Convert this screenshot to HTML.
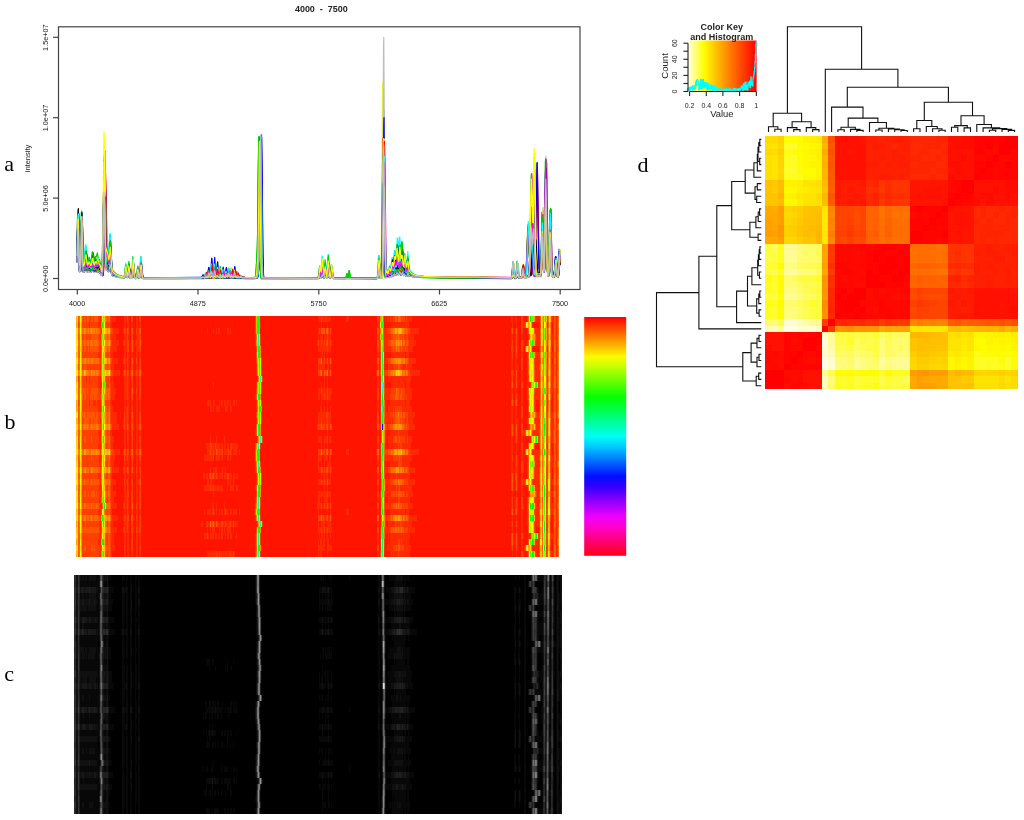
<!DOCTYPE html>
<html><head><meta charset="utf-8"><title>figure</title>
<style>
html,body{margin:0;padding:0;background:#fff;}
svg{display:block;will-change:transform;}
text{font-family:"Liberation Sans", sans-serif;fill:#222;}
.s{font-family:"Liberation Serif", serif;fill:#000;}
</style></head><body>
<svg width="1024" height="820" viewBox="0 0 1024 820">
<defs>
<linearGradient id="rb" x1="0" y1="0" x2="0" y2="1"><stop offset="0.0000" stop-color="#ff0000"/><stop offset="0.0417" stop-color="#ff3f00"/><stop offset="0.0833" stop-color="#ff7e00"/><stop offset="0.1250" stop-color="#ffbc00"/><stop offset="0.1667" stop-color="#fffb00"/><stop offset="0.2083" stop-color="#c4ff00"/><stop offset="0.2500" stop-color="#85ff00"/><stop offset="0.2917" stop-color="#46ff00"/><stop offset="0.3333" stop-color="#08ff00"/><stop offset="0.3750" stop-color="#00ff37"/><stop offset="0.4167" stop-color="#00ff76"/><stop offset="0.4583" stop-color="#00ffb5"/><stop offset="0.5000" stop-color="#00fff4"/><stop offset="0.5417" stop-color="#00ccff"/><stop offset="0.5833" stop-color="#008dff"/><stop offset="0.6250" stop-color="#004eff"/><stop offset="0.6667" stop-color="#000fff"/><stop offset="0.7083" stop-color="#2f00ff"/><stop offset="0.7500" stop-color="#6e00ff"/><stop offset="0.7917" stop-color="#ad00ff"/><stop offset="0.8333" stop-color="#ec00ff"/><stop offset="0.8750" stop-color="#ff00d3"/><stop offset="0.9167" stop-color="#ff0095"/><stop offset="0.9583" stop-color="#ff0056"/><stop offset="1.0000" stop-color="#ff0017"/></linearGradient>
<linearGradient id="key" x1="0" y1="0" x2="1" y2="0"><stop offset="0" stop-color="#ffffe8"/><stop offset="0.23" stop-color="#ffff00"/><stop offset="0.6" stop-color="#ff8000"/><stop offset="1" stop-color="#ff0000"/></linearGradient>
<clipPath id="ca"><rect x="58.5" y="26.8" width="521.5" height="262.7"/></clipPath>
</defs>
<rect width="1024" height="820" fill="#fff"/>
<g id="pa" fill="none" stroke-width="1.15" stroke-linejoin="round" clip-path="url(#ca)">
<polyline stroke="#000000" points="77.4,254.8 78.1,210 78.4,208.6 79.1,252.9 79.4,261.6 79.9,266.6 80.1,266.9 80.4,266.8 80.6,265.9 80.9,263.2 81.9,224.1 82.1,225.2 82.9,258.6 83.1,264.3 83.6,267.2 84.1,267 84.6,265.8 85.6,259.7 86.1,258.3 87.4,264.9 87.9,266 89.4,261.7 89.9,262.7 90.6,265.6 90.9,266 91.1,265.8 92.6,258.3 93.1,259.9 93.9,264.9 94.4,266.1 95.9,261 97.1,263.3 98.1,260.1 98.4,260 99.6,266 100.9,268.4 101.9,272.5 102.1,273 102.4,272.7 103.1,257.1 104.4,180.9 104.6,181.7 104.9,192.1 105.9,255.3 106.1,246.2 106.6,252.4 107.6,255.3 108.6,260.5 108.9,261.3 109.1,261.2 110.4,246.1 110.6,245.8 112.1,269.4 112.9,272 114.9,273.6 119.4,275.7 122.6,276.5 124.4,276.7 124.9,275.8 126.1,269 127.1,275.4 127.6,276.3 129.1,266.3 130.4,276.4 130.9,277.3 131.6,277.2 132.4,273.5 133.4,261.3 134.6,275.7 135.1,277.4 135.6,277.6 136.4,277.4 136.9,276.2 138.1,266.8 139.1,275.3 139.4,276.5 139.6,276.9 139.9,276.5 141.1,262.4 141.4,262.2 142.4,274.8 142.9,277.3 143.4,277.7 204.4,278.1 206.4,277.4 207.4,277.9 208.6,277.5 210.1,278.1 211.6,277.3 213.1,278.1 214.6,277.3 216.1,278 217.6,276.5 218.6,277.8 219.4,278.1 220.6,277.8 221.9,278.1 223.1,277.6 224.9,278.2 226.4,277.5 227.6,278.1 228.9,277.5 230.4,278.1 231.9,276.9 232.9,278 233.6,278.3 235.1,277.7 236.6,278.3 238.1,277.9 239.6,278.3 255.6,278.2 256.4,276.3 256.9,271.8 258.1,249.4 258.6,225.8 259.4,153.2 259.6,137.5 259.9,137.2 261.1,256.5 261.6,274.1 261.9,276.9 262.1,277.9 262.6,278.4 317.6,278.1 318.1,277.8 318.6,276.7 319.9,269.6 320.9,275.4 321.1,276.3 321.4,276.3 322.6,268.4 322.9,268.7 324.1,276.6 324.6,275.3 325.6,269.8 326.9,276.1 327.4,274.2 328.1,263.8 328.4,261.4 328.6,261.3 329.6,274 330.1,276.8 330.4,276.7 330.6,275.7 331.4,269.2 331.6,267.5 331.9,267.3 333.1,276.7 333.9,277.9 377.1,277.7 377.6,277.4 378.1,275.2 379.1,262.2 379.4,262 380.4,274.7 380.6,276.4 380.9,277.1 381.1,277.1 381.6,274.2 382.1,260.5 383.4,184.8 384.6,260.1 385.1,273.6 385.6,276.1 387.1,273.1 388.1,274.2 388.4,274 389.6,270.3 390.6,272.3 390.9,272.5 391.1,272.1 392.6,261.3 392.9,261.4 393.6,264.2 394.6,259.7 394.9,259.6 396.1,266.6 396.6,264 397.6,251.7 397.9,251.5 398.9,258.2 399.9,250.5 401.1,261.7 401.4,261.3 402.1,253 402.4,251.6 402.6,252.4 403.9,267.2 404.1,266.8 405.1,258.5 405.4,258.6 406.6,270.2 406.9,270.4 407.9,267.2 408.1,263.2 409.1,270.1 409.9,272.2 411.1,273.4 412.9,274.5 417.1,275.9 424.1,276.6 448.4,277.6 511.4,278.2 511.9,277.9 512.4,276 513.4,266.4 513.6,266.6 514.6,276.3 515.1,277.9 515.6,278.1 516.1,277.7 516.6,275.5 517.6,266.1 518.9,276.3 519.4,277.7 520.4,277.8 521.4,277.6 521.9,276.8 523.1,265 523.4,264.8 524.4,274.8 524.9,276.7 525.6,276.9 528.4,276.2 528.9,275.8 529.4,274 529.9,267 531.1,203.6 531.6,190.9 532.9,229 533.9,177.5 534.1,167.4 534.4,166.7 535.6,247.9 536.1,266.4 536.6,272.3 536.9,273.1 537.4,273.5 540.6,273 541.1,272.4 541.4,271.2 541.9,262.6 542.9,220.9 543.1,221 543.4,229 544.1,262.6 544.6,268.8 545.1,259.4 546.4,195.4 547.6,258.4 548.4,272.7 548.6,273.4 548.9,273.3 549.1,272.2 549.6,263 550.6,210.9 550.9,209.1 551.9,260.4 552.6,274.2 553.1,275.2 553.9,275.3 554.4,274.8 554.6,273.8 555.9,260.7 556.1,260.2 557.4,273.6 557.6,275 557.9,275.7 558.1,275.6 558.6,271.9 559.6,254.7 560.1,260.2"/>
<polyline stroke="#ff0000" points="77.5,255.9 78.3,212.3 78.5,211 79.3,254 79.5,262.5 80,267.4 80.3,267.6 80.5,267.5 80.8,266.6 81,263.7 82,222.2 82.3,223.4 83,258.8 83.3,264.8 83.8,267.9 84.3,267.9 84.8,267.2 86.3,261.2 86.8,262.2 88,267.5 88.5,267.4 89.8,264.8 90.8,266.5 91,266.8 91.3,266.6 92.8,259.7 93,259.9 94.3,265.7 94.5,265.7 95.5,263.4 96.8,266 97,266 98,262.5 98.3,262.1 98.5,262.4 99.5,265.7 100.3,266.1 100.8,267.2 102.3,274.2 102.8,275.3 103,275.5 103.3,275 103.8,269.8 104,262.8 105.5,171.9 106.3,195.8 107,243.6 107.5,255.2 108.5,262.1 109.3,264.1 110.5,254.6 110.8,254.5 112.3,270.8 112.8,272.4 113.8,273.4 116,274.7 118.8,275.8 122.5,276.7 124.5,276.9 125,275.9 126.3,268.1 127.3,275.3 127.8,276.5 129.3,267.5 130.5,276.7 131,277.5 131.5,277.6 132,277.1 132.3,276 133.5,263.1 134.8,276.1 135.3,277.6 135.8,277.8 136.5,277.7 137,276.6 138.3,268.7 139.3,275.9 139.5,277 139.8,277.3 140,276.9 141.3,264 141.5,263.8 142.5,275.3 143,277.6 143.5,278 191.3,278.3 201.5,278.2 203.3,277.8 204.5,278.1 205.3,277.8 206.3,276.7 207.5,277.7 208.8,275.7 210,277.7 210.5,278 211,277.8 212,276.4 213.3,277.4 213.8,276.3 214.5,273 214.8,272.9 215.8,277 216.3,277.7 216.8,277.3 217.8,275.1 218.8,277.1 219.3,277.6 220.3,277 221.5,277.8 222,277.7 223.5,275.2 224.8,277.5 225.3,276.8 226.3,273.9 227.3,277 227.8,277.7 228.3,277.4 229.3,275.2 229.5,275.2 230.5,277.4 231,277.7 232.3,275.9 232.5,275.8 233.5,277.5 234,277.7 235.3,276.1 235.5,276.1 236.5,277.1 237.5,275.6 237.8,275.6 238.8,277.5 239.3,277.8 241,276.8 242.5,277.8 254.5,277.9 255.8,277.7 256.5,275.7 257,271 258.3,248.2 258.8,225.3 259.5,154.9 259.8,139.6 260,139.4 261.3,256.3 261.8,273.6 262,276.3 262.3,277.3 262.8,277.8 317.8,277.6 318.3,277.4 318.8,276.4 320,270.6 321,275.7 321.5,276.7 322,275 323,268 323.3,268.4 324,274 324.3,275.2 324.5,275.2 325.8,266.7 327.3,276.2 327.8,274.2 328.8,264.7 329,265.1 330.3,276.2 330.5,276.3 330.8,275.6 331.5,269.8 331.8,268.4 332,268.2 333.3,276.6 334,277.7 377.3,278 377.8,277.7 378.3,275.8 379.3,264.6 379.5,264.3 380.5,275.4 381,277.6 381.3,277.9 381.8,277.8 382.3,276.2 382.8,266.9 384,175.7 384.3,171.4 385.5,260.3 386,273.8 386.5,275.8 387.5,274.4 388.5,274.9 389.8,271.1 390,271 390.3,271.4 391,273.5 391.3,273.6 391.5,273.3 392.8,268.5 393,268.5 393.8,269.9 394,269.6 395.3,263.4 396.3,267.4 396.5,267.4 397.8,260.9 398.8,265.6 399,265.7 399.8,261.7 400,260.9 400.3,261.4 401,266.7 401.5,268.3 402.5,264 402.8,263.9 404,270.7 404.3,270.8 404.5,270.1 405.3,266.5 405.5,266.3 406.8,271.8 407.8,269.1 408,269.3 408.3,266.1 409.3,271.9 410,273.4 411.8,274.7 413.8,275.6 418.8,276.6 448.5,277.6 475.8,277.4 511.5,277.6 512,277.4 512.5,276.1 513.5,269.4 513.8,269.6 514.8,276.2 515.3,277.3 515.8,277.5 516.3,277.2 516.8,275.7 517.8,269.2 519,276.2 519.5,277.1 520.8,277.2 521.5,277 522,276.2 523.3,264.8 523.5,264.5 524.5,274.3 525,276.2 525.8,276.4 528.5,275.7 529,275.3 529.5,273.2 530,264.8 531.5,176.9 531.8,173.6 532,179.4 533,222 534.3,157.5 534.5,156.7 535.8,245.3 536.3,265.4 536.8,271.8 537.3,273.1 538,273.2 540.5,272.7 541,271.2 541.5,264 542.5,233.3 542.8,234.5 543.8,265.7 544,268.7 544.3,268.5 544.8,256.3 546,188.3 547.3,258.5 548,272.5 548.3,273.1 548.5,273 548.8,272 549.3,263.6 550.3,221.5 550.5,221.4 550.8,229.2 551.5,264 551.8,269.9 552.3,274.1 552.8,274.8 553.5,275.1 554,275.1 554.5,274.7 555,272.7 556,264.1 556.3,263.7 557.5,274 558,275.6 558.3,275.3 558.8,271 559.8,251.7 560.3,257.8"/>
<polyline stroke="#00cd00" points="77.1,259.6 77.8,223.3 78.1,222.2 79.1,265.2 79.6,269.2 79.8,269.4 80.1,269.3 80.3,268.3 80.8,257.6 81.6,219.5 81.8,220.7 82.6,259.7 82.8,266.2 83.3,269.7 83.8,269.7 84.3,269.2 85.8,264.3 86.3,265.1 87.6,269.2 88.1,268.9 88.8,267.3 89.3,267.1 90.8,269.8 91.3,269.6 92.8,266.1 94.3,268.8 95.3,267.3 95.6,267.2 96.6,267.7 97.6,266.2 97.8,266.3 99.1,269.4 100.1,269.9 100.3,270.3 101.6,274.4 101.8,274.7 102.1,274.1 102.8,259.2 104.1,188.2 104.3,189.1 104.6,198.9 105.6,259.1 105.8,254.3 106.3,260.4 108.3,266.5 108.8,267.2 110.1,258.9 110.3,258.8 111.8,272.6 112.3,274 113.3,274.8 118.3,276.8 124.1,277.8 124.6,277.2 125.8,272.1 126.8,276.8 127.1,277.4 127.3,277.4 128.8,267.7 130.1,277.4 130.6,278.3 131.3,278.3 132.1,275.1 133.1,264.9 134.6,278 135.3,278.6 136.3,278.2 137.8,270.7 138.8,276.9 139.3,278.1 139.8,276.3 140.8,264.5 141.1,264.2 142.1,276 142.6,278.3 143.1,278.7 203.8,278.7 205.6,278.2 207.1,278.5 208.3,277.2 209.6,278.5 210.1,278.6 210.8,278.2 211.8,276.7 213.1,278.2 214.3,276.7 215.6,278.3 217.1,277.8 218.6,278.5 220.1,277.6 221.8,278.5 223.1,278.2 224.6,278.5 225.8,277.9 227.1,278.4 228.8,278 230.3,278.4 231.8,277.6 233.3,278.4 234.8,277.4 236.3,278.4 237.6,278 239.1,278.4 240.6,278.1 242.1,278.4 245.3,278.4 254.1,278.4 255.1,278.1 255.8,276.4 256.3,273.2 257.3,259.3 257.8,233.3 258.6,154.6 258.8,137.5 259.1,136.4 260.3,256.1 260.8,274 261.1,276.7 261.3,277.8 261.8,278.3 317.8,278.3 318.3,278.1 318.8,277.4 319.8,273.8 320.1,273.6 321.1,276.2 321.3,275.7 322.1,270.4 322.3,269.1 322.6,269.1 323.6,276.1 324.1,277.4 325.3,273 325.6,272.9 326.6,276.8 326.8,277.4 327.1,277.4 328.3,271.6 328.6,271.5 329.8,277 330.3,275.9 331.3,271.2 332.6,277.4 333.1,278.3 345.6,278.5 346.1,277.9 347.1,273.7 347.8,276.9 348.1,277.4 348.3,277 349.3,270.6 350.3,277.7 350.8,278.5 376.8,278.7 377.3,278.5 377.8,276.9 378.8,267.2 379.1,267 380.1,276.5 380.6,277.8 381.1,273.8 381.6,255.3 382.3,189.4 382.8,167.8 384.1,260.6 384.6,275 384.8,277.1 385.3,278 387.1,275.2 388.3,276.4 389.6,273.3 389.8,273.1 390.6,273.6 390.8,273.5 391.8,271.3 392.8,273.4 393.1,273.6 393.3,273.4 394.6,269.4 395.6,271.1 395.8,271.1 397.1,264.3 397.3,264.2 398.1,268.5 398.6,269.7 399.8,261.1 400.1,261.3 401.1,267.6 401.3,267.7 401.8,266.5 402.1,266.4 403.6,273.2 404.8,270 406.1,273.3 407.1,271.3 407.6,272.2 407.8,269.8 408.6,273.3 409.6,274.8 412.8,276.3 417.1,277.2 422.8,277.6 447.3,278.1 475.6,277.8 511.1,278.1 511.6,278 512.1,277.1 513.1,272.5 513.3,272.6 514.3,277.2 514.8,277.9 515.3,278 515.8,277.8 516.3,276.8 517.3,272.3 518.6,277.1 519.1,277.7 520.1,277.7 521.1,277.5 521.6,276.8 522.8,266.5 523.1,266.3 524.1,275.1 524.6,276.7 525.3,276.9 528.3,276 528.8,275.1 529.1,273.6 529.6,265.2 530.8,189.1 531.3,174 532.6,228.5 532.8,227.4 533.1,219 533.8,185.6 534.1,185.1 535.3,252.5 536.1,271 536.3,272.6 536.8,273.6 540.6,273.1 541.1,272 541.6,265.5 542.8,223.5 543.8,261.1 544.3,268.4 544.6,265.8 546.1,165.9 546.3,167.4 546.6,182.1 547.3,247.8 548.1,271.9 548.3,273.3 548.6,273.7 548.8,273 549.3,265.7 550.6,208.4 551.8,266.5 552.3,274.1 552.6,275.1 553.3,275.7 553.8,275.6 554.3,274.4 555.6,263 555.8,262.6 557.1,274.3 557.3,275.6 557.6,276.2 557.8,276.1 558.3,273.1 559.3,259.1 559.8,263.6"/>
<polyline stroke="#0000ff" points="77.3,260.3 78.1,217.4 78.3,216 79.1,258.3 79.3,266.6 79.8,271.3 80.1,271.6 80.3,271.5 80.6,270.6 80.8,268 81.8,230.1 82.1,231.1 82.8,263.5 83.1,268.9 83.6,271.8 84.1,271.9 84.8,271.7 86.3,270.3 88.1,271.7 89.6,270.6 90.8,271.7 91.3,271.7 92.8,270.2 94.3,271.6 95.6,270.8 96.8,271.3 98.1,270.6 100.3,272.6 102.1,275.7 102.3,275.9 102.6,275.7 103.1,271.7 103.6,254.9 104.6,167.1 104.8,152.7 105.1,151.1 106.3,243.9 106.8,263.1 107.3,268.6 107.8,270.1 108.8,271.5 109.3,270.4 110.1,265.3 110.6,263.8 111.8,273 112.6,275.1 114.1,275.7 117.3,276.6 124.3,277.3 124.8,276.7 126.1,272.1 127.1,276.3 127.6,276.9 129.1,268.8 130.3,276.8 130.8,277.6 131.3,277.6 131.8,277.2 132.1,276.5 133.3,267.5 134.8,277.3 135.6,277.8 136.6,277.5 138.1,272.8 139.1,276.7 139.6,277.4 140.1,276.1 141.1,267.4 141.3,267.2 142.3,275.8 142.8,277.6 143.3,277.8 199.3,278.3 203.1,278 204.3,278.3 206.1,277.2 207.3,278 208.6,276.2 209.8,278 210.3,278.2 211.8,276.7 213.1,277.9 214.6,275.1 215.6,277.7 216.3,278.2 217.8,276.6 219.1,277.8 220.3,276.4 221.3,277.9 221.8,278.2 223.1,277.9 224.8,278.2 226.3,276.9 227.3,278 228.8,277.5 230.1,278.2 231.6,277.4 233.3,278.3 234.6,277.8 236.3,278.3 237.6,277.8 239.1,278.3 240.3,277.9 242.1,278.4 256.6,278.2 257.3,276.3 257.8,271.9 259.1,249.9 259.6,226.5 260.3,154.4 260.6,138.8 260.8,138.4 262.1,256.6 262.6,274.1 262.8,276.8 263.3,278.2 317.8,277.9 318.8,277.6 319.8,276.4 321.3,277.5 322.8,274.3 324.3,277.4 324.8,277 325.8,274.8 326.8,276.8 327.3,277.2 328.6,274.6 328.8,274.6 330.1,277.3 331.6,276 332.6,277.4 333.6,277.8 377.1,277.9 377.6,277.7 378.1,276.7 379.1,270.5 379.3,270.4 380.3,276.5 380.8,277.7 381.3,277.7 381.8,275.7 382.1,271.8 382.6,247 383.8,110.6 385.1,246.9 385.6,271.6 385.8,275.4 386.3,277.1 387.3,276.8 388.3,277 389.6,276.2 391.1,276.6 392.3,275.2 393.6,275.2 394.6,273.8 395.8,275 397.3,272.1 398.6,274.5 398.8,274.5 399.8,272.2 400.1,272.2 401.3,274.9 401.8,274.3 402.8,271.9 403.8,274.1 405.1,274.4 406.3,276.4 407.3,275.8 407.8,275.9 408.1,273.8 409.1,275.2 410.8,276 414.6,276.7 419.3,277.1 450.8,277.8 511.1,278.1 511.8,277.7 512.3,275.4 513.3,264.1 513.6,264.3 514.6,275.8 515.1,277.7 515.6,277.9 516.1,277.4 516.6,274.9 517.6,263.7 518.8,275.8 519.3,277.5 521.1,277.5 521.8,276.7 523.1,266.5 523.3,266.2 524.3,274.9 524.8,276.5 525.3,276.7 526.6,276.4 531.3,274.8 531.8,273.8 532.1,272.3 532.6,264.1 534.1,188 534.3,187.1 534.6,194.1 535.3,234.8 535.6,242.4 535.8,242.6 537.3,162.7 538.8,253.7 539.3,267.8 539.8,271.8 540.1,272.3 540.6,272.4 541.1,271.5 541.6,265.4 542.8,222 543.8,259.3 544.1,265.8 544.3,268.5 544.6,267.6 545.1,254.3 546.1,201.2 546.3,201.1 546.6,210 547.6,263.6 547.8,269 548.3,272.8 548.6,273.1 548.8,272.6 549.3,267.4 550.6,221.4 551.8,266.9 552.3,273.5 552.6,274.4 553.1,274.9 553.8,275 554.3,274.4 554.8,271.4 555.8,258.7 556.1,258.1 557.3,273 557.6,274.6 557.8,275.4 558.1,275.2 558.6,271 559.6,251.5 560.1,257.7"/>
<polyline stroke="#00ffff" points="77.7,259 78.4,221.9 78.7,220.8 79.4,257.4 79.7,264.7 80.2,268.8 80.4,269 80.7,268.9 80.9,268 81.2,265 82.2,223.3 82.4,224.5 83.2,260.1 83.4,266.1 83.9,269.2 84.4,269.2 84.9,268.2 86.2,264 86.7,264.6 87.9,268.7 88.4,268.6 89.4,267.2 91.2,269.6 91.9,269.2 92.9,266.7 93.4,266.2 94.4,267.5 94.7,267.5 95.7,266.2 95.9,266.3 96.7,267.9 97.2,268.3 98.4,266.4 99.7,269.2 100.9,270.1 102.2,273.7 102.4,274 102.7,273.4 103.4,256.8 104.7,178.2 104.9,179.1 105.2,190.1 106.2,256.9 106.4,252.9 106.9,259.8 109.2,266.5 109.4,266.5 109.7,265.8 110.7,257.6 110.9,257.4 112.4,272.1 112.9,273.5 113.7,274.1 115.9,275.3 118.7,276.2 122.4,277.1 124.7,277.2 125.2,276.4 126.4,270.2 127.4,276 127.9,277 129.4,269.8 130.7,277.1 131.2,277.8 131.7,277.8 132.2,277.3 132.4,276.3 133.7,263.4 134.9,276.4 135.4,277.8 135.9,278 136.7,277.9 137.2,276.9 138.4,269.4 139.4,276.2 139.7,277.2 139.9,277.5 140.2,277.1 141.4,264.7 141.7,264.5 142.7,275.6 143.2,277.8 143.7,278.2 201.9,278.5 204.9,278.4 206.2,277.7 207.9,278.4 209.4,277.4 210.7,278.3 212.2,277.5 213.4,278.3 214.9,277.8 216.4,278.4 218.2,277.6 219.7,278.3 221.2,278.1 222.7,278.3 223.9,277.6 224.9,278.1 226.2,277.3 227.9,278.3 228.4,278.2 229.7,277.1 231.2,278.2 232.4,277.2 234.2,278.2 235.4,277.7 236.9,278.2 238.4,277.8 239.7,278.1 240.9,277.9 242.4,278.2 256.9,278 257.7,276.1 258.2,271.7 259.4,249.6 259.9,226.1 260.7,153.7 260.9,138.1 261.2,137.8 262.4,256.3 262.9,273.9 263.2,276.6 263.7,278 318.2,277.9 318.9,277.4 320.2,274 320.4,274 321.4,276.8 321.7,276.8 323.2,269.4 324.4,276.6 324.7,276.9 324.9,276.6 325.9,272.2 326.2,271.9 327.2,276.2 327.4,276.8 327.7,276.8 329.2,267.3 330.7,276.7 331.2,275.8 332.2,270.9 333.4,276.8 334.2,277.9 377.4,278.2 377.9,278 378.4,276.4 379.4,266.7 379.7,266.5 380.7,276 381.2,277.9 381.7,278 382.2,276.2 382.4,272.7 382.9,250.5 384.2,128.5 385.4,250.2 385.9,272.1 386.4,276.3 387.7,274.5 388.4,275.3 388.9,275.3 389.9,273.1 390.2,273.1 390.9,274.5 391.4,274.6 392.7,269.9 392.9,269.6 393.9,270.9 394.9,268 395.2,268 395.9,270.7 396.4,271.5 396.9,269.9 397.7,264 397.9,262.8 398.2,262.7 398.9,265.9 399.2,266.1 399.9,263.3 400.2,263.2 401.4,270.6 401.7,270.8 401.9,269.9 402.7,264.1 402.9,262.9 403.2,262.9 404.2,270.2 404.4,271 404.7,270.9 405.4,269.6 406.7,273.7 406.9,273.7 407.7,272.7 408.2,273.4 408.4,270.6 409.2,273.2 410.4,274.6 413.9,276.1 418.2,276.9 448.9,277.8 475.9,277.7 511.7,277.9 512.2,277.7 512.7,276.8 513.7,272.3 513.9,272.4 514.9,276.9 515.4,277.7 515.9,277.8 516.4,277.6 516.9,276.6 517.9,272.1 519.2,276.9 519.7,277.5 520.2,277.6 521.7,277.4 522.2,277.1 523.4,271.8 523.7,271.7 524.7,276.1 525.2,276.9 528.4,276.4 528.9,276.1 529.4,274.7 529.9,269.9 531.4,218.3 531.9,210.3 533.2,237.4 533.4,237.6 534.2,227.5 534.4,227.4 535.7,262.4 536.4,273 536.7,274 537.2,274.5 540.9,274.1 541.4,273.1 541.9,267.1 543.2,227.1 544.2,262.4 544.7,269.3 544.9,266.5 546.4,159.8 546.7,160.8 546.9,176 547.9,260.3 548.4,272.3 548.7,273.9 548.9,274.4 549.2,274.1 549.7,269.9 550.9,235.1 552.2,270.1 552.7,274.9 552.9,275.5 553.4,275.8 554.2,275.9 554.7,275.5 555.2,273.2 556.2,263.9 556.4,263.4 557.7,274.4 558.2,276.1 558.4,275.8 558.9,271.8 559.9,253.2 560.4,259.1"/>
<polyline stroke="#ff00ff" points="77.7,261.4 78.4,223.9 78.7,222.8 79.7,267 80.2,271.1 80.4,271.4 80.7,271.2 80.9,270.1 81.4,258.8 82.2,218.8 82.4,220.1 83.2,261 83.4,267.9 83.9,271.5 84.4,271.6 84.9,271.4 86.4,269.6 87.7,271.2 88.2,271.5 89.7,270.3 91.4,271.7 92.9,270.7 94.7,271.7 95.9,271 97.2,271.1 98.2,270.5 99.7,272.2 100.9,273.1 101.9,274.8 102.4,275 102.9,271.9 103.4,258.4 104.7,184.9 104.9,185.9 105.2,196.3 106.2,260 107.2,268.6 108.9,271.4 109.4,271.3 110.7,264.3 110.9,264.1 112.2,273.2 112.7,274.8 113.2,275.3 118.4,276.8 124.7,277.4 125.2,276.7 126.4,271.5 127.4,276.3 127.9,277.1 129.4,269.2 130.4,276 130.9,277.6 131.4,277.9 131.9,277.8 132.4,277 133.7,270.1 134.9,277.1 135.4,277.9 135.9,278 136.7,277.9 137.2,277.2 138.4,271.8 139.4,276.7 139.7,277.4 139.9,277.7 140.2,277.5 141.4,271 141.7,270.9 142.7,276.7 143.2,277.9 143.9,278.1 204.9,278.2 206.7,277.7 207.7,277.9 208.9,277.1 209.9,278 210.4,278.1 211.9,276.3 213.2,277.9 214.7,277.1 215.7,277.9 216.4,278.1 217.9,277.6 219.7,278 220.9,277.1 222.4,278 223.9,277 225.2,277.9 226.4,277.6 227.9,278 229.2,277.2 230.7,277.9 231.9,276.8 233.7,278 234.9,277.7 236.9,278 238.4,277.3 239.7,277.9 242.4,278 256.4,277.7 257.2,276.3 257.7,272.8 258.9,254 259.4,230.4 260.2,158.2 260.4,142.6 260.7,142 261.9,256.7 262.4,273.7 262.7,276.3 262.9,277.4 263.4,277.8 318.7,277.7 319.4,277.4 320.7,276.2 321.9,277.3 323.4,274.5 324.4,276.5 324.7,276.6 325.7,274.6 325.9,274.6 326.9,277 327.4,277.2 328.7,274.3 329.9,277.1 330.4,277.6 330.9,277.3 331.9,275.7 332.4,276.1 333.2,277.4 334.2,277.8 377.4,278.1 377.9,278 378.4,276.9 379.4,270.8 379.7,270.7 380.7,276.7 380.9,277.5 381.4,277.9 381.9,275.9 382.4,264.2 383.7,148.4 383.9,143 385.2,256.3 385.7,273.9 385.9,276.5 386.4,277.7 387.7,277.1 388.9,277.2 389.9,276.6 391.2,276.9 392.7,275.5 393.9,275.8 395.2,273.4 395.4,273.4 396.7,275.3 397.9,273.5 398.9,274.3 399.2,274.2 400.2,272.5 401.4,274.8 401.9,274.5 402.7,273 402.9,273.1 404.2,275.4 405.4,273.6 406.4,275.8 406.9,276.2 407.7,275.6 408.2,275.8 408.4,273.8 409.2,275.1 410.4,275.9 413.9,276.7 418.4,277.1 449.7,277.6 475.9,277.4 511.7,277.6 512.2,277.4 512.7,276 513.7,268.9 513.9,269 514.9,276.2 515.4,277.4 515.9,277.5 516.4,277.2 516.9,275.6 517.9,268.6 519.2,276.2 519.7,277.2 521.4,277.2 522.2,276.8 523.4,270.9 523.7,270.8 524.7,275.7 525.2,276.6 526.2,276.6 528.9,276 529.4,275.1 529.7,273.8 530.2,265.8 531.7,182.7 531.9,179.6 532.2,185.1 533.2,227 534.4,171.6 534.7,170.9 536.4,267.2 536.7,271.1 537.2,273.8 537.7,274.2 540.9,273.8 541.4,273 541.9,267.4 543.2,210.4 543.4,212.2 544.4,262.6 544.7,267.7 544.9,267.9 545.4,252.3 546.7,163.3 547.9,255 548.7,273.2 548.9,274.1 549.2,274.1 549.7,271.2 550.9,234.2 551.2,234.1 551.4,240.2 552.2,267.2 552.4,271.8 552.9,275.1 553.4,275.6 554.2,275.7 554.7,275.2 554.9,274.4 556.2,263.2 556.4,262.7 557.7,274.1 558.2,275.9 558.4,275.6 558.9,271.1 559.9,250.9 560.4,257.3"/>
<polyline stroke="#ffff00" points="76.9,262.5 77.7,228.2 77.9,227.2 78.9,267.6 79.4,271.4 79.7,271.6 79.9,271.5 80.2,270.5 80.7,260.7 81.4,225.7 81.7,226.9 82.4,262.6 82.7,268.6 83.2,271.8 83.7,272 84.4,271.6 85.9,269.3 87.4,271.3 88.9,270.9 90.4,272.2 91.2,272 92.4,270.3 92.9,270.4 94.2,271.7 96.2,271.8 97.4,270.8 99.9,273.2 101.2,275.3 101.4,275.4 101.7,275 102.2,269.7 102.7,248.1 103.9,131.8 104.2,133.4 104.4,149.9 105.4,250.9 105.9,263.4 106.4,268.6 106.9,269.8 108.4,271.9 108.9,271 109.7,266.2 110.2,264.8 111.4,273.5 111.9,275.1 112.4,275.7 117.4,277.1 123.9,277.8 124.4,277.3 125.7,273.5 126.7,277 127.2,277.5 128.7,271.9 129.9,277.5 130.4,278 130.9,278.1 131.7,277.2 132.9,270.2 134.4,277.8 135.2,278.2 136.2,277.9 137.7,272.7 138.7,277 139.2,277.8 139.7,276.6 140.7,268.6 140.9,268.4 141.9,276.4 142.4,278 142.9,278.2 200.7,277.9 203.9,277.8 205.4,277.3 206.9,277.8 207.7,277.5 208.7,276.3 209.9,277.5 211.2,277.3 212.7,277.7 213.4,277.3 214.4,275.7 215.7,277.3 216.2,277.2 217.2,276.3 218.7,277.6 220.4,276.8 221.7,277.6 224.4,277.5 225.7,277 226.9,277.5 228.4,276.1 229.9,277.5 231.2,276.5 232.7,277.5 234.2,277 235.9,277.6 237.4,277.3 238.9,277.6 240.4,277.4 241.7,277.6 253.9,277.6 254.9,277.4 255.7,275.3 256.2,271.5 257.2,257.1 257.7,233 258.4,159.7 258.7,143.8 258.9,143 260.2,256.6 260.7,273.5 260.9,276.1 261.4,277.5 317.4,278 318.4,277.6 319.4,276.1 320.4,277.1 320.9,277.2 322.2,274.1 323.4,277.5 323.9,277.8 325.4,276 326.4,277.4 326.9,277.4 328.2,275 329.7,277.8 330.2,277.5 331.2,276 332.4,277.8 333.2,278.1 376.7,278.3 377.2,278.1 377.7,277.1 378.7,270.9 378.9,270.8 380.2,277.3 380.7,275 381.2,258 382.4,90.3 382.7,82.5 383.9,246.6 384.4,272.2 384.7,276 385.2,277.8 385.7,277.9 386.9,277 388.2,277.2 389.4,276.2 390.7,276.7 391.9,275.6 393.2,275.8 394.7,273 395.7,274.7 396.2,274.5 397.2,273.1 398.2,274.6 398.4,274.5 399.7,271.7 400.9,274.7 401.2,274.8 402.2,273.5 403.4,275.6 403.9,275.2 404.9,273.2 406.2,275.5 407.2,275.1 407.4,275.2 407.7,273.3 408.4,274.8 409.4,275.6 412.9,276.4 417.2,276.8 449.2,277.2 476.4,277 510.9,277.6 511.4,277.5 511.9,276.9 512.9,273.9 513.2,274 514.2,277 514.7,277.5 515.2,277.6 515.7,277.5 516.2,276.8 517.2,273.8 518.7,277.4 520.4,277.5 521.2,277.2 521.7,275.5 522.7,265.1 522.9,264.8 523.9,275 524.4,276.9 524.9,277.1 525.7,275.4 526.2,270.4 527.9,221.2 528.2,221.6 528.4,226 529.7,258.7 530.2,252.3 530.9,229.4 531.2,226.2 531.4,227.7 532.7,266.8 533.4,275.3 533.7,276 534.2,276.3 540.4,275.8 540.9,274.5 541.4,266.5 542.4,220.6 542.7,218.5 543.7,262.8 543.9,269.4 544.2,271.8 544.4,270.5 545.9,205 546.4,217 547.2,260 547.9,275 548.2,275.9 548.4,276 548.7,275.5 549.2,270.4 550.4,233.2 551.4,265.6 552.2,276.2 552.7,276.9 553.4,277 554.2,275.6 555.2,266.2 555.7,263.7 556.9,275 557.4,276.7 557.7,276.5 558.2,272.4 559.2,254 559.7,259.8"/>
<polyline stroke="#bebebe" points="77,255.8 77.8,220.1 78,219.1 78.8,254.3 79,261.3 79.5,265.3 80,265.4 80.3,264.5 80.5,261.9 81.5,223.4 81.8,224.5 82.5,257.4 82.8,263 83.3,265.9 83.8,265.8 84.3,264.6 85.8,254.7 86,254.9 86.3,256 87.3,262.5 87.5,262.7 87.8,262.1 88.5,259 88.8,258.8 90,264.6 90.5,265.9 90.8,265.9 91.3,264.8 92.5,258.3 92.8,258.2 93,259 94,263.1 95.3,261.7 96,262.9 96.3,262.9 97.3,257.9 97.5,257 97.8,256.9 99,262.8 99.3,262.9 99.8,262.5 100.3,263.6 101.5,271.9 101.8,272.6 102,272.3 102.8,255.1 104,171.2 104.3,172 104.5,183.4 105.5,252.6 105.8,241.7 106.3,248.4 107.3,251.6 108.3,257.9 108.8,259.4 109.3,256.3 110,247.1 110.3,246.9 111.8,268.8 112.5,271.3 115,273.6 119.3,275.8 122.5,276.7 124,276.8 124.5,275.9 125.8,268.5 126.8,275.4 127,276.4 127.3,276.4 128.8,264.4 130,276.5 130.5,277.6 131.3,277.6 132,274 133,262.5 134.5,277.3 135.3,278 136.3,277.6 137.8,269.9 138.8,276.3 139.3,277.5 139.8,275.3 140.8,260.9 141,260.6 142,274.9 142.5,277.7 143,278.2 194,278.6 201,278.6 202.5,278.4 204,278.6 205.5,278.3 207,278.6 207.8,278.4 208.8,277.6 210,278.2 211,277.4 212.5,278.5 214,278 215.5,278.5 217.3,278 218.5,278.5 220,278.2 221.3,278.5 222.8,277.8 224.3,278.5 225.8,277.9 227.3,278.5 228.8,277.9 230,278.4 231.5,278 233,278.5 235,277.9 236.3,278.4 237.5,277.9 239,278.5 240.5,278.2 242.3,278.5 255.8,278.2 256.5,276.6 257,272.7 258.3,252.5 258.8,229.5 259.5,159 259.8,143.7 260,143.3 261.3,257.3 261.8,274.2 262,276.8 262.5,278.2 317.5,278 318,277.6 318.5,275.6 319.3,268.3 319.8,266 320.8,273.8 321,273.8 322.3,261.3 323.5,274.6 323.8,275 324,273.9 325,265.8 326.5,276.7 326.8,276.6 327,275.5 328.3,264.6 329.5,276 329.8,276.8 330,276.7 331.5,264.3 332.8,275.9 333.3,277.7 333.8,278 376.8,278.3 377.3,277.9 377.8,275.4 378.8,260.6 379,260.3 380,274.8 380.5,277.7 381,278 381.5,276.8 381.8,274.1 382.3,253.2 383.5,46.8 383.8,37.2 385,238.5 385.5,269.4 386,274.3 387,271 388.3,273.3 389.5,269.3 389.8,269.4 390.5,271.1 390.8,271 392,264.2 392.3,264 393,266.3 393.3,266.4 394.5,256.1 394.8,256 395.5,260.8 395.8,261.1 397,250.1 398.3,261.5 398.8,258.5 399.5,249.2 399.8,248.9 400.8,259.5 401,259.5 402,249.8 403.3,263.4 403.5,263.9 404.5,258.4 406,270.9 406.3,271.1 407,268.5 407.3,268.1 407.5,268.5 407.8,264.4 408.8,270.5 409.5,272.2 411,273.6 412.8,274.8 417,276.4 424.5,277.2 447,278 511,278.1 511.5,277.7 512,275.3 513,263.5 513.3,263.8 514.3,275.7 514.8,277.7 515.3,278 515.8,277.5 516.3,274.8 517.3,263.3 518.5,275.9 519,277.6 520.8,277.8 521.5,277.1 522.8,268.5 523,268.3 524,275.7 524.5,277.1 525.3,277.3 528.3,276.8 529,276.5 529.5,275.8 530.3,272 532,246.8 532.3,246.1 532.5,247.3 533.8,260.3 535,242.4 535.3,241.7 537,272.6 537.8,275 540.3,274.8 540.8,272.9 541.3,263.1 542.3,219.6 542.5,220.9 543.5,264.8 543.8,269.2 544,269 544.3,263.8 545.8,156.1 547,254 547.8,273.9 548,274.9 548.3,274.9 548.8,271.2 550,222.3 550.3,221.9 551.3,265 551.5,271.2 552,275.6 552.5,276.3 553.3,276.4 553.8,276.2 554,275.7 554.5,273 555.5,261.4 555.8,260.8 557,274.2 557.5,276.3 557.8,276 558.3,271.5 559.3,251.2 559.8,257.6"/>
<polyline stroke="#000000" points="76.9,262 77.6,225.6 77.9,224.4 78.6,260.3 78.9,267.4 79.4,271.4 79.6,271.7 79.9,271.5 80.1,270.6 80.4,267.8 81.4,227.9 81.6,229 82.4,263.1 82.6,268.8 83.1,271.8 83.6,272 84.4,271.9 85.6,270.1 86.1,269.9 87.4,271.5 87.9,271.6 88.9,271.1 90.4,272.1 90.9,272 92.1,270.7 92.6,270.9 93.9,272.1 95.4,271 96.4,271.3 97.6,271 98.9,272.5 100.1,273.2 101.6,275.4 102.1,272.9 102.6,261.6 103.9,201.9 104.1,203.2 104.4,212 105.4,263.8 105.6,262.9 105.9,266.5 106.4,269.1 108.4,271.9 108.9,271 109.6,266.1 110.1,264.6 111.4,273.5 111.9,275.2 112.6,275.8 117.9,277.2 123.9,277.8 124.4,277.1 125.6,271.7 126.6,276.7 127.1,277.4 128.6,269.6 129.9,277.4 130.4,278.1 131.1,278.1 131.9,275.4 132.9,266.6 134.1,277 134.6,278.2 135.1,278.3 135.9,278.3 136.4,277.6 137.6,272.4 138.6,277.1 138.9,277.8 139.1,278 139.4,277.7 140.6,269.4 140.9,269.3 141.9,276.7 142.4,278.2 142.9,278.4 197.6,278.4 200.9,278.4 202.4,277.8 204.1,278.3 205.6,277.3 207.1,278.1 208.6,275.4 209.9,277.6 211.1,275.4 212.1,277.5 212.9,278.1 213.4,278 214.4,276.6 214.6,276.5 215.6,277.3 216.9,274.9 217.9,277.5 218.6,278.1 220.1,277.5 221.6,277.9 222.9,276.3 224.1,277.8 224.6,277.9 225.9,276.1 227.4,277.8 228.6,275.8 228.9,275.9 229.9,277.7 230.4,277.9 231.6,277.2 233.1,277.8 234.1,277 235.9,278 236.6,277.9 237.6,277.1 239.1,277.9 240.4,277.2 241.9,278 254.6,278 255.6,277.8 256.4,275.7 256.9,271 258.1,248.1 258.6,225.7 259.4,156.6 259.6,141.6 259.9,141.5 261.1,256.8 261.6,273.8 261.9,276.5 262.1,277.5 262.6,277.9 317.6,278 318.4,277.8 319.6,276.4 320.9,277.2 321.9,275.5 322.1,275.5 323.1,277.5 323.9,277.9 325.4,275.5 326.6,277.5 327.1,277.4 328.4,273.8 329.9,277.7 330.4,277.5 331.4,275.7 331.9,276.1 332.6,277.7 333.4,278.1 376.6,278.5 377.1,278.3 377.6,277.3 378.6,271.1 378.9,271 380.1,277.9 380.6,278.4 381.4,278.3 381.9,277.1 382.1,274.7 382.6,259.4 383.9,175.4 385.1,259.2 385.6,274.1 386.1,276.9 386.9,276.7 387.9,277.5 388.4,277.5 389.6,276.3 390.6,276.5 391.9,274.6 393.1,275.8 394.4,274 395.4,275.1 395.6,275 396.9,272.2 397.9,274.3 398.1,274.3 399.4,270.9 400.6,274.8 400.9,274.9 401.1,274.4 402.1,271.1 403.6,275.4 404.6,273.8 404.9,273.8 405.9,275.8 406.1,276 406.9,275.5 407.4,275.9 407.6,274 408.4,275.4 409.4,276 412.6,276.8 416.4,277.3 448.1,277.7 475.1,277.5 510.9,277.8 511.4,277.3 511.9,274.8 512.9,262 513.1,262.2 514.1,275.2 514.6,277.4 515.1,277.7 515.6,277.1 516.1,274.2 517.1,261.7 518.4,275.4 518.9,277.3 519.4,277.5 520.6,277.4 521.4,276.7 522.6,267.4 522.9,267.2 523.9,275.1 524.4,276.6 524.9,276.7 525.6,275.1 526.1,270.7 527.9,227.3 528.1,227.6 528.4,231.4 529.1,252.4 529.6,259.3 530.1,252.5 530.9,230.3 531.1,227.2 531.4,228.6 532.6,265.7 533.4,273.8 533.6,274.4 534.1,274.6 539.9,273.7 540.4,272.9 540.9,267.7 542.1,216.1 542.4,218.1 543.4,263.8 543.6,268.1 543.9,267.9 544.4,251.8 545.6,164.6 546.9,255.6 547.6,273.1 547.9,273.9 548.1,273.8 548.6,269.4 549.9,215.3 550.1,215.5 550.4,224.7 551.1,263.8 551.4,270.3 551.9,274.9 552.4,275.6 553.1,275.8 553.6,275.6 553.9,275 554.4,271.6 555.4,257.2 555.6,256.5 556.9,273.2 557.1,275 557.4,275.9 557.6,275.8 558.1,272.2 559.1,255 559.6,260.4"/>
<polyline stroke="#ff0000" points="77.2,258 78,215.2 78.2,213.9 79,256.1 79.2,264.4 79.7,269.1 80,269.4 80.2,269.3 80.5,268.4 80.7,265.8 81.7,227.4 82,228.4 82.7,261.2 83,266.8 83.5,269.7 84.2,269.7 84.7,269 86.2,264.5 87.7,268.9 88.2,269 89,267.7 89.5,267.4 91,269.5 91.5,269 92.7,266.2 94,268.2 95.2,265.9 95.5,265.9 96.5,267.5 97.7,265.3 98.2,266 99.2,269.4 100.5,270.7 101.5,273.5 101.7,273.7 102,273.1 102.7,256.9 104,183.3 104.2,185 104.5,196.1 105.7,266.5 106,258.4 106.5,261 107.5,262.6 108.5,266 108.7,266.5 109,266.4 110.2,255.2 110.5,255 112,271.9 112.5,273.5 113.2,274.2 115.5,275.3 118.2,276.2 124.2,277.1 124.7,276.5 126,271.7 127,276.2 127.2,276.7 127.5,276.7 129,267.1 130.2,276.6 130.7,277.5 131.2,277.6 131.7,277.2 132,276.4 133.2,266.3 134.7,277.2 135.5,277.7 136.5,277.4 138,271 139,276.3 139.5,277.2 140,275.4 141,263.6 141.2,263.3 142.2,275 142.7,277.3 143.2,277.7 201,277.7 203,277.5 204.5,277.7 206,277.5 207.2,277.6 208,277.4 209,276.2 210.2,277.3 211.5,276.3 212.7,277.6 213.2,277.4 214,276.3 214.5,276 215.7,277.5 217,276.7 218.7,277.7 219.5,277.5 220.5,276.7 221.7,277.5 223,276.7 224.5,277.7 226,276.6 227.2,277.7 229,277.3 230.5,277.8 232.2,276.6 233.5,277.7 235,276.7 236.5,277.8 237.5,277.6 239,277.9 240.2,277.7 242,278 255.5,278 256.2,276.7 256.7,273.8 258,256.4 258.5,232 259.2,157.5 259.5,141.4 259.7,140.6 261,256.7 261.5,274 261.7,276.6 262.2,278 317.5,278.2 318,278 318.5,277.1 319.5,273.1 319.7,273 320,273.6 320.7,276.8 321,277.1 321.2,276.8 322.5,270.4 323.7,276.9 324.2,277.7 324.7,276.7 325.7,272.6 326,272.8 326.7,276.1 327,276.7 327.2,276.7 328.2,269.8 328.5,268.4 328.7,268.4 330,276.5 330.2,276.5 331.2,272.3 331.5,272.2 332.7,277.4 333.5,278.1 377,277.8 377.5,277.5 378,275.9 379,266.2 379.2,266 380.2,275.4 380.5,276.5 380.7,276.6 381.2,271.5 381.7,248.2 382.5,165.2 383,138 384.2,254.9 384.7,273.1 385.2,276.7 385.7,276.6 387,274.2 388.5,275.5 389.7,273 390.2,272.9 391,273.7 391.2,273.5 392.5,269.3 392.7,269.3 393.5,270.3 393.7,269.9 394.7,265.5 395,265.7 396,268.9 397.2,262.4 398.5,267.2 399.7,259.9 401.2,269.4 402.5,265.3 403.7,270.1 404.7,265.5 405,265.2 406,271.6 406.5,273.2 407.7,270.6 408,267.5 409,272.1 409.7,273.5 412.7,275 417,276 422.5,276.4 448.2,277.2 474,277.4 511.2,278.1 511.7,277.9 512.2,276.6 513.2,269.9 513.5,270.1 514.5,276.8 515,277.9 515.5,278 516,277.8 516.5,276.3 517.5,269.7 518.7,276.8 519.2,277.7 520,277.8 521.2,277.6 521.7,277.1 523,269.7 523.2,269.5 524.2,275.8 524.7,277 525.5,277 528.2,276.4 529.5,275.5 530.2,272.2 531,261.1 532,237.8 532.5,233.7 534,257.4 534.2,258.2 534.5,257 535.2,249 535.5,248.6 537.2,271.9 538,273.7 540.7,273.3 541.2,271.6 541.7,261.9 542.5,221.9 542.7,212.2 543,211.6 544,260.5 544.5,267.9 544.7,264.1 546.2,160 547.5,250.7 548.2,272.5 548.5,273.7 548.7,273.9 549,273.4 549.5,268 550.5,235.1 550.7,233.5 551.7,265.6 552.5,274.9 553,275.6 553.7,275.7 554.2,275.2 554.5,274.3 555.7,262.3 556,261.8 557.2,274.1 557.7,276 558,275.8 558.5,271.9 559.5,253.8 560,259.6"/>
<polyline stroke="#00cd00" points="76.8,253.9 77.6,219.1 77.8,218 78.8,259.4 79.3,263.4 79.6,263.6 79.8,263.4 80.1,262.4 80.6,251.4 81.3,212.1 81.6,213.4 82.3,253.7 82.6,260.5 83.1,264 83.6,263.9 84.1,262.3 85.3,248.7 85.6,246.8 85.8,246.6 87.3,260.6 87.6,260.8 88.3,258.3 88.6,257.7 88.8,257.7 90.3,263.7 90.8,263 91.1,261.8 92.3,253 92.8,254.8 93.6,260.5 93.8,261.4 94.1,261.4 95.1,257.1 95.3,256.7 96.1,257.2 96.3,256.8 97.3,252.8 98.6,259.4 98.8,260 99.6,259.6 99.8,260.2 101.1,270.1 101.6,271.9 102.1,267.6 102.3,261.3 103.6,204 103.8,204.4 104.1,212.2 104.8,250.1 105.3,262.9 105.6,240.8 105.8,241.7 106.6,242.1 106.8,242.8 108.1,252.3 108.6,254.1 109.8,235.2 110.1,234.9 111.3,263.1 111.8,268.3 112.3,270 113.8,271.9 116.1,273.8 118.6,275.3 121.8,276.6 123.8,276.9 124.3,275.5 125.6,264.9 126.6,274.8 127.1,276.5 128.6,264.8 129.8,276.7 130.3,277.8 131.1,277.7 131.6,275.6 131.8,272.7 132.8,256.6 134.3,277.2 134.6,277.9 135.1,278.2 135.8,278 136.1,277.6 137.6,266.5 138.6,275.7 139.1,277.4 139.6,274.8 140.6,257.2 140.8,256.8 141.8,274.2 142.3,277.7 142.8,278.3 200.1,278.1 201.1,277.9 202.3,276.3 203.3,277.7 204.1,278 204.8,277.6 205.8,276.4 206.8,277.5 207.1,277.4 208.3,271.4 208.6,271.2 209.8,276.7 210.3,275 211.1,269.7 211.3,269.6 212.6,276.7 213.1,274.9 214.1,265.9 215.3,276.3 215.6,277.1 215.8,277.1 216.3,274.6 217.3,263.7 218.3,273.9 218.8,276.4 219.3,274.4 220.1,267 220.3,266.5 221.3,274.8 221.6,275.3 221.8,274.5 222.6,269 222.8,268.7 223.8,276 224.3,277.5 224.8,277.3 226.1,273.9 227.1,276.9 227.3,277 227.6,276.6 228.8,268.2 230.1,275.6 231.3,268.1 232.3,275.8 232.8,277.6 233.1,277.6 233.3,277.2 233.6,276.1 234.6,270.1 235.6,275.7 235.8,276 236.1,275.4 236.8,271.6 237.1,271.7 238.1,277.2 238.6,278 239.1,277.6 240.1,275.2 241.6,278.1 242.8,277.3 244.6,278.5 254.6,278.6 255.3,277 255.8,273.3 257.1,253.7 257.6,230.7 258.3,160.5 258.6,145.2 258.8,144.8 260.1,257.9 260.6,274.7 260.8,277.3 261.3,278.7 285.3,278.9 317.6,278.7 318.1,278.1 318.3,277 319.6,266 320.6,274 320.8,275.3 321.1,274.9 322.3,258.5 323.6,273.5 323.8,273.5 324.8,265.7 325.8,274.3 326.3,276.4 326.8,272.6 327.8,257.4 329.1,275.1 329.6,277.8 329.8,277.7 330.1,276.8 330.3,275 331.3,264.6 331.6,265.2 332.6,276.1 333.1,278.3 333.6,278.7 345.3,278.6 345.8,278 346.8,273.8 347.8,277.5 349.1,270.6 350.1,277.7 350.6,278.5 376.6,278.3 377.1,277.8 377.6,274.7 378.6,256.1 378.8,255.7 379.8,273.9 380.3,277.5 380.8,278 381.3,277.3 381.6,275.8 382.1,264.3 383.3,151.5 383.6,146.2 384.8,255.7 385.1,266.8 385.6,273.8 386.8,269.1 388.1,272.1 389.3,266.8 389.6,266.7 390.3,268.7 390.6,268.8 392.1,258.5 393.1,263 393.3,263.2 394.6,254.1 394.8,253.8 395.3,255.3 395.6,255.2 396.6,247.2 396.8,247.3 397.1,249.2 398.1,259.2 398.6,256.7 399.6,245.5 400.6,254.4 400.8,254.8 401.8,243.3 402.1,243.3 403.3,261.1 403.6,260.9 404.6,253.7 406.1,267.9 407.3,260.8 407.6,255.1 408.6,266.3 409.3,270 410.3,271.5 412.3,273.5 414.3,274.7 416.8,275.6 424.3,276.7 445.1,277.7 510.6,278.8 511.3,278.6 511.8,277.7 512.8,273.1 513.1,273.2 514.1,277.9 514.6,278.6 515.1,278.7 515.6,278.5 516.1,277.5 517.1,273 518.3,277.8 518.8,278.5 519.6,278.5 520.8,278.4 521.3,277.8 522.6,269.1 522.8,268.9 523.8,276.3 524.3,277.7 524.8,277.8 525.6,276.2 526.1,271.8 527.8,228.4 528.1,228.7 528.3,232.5 529.1,253.4 529.6,260 531.1,225.7 531.6,233 532.6,266.4 533.3,275 533.6,275.6 534.1,275.9 540.1,274.8 540.6,272.9 540.8,269.8 542.1,234.3 543.3,268.8 543.6,270.5 543.8,268.3 544.3,247.8 545.3,161.5 545.6,159.3 546.8,258.7 547.1,267.9 547.6,274.5 547.8,275.2 548.1,275.1 548.6,271.6 549.8,237 550.1,238.7 551.1,270.1 551.3,273.8 551.8,276.2 552.3,276.6 553.3,276.8 553.8,276.2 554.1,275.4 555.3,263.6 555.6,263.1 556.8,275 557.1,276.3 557.3,276.9 557.6,276.8 558.1,273.7 559.1,259.2 559.6,263.8"/>
<polyline stroke="#0000ff" points="77.3,262.2 78,228.6 78.3,227.6 79.3,267.2 79.8,271 80,271.1 80.3,270.9 80.5,269.8 81,258.2 81.8,216.7 82,218.1 82.8,260.5 83,267.6 83.5,271.3 84,271.5 84.8,271 86.3,267.7 86.8,268.2 87.8,270.5 88.3,270.3 89.3,269 90.8,271.2 91.3,270.9 92.3,268.4 92.8,268.1 94,270.5 95.3,269.7 96.5,270.9 97.8,270.5 99.3,272.1 100.5,272.4 101.8,275 102,275.2 102.3,274.7 103,258.7 104,175.7 104.5,154.9 105.8,248.2 106.5,263.7 107,266.5 108.8,270.1 109.3,269.1 110,263 110.3,261.5 110.5,261.3 111.8,272.4 112.3,274.5 112.8,275.2 114.8,276 117.8,276.9 124.3,277.6 124.8,276.9 126,271.2 127,276.4 127.5,277.1 129,267.9 130,275.8 130.5,277.6 131,278 131.5,277.9 132,276.9 133.3,268.1 134.5,276.9 135,277.9 135.5,278.1 136.3,277.9 136.8,277.1 138,270.6 139,276.4 139.3,277.3 139.5,277.6 139.8,277.4 141,268.9 141.3,268.7 142.3,276.3 142.8,277.8 143.3,278 200.8,277.7 201.5,277.6 202.5,276.9 203.8,277.5 204.3,277.5 205.5,276.2 206.8,277.5 207.3,277.6 208,277.2 209,275.6 210,277.1 210.5,277.1 211.8,273 212,273.1 213.3,277.2 213.8,277 214.8,275.4 215.8,277.1 216.3,277.2 217.5,273.1 217.8,273.1 218.8,276.5 219.3,276 220,273.8 221.3,277.1 221.8,277.5 222.5,277.3 223.5,275.9 224.8,277.3 225.3,277.1 226.5,273.5 227.5,276.1 227.8,276.2 228.8,273.7 229.8,276.7 230.5,277.6 231.3,276.9 232.3,273.7 233.5,276.7 234.5,275.8 235.8,277.5 236.3,277.7 237.8,276.6 239.3,277.7 240.5,277.5 241.8,277.8 243.3,277.7 245,277.9 257,277.9 257.8,276.3 258.3,272.5 259.5,252.5 260,228.9 260.8,156.7 261,141.1 261.3,140.6 262.5,256.7 263,274 263.3,276.6 263.8,278 318.3,278.4 319,278 320.3,275.9 321.3,276.9 322.5,272.4 322.8,272.6 323.8,277.3 324.3,278 325.8,275.1 326.8,277.3 327.3,277.8 328.5,274.2 328.8,274.1 330,277.8 330.3,278 330.8,277.5 331.8,275.1 332.3,275.8 333,277.8 334,278.4 377,278.1 377.5,277.9 378,276.6 379,269.1 379.3,269 380.3,276.3 380.8,277.7 381.3,277.9 381.8,277.1 382,275.3 382.5,261.4 383.8,123.8 384,117.5 385.3,251.8 385.8,272.6 386.3,276.4 387.3,275.9 388.3,276.4 389.5,275.1 390.8,275.6 392.3,272.9 393,274 393.5,274.1 394.8,270.7 396,272.9 397.3,268.7 397.5,268.7 397.8,269.3 398.8,272.7 399.3,271.7 400,268.6 400.3,268.4 401.3,271.4 401.5,271.4 402.5,268.9 403.8,273.4 404,273.4 405,271.5 406,274 406.5,274.3 407.3,273.2 407.8,273.7 408,271.6 408.8,273.8 409.8,274.8 413,275.8 417.3,276.4 448.3,277.2 474.8,277.3 511.3,278.2 511.8,278 512.3,276.9 513.3,271.5 513.5,271.6 514.5,277.1 515,278 515.5,278.2 516,277.9 516.5,276.7 517.5,271.4 519,277.8 519.5,278.1 520.8,278.1 521.5,277.8 522,276.4 523,268.1 523.3,267.9 524.3,276 524.8,277.6 525.5,277.8 528.3,277.4 528.8,276.7 529.3,273.9 529.8,265.7 531,215.7 531.5,207.2 532.8,236.8 533,237.3 533.8,227.5 534,227.4 535.3,263.8 536,274.8 536.3,275.8 536.8,276.5 540.3,276.3 540.8,275.8 541.3,271.7 542.5,219.2 542.8,218.3 543.8,263.9 544,270.1 544.3,272.1 544.5,270.3 546,204.1 546.5,218.2 547.3,261.3 548,275.5 548.3,276.2 548.5,276.3 548.8,275.8 549.3,270.8 550.3,240.1 550.5,238.3 551.5,267.8 552.3,276.6 552.5,277 553.3,277.3 553.8,277.3 554.3,276.7 554.8,274.4 555.8,264.9 556,264.4 557.3,275.4 557.8,277.1 558,276.8 558.5,272.8 559.5,254.6 560,260.3"/>
<polyline stroke="#00ffff" points="77.4,260.7 78.2,228.8 78.4,227.8 79.4,265.6 79.9,269.1 80.4,269.2 80.7,268.3 81.2,259.2 81.9,226.6 82.2,227.6 82.9,261 83.2,266.6 83.7,269.6 84.4,269.5 84.9,268.5 85.9,263.5 86.4,262.2 87.9,267.6 88.2,267.5 88.9,266 89.2,265.8 89.4,265.9 90.4,268.8 91.2,269.8 91.7,269.4 92.7,266.8 93.2,266.1 94.2,268.2 94.7,268.6 95.9,266.6 97.2,267.6 98.2,265.9 98.4,265.9 99.4,268.2 100.7,269 101.9,273.6 102.2,273.9 102.4,273.2 103.2,256.2 104.4,186.4 104.9,201 105.9,260.5 106.2,255 106.7,260.2 107.7,262.5 108.7,266 108.9,266.5 109.2,266.5 110.4,256.9 110.7,256.7 112.2,272 112.7,273.4 113.4,274.1 115.7,275.2 118.4,276.2 122.2,277 124.4,277.1 124.9,276.1 126.2,268.6 127.2,275.5 127.7,276.7 129.2,268.9 130.4,276.8 130.9,277.6 131.4,277.7 131.9,277.2 132.2,276.3 133.4,265.1 134.7,276.4 135.2,277.7 135.7,277.8 136.4,277.7 136.9,277 138.2,271.7 139.2,276.6 139.7,277.4 139.9,277.1 141.2,266.9 141.4,266.8 142.4,275.8 142.9,277.6 143.4,277.9 204.4,278.4 205.9,277.9 207.4,278.3 208.9,277.2 210.2,278.3 210.7,278.3 211.9,277.4 213.4,278.3 214.9,277 216.2,278.3 217.7,277.9 219.2,278.4 220.9,278 222.2,278.3 223.4,277.7 224.9,278.5 226.7,277.8 227.7,278.2 228.9,277.3 229.9,278.2 230.7,278.5 231.4,278.3 232.4,277.6 233.9,278.5 235.4,278 236.9,278.5 239.7,278.5 240.9,278.2 242.2,278.5 245.2,278.6 256.7,278.5 257.4,277.1 257.9,274.1 259.2,256.2 259.7,231.6 260.4,156.6 260.7,140.4 260.9,139.6 262.2,256.9 262.7,274.3 262.9,277 263.4,278.4 317.7,278.1 318.2,277.9 318.7,277 319.4,273.4 319.9,272.3 320.9,276.5 321.2,276.9 321.4,276.8 322.7,269.9 322.9,270.1 324.2,276.8 324.7,275.9 325.4,273.1 325.7,273.1 326.9,277 327.4,275.3 328.4,268.1 328.7,268.5 329.9,276.9 330.2,277 330.4,276.6 331.4,272.6 331.9,273.6 332.7,277 333.4,278 377.2,278 377.7,277.7 378.2,276.1 379.2,266.4 379.4,266.2 380.4,275.7 380.9,277.6 381.7,277.7 382.2,275.9 382.7,265.5 383.9,163 384.2,158.2 385.4,258.1 385.9,273.4 386.4,275.7 387.2,274.8 388.4,275.7 389.9,272.5 390.7,273.7 391.2,273.9 392.4,270.8 393.4,272.7 393.7,272.8 393.9,272.6 395.2,268 395.4,268 396.2,269.4 396.4,269.1 397.7,263.2 398.4,266.7 398.7,267.5 398.9,267.2 399.9,261.5 401.4,270.1 402.7,264.6 402.9,264.8 403.9,270.3 404.2,270.6 404.9,269.2 405.2,269.3 406.2,273.5 406.4,274.1 406.7,274 407.9,269.5 408.2,266.4 409.2,272.2 409.9,274 413.2,275.7 417.7,276.7 449.4,277.9 511.2,278.4 511.9,278.1 512.4,277 513.4,271.2 513.7,271.3 514.7,277.1 515.2,278.1 515.7,278.2 516.2,278 516.7,276.7 517.7,270.9 518.9,277.1 519.4,278 520.2,278 521.4,277.9 521.9,277.4 523.2,270.4 523.4,270.2 524.7,277 525.4,277.4 528.2,276.9 528.7,276.6 529.2,275.2 529.7,270.6 531.2,220 531.7,212.1 532.9,237.9 533.2,237.7 533.9,226.9 534.2,226.7 535.4,262.6 536.2,273.5 536.4,274.4 536.9,275 540.7,274.5 541.2,272.6 541.7,262.3 542.7,214.5 542.9,215.1 543.2,224.5 543.9,263 544.2,268.4 544.4,269.1 544.7,265.1 546.2,168.4 547.4,254.9 548.2,273.7 548.4,274.6 548.7,274.7 549.2,271.2 550.4,222.6 550.7,221.4 551.7,264.2 551.9,270.6 552.4,275.4 552.9,276.1 553.7,276.2 554.2,276 554.4,275.5 554.9,272.6 555.9,260.2 556.2,259.6 557.4,273.9 557.9,276.2 558.2,276.3 558.4,275.5 558.7,273.6 559.7,261.1 560.2,265.1"/>
<polyline stroke="#ff00ff" points="77.1,257.4 77.8,214.1 78.1,212.8 78.8,255.4 79.1,263.8 79.6,268.6 79.8,268.9 80.1,268.8 80.3,268 80.6,265.4 81.6,228.9 81.8,229.9 82.6,261.2 82.8,266.4 83.3,269.1 83.8,269.2 84.3,268.6 85.8,263.6 86.3,264.4 87.6,268.5 88.1,268.4 89.1,267.3 90.6,269.1 91.1,268.6 92.3,264.8 92.8,265.3 93.6,267.8 94.1,268.6 95.6,265.4 96.6,266.2 97.8,264.7 99.1,268.6 99.3,269 100.3,269.6 101.6,273.5 101.8,274 102.1,274 102.6,270 102.8,264.5 103.8,216.8 104.3,207.1 105.6,259.8 105.8,254.1 106.3,259.7 108.3,265.7 108.6,266.2 108.8,266.2 110.1,256.8 110.3,256.7 111.8,271.7 112.6,273.4 114.6,274.6 119.1,276.2 124.1,276.9 124.6,276.3 125.8,271.5 126.8,276 127.1,276.5 127.3,276.5 128.8,265.6 130.1,276.3 130.6,277.4 131.3,277.3 132.1,273.5 133.1,261.4 134.3,275.8 134.8,277.4 135.3,277.6 136.1,277.5 136.6,276.7 137.8,270.3 138.8,276.1 139.3,277.2 139.6,276.8 140.8,265.3 141.1,265.1 142.1,275.4 142.6,277.4 143.1,277.8 200.8,278.3 205.6,278 207.1,278.2 208.3,278 210.1,278.3 211.6,277.9 212.8,278.2 214.1,277.7 215.6,278.3 217.6,277.9 219.1,278.3 220.6,277.8 221.8,278.2 223.1,277.7 224.3,278.2 227.3,278.3 229.3,277.5 230.3,278 231.6,277.7 233.1,278.3 254.8,278.2 256.1,278 256.8,276.3 257.3,273.3 258.3,260 258.8,235.2 259.6,160 259.8,143.7 260.1,142.7 261.3,257 261.8,274 262.1,276.6 262.3,277.7 262.8,278.1 317.3,277.7 317.8,277.5 318.3,276.7 319.1,273.5 319.6,272.6 320.6,276.3 320.8,276.8 321.1,276.8 322.3,271 322.6,270.9 323.8,276.5 324.1,276.5 324.3,275.9 325.3,272.3 326.3,276.1 326.8,277 327.3,275.8 328.1,270.5 328.3,269.2 328.6,269.1 329.8,276 330.1,275.8 331.1,271.6 331.3,271.7 332.3,276.4 332.8,277.5 333.3,277.7 376.8,277.8 377.3,277.6 377.8,275.9 378.8,266.3 379.1,266.1 380.1,275.6 380.3,276.8 380.6,277.4 380.8,277.3 381.3,274.1 381.8,259.4 383.1,178.2 384.3,259.1 384.8,273.8 385.3,276.8 385.8,276.6 386.8,275.2 387.8,275.9 388.3,275.9 389.6,273.3 389.8,273.2 390.8,274.1 391.1,273.9 392.3,270.2 393.1,270.4 393.3,270.1 394.3,266 394.6,266.1 395.3,269.5 395.8,270.5 397.3,261.7 398.3,265.7 399.3,261.2 399.6,261.1 400.6,268.9 401.1,270.8 402.3,265.6 402.6,265.6 403.6,269.9 403.8,269.9 404.8,266.9 406.1,272.3 407.1,269.7 407.3,269.7 407.6,270.6 407.8,268.3 408.6,272.4 409.3,273.8 412.6,275.5 417.1,276.5 423.1,277 448.8,277.7 511.1,277.9 511.6,277.5 512.1,275.4 513.1,264.8 513.3,265 514.3,275.8 514.8,277.6 515.3,277.8 515.8,277.4 516.3,275 517.3,264.6 518.6,276 519.1,277.5 520.8,277.7 521.6,276.9 522.8,266.2 523.1,266 524.1,275.3 524.6,277.1 525.1,277.3 525.8,275.6 526.3,271 528.1,224.9 528.3,225.2 528.6,229.4 529.8,259.7 530.3,253.4 531.1,231.3 531.3,228.2 531.6,229.7 532.8,267.2 533.6,275.4 533.8,276.1 534.3,276.4 540.6,275.9 541.1,274.5 541.6,267.5 542.6,235.4 542.8,236.1 543.1,242.6 543.8,268.3 544.1,271.8 544.3,272 544.6,268.9 546.1,199.2 547.3,262 548.1,275.2 548.3,275.8 548.6,275.7 549.1,271.9 550.3,221.5 550.6,220.6 551.6,264.9 551.8,271.3 552.3,276 552.8,276.7 553.6,276.7 554.1,275.8 554.3,274.5 555.3,260.3 555.8,256.6 557.1,273.5 557.6,276.2 557.8,276.3 558.1,275.4 558.3,273.3 559.3,259.3 559.8,263.7"/>
<polyline stroke="#ffff00" points="77.5,259.3 78.2,214.8 78.5,213.4 79.2,257.2 79.5,265.9 80,270.8 80.2,271 80.5,270.9 80.7,269.9 81,266.7 82,221.4 82.2,222.7 83,261.3 83.2,267.8 83.7,271.2 84.7,271.2 86.5,269.2 88,271 89.5,269.6 91.2,271.3 91.7,270.9 93,268.6 93.5,269 94.2,270.6 94.7,270.9 96,269.8 97,270.4 98,269.9 98.5,270 99.5,271.2 100.7,272 102,274.8 102.2,274.9 102.5,274.3 103.2,257.6 104.7,140.7 106,242.8 106.7,263.9 107.2,267.3 109,270.5 109.5,269.7 110.2,264.8 110.5,263.6 110.7,263.4 112,272.6 112.7,274.7 114.2,275.4 117.2,276.3 124.2,277.2 125,276.6 126.2,272.2 127.2,276.3 127.7,276.9 129.2,269.4 130.5,276.8 131,277.5 131.5,277.6 132,277.1 132.2,276.4 133.5,266.7 135,277.2 135.7,277.7 136.7,277.4 138.2,270.9 139.2,276.3 139.7,277.3 140.2,275.9 141.2,266.3 141.5,266.1 142.5,275.6 143,277.5 143.5,277.8 201.5,278.3 205,278.2 206.2,277.6 207.5,278.1 208.7,277.6 210,278.2 211.5,276.8 212.7,278.1 213.5,278.3 215,277.8 216.2,278.1 217.5,277.7 219.2,278.3 220.7,277.6 222,278.1 223.2,277.7 224.7,278.2 226.2,277.7 227.7,278.2 229.2,277.1 230.7,278.1 232,277.3 233.5,278.1 234.7,277.1 236.2,278.2 237.7,277.8 239.5,278.3 255.7,278.2 256.5,276.9 257,274 258.2,256.6 258.7,232.2 259.5,157.6 259.7,141.4 260,140.7 261.2,256.8 261.7,274 262,276.7 262.2,277.7 262.7,278.2 318,277.8 319,277.3 320.2,274.6 321.5,277.1 322,276.6 323,274.3 324,276.7 324.5,277.1 325.7,273.6 326,273.5 327.2,276.7 328.5,272.8 328.7,272.8 329,273.5 330,277.2 330.5,277.2 331.7,274.4 333,277.1 334,277.7 377.2,277.8 377.7,277.7 378.2,276.5 379.2,269.7 379.5,269.6 380.5,276.3 381,277.6 381.7,277.7 382.2,276.3 382.7,268 384,186.1 384.2,182.3 385.5,262.2 386,274.5 386.5,276.6 387.2,276.4 388.7,276.9 390,275.5 391.2,275.5 392.5,273.7 393.5,274.7 394.7,272.8 395,272.8 395.7,274.1 396.2,274.4 397.5,271.4 398,271.7 398.7,273.4 399,273.4 400.2,270.1 401.2,272.9 401.5,273.1 402.5,272.1 404,275.2 405.2,273 405.5,273 406.7,275.3 407.5,275 408,275.5 408.2,273.3 409,274.7 410.2,275.4 413.5,276.4 417.7,276.9 450.2,277.8 511.2,278 512,277.7 512.5,276.3 513.5,268.8 513.7,269 514.7,276.5 515.2,277.7 515.7,277.9 516.2,277.6 516.7,275.9 517.7,268.6 519,276.6 519.5,277.6 520.7,277.7 521.5,277.6 522,276.9 523.2,266.2 523.5,266 524.7,276.4 525,277 525.5,277.2 528.2,276.8 528.7,276.5 529.2,275.4 529.7,271.5 531.2,229.4 531.7,222.7 533,240.6 534,224 534.2,223.6 535.5,261.9 536.2,273.6 536.5,274.6 537,275.3 540.5,274.9 541,273.6 541.5,267 542.5,236.8 542.7,237.4 543,243.6 543.7,267.7 544,270.8 544.2,270.5 544.5,266.5 546,181.8 547.2,258.1 548,274.1 548.2,274.9 548.5,274.8 549,271.2 550.2,221.8 550.5,221 551.5,264.4 551.7,270.8 552.2,275.4 552.7,276.1 553.5,276.3 554,276.2 554.5,275.6 555,272.7 556,260.9 556.2,260.4 557.5,273.9 557.7,275.4 558,276.1 558.2,276.1 558.7,272.8 559.7,257.8 560.2,262.5"/>
<polyline stroke="#bebebe" points="77.4,254.3 78.1,214.3 78.4,213.1 79.1,252.7 79.4,260.5 79.9,265 80.1,265.2 80.4,265.1 80.6,264.2 80.9,261.4 81.9,220.3 82.1,221.5 82.9,256.6 83.1,262.5 83.6,265.7 83.9,265.8 84.4,265.5 84.9,264 86.4,251.9 86.9,253.8 87.6,261.2 88.1,263.4 88.4,263.3 89.6,258.3 90.9,264 91.4,265 91.9,263.6 93.1,256.8 94.6,262.7 95.6,261.8 96.9,264.4 98.1,260.8 98.4,260.7 99.4,263.5 100.4,263.9 101.9,272.1 102.1,272.8 102.4,272.2 103.1,253.8 104.4,179 104.9,195.2 105.9,256.8 106.1,242.7 106.6,247.4 107.6,250.3 108.6,257 109.1,258.7 109.6,255.6 110.4,246.1 110.6,245.9 111.9,266.4 112.4,270.2 113.4,272.1 116.4,274.6 120.4,276.5 123.4,277.3 124.4,277.4 124.9,276.3 126.1,268 127.1,275.8 127.6,277.1 129.1,267.1 130.4,277.2 130.9,278.2 131.6,278.1 132.1,276.4 132.4,274.1 133.4,261 134.6,276.6 135.1,278.3 135.6,278.6 136.4,278.4 136.9,277.1 138.1,267.7 139.1,276.3 139.4,277.5 139.6,278 139.9,277.7 141.1,265.2 141.4,264.9 142.4,276.1 142.9,278.3 143.4,278.7 201.4,278.5 204.6,278.3 205.9,277.8 207.4,278.3 208.6,277.7 210.4,278.4 212.1,277.5 213.4,278.2 214.9,277.7 216.1,278.2 217.6,277.1 218.9,278.1 220.4,277.7 221.6,278.2 222.4,278.1 223.4,277.4 224.6,278.1 226.1,277.5 227.6,278.2 228.4,278.1 229.6,277.5 230.9,278.1 232.4,277.7 233.6,278.1 234.9,277.5 236.4,278.2 237.9,277.6 239.6,278.2 241.1,277.9 242.6,278.2 256.6,278 257.4,276.1 257.9,271.6 259.1,249.4 259.6,226.7 260.4,156.7 260.6,141.6 260.9,141.3 262.1,256.9 262.6,274 262.9,276.7 263.1,277.7 263.6,278.1 318.1,278.4 318.9,276.8 320.1,269 321.1,274.3 321.4,273.7 322.6,259.6 323.6,273.3 324.1,276.9 324.4,277 324.6,276 325.4,269.5 325.6,268 325.9,268 326.9,275.9 327.1,276.7 327.4,276.4 328.6,264.7 328.9,264.9 330.1,276.2 330.6,274.2 331.6,265.5 332.9,276.6 333.1,277.7 333.6,278.5 371.1,278.8 376.9,278.8 377.6,278.3 378.1,275.7 379.1,260 379.4,259.7 380.4,275.1 380.6,277.1 381.1,278.3 381.6,276.6 382.1,265.9 383.4,160.6 383.6,155.7 384.9,258.1 385.4,273.9 385.9,276.3 387.1,273.5 388.1,274.7 388.4,274.6 389.9,267.2 391.1,270.7 392.6,263.2 393.4,265.3 393.6,265.3 394.9,254.1 395.1,254.1 395.9,260.8 396.1,262.5 396.4,262.6 397.6,249.9 397.9,250.2 398.9,260 399.1,259.9 399.4,258 400.1,250.1 400.4,250.1 401.4,257.8 402.1,253.3 402.4,252.6 402.6,253.7 403.4,263.3 403.9,266.1 404.9,255.8 405.1,253.9 405.4,254 406.6,266.9 407.4,263.3 407.6,262.8 407.9,263.6 408.1,260 408.9,268 409.4,270.8 409.9,271.9 411.4,273.5 413.1,274.8 415.1,275.7 417.6,276.4 424.6,277.1 445.1,277.7 476.4,277.6 511.4,278.1 511.9,277.9 512.4,277.1 513.4,272.9 513.6,273 514.6,277.2 515.1,278 515.6,278 516.1,277.9 516.6,276.9 517.6,272.8 518.9,277.3 519.4,277.8 520.6,277.9 521.4,277.8 521.9,277.2 523.1,268.9 523.4,268.7 524.6,276.8 525.4,277.4 528.1,276.9 528.6,276.6 529.1,275.3 529.6,271.1 531.1,224.5 531.6,217.3 532.9,241.6 533.1,241.8 533.9,232.6 534.1,232.5 535.4,264.3 536.1,273.9 536.4,274.7 536.9,275.2 540.9,274.8 541.4,273.2 541.6,270.5 542.9,234.2 543.1,235.9 544.1,268.1 544.4,270.8 544.6,270 545.1,255.4 545.9,199.3 546.4,180 547.6,259.7 548.4,274.5 548.6,275.2 548.9,275 549.4,270.9 550.6,222.4 550.9,223 551.1,231.4 551.9,266.3 552.1,272 552.6,276 553.1,276.6 553.9,276.6 554.4,276 554.6,274.9 555.9,260.5 556.1,259.9 557.4,274.3 557.6,275.9 557.9,276.6 558.1,276.4 558.6,272.1 559.6,252.3 560.1,258.5"/>
<polyline stroke="#000000" points="76.8,257.6 77.6,213.8 77.8,212.5 78.6,255.6 78.8,264.2 79.3,269 79.6,269.3 79.8,269.1 80.1,268.1 80.3,265 81.3,220 81.6,221.3 82.3,259.7 82.6,266.1 83.1,269.5 83.8,269.6 84.3,268.9 85.3,265.3 85.8,264.5 87.3,268.9 87.8,268.9 88.8,267.7 90.1,269.3 90.6,269.3 91.8,264.9 92.1,264.3 92.3,264.3 93.8,268.9 95.1,266.9 96.3,267.5 97.1,266.9 97.3,267 98.8,270.1 100.1,269.2 101.3,273 101.6,272.8 102.3,258.4 103.6,188.8 103.8,190.2 104.1,200.5 105.3,267.1 105.6,258.7 106.1,261.3 106.8,262.3 108.1,266.4 108.6,267 109.8,258.5 110.1,258.4 111.6,272.5 112.1,273.9 113.1,274.7 118.1,276.7 123.8,277.7 124.3,277 125.6,271.6 126.6,276.6 126.8,277.3 127.1,277.3 128.6,267 129.8,277.2 130.3,278.2 130.8,278.3 131.3,277.8 131.6,277 132.8,266.7 134.1,277.1 134.6,278.3 135.1,278.4 135.8,278.3 136.3,277.6 137.6,272.1 138.6,277.1 139.1,278 139.3,277.7 140.6,268 140.8,267.8 141.8,276.5 142.3,278.3 142.8,278.5 204.3,278.4 206.6,278.2 208.1,277 209.1,278 209.6,278.1 210.8,276.6 212.1,278 212.6,278.2 214.1,277.5 215.6,278 216.8,276.8 218.1,278 219.6,277 221.1,278.1 222.6,277.8 224.3,278.1 225.8,277.7 227.6,278.1 229.1,277.2 230.1,277.8 231.3,277.6 232.8,278.1 234.6,277 235.8,278 237.1,277.7 238.8,278.1 240.3,277.8 241.8,278.1 255.6,277.8 256.3,275.8 256.8,271.2 258.1,248.7 258.6,226 259.3,156 259.6,140.9 259.8,140.7 261.1,256.7 261.6,273.8 261.8,276.5 262.1,277.5 262.6,278 317.6,278.2 318.1,278 318.6,277.2 319.6,273.3 319.8,273.1 320.8,276.6 321.1,277 321.3,276.7 322.6,271.7 323.6,276.2 323.8,276.7 324.1,276.5 325.3,269.7 326.3,275.5 326.6,276.4 326.8,276.5 328.1,268.1 328.3,268.4 329.1,274.3 329.6,276.3 330.8,271 332.1,277 332.6,278.1 333.1,278.3 376.6,278.6 377.1,278.3 377.6,276.7 378.6,267 378.8,266.8 379.8,276.3 380.3,278.2 380.8,278.4 381.3,276.8 381.6,273.9 382.1,255.4 383.3,153.6 384.6,255.1 385.1,273.3 385.6,276.7 386.8,274.6 387.8,275.3 389.1,272.1 390.1,274.3 390.3,274.6 390.6,274.3 391.8,269.3 392.8,271 393.1,270.7 394.1,265.3 394.3,265.3 395.3,269.6 396.8,260.7 397.8,267.5 398.1,268 398.3,267.5 399.1,263.8 399.3,263.9 400.1,268.5 400.6,269.9 401.8,263.2 403.3,272.7 403.6,272.8 403.8,272.2 404.6,269.3 404.8,269.1 405.8,273.1 406.1,273.5 406.3,273.4 406.8,272.2 407.1,272 407.3,272.2 407.6,269.4 408.6,273.4 409.3,274.5 412.6,276.1 416.6,276.9 422.3,277.2 446.6,277.7 475.6,277.5 510.8,277.9 511.3,277.6 511.8,276.3 512.8,269.3 513.1,269.4 514.1,276.5 514.6,277.7 515.1,277.8 515.6,277.6 516.1,276 517.1,269.2 518.3,276.6 518.8,277.6 520.6,277.7 521.3,277.2 522.6,270.3 522.8,270.2 524.1,276.8 524.8,277.3 527.6,277 528.1,276.7 528.6,275.6 529.1,271.8 530.6,230.5 531.1,224 532.3,244 532.6,243.2 533.3,232.4 533.6,232.2 534.8,264.5 535.6,274.3 535.8,275.2 536.3,275.7 540.1,275.4 540.6,274.4 541.1,268.5 542.1,233.2 542.3,231.4 543.3,265.1 543.6,270.2 543.8,271.8 544.1,270.1 545.6,201.9 545.8,203.3 546.1,213.7 546.8,258.5 547.6,274.5 547.8,275.5 548.1,275.6 548.3,275 548.8,269.1 550.1,223.9 551.1,262.6 551.8,275.7 552.1,276.4 552.6,276.8 553.3,276.8 553.8,276.3 554.3,273.9 555.3,264.2 555.6,263.7 556.8,275 557.3,276.7 557.6,276.3 558.1,271.4 559.1,249.2 559.6,256.2"/>
<polyline stroke="#ff0000" points="77.4,260.2 78.1,219.5 78.4,218.2 79.1,258.4 79.4,266.3 79.9,270.8 80.1,271 80.4,270.9 80.6,270.1 80.9,267.4 81.9,229.8 82.1,230.8 82.9,262.9 83.1,268.3 83.6,271.2 84.1,271.3 84.6,270.9 86.1,268.3 87.6,270.7 88.1,270.6 88.9,269.6 89.4,269.5 90.6,271.2 91.1,271.4 91.6,271.2 92.9,269.5 93.4,269.7 94.4,270.8 95.6,269.9 96.9,270.3 97.9,269.6 99.4,271.3 100.4,271.8 101.9,274.8 102.1,274.9 102.4,274.4 103.1,261.7 104.1,203.7 104.4,194.4 104.6,193.6 105.9,259.4 106.1,259 106.9,266.9 108.9,270.4 109.4,269.7 110.1,264.9 110.4,263.7 110.6,263.6 111.9,272.6 112.4,274.2 112.9,274.8 117.9,276.3 124.4,277 124.9,276.4 126.1,271.2 127.1,276 127.6,276.8 129.1,271 130.4,276.8 130.9,277.4 131.4,277.4 131.9,277.1 132.1,276.4 133.4,268.1 134.6,276.5 134.9,277.1 135.4,277.5 136.4,277.5 136.9,276.7 138.1,271 139.1,276.2 139.4,276.9 139.6,277.2 139.9,277 141.1,269.4 141.4,269.2 142.4,276.1 142.9,277.4 143.4,277.6 199.1,278 201.9,277.9 203.1,277.1 204.6,277.8 205.4,276.5 206.4,272.3 207.4,275.7 207.6,275.4 208.6,267.8 208.9,267.9 209.1,269.5 209.9,276.1 210.4,277.5 210.9,277.1 212.1,272.1 213.1,276.1 213.4,276.4 213.6,275.9 214.6,272.2 215.6,276.4 215.9,276.8 216.1,276.6 217.4,270.1 218.4,275.9 218.9,277.2 219.4,276.7 220.4,272.6 220.6,272.7 221.4,275.9 221.9,276.7 223.1,272.3 224.6,277.4 225.1,277.5 225.4,277.1 226.6,272.7 227.9,276.9 228.4,276.4 229.4,273.3 230.4,276.8 230.6,277.2 230.9,277.2 232.1,270.8 232.4,270.7 233.4,276.5 233.9,277.5 235.4,275.6 236.6,277.5 237.9,275 238.1,275 239.4,277.7 240.6,276.6 241.9,277.9 242.4,278 243.9,277.6 245.9,278.1 254.9,278.2 255.9,278 256.6,276.3 257.1,273.2 258.1,259.6 258.6,234.1 259.4,157 259.6,140.3 259.9,139.3 261.1,256.5 261.6,273.9 261.9,276.6 262.1,277.7 262.6,278.2 318.1,277.8 319.1,277.2 320.4,274.6 321.6,276.7 322.9,273.6 324.1,276.8 324.6,276.5 325.6,274.4 326.6,276.7 327.1,277.3 327.6,276.7 328.4,273.8 328.9,273.1 330.1,277.1 330.6,277.2 331.9,274.9 333.1,277.2 333.9,277.6 377.1,277.7 377.6,277.5 378.1,276.3 379.1,269.6 379.4,269.4 380.4,276.1 380.9,277.4 381.6,277.5 382.1,275.4 382.6,263.8 383.9,149 384.1,143.7 385.4,255.8 385.9,273.2 386.4,276.4 388.4,276.6 389.6,275.5 390.6,276 391.1,276 392.6,273.3 393.9,274.4 395.1,272.5 396.1,273.3 397.4,271.1 398.6,273.8 399.1,273.4 400.1,271.2 401.4,273.5 402.6,271.3 403.9,274.5 404.4,274.1 405.1,272.3 405.4,272.3 406.6,274.8 407.4,274.4 407.9,274.9 408.1,272.9 408.9,274.4 410.1,275.2 413.6,276.2 418.4,276.8 450.6,277.6 511.1,278 511.9,277.5 512.4,275.2 513.4,263.2 513.6,263.5 514.6,275.5 515.1,277.5 515.6,277.8 516.1,277.3 516.6,274.6 517.6,262.9 518.9,275.6 519.4,277.3 519.9,277.5 521.1,277.4 521.9,276.5 523.1,265.5 523.4,265.3 524.4,274.7 524.9,276.5 525.4,276.7 526.4,276.5 531.4,274.9 531.9,273.9 532.1,272.3 532.6,263.6 534.1,183.1 534.4,182 534.6,189.5 535.4,233.1 535.6,241.6 535.9,242.5 537.4,164.9 538.9,254.4 539.4,268.2 539.9,272.1 540.4,272.5 540.6,272 541.1,267 542.4,231.4 543.6,267.2 543.9,269 544.1,267.6 544.6,252.4 545.4,203.2 545.6,192.9 545.9,192.8 547.1,262.6 547.4,268.6 547.9,272.8 548.1,273.1 548.4,272.7 548.9,267.4 550.1,220.7 551.4,266.8 551.9,273.5 552.1,274.4 552.6,274.8 553.9,275.1 554.4,274.8 554.9,272.9 555.9,264.7 556.1,264.4 557.4,274.1 557.9,275.6 558.1,275.4 558.6,271.5 559.6,253.8 560.1,259.4"/>
<polyline stroke="#00cd00" points="77.1,261.3 77.8,223 78.1,221.8 78.8,259.6 79.1,267 79.6,271.3 80.1,271.4 80.3,270.6 80.6,268.2 81.6,233.4 81.8,234.4 82.6,264.1 82.8,269.1 83.3,271.7 83.8,271.8 84.3,271.3 85.3,269 85.8,268.5 87.3,271.3 87.8,271.2 88.8,270.3 90.6,272.1 91.3,271.7 92.3,269.9 92.8,269.8 94.3,271.8 95.3,271.2 96.6,271.5 97.6,270.8 98.1,270.9 99.1,272.3 100.3,273 101.6,275.3 101.8,275.4 102.3,272.5 102.6,268 104.1,208.8 105.6,267.2 105.8,263.8 106.3,267.6 108.3,271.1 108.6,271.3 108.8,271.1 110.1,263.6 110.3,263.4 111.8,274.5 112.3,275.5 113.1,276 118.1,277.4 124.1,278.1 124.6,277.6 125.8,273.6 126.8,277.3 127.1,277.8 127.3,277.7 128.8,269.4 130.1,277.6 130.6,278.4 131.3,278.4 132.1,275.7 133.1,267.2 134.3,277.3 134.8,278.5 135.3,278.6 136.1,278.6 136.6,277.9 137.8,273.3 138.8,277.5 139.3,278.3 139.6,278 140.8,268.8 141.1,268.6 142.1,276.8 142.6,278.4 143.1,278.7 178.6,278.7 201.3,278.3 202.1,278 203.1,276.8 204.3,277.6 205.6,273.9 206.6,277 207.1,277.8 207.6,277 208.8,269.9 210.1,276.7 210.3,276.7 211.3,274.6 212.6,277.5 213.1,276.6 214.1,269.7 214.3,269.5 215.3,276.3 215.8,277.6 216.3,277.4 217.6,274.5 218.8,277.4 219.3,277.4 220.3,275.5 220.6,275.5 221.6,277 222.8,273.3 223.1,273.4 224.1,277 224.6,277.5 225.1,276.6 225.3,275.3 226.3,268 227.6,275.4 228.6,273.6 229.6,276.9 230.1,277.6 230.6,277.1 231.6,273.3 231.8,273.2 232.8,276.9 233.1,277.4 233.6,277.5 235.1,271.9 236.1,276.3 236.3,276.6 236.6,276.3 237.3,274.2 237.6,274.2 238.6,277.3 239.1,277.8 239.6,277.4 240.6,275.4 241.8,277.6 242.3,277.9 243.6,277.3 245.6,278 253.8,278.1 254.8,277.9 255.6,275.8 256.1,270.9 257.3,247.2 257.8,224.1 258.6,152.6 258.8,137.1 259.1,137 260.3,256.2 260.8,273.8 261.1,276.5 261.3,277.6 261.8,278.1 317.6,278.3 318.6,277.8 319.8,275.3 320.8,277.4 321.1,277.6 321.3,277.4 322.1,275.2 322.6,274.7 323.8,277.7 324.3,277.3 325.1,275.8 325.3,275.8 326.6,278 327.1,277.6 328.3,274.2 329.3,277.3 329.8,278 330.3,277.6 331.3,275.1 331.8,275.7 332.6,277.8 333.3,278.4 345.3,278.6 346.1,277.9 347.1,273.8 347.8,276.9 348.1,277.5 348.3,277.1 349.3,270.6 350.3,277.7 350.8,278.6 376.8,278.7 377.3,278.5 377.8,277.4 378.8,270.6 379.1,270.5 380.1,277.2 380.6,278.5 381.3,278.5 381.8,276.6 382.3,265.7 383.6,157.8 383.8,152.8 385.1,258.2 385.6,274.5 386.1,277.6 387.1,277 388.3,277.3 389.6,276.1 390.8,276.7 392.1,274.4 392.3,274.3 393.1,275 393.3,274.9 394.6,272.4 395.6,274.5 396.1,274.4 397.1,272.9 398.1,274.7 398.6,274.9 399.8,271.9 401.1,274.5 401.6,274.1 402.3,272.3 402.6,272.3 403.6,274.3 404.6,272.5 404.8,272.5 405.8,275.8 406.3,276.6 407.6,275.8 407.8,273.4 408.8,275.3 409.8,276 413.3,276.9 417.6,277.4 447.8,277.8 475.3,277.6 511.1,278 511.6,277.5 512.1,274.8 513.1,261.3 513.3,261.6 514.3,275.3 514.8,277.5 515.3,277.8 515.8,277.3 516.3,274.2 517.3,261 518.6,275.5 519.1,277.4 519.6,277.6 520.8,277.5 521.6,277 522.8,270.7 523.1,270.5 524.1,275.8 524.6,276.7 527.8,276.1 528.3,275.7 528.8,274.2 529.3,269.5 530.8,218.4 531.3,210.3 532.6,235.6 532.8,235 533.6,222.9 533.8,222.7 535.1,260.4 535.8,271.7 536.1,272.8 536.6,273.3 539.8,272.8 540.3,272 540.8,266.3 542.1,212.1 542.3,214.6 543.3,262.8 543.6,267.4 543.8,267.8 544.3,255.1 545.1,204.4 545.6,186.9 546.8,259.2 547.6,272.7 547.8,273.3 548.1,273 548.6,268.1 549.8,210.1 550.1,210.8 550.3,221 551.1,262.8 551.3,269.6 551.8,274.4 552.3,275.2 553.3,275.5 553.8,275.4 554.1,274.9 554.6,271.9 555.6,259.1 555.8,258.5 557.1,273.5 557.3,275.2 557.6,276 557.8,276 558.3,272.8 559.3,258 559.8,262.8"/>
<polyline stroke="#0000ff" points="77.2,262.6 78,230.9 78.2,230 79.2,267.4 79.7,270.9 80,271 80.2,270.8 80.5,269.7 81,258.2 81.7,217 82,218.4 82.7,260.4 83,267.5 83.5,271.2 84,271.4 84.7,270.8 86.2,266.8 88,270.7 89.5,269.2 91,270.9 92.2,268.1 92.7,267.8 94.2,270.9 95.5,270 97,270.7 97.7,269.8 98.2,269.6 99.5,271.5 100.2,271.6 100.7,272.1 101.7,274.8 102,275.2 102.2,275.1 102.7,271 103.2,253.2 104.5,158.9 104.7,160.6 105,174.2 105.7,239.8 106.5,261.9 107,266.1 108.7,270 109.2,269 110,263 110.2,261.5 110.5,261.3 111.7,272.3 112.2,274.4 112.7,275 115,276 117.7,276.7 121.7,277.3 124.2,277.4 124.7,276.6 126,270.4 127,276.1 127.5,277 129,269.2 130.2,277 130.7,277.8 131.2,277.8 131.7,277.4 132,276.6 133.2,266.5 134.5,276.6 134.7,277.4 135.2,277.9 136.2,277.8 136.7,276.9 138,270.4 139,276.3 139.2,277.1 139.5,277.4 139.7,277.1 141,267.1 141.2,266.9 142.2,275.8 142.7,277.6 143.2,277.9 201,277.4 202,276.9 203,274.7 203.2,274.8 204.5,277.1 206,275.8 207.2,276.9 207.7,275.6 208.7,267.5 209,267.4 209.2,268.9 210,275.2 210.2,275.8 210.5,275.3 211.7,258.1 212,258.7 212.7,271.1 213.2,275 213.7,271.9 214.7,257.3 215.7,272.2 216.2,275.3 216.7,272.4 217.5,262.3 217.7,261.7 218.7,273.7 219.2,275.5 220.2,272.3 221.5,276.3 221.7,276.4 222,275.9 223.2,267 224.7,276.4 225,276.3 225.2,275.7 226.2,267.9 226.5,267.5 227.7,275.5 229,270.9 230.2,275.9 231.5,269.7 231.7,270 232.7,276.2 233.2,276.8 233.7,275.3 234.7,266.6 235,266.7 236,275.6 236.5,276.7 237.7,272.7 239,276.9 239.5,277.3 240.7,276.8 242,277.5 243.5,276.5 244.5,277.5 245.2,277.7 256.5,278 257.5,277.8 258.2,275.7 258.7,270.9 260,247.5 260.5,224.4 261.2,153 261.5,137.6 261.7,137.4 263,256.2 263.5,273.8 263.7,276.5 264,277.6 264.5,278 317.7,278.3 318.2,278.2 318.7,277.6 320,274.6 321,277.2 321.2,277.5 321.5,277.4 322.7,272.6 323,272.8 324,276.5 324.2,276.4 325.2,273.1 325.5,273.3 326.5,277.2 327,277.9 327.5,277.1 328.7,272 330,276.9 330.2,276.7 331.2,273.6 331.7,274.4 332.5,277.3 333,278.1 333.5,278.2 377,277.9 377.5,277.7 378,276.4 379,269 379.2,268.8 380.5,277.1 381,277.8 381.7,277.7 382.2,276.1 382.5,273.2 383,254.8 384.2,153.1 385.5,254.3 386,272.3 386.5,275.6 388.2,276.4 389.5,275.3 390.7,275.7 391.2,275.1 392.2,272.6 392.5,272.5 393.5,273.8 394.5,272 395,271.7 396,272.9 397.2,270.3 398.5,272.4 399.7,269.9 401,273 401.5,272.2 402.5,268.3 403.7,272.7 404,272.8 405,270.6 406.2,273.8 407.2,272.3 407.7,273.1 408,271.1 408.7,273.6 409.5,274.5 412.7,275.6 416.7,276.3 448.2,277.1 474.5,277.3 511,278.1 511.7,277.8 512.2,275.9 513.2,266.4 513.5,266.6 514.5,276.2 515,277.8 515.5,278 516,277.6 516.5,275.5 517.5,266.2 518.7,276.4 519.2,277.7 521,277.8 521.7,277.4 523,271.7 523.2,271.6 524.2,276.4 524.7,277.3 528,276.9 528.5,276.5 529,275.2 529.5,270.8 531,222.3 531.5,214.8 532.7,240.5 533,240.9 533.7,232 534,231.9 535.7,271.9 536,273.7 536.5,274.9 537,275.1 540,274.7 540.5,273.7 541,267.1 542.2,212.7 543.5,265.4 543.7,269.2 544,268.4 544.5,250.8 545.5,173.1 545.7,170.6 547,259.6 547.2,268.1 547.7,274.3 548,274.9 548.2,274.7 548.7,271.4 550,236.5 550.2,237.9 551.2,269.5 551.5,273.3 552,275.8 552.5,276.2 553.5,276.4 554,276.2 554.2,275.7 554.7,272.7 555.7,260.1 556,259.5 557.2,274 557.7,276.4 558,276.5 558.2,275.7 558.5,273.7 559.5,260.8 560,264.9"/>
<polyline stroke="#00ffff" points="77.1,252.8 77.8,214.8 78.1,213.6 79.1,258.8 79.6,263.1 79.8,263.3 80.1,263.2 80.3,262.1 80.8,250.9 81.6,210.7 81.8,212 82.6,253.2 83.1,262.9 83.3,263.6 83.6,263.6 84.1,261.9 85.3,246.9 85.6,244.8 85.8,244.5 87.1,259.2 87.6,261.7 89.1,256.7 90.3,262.5 90.8,263.5 91.1,263.2 92.3,254.4 92.8,252.9 94.1,259.1 94.3,259.1 95.1,257.5 95.3,257.7 96.3,261.5 96.6,261.7 96.8,261.2 97.6,258.1 97.8,257.7 98.1,257.9 99.1,261.6 99.8,262 100.3,263.2 101.3,270 101.8,271.6 102.3,267 102.6,260 103.6,201.9 103.8,192.7 104.1,192.1 105.6,261 105.8,239.7 106.1,241.1 106.8,241.9 107.1,242.7 108.3,252.1 108.6,253.6 108.8,253.7 110.1,233.6 110.3,233.2 111.6,262.7 112.1,268.1 112.6,269.8 113.6,271.2 115.6,273.1 117.8,274.7 121.6,276.3 123.6,276.8 124.1,276.7 124.6,275.1 125.8,263.1 126.8,274.3 127.3,276.2 128.8,263 130.1,276.4 130.6,277.6 131.3,277.5 131.8,275.5 132.1,272.8 133.1,257.5 134.6,277.1 134.8,277.7 135.3,278 136.1,277.8 136.3,277.4 137.8,265.7 138.8,275.4 139.3,277.2 139.8,274.6 140.8,256.8 141.1,256.4 142.1,274 142.6,277.5 143.1,278.1 200.3,278 202.3,277.8 204.1,278 205.8,277.3 207.3,277.7 208.6,276.6 210.1,277.9 211.6,277.2 212.8,277.8 214.3,276.5 215.3,277.7 215.8,277.9 217.3,276.5 218.3,277.6 219.1,277.9 220.3,277.5 221.8,277.8 223.1,277 224.6,278 225.8,277.5 227.8,278 229.3,277.2 230.6,277.8 231.6,277.2 233.1,278 234.6,277.6 236.3,278.1 237.8,277.5 239.3,278.2 256.3,278.3 257.1,277.1 257.6,274.2 258.8,257.1 259.3,232.6 260.1,158.1 260.3,141.9 260.6,141.1 261.8,257 262.3,274.2 262.6,276.9 262.8,277.9 263.3,278.4 317.8,278.6 318.3,278.1 318.8,276 319.8,267.3 320.1,267.3 320.8,271.7 321.1,271 322.1,256.1 322.3,256.1 323.3,273.5 323.8,277.1 324.1,277 324.3,275.7 325.3,264.2 325.6,263.6 326.6,273.4 326.8,273.8 328.1,254.3 328.3,254.6 328.6,258.2 329.3,273.3 329.6,276 329.8,277.3 330.1,277.4 330.6,274.9 331.6,265.1 331.8,265.7 332.8,276.1 333.3,278.1 333.8,278.5 376.8,278.1 377.3,277.6 377.8,274.5 378.8,255.9 379.1,255.5 380.1,273.8 380.3,276.2 380.8,277.6 381.3,276 381.8,265.8 383.1,165.4 383.3,160.7 384.6,258.2 384.8,268.1 385.3,274.8 385.6,274.8 385.8,273.9 386.8,268.9 388.1,272.3 389.6,265.8 390.6,268.4 390.8,268.1 392.1,257.9 392.3,257.6 393.1,260.5 393.3,260.2 394.3,250.7 394.6,250.5 394.8,252 395.8,260.3 396.3,256.4 397.3,238.2 397.6,237.9 398.6,249.3 399.6,237.2 399.8,237 400.8,251.8 401.1,252.2 402.1,243.9 403.6,264.1 403.8,264.1 404.1,262.6 404.8,255.5 405.1,255.1 406.1,265 406.3,266.3 406.6,265.9 407.6,257.3 407.8,251.3 408.8,264.7 409.6,269.6 410.6,271.3 412.3,273 414.3,274.3 416.6,275.2 419.8,275.9 424.1,276.4 444.3,277.3 511.1,278.4 511.6,278 512.1,276 513.1,265.4 513.3,265.7 514.3,276.3 514.8,278.1 515.3,278.3 515.8,277.9 516.3,275.5 517.3,265.2 518.6,276.4 519.1,277.9 520.8,278 521.6,277.4 522.8,270 523.1,269.8 524.3,276.8 525.1,277.3 527.6,276.7 528.3,276.3 528.8,275.2 529.3,271.5 530.8,231.3 531.3,224.9 532.6,244.5 532.8,244 533.6,234.2 533.8,234 535.1,263.9 535.8,272.9 536.1,273.7 536.6,274.1 540.3,273.5 540.8,272.6 541.3,266.6 542.6,216.6 543.8,265.2 544.1,268.9 544.3,268.5 544.8,254.9 545.8,194 546.1,192.1 547.3,262.1 547.6,268.8 548.1,273.6 548.3,274.1 548.6,273.7 549.1,268.6 550.3,216.1 550.6,218.2 551.6,265.8 551.8,271.4 552.3,275.2 552.8,275.8 553.6,276 554.1,275.5 554.3,274.7 555.6,263.8 555.8,263.4 557.1,274.6 557.6,276.4 557.8,276.1 558.3,271.5 559.3,250.9 559.8,257.5"/>
<polyline stroke="#ff00ff" points="77.5,258 78.2,215.4 78.5,214.1 79.2,256.1 79.5,264.4 80,269.1 80.2,269.3 80.5,269.2 80.7,268.3 81,265.3 82,223.3 82.2,224.4 83,260.4 83.2,266.4 83.7,269.6 84.2,269.8 85,269.4 86.2,265.9 86.7,265.3 88.2,269 89.7,267.8 90.7,269.2 91.2,269.5 93,264.8 94.5,268.2 95.5,266.8 96,267.1 97,269.2 97.5,268.9 98.2,267.8 98.7,267.9 100.7,271 102,274.3 102.2,274.6 102.5,274.3 103.2,263.4 104.2,211 104.5,202.1 104.7,200.8 106,259.2 106.2,255.3 106.7,261.5 109,267.6 109.2,267.6 109.5,266.8 110.5,259.3 110.7,259.1 112.2,272.5 112.7,273.8 114,274.7 119,276.5 124.5,277.2 125,276.3 126.2,269.2 127.5,276.7 127.7,276.9 128,276.5 129.2,269.9 130.5,277 131,277.7 131.7,277.7 132.5,274.7 133.5,265.2 134.7,276.5 135.2,277.8 135.7,278 136.5,277.9 137,277.3 138.2,272.6 139.2,276.9 139.7,277.6 140,277.3 141.2,267.9 141.5,267.7 142.5,276.1 143,277.8 143.5,278.1 201.5,278 205,277.9 206.5,277.3 207.5,277.8 209,277.4 210.5,277.8 211,277.6 212,275.9 212.2,275.9 213.5,277.6 214.7,277.3 216,277.8 216.7,277.7 218,276.6 219.2,277.6 220.5,277.4 221.7,277.7 222.5,277.5 223.5,276.6 224.7,277.5 226.2,276.6 227.5,277.6 228,277.5 229,276.6 230.5,277.6 232.2,276.7 233.5,277.5 234.7,276.6 236.5,277.7 238.5,277.2 239.5,277.6 240.7,277.3 242.5,277.6 256.2,277.4 257,275.8 257.5,272.2 258.7,252.2 259.2,228 260,153.9 260.2,137.8 260.5,137.3 261.7,255.7 262.2,273.3 262.5,276 262.7,277.1 263.2,277.5 318.2,277.7 319,277.2 320.2,274.3 321.2,276.5 321.5,276.8 321.7,276.6 323,270.2 323.2,270.2 324.2,275.2 324.5,275.2 324.7,274.5 325.5,271.2 325.7,271.5 326.7,276.5 327.2,277.4 327.7,276.9 328,276.1 329,270.9 329.2,271.1 330.5,276.8 331,276 332,271.1 332.5,272.4 333.2,276.5 333.7,277.6 334.2,277.8 377.2,278.1 377.7,277.9 378.2,276.4 379.2,267.5 379.5,267.3 380.5,276.1 381,277.8 381.5,277.9 382,276.3 382.2,273.2 382.7,253.4 384,144.8 385.2,253.2 385.7,272.7 386.2,276.5 387.5,275.4 388.5,276 389.7,273.4 390,273.3 391,274.4 392.2,271.4 392.5,271.4 393.5,273.2 394,272.1 395,267 395.2,267 396,270.4 396.5,271.4 397.7,266 398,266 399,269.1 400.2,263.9 401.5,270.4 401.7,270.3 402.7,267.3 403.7,271 404,271.2 405,268.6 406.5,274.3 406.7,274.3 407.5,272.7 407.7,272.5 408,272.8 408.2,270.2 409,273 410,274.4 413.2,275.8 417.5,276.6 447.7,277.3 476.2,277.1 511.5,277.4 512,277.2 512.5,275.9 513.5,269.3 513.7,269.5 514.7,276.1 515.2,277.2 515.7,277.4 516.2,277.1 516.7,275.6 517.7,269.2 519,276.2 519.5,277.2 521.2,277.2 522,276.8 523.2,271.8 523.5,271.7 524.5,276 525,276.8 525.5,276.8 526.2,275.1 526.7,270.3 528.5,223.3 528.7,223.6 529,227.8 530.2,260 530.5,259.4 530.7,255.6 531.7,234.6 532.2,240.6 533.2,267.8 533.7,273.7 534.2,275.3 534.7,275.6 540.2,275 540.7,274.1 541.2,268.8 542.2,237.3 542.5,235.6 543.5,265.6 544,270.7 544.2,267.6 545.7,169.3 546,171.3 546.2,186.2 547,250.4 547.7,273.4 548,274.7 548.2,275.1 548.5,274.7 549,270.3 550.2,236.2 551.2,265.5 552,275.4 552.5,276.1 553.5,276.3 554,276.3 554.5,275.6 555,272.5 556,259.5 556.2,258.8 557.5,273.7 557.7,275.4 558,276.1 558.2,276 558.7,272.2 559.7,254.9 560.2,260.4"/>
<polyline stroke="#ffff00" points="77.2,261.1 78,222.4 78.2,221.2 79.2,266.8 79.7,271.1 80,271.3 80.2,271.1 80.5,270 81,258.3 81.7,216.6 82,218 82.7,260.6 83,267.7 83.5,271.5 84,271.8 84.7,271.5 86,269.4 86.5,269 87.7,270.9 88.2,270.9 89.2,270.2 90.7,271.7 91.2,271.3 92.5,269.4 94,271.4 95.2,270.8 96.7,271.5 97.7,270.3 98.2,270.1 99.2,271.4 100.2,271.9 101.5,274.7 101.7,275 102,274.7 102.5,269.1 102.7,261.4 104.2,166.2 105.7,261.9 106,261.1 106.2,265.1 106.7,267.8 108.7,271.1 109.2,270.1 110,264.6 110.5,263 111.7,273.1 112.2,274.9 112.7,275.5 117.7,277.1 124.2,277.8 124.7,277.1 126,272.3 127,276.8 127.5,277.4 129,269.9 130.2,277.4 130.7,278.1 131.2,278.2 131.7,277.8 132,277.2 133.2,269.5 134.5,277.3 135.2,278.2 136.2,278.2 136.7,277.4 138,271.9 139,276.9 139.2,277.6 139.5,277.9 139.7,277.7 141,270.3 141.2,270.1 142.2,276.8 142.7,278.1 143.2,278.3 197,277.8 201.2,277.7 202.7,276.9 204.2,277.6 205,277.3 206,276.2 207.2,277.3 207.7,277.1 209,272.1 209.2,272 210.2,275.5 211.5,270.3 212.7,276.6 213,276.9 213.2,276.7 213.5,276 214.5,271.3 216,276.7 216.5,275.7 217.5,267.8 217.7,267.6 219,276 219.5,274.8 220.5,268.9 221.5,275.4 222,276.7 222.5,276.3 223.5,274.3 224.2,276 224.5,276.3 224.7,276.2 226,271.3 227.2,276.5 227.5,276.6 227.7,276.2 228.7,271.4 229,271.3 230,276.1 230.2,276.6 230.5,276.6 231.7,268.6 232,268.3 233,275.4 233.5,276.5 234.7,270 235,270 236,276 236.5,277.1 237.7,276.2 239.5,277.4 241,276.5 242.5,277.4 255.5,277.5 256.2,275.8 256.7,271.7 258,250.8 258.5,227.3 259.2,155.2 259.5,139.5 259.7,139.2 261,256.2 261.5,273.5 261.7,276.2 262.2,277.6 317.7,278.2 318.5,277.8 319.7,274.9 320.7,276.8 321,277.1 321.2,277 322.5,273.2 323.5,276.9 323.7,277.5 324.2,277.9 325.7,275.5 327,277.4 328.2,274.8 329.5,277.6 330,278 330.5,277.6 331.5,275.7 332,276.1 333,278 333.7,278.3 377,278.3 377.5,278.1 378,277 379,270.2 379.2,270 380.2,276.7 380.5,277.6 381,278 381.5,276 382,263.8 383.2,144.1 383.5,138.6 384.7,255.5 385.2,273.7 385.7,277.2 386,277.2 387,276.4 388.2,277.2 389.5,276.2 391,276.4 392.2,274.2 392.5,274.1 393.5,274.7 394.7,272.9 395.5,274 396,274.2 397,272.1 397.5,272.4 398.5,274.1 400,270.4 401,273.1 401.2,273.3 401.5,273 402,271.9 402.2,271.7 402.5,272 403.7,275.4 404.2,275 405.2,273.2 406.5,275.4 407.5,275 407.7,275.1 408,272.9 408.7,274.4 409.7,275.3 413,276.2 417.2,276.7 449.2,277.2 476.7,277.1 511.2,277.7 511.7,277.6 512.2,277.1 513.2,274.2 513.5,274.3 514.5,277.2 515,277.6 515.5,277.7 516,277.6 516.5,276.9 517.5,274.1 518.7,277.1 519.2,277.5 520,277.5 521.2,277.3 521.7,276.7 523,267.6 523.2,267.4 524.2,275.2 524.7,276.6 525.5,276.8 528.5,276.1 529,275.2 529.2,274 529.7,266.8 531.2,191.7 531.5,188.9 531.7,193.7 532.5,224.6 532.7,226.5 533.7,169 534,158 534.2,157.1 535.5,245.9 536,266.1 536.5,272.6 537,273.9 537.5,274 540,273.6 540.5,272.5 541,266.6 542,233.3 542.2,232.1 543.2,264.2 543.7,269.8 544.2,261.5 545.5,194.7 546,208.8 546.7,256.5 547.5,272.8 547.7,273.8 548,273.9 548.2,273.3 548.7,266.8 550,221.3 551,261.7 551.7,274.5 552.2,275.5 553,275.7 553.7,275.8 554.2,275.1 554.7,272.1 555.7,259.3 556,258.7 557.2,273.6 557.5,275.3 557.7,276.1 558,276 558.5,272.6 559.5,256.8 560,261.9"/>
<polyline stroke="#bebebe" points="77,257.2 77.7,212.3 78,210.9 78.7,255.2 79,264 79.5,269 79.7,269.2 80,269.1 80.2,268.2 80.5,265.4 81.5,225 81.7,226.1 82.5,260.7 82.7,266.4 83.2,269.4 83.7,269.3 84.2,268.3 85.5,263.1 85.7,263.1 86,263.7 87,268.3 87.5,269.1 89,266.2 89.5,266.6 90.2,268.5 90.7,268.6 92.2,263.7 93.7,267.8 95,265.7 96.5,268.9 96.7,268.9 98,267.2 99,268.4 100,268.3 101.2,272.9 101.5,273.6 101.7,273.4 102.2,267.7 102.5,259.9 103.5,195.9 103.7,185.7 104,185 105.5,265 105.7,256.3 106.2,259.5 107,260.6 108.2,265.2 108.7,266 110,257 110.2,256.8 111.7,272 112.2,273.5 113.2,274.3 115.5,275.5 118.2,276.5 121.7,277.2 124,277.4 124.5,276.6 125.7,270.2 126.7,276.1 127.2,277.1 128.7,269.7 130,277.2 130.5,277.9 131.2,277.8 132,274 133,261.8 134.2,276.2 134.7,277.9 135.2,278.1 136,278 136.5,277.1 137.7,270.4 138.7,276.4 139,277.3 139.2,277.6 139.5,277.3 140.7,266.7 141,266.5 142,276 142.5,277.8 143,278.1 204,278.2 205.5,277.6 207,278 208.2,276.3 209.2,277.9 210,278.2 211.5,277.1 213,278.1 214.2,276.8 215.2,277.9 216,278.2 217.5,276.4 219,278.1 220.5,276.8 221.7,278.2 223.2,277.5 224.7,278.3 226.2,277.4 227.5,278.3 228,278 229,276.6 230.5,278.2 231.7,277.7 233.2,278.4 234.7,277.2 236.2,278.5 237.7,278.2 239,278.5 240.2,278.2 242,278.6 255.2,278.7 256.2,278.5 257,276.4 257.5,271.5 258.7,247.8 259.2,224.4 260,152.1 260.2,136.5 260.5,136.3 261.7,256.6 262.2,274.4 262.5,277.2 262.7,278.3 263.2,278.7 317.2,278.6 317.7,278.4 318.2,277.4 319.5,271.8 320.5,276.6 320.7,277.3 321,277.3 322.2,271.4 322.5,271.5 323.2,275.8 323.7,277.1 325,271.5 325.2,271.4 326.5,277 327,275 328,266.9 329.2,276.6 329.7,277.8 330.2,276.7 331.2,272.1 332.5,277.4 333,278.3 333.5,278.5 376.7,278.2 377.2,277.9 377.7,276.1 378.7,265.7 379,265.4 380,275.7 380.5,277.7 380.7,278 381.2,277.8 381.7,275.8 382.2,264.1 383.5,149 383.7,143.7 385,255.9 385.5,273.3 386,276.3 387.2,274.3 388,274.7 388.2,274.6 389.2,272.3 389.5,272.2 390.5,273.5 392,268 393,270.8 393.2,270.9 393.5,270.3 394.5,267 395.5,269 396.7,264.1 397,264.2 398,267.8 399.2,258.3 399.5,258.2 400.5,267.5 401,269.2 402.2,262 403.7,270.7 405,265.6 406,271.3 406.5,272.6 407.2,271.3 407.5,271.4 407.7,268.1 408.7,272.4 409.5,273.7 412.7,275.5 416.7,276.4 422.7,276.9 448.2,277.8 510.7,278.7 511.5,278.5 512,277.3 513,271.4 513.2,271.5 514.2,277.4 514.7,278.4 515.2,278.5 515.7,278.3 516.2,276.9 517.2,271.1 518.5,277.4 519,278.2 519.7,278.3 521,278 521.5,277.4 522.7,268.2 523,268 524.2,276.8 524.7,277.4 527,276.9 528.5,276.4 529.2,275.7 530,272.4 530.7,261.8 531.7,239.5 532.2,235.5 533.7,257.5 534,257.9 534.2,256.2 535,247.1 535.2,246.6 537,271.6 537.2,272.7 537.7,273.4 540,273.2 540.5,272.7 540.7,271.7 541.2,264.2 542.2,226.8 542.5,226.6 542.7,233.5 543.5,263.7 543.7,268.3 544,269.3 544.2,266.8 545.7,198.3 547,258.8 547.7,272.9 548.2,273.7 548.5,273.1 549,267.4 550,233.4 550.2,232 551.2,265.4 552,274.8 552.5,275.5 553.2,275.7 553.7,275.6 554,275.1 554.5,272.3 555.5,260.3 555.7,259.8 557,273.9 557.5,276.1 557.7,275.8 558.2,271.1 559.2,249.6 559.7,256.4"/>
<polyline stroke="#000000" points="77.3,254 78.1,211.9 78.3,210.6 79.3,260.5 79.8,265.2 80.1,265.4 80.3,265.3 80.6,264.2 81.1,252.8 81.8,212 82.1,213.4 82.8,255.1 83.1,262.1 83.6,265.8 83.8,266 84.3,265.6 84.8,263.8 86.3,251.5 87.8,262 88.1,262.3 89.1,260.2 89.3,260.5 90.3,264.7 90.8,265.8 91.3,265.2 91.6,264 92.6,254.8 93.1,252.8 94.3,260.5 94.6,260.7 95.3,259.2 95.6,259.2 96.6,262.3 96.8,262.2 97.8,259.9 99.3,265.1 100.3,263.7 100.6,264 101.8,271.3 102.1,272.1 102.3,271.8 102.8,264.8 103.8,217.7 104.3,205.8 105.8,262.9 106.1,247.2 106.3,248.9 107.3,250.8 108.6,257.9 108.8,258.9 109.1,258.8 110.3,241.4 110.6,241 111.8,265.5 112.3,270 112.8,271.4 113.6,272.3 115.6,273.9 117.8,275.2 121.6,276.5 124.3,277 124.8,275.9 126.1,267.2 127.1,275.3 127.6,276.5 129.1,264.1 130.3,276.6 130.8,277.8 131.6,277.7 132.1,276.2 132.3,274 133.3,261.8 134.6,276.3 135.1,277.9 135.6,278.2 136.3,278 136.8,276.9 138.1,268.6 139.1,276.2 139.3,277.3 139.6,277.6 139.8,277.2 141.1,263.9 141.3,263.6 142.3,275.6 142.8,278 143.3,278.4 200.8,278.5 202.8,278 204.6,278.3 206.1,276.9 207.3,278.1 207.8,277.8 208.8,276.1 209.8,277.7 210.3,277.7 211.6,272.5 211.8,272.6 212.8,277.3 213.3,278 213.8,277.2 214.6,273.3 214.8,272.3 215.1,272.3 216.1,276.7 216.3,276.8 217.3,274.5 218.3,277.3 219.1,278.1 219.6,277.8 220.6,276.4 221.6,277.6 222.1,277.7 223.3,274.9 224.3,277.4 224.6,277.8 225.1,277.8 226.3,274.7 227.6,277.5 227.8,277.6 228.8,276.9 230.3,278.1 231.1,277.5 232.1,275.1 232.3,275.1 233.6,277.8 234.6,277.4 235.8,278 236.3,277.9 237.6,276.5 239.1,278 240.6,277.2 242.1,278 243.3,277.7 245.3,278.1 256.1,277.9 256.8,275.9 257.3,271.2 258.6,248.6 259.1,226.5 259.8,158.1 260.1,143.3 260.3,143.2 261.6,257.1 262.1,274 262.3,276.6 262.6,277.6 263.1,278 317.8,278 318.6,277 319.8,270.7 321.1,276.4 321.3,276.7 321.6,276.1 322.8,264.4 323.1,264.8 324.1,274.6 324.3,275.1 324.6,274.3 325.6,267.6 326.6,274.6 326.8,275.7 327.1,275.6 328.3,261.9 328.6,262 328.8,264.2 329.8,275.9 330.1,276.3 330.3,275.6 331.3,266.9 331.6,266.5 332.8,276.6 333.6,278 377.1,278.4 377.6,278 378.1,275.5 379.1,260.8 379.3,260.4 380.3,275 380.8,277.8 381.3,278.1 381.8,276.9 382.1,274.5 382.6,259.2 383.8,175.3 385.1,258.6 385.6,273.4 386.1,275.7 387.1,272.9 387.3,272.8 388.1,274 388.3,274 388.6,273.4 389.8,267.1 390.8,270.6 391.1,270.8 392.3,260.9 392.6,259.8 392.8,260 393.3,261.9 393.6,262 394.6,255.7 394.8,256.1 395.8,264.4 396.1,264.5 397.6,245 398.6,255 398.8,255.7 399.6,251.8 399.8,252 401.1,263.6 401.6,260.1 402.3,249.7 402.6,249.1 403.6,261.3 403.8,262.4 404.1,261.6 404.8,257.4 406.1,268.6 406.3,268.8 406.6,267.6 407.3,260.8 407.6,260.5 407.8,261.9 408.1,259.3 408.8,268.4 409.6,271.8 410.6,273 412.6,274.6 416.6,276.2 424.1,277.1 445.8,277.8 476.3,277.6 511.3,277.9 511.8,277.7 512.3,276.6 513.3,271 513.6,271.1 514.6,276.7 515.1,277.7 515.6,277.8 516.1,277.6 516.6,276.3 517.6,270.8 519.1,277.3 519.6,277.7 520.8,277.6 521.6,277.3 522.1,275.7 523.1,266.5 523.3,266.2 524.3,275.2 524.8,277 525.6,277.2 528.3,276.7 528.8,276 529.3,273.3 529.8,265.1 531.1,215.9 531.6,207.6 532.8,239.2 533.1,241.1 533.8,235.2 534.1,235.4 535.6,269.7 536.3,275 537.1,275.5 540.1,275.2 540.6,274.8 540.8,273.8 541.3,265.8 542.6,214 543.6,260.5 543.8,267.9 544.1,270.9 544.3,270.1 545.8,207.6 546.1,208.5 546.3,217.8 547.1,259.2 547.8,274.3 548.1,275.2 548.3,275.4 548.6,274.9 549.1,269.9 550.3,230.6 551.6,270.3 552.1,275.5 552.3,276.1 552.8,276.5 553.8,276.6 554.3,276.1 554.8,274 555.8,265.2 556.1,264.8 557.3,275 557.8,276.6 558.1,276.4 558.6,273 559.6,257.3 560.1,262.2"/>
<polyline stroke="#ff0000" points="77.6,259.7 78.3,217.2 78.6,215.9 79.3,257.7 79.6,266 80.1,270.7 80.3,271 80.6,270.8 80.8,270 81.1,267.2 82.1,227.8 82.3,228.9 83.1,262.5 83.3,268.2 83.8,271.1 84.3,271.1 84.8,270.6 86.1,267.8 86.6,268.1 87.8,270.7 88.3,270.6 89.3,269.6 90.8,271.3 91.3,271.4 91.8,271.1 92.8,269 93.3,268.5 94.8,270.9 98.3,269.7 99.3,270.8 100.6,271.4 102.1,274.9 102.3,275.1 102.6,274.7 103.3,262.9 104.3,201.5 104.8,186.1 106.1,255.2 106.8,265.3 107.3,267.5 109.1,270.5 109.6,269.5 110.3,264 110.8,262.5 112.1,272.5 112.6,274.3 113.1,274.9 118.1,276.5 124.6,277.2 125.1,276.6 126.3,271.6 127.3,276.2 127.8,276.9 129.3,270.9 130.6,277 131.1,277.6 131.6,277.6 132.1,277.3 132.3,276.7 133.6,268.9 134.8,276.7 135.3,277.6 135.8,277.8 136.6,277.7 137.1,277.1 138.3,272.6 139.3,276.7 139.6,277.3 139.8,277.5 140.1,277.3 141.3,270.4 141.6,270.3 142.6,276.4 143.1,277.7 143.6,277.9 204.8,278.3 206.3,277.9 207.6,278 208.8,276.2 210.3,278.1 210.8,278.1 212.1,276.5 213.6,278.1 215.1,276.5 216.3,277.7 217.6,275.7 218.6,277.7 219.3,278.2 221.1,276.7 222.1,277.9 223.3,277.1 224.8,278.1 226.1,277.7 228.1,278.2 228.6,278 229.6,277 230.8,277.7 232.1,276.3 233.6,278.1 234.1,278 235.1,276.9 236.6,278.1 237.8,277.6 239.3,278.2 240.8,278 245.6,278.2 255.8,278 256.6,276.4 257.1,272.7 258.3,252.6 258.8,228.4 259.6,154.2 259.8,138.1 260.1,137.6 261.3,256.2 261.8,273.9 262.1,276.6 262.3,277.6 262.8,278.1 318.1,277.7 318.8,277.4 320.1,274.8 321.3,277 321.8,276.9 322.8,274.9 323.3,275.3 324.1,277.1 324.6,277.2 325.8,274 326.3,274.5 327.1,276.8 327.6,277.3 328.1,276.3 329.1,272.3 329.3,272.4 330.3,276.3 330.6,276.5 330.8,276.2 331.6,275 332.8,277.2 333.6,277.7 377.3,277.9 377.8,277.7 378.3,276.6 379.3,269.8 379.6,269.7 380.6,276.4 381.1,277.7 381.6,277.8 382.1,276.7 382.3,274.6 382.8,261.1 384.1,187.1 385.3,261 385.8,274.2 386.3,276.8 387.3,276.4 388.6,276.9 389.8,276 391.1,276.3 392.6,273.5 392.8,273.5 393.6,274.8 394.1,275.1 395.1,273.4 395.6,273.3 396.3,273.9 397.6,272.2 398.6,273.7 398.8,273.6 400.1,269.2 400.3,269.3 401.3,272.8 401.6,272.8 402.6,270.5 403.8,274.5 404.1,274.8 404.3,274.6 405.3,272.7 406.8,276 408.1,274.8 408.3,272.5 409.3,274.6 410.3,275.5 413.6,276.4 417.6,276.9 450.1,277.8 511.3,277.9 512.1,277.7 512.6,276.4 513.6,270.1 513.8,270.2 514.8,276.6 515.3,277.7 515.8,277.8 516.3,277.5 516.8,276.1 517.8,269.9 519.1,276.6 519.6,277.5 520.6,277.6 521.6,277.4 522.1,276.8 523.3,266.8 523.6,266.6 524.6,275.2 525.1,276.8 525.8,277 528.8,276.4 529.3,275.7 529.6,274.5 530.1,267.5 531.6,194.7 531.8,191.9 532.1,196.8 533.1,233.3 534.3,183.8 534.6,183.2 536.1,262.6 536.6,272.1 537.1,274.5 537.8,274.8 540.6,274.5 541.1,273.6 541.3,271.8 542.8,228.4 543.8,262.7 544.1,268.5 544.3,270.5 544.6,269.1 545.1,253.7 546.1,195 546.3,195.3 546.6,205.6 547.6,264.6 547.8,270.4 548.3,274.4 548.6,274.7 548.8,274.3 549.3,269.9 550.6,232.1 551.8,269.6 552.1,273.2 552.6,275.6 553.1,275.9 554.1,276 554.6,275.5 554.8,274.6 556.1,263.3 556.3,262.8 557.6,274.3 558.1,276 558.3,275.7 558.8,271 559.8,249.7 560.3,256.4"/>
<polyline stroke="#00cd00" points="77.1,254.5 77.9,216.8 78.1,215.6 78.9,253 79.1,260.4 79.6,264.6 79.9,264.8 80.1,264.7 80.4,263.8 80.6,260.9 81.6,219 81.9,220.2 82.6,256.1 82.9,262.1 83.4,265.2 83.9,264.7 84.4,262.5 85.6,251.2 85.9,251 86.1,252.2 87.1,262.1 87.6,264.1 88.1,263.1 88.9,258.8 89.4,257.7 90.4,262.3 90.6,263 90.9,263 92.4,251.6 92.6,251.7 92.9,253.2 93.9,261 94.1,261 95.1,257 95.4,257.2 96.6,262.4 97.9,258.9 99.1,263 99.4,263.1 99.9,262.6 100.1,262.7 101.6,272.1 102.1,274 102.4,273.8 103.1,261.5 104.4,206 104.9,215.5 105.6,250.8 105.9,236.8 106.4,244.2 107.4,248.3 108.4,255.6 108.9,257.2 110.1,241.8 110.4,241.5 111.6,265.3 112.1,269.6 112.6,271.1 113.9,272.5 115.9,274.2 118.4,275.6 121.9,276.9 124.1,277.2 124.6,275.8 125.9,264.9 126.9,275 127.4,276.5 128.9,261.4 129.9,274.5 130.4,277.6 130.9,278.1 131.4,278 131.9,276.4 133.1,261.9 134.4,276.5 134.9,278.2 135.4,278.4 136.1,278.2 136.6,276.9 137.9,266.9 138.9,275.9 139.1,277.3 139.4,277.7 139.6,277.3 140.9,262.3 141.1,262 142.1,275.4 142.6,278 143.1,278.5 201.4,278.1 202.9,277.6 204.4,277.8 205.6,276.2 206.6,277.4 207.1,277.5 208.1,275.5 208.4,275.5 209.6,277.8 210.1,277.8 211.4,276.7 212.9,277.9 213.6,277.1 214.6,274.3 215.6,277 216.1,277.7 216.6,277.2 217.6,275 218.9,277.2 220.1,274.7 221.1,277.2 221.6,277.7 222.9,277.2 223.9,277.8 224.6,277.9 225.1,277.6 226.1,276.1 227.4,277.5 227.9,276.8 228.9,274.3 230.1,277.5 230.6,277.2 231.6,274.4 232.9,277.5 233.4,277.9 234.9,276.6 236.1,277.8 237.4,277.3 238.9,278.1 240.9,277.6 242.1,278 244.9,278.2 254.1,278.3 255.1,278 255.9,276 256.4,272.4 257.4,257.7 257.9,232.1 258.6,154.4 258.9,137.6 259.1,136.7 260.4,256.2 260.9,274 261.1,276.7 261.4,277.8 261.9,278.3 317.9,278.7 318.4,278.3 318.9,276.6 319.9,269.4 320.1,269.5 320.9,274.8 321.1,276 321.4,276.1 322.6,261.2 322.9,260.7 323.6,269.4 323.9,271.3 324.1,271 325.1,259.7 326.6,276.6 326.9,276.4 327.1,274.6 328.4,255.7 329.9,276.8 330.1,276.9 330.4,275.9 331.4,268.3 331.6,268.7 332.6,276.8 333.4,278.6 358.4,278.7 377.1,278.4 377.6,277.2 377.9,275.2 378.9,258.6 379.1,258.2 380.1,274.5 380.6,277.3 381.1,274.1 381.6,258.4 382.4,202.6 382.9,184.2 384.1,262.6 384.6,274.7 385.1,276.8 385.6,276.1 386.9,272.4 387.9,273.7 388.1,273.5 389.4,269.4 390.4,271.4 390.6,271.6 390.9,271.3 392.4,263.2 392.6,263.1 393.4,264.5 393.6,263.8 394.6,256.8 394.9,256.8 395.6,259.6 396.1,256 396.9,244.8 397.1,244.1 398.1,258.1 398.6,260.9 399.9,245.5 400.1,244.9 400.9,249.7 401.1,249.1 401.9,241.2 402.1,241.5 402.4,244.7 403.4,261.8 403.6,261.8 404.4,256.1 404.6,255.7 405.9,268.3 406.1,268.8 406.4,267.9 407.1,260.9 407.4,259.8 407.6,260.4 407.9,256.7 408.6,266.3 409.4,270.5 410.4,272 412.1,273.6 414.1,274.8 416.4,275.6 419.4,276.2 423.6,276.6 443.6,277.4 475.1,277.6 511.1,278.3 511.6,277.9 512.1,275.6 513.1,263.5 513.4,263.7 514.4,276 514.9,278 515.4,278.3 515.9,277.8 516.4,275.1 517.4,263.2 518.6,276.2 519.1,278 519.6,278.2 520.9,278.1 521.6,277.4 522.9,268.4 523.1,268.2 524.4,277 524.6,277.5 525.1,277.7 527.9,277.2 528.4,276.9 528.9,275.7 529.4,271.4 530.9,225.6 531.4,218.4 532.6,240.1 533.6,226.6 533.9,226.3 535.1,262.8 535.9,273.9 536.1,274.9 536.6,275.5 540.4,275.1 540.9,274.6 541.1,273.4 541.6,264.4 542.6,215.1 542.9,213.8 543.9,261.6 544.4,269.6 544.6,266.2 546.1,160.6 546.6,182 547.4,250.7 548.1,273.8 548.4,275.1 548.6,275.3 548.9,274.7 549.4,267.7 550.6,220.3 551.6,262.8 552.4,275.8 552.9,276.8 553.6,276.9 554.1,276.4 554.4,275.7 555.6,265.7 555.9,265.3 557.1,275.5 557.6,277.1 557.9,276.9 558.4,273.5 559.4,258.1 559.9,263"/>
<polyline stroke="#0000ff" points="77,259.1 77.8,218.6 78,217.3 78.8,257.3 79,265.2 79.5,269.7 79.8,269.9 80,269.7 80.3,268.8 80.5,265.8 81.5,222.6 81.8,223.8 82.5,260.7 82.8,266.9 83.3,270.1 83.8,270.2 84.3,269.7 85.3,266.9 85.8,266.2 87,269.4 87.5,270 88,269.7 89,268.3 89.5,268.6 90.3,269.8 90.8,270.1 92,267 92.5,266.5 94,270 95.5,268.5 96.5,268.7 97.5,268.4 98.8,270.7 100.3,271.5 101.5,274.6 101.8,274.7 102,273.9 102.8,255.7 104,169.5 104.3,170.4 104.5,182.4 105.5,256 105.8,254.1 106.3,261.7 108.5,268.1 108.8,268 109,267.2 109.8,260.7 110,259.1 110.3,258.9 111.5,271.5 112,273.8 112.8,274.8 115,275.9 117.8,276.8 121.5,277.5 124,277.7 124.5,277 125.8,271.5 126.8,276.6 127.3,277.3 128.8,268.8 130,277.3 130.5,278.1 131,278.2 131.5,277.8 131.8,277.1 133,268.1 134.5,277.9 135.3,278.4 136.3,278 137.8,272 138.8,277 139.3,277.9 139.8,276.6 140.8,267.6 141,267.5 142,276.4 142.5,278.1 143,278.4 198.5,278 201,278 202.5,277.6 204,277.9 205.5,277.5 206.8,277.8 208.3,276.4 209.8,277.8 210.5,277 211.5,274.2 213,277.5 214.3,276.7 215.5,277.6 216,277.5 217.3,274.6 218.5,277.2 218.8,277.3 219.8,276.5 221,277.6 221.5,277.4 222.5,276.1 223.8,277.4 224.3,277.5 225.5,275 225.8,275.1 226.8,277.3 227.3,277.6 228.8,275.4 229.8,277.2 230.3,277.5 231.5,276.3 232.5,277.3 233,277.4 234.3,275.5 235.3,277.3 235.8,277.7 237.3,277.1 239,277.7 240.3,277.5 245,277.8 257.3,277.7 258,275.7 258.5,271 259.8,248.1 260.3,224.3 261,150.9 261.3,135 261.5,134.8 262.8,255.6 263.3,273.5 263.5,276.3 263.8,277.4 264.3,277.8 317.5,278.2 318.3,277.6 319.5,272.7 319.8,272.9 320.5,276 320.8,276.4 321,276.2 322,271.1 322.3,271.2 322.5,272.2 323.3,276.7 323.5,277.5 324,277.9 325.5,273.3 326.8,276.4 328,269.1 328.3,269.3 328.5,270.6 329.3,276.4 329.8,277.7 330.3,276.9 331,272.7 331.3,271.8 331.5,271.7 332.5,276.8 333,278.1 333.5,278.3 376.8,278.4 377.3,278.2 377.8,276.7 378.8,267.8 379,267.6 380.3,277.5 380.8,278.3 381.5,278.2 382,277 382.3,274.8 382.8,260.4 384,181.3 385.3,259.9 385.8,273.7 386.3,276.1 388,276.7 389.3,274.9 390.5,275.4 390.8,275.3 392,272.6 392.3,272.5 393,273.2 393.3,273 394.5,268.5 395.5,270.4 395.8,270.1 396.8,265.3 397,265.4 397.3,266.4 398.3,271.7 398.5,271.8 398.8,271.2 399.5,267.1 400,265.8 401,269.6 401.3,269.6 402,267.1 402.3,267 403.5,272.8 403.8,272.8 404,272.2 405,267.8 406.5,274.1 407.5,272.4 407.8,269.3 408.8,273.1 409.8,274.7 413.3,276 417.8,276.7 446.8,277.3 475.3,277.2 511,277.8 511.5,277.6 512,276.4 513,270.1 513.3,270.3 514.3,276.6 514.8,277.6 515.3,277.8 515.8,277.5 516.3,276.1 517.3,270 518.5,276.6 519,277.5 520.8,277.5 521.5,277.1 522.8,272.2 523,272.1 524,276.2 524.5,276.9 530.8,275.7 531.3,275.3 531.8,273.3 532.3,265.6 533.8,194.2 534,193.3 534.3,199.9 535,237.9 535.3,244.7 535.5,244.3 537,162.8 538.5,254.9 539,269.2 539.5,273.2 540,273.9 540.5,273.2 541,268.3 542.3,222.6 543.5,265.7 543.8,269.4 544,269.2 544.5,256.4 545.3,206.9 545.8,190.7 547,261.1 547.8,273.8 548,274.4 548.3,274.3 548.8,271.2 550,235.4 550.3,236.1 550.5,242.6 551.3,268.4 551.5,272.5 552,275.4 552.5,275.9 553.5,276 554,275.3 554.3,274 555.5,257.2 555.8,256.5 557,273.4 557.5,276.2 557.8,276.3 558,275.5 558.3,273.6 559.3,260.9 559.8,265"/>
<polyline stroke="#00ffff" points="77.2,260 77.9,217.3 78.2,215.9 78.9,258.1 79.2,266.4 79.7,271.1 79.9,271.4 80.2,271.3 80.4,270.4 80.7,267.6 81.7,227.5 81.9,228.6 82.7,262.8 82.9,268.6 83.4,271.6 83.9,271.7 84.4,271.3 85.9,268 86.4,268.6 87.4,271 87.9,271.2 88.7,270.5 89.2,270.5 90.7,272 91.4,271.4 92.7,269.2 94.2,271.2 95.2,270.8 96.4,271.2 97.7,270.1 98.9,272 100.4,272.5 101.7,274.7 102.2,272 102.7,259.2 103.9,195.6 104.4,208.2 105.7,270 105.9,265.4 106.4,267.8 108.4,270.9 108.7,271.1 108.9,270.9 110.2,262.7 110.4,262.5 111.7,273.1 112.2,275 112.9,275.8 117.9,277.2 124.2,278 124.7,277.4 125.9,273.4 126.9,277.1 127.4,277.7 128.9,271.5 130.2,277.7 130.7,278.3 131.2,278.3 131.7,278 131.9,277.4 133.2,270 134.7,278.1 135.4,278.5 136.4,278.2 137.9,273 138.9,277.3 139.4,278.1 139.9,276.8 140.9,268.3 141.2,268.1 142.2,276.6 142.7,278.2 143.2,278.5 179.2,278.4 201.4,278 202.2,277.7 203.2,276.6 204.2,277 205.4,272.8 206.7,277.2 206.9,277.4 207.2,277.2 208.2,273.9 208.4,273.8 209.7,277.1 210.2,275.7 211.2,264.4 211.4,264 212.4,274.8 212.9,276.6 213.4,274 214.4,264.1 215.4,274.4 215.9,276.7 216.4,275.7 217.4,270.4 218.4,275.8 218.9,277.1 219.4,276.8 220.4,274.1 221.7,276.3 222.9,269.5 223.2,269.8 224.4,276.9 224.7,277.1 224.9,276.8 226.2,272.3 227.2,276.2 227.4,276.7 227.7,276.7 228.9,268.6 229.2,268.5 230.2,275.8 230.7,276.8 231.9,271 232.2,271 233.4,276.9 233.9,276.6 234.9,274.2 235.9,276.8 236.2,277.1 236.4,276.9 237.7,272.6 238.7,276.5 239.4,277.6 240.9,277.1 241.9,277.5 243.4,277.2 245.2,277.8 256.4,277.8 257.2,276.5 257.7,273.5 258.9,255.9 259.4,231.8 260.2,158.2 260.4,142.3 260.7,141.6 261.9,256.6 262.4,273.7 262.7,276.4 262.9,277.4 263.4,277.9 317.7,278.2 318.4,277.9 319.7,275.6 320.7,277.2 320.9,277.4 321.2,277.3 322.4,273.7 323.7,277.3 323.9,277.3 324.2,276.9 325.2,273.9 326.7,277.7 327.2,277 328.2,272.8 328.4,272.8 329.4,277.1 329.9,278 330.4,277.6 331.2,275.3 331.7,274.6 332.9,277.9 333.7,278.4 376.9,278.5 377.4,278.4 377.9,277.2 378.9,270.4 379.2,270.3 380.2,277 380.7,278.3 381.4,278.3 381.9,276.7 382.4,267 383.7,171.6 383.9,167.2 385.2,260.3 385.7,274.6 386.2,277.2 387.2,276.8 388.2,277.3 389.4,276.1 390.4,276.7 390.9,276.7 392.2,275.1 393.4,275.7 394.9,272.9 395.9,274 396.2,273.8 396.9,271.5 397.2,271 397.4,271 398.7,274.3 399.9,272 400.2,271.9 401.2,273.5 402.2,272.5 403.7,275.7 404.2,275.3 405.2,273.3 406.2,275.5 406.7,275.9 407.7,275.3 407.9,273 408.9,275 409.9,275.7 413.2,276.6 417.2,277.1 448.9,277.5 477.2,277.3 511.2,277.8 511.7,277.4 512.2,274.8 513.2,261.4 513.4,261.7 514.4,275.2 514.9,277.5 515.4,277.8 515.9,277.2 516.4,274.2 517.4,261.2 518.7,275.5 519.2,277.4 519.7,277.7 520.9,277.6 521.7,277.1 522.9,271.5 523.2,271.4 524.2,276.2 524.7,277.1 527.9,276.7 528.4,276.4 528.9,275 529.4,270.3 530.9,219.2 531.4,211.3 532.7,241.5 532.9,243.5 533.7,238.5 533.9,238.7 535.7,272.4 535.9,273.9 536.4,274.9 540.2,274.6 540.7,273.2 541.2,264.6 542.2,215.4 542.4,213.3 543.4,260.6 543.7,267.6 543.9,270.2 544.2,268.6 545.7,194.9 546.2,208.5 546.9,256.8 547.7,273.8 547.9,274.8 548.2,274.9 548.4,274.3 548.9,268.1 550.2,222.8 551.2,262.3 551.9,275.3 552.2,276 552.9,276.4 553.7,276.4 554.2,275.8 554.7,272.9 555.7,260.6 555.9,260 557.2,274.2 557.4,275.8 557.7,276.5 557.9,276.5 558.4,273.4 559.4,259 559.9,263.6"/>
<polyline stroke="#ff00ff" points="77.7,261.5 78.5,224.2 78.7,223.1 79.7,267.1 80.2,271.2 80.5,271.4 80.7,271.3 81,270.3 81.5,260.4 82.2,224.9 82.5,226.1 83.2,262.3 83.5,268.4 84,271.6 84.5,271.7 85,271.4 86.5,268.9 88.2,271.4 89.7,270.2 91,271.4 91.5,271.4 93,268.9 93.5,269.4 94.2,270.9 94.7,271.3 95.7,270.8 97,271.3 98,270.1 98.5,269.9 99.5,271.2 100.7,271.9 102.2,275.3 102.5,275.5 102.7,275.2 103.2,271 103.5,265.2 104.5,211.2 105,196.8 106.2,257.5 106.5,257.9 107,265.9 107.5,267.9 109.2,270.8 109.7,270 110.5,264.8 110.7,263.5 111,263.4 112.2,272.9 112.7,274.6 113.5,275.3 118.7,276.8 124.7,277.3 125.2,276.5 126.5,270.5 127.5,276 128,276.9 129.5,269.4 130.7,276.9 131.2,277.6 131.7,277.7 132.2,277.3 132.5,276.7 133.7,269 135.2,277.4 136,277.7 137,277.4 138.5,271.2 139.5,276.3 140,277.3 140.5,276.2 141.5,268.5 141.7,268.3 142.7,276 143.2,277.5 143.7,277.7 201.5,277.5 202.5,277.3 203.7,276.3 205,277.3 205.5,277 206.7,273.7 208,276.6 209.2,271.2 209.5,271.1 210.5,275.4 211.7,268.3 213,276.1 213.5,277 214,276.1 214.2,274.6 215.2,266.8 216.2,274.8 216.7,276.5 217.2,275.4 218,271.5 218.2,271.4 219.5,276.7 219.7,276.8 220,276.4 221,272.9 221.2,273.1 222,275.9 222.2,276.4 222.5,276.4 223.7,271.3 224.7,275.9 225.2,277 225.7,276.7 226.5,275.4 226.7,275.3 227.7,276.8 228,276.7 229.2,273.4 230.2,276.6 230.5,277.1 231,277.1 232.2,272.6 232.5,272.5 233.5,276.4 233.7,276.7 234,276.4 235,273.6 236,276.6 236.7,277.5 237.5,277.1 238.5,274.5 238.7,274.6 240,277.4 241.2,276.4 243,277.7 244.2,277.6 246.5,277.9 256.5,277.8 257.2,276.1 257.7,271.9 259,250.5 259.5,226.6 260.2,153.3 260.5,137.4 260.7,137 262,256.1 262.5,273.8 262.7,276.5 263,277.6 263.5,278 318.2,278.2 319.2,277.6 320.2,275.6 320.5,275.6 321.2,277 321.7,277.4 323,275.3 324,277.4 324.5,277.8 326,275 327,277.3 327.5,277.7 328,277 329,273.9 329.2,274.1 330.2,277.3 330.7,277.8 332.2,275.7 333.5,277.7 334.5,278.1 377.5,277.8 378,277.6 378.5,276.4 379.5,269.6 379.7,269.5 381,277 381.5,277.6 382.2,277.5 382.7,275.9 383,272.8 383.5,253.2 384.7,145.4 386,253 386.5,272.3 386.7,275.2 387.2,276.3 389,276.6 390.2,275.1 391.5,274.9 392.5,273.3 393.7,274.6 395.2,271.9 396.5,273.8 398,269.9 399.2,272.7 400.5,269 401.5,272.4 402,273.3 403,271.6 404.2,273.9 404.5,273.9 405.5,272.2 406.7,274.7 407.7,274 408.2,274.5 408.5,272.5 409.2,274.1 410.2,274.8 413.5,275.8 417.2,276.3 449.5,277.1 474.5,277.3 511.7,278.1 512.2,277.7 512.7,275.4 513.7,263.8 514,264.1 515,275.8 515.5,277.7 516,278 516.5,277.6 517,274.9 518,263.6 519.2,276 519.7,277.7 521.5,277.9 522.2,277.3 523.5,269.4 523.7,269.3 524.7,276 525.2,277.3 526,277.5 529,277 529.5,276.2 529.7,274.9 530.2,267.5 531.7,189.4 532,186.4 532.2,191.6 533.2,229.1 534.2,179.8 534.5,169.9 534.7,169.2 536,250 536.5,268.4 537,274.3 537.2,275.2 537.7,275.6 540.2,275.4 541,274.9 541.2,273.8 541.7,266 542.7,225.8 543,225.3 544,264.8 544.2,269.6 544.5,270.3 545,257.7 546.2,169.4 546.7,191.1 547.5,253.9 548.2,274.1 548.5,275.2 548.7,275.2 549,274.4 549.5,266.2 550.5,217.5 550.7,215.1 551.7,262.1 552.5,275.6 552.7,276.3 553.2,276.6 554.2,276.7 554.7,276.1 555.2,273.7 556.2,263.6 556.5,263.1 557.7,274.8 558,276.1 558.2,276.6 558.5,276.5 559,273.2 560,258.1 560.5,262.9"/>
<polyline stroke="#ffff00" points="77.8,262.5 78.5,230.8 78.8,229.8 79.8,267.3 80.3,270.8 80.5,271 80.8,270.8 81,269.8 81.5,259.2 82.3,221.2 82.5,222.4 83.3,261.2 83.5,267.7 84,271.2 84.5,271.4 85.3,271 86.8,269.1 88.3,270.9 89.8,270.1 91.3,271.3 93,268.5 94.5,270.8 95.8,269.8 97.3,271.1 98.3,270.6 98.8,270.7 99.8,271.8 101,272.6 102,274.2 102.3,274.1 102.8,269.7 103.3,250.6 104.5,148.2 104.8,149.8 105,164.6 106.3,264.6 106.5,262.5 107,266.9 109.3,270.6 109.8,269.6 110.5,264.2 111,262.6 112.3,272.6 112.8,274.5 113.3,275 118.3,276.6 124.8,277.4 125.3,276.8 126.5,272 127.5,276.4 128,277.1 129.5,269.9 130.8,277.1 131.3,277.8 131.8,277.8 132.3,277.4 132.5,276.5 133.8,266 135,276.6 135.5,277.8 136,278 136.8,277.9 137.3,277.1 138.5,271.6 139.5,276.6 139.8,277.4 140,277.7 140.3,277.5 141.5,270.6 141.8,270.4 142.8,276.7 143.3,277.9 143.8,278.1 197.3,278.4 201.8,278.4 203.3,278 204.8,278.3 206.3,277.3 207.5,278.2 208,278.2 209.3,276.4 210.5,277.9 211.8,276.4 213,278.1 213.5,278.3 214.3,277.9 215.3,276.5 216.3,277.8 216.8,278.1 218,276.1 218.5,276.4 219.3,277.9 219.8,278.2 221,277.6 222.8,278.1 224,277 225.3,277.8 226.5,276.5 227.5,277.9 228,278.1 229.3,277.1 230.5,278.1 231,278.1 232.5,276.8 233.8,278 235,276.6 236.8,278.2 238.5,277.7 240.3,278.2 256,278 256.8,276.8 257.3,274.1 258.5,257.4 259,233.2 259.8,159.5 260,143.5 260.3,142.7 261.5,256.9 262,274 262.3,276.6 262.8,278 318,277.8 319,277.3 319.8,275.8 320.3,275.4 321.5,277.1 322.8,273.6 323,273.5 324.3,277.1 324.8,276.7 325.8,274.5 327,277.3 327.5,277.6 328,277.1 329.3,273 330.5,276.8 330.8,277 331,276.9 332,275.4 333.3,277.5 334,277.8 377.5,278.1 378,278 378.5,276.8 379.5,270 379.8,269.9 380.8,276.6 381.3,277.9 381.8,278 382.3,276.3 382.5,273.1 383,252.4 384.3,139 385.5,252.3 386,272.7 386.5,276.8 387.5,276.6 388.8,277.1 390.3,275.5 391,276.1 391.5,276.1 392.8,273.7 393,273.8 393.8,275 394.3,275.1 395.5,272.1 396.8,273.3 397.8,271.1 398,271.2 398.8,273.4 399.3,274 400.5,270.1 400.8,270.1 401.8,273.2 402,273.2 402.3,272.6 403,270.2 403.3,270.3 404.3,273.7 404.5,273.7 405.3,272.2 405.5,272.2 406.5,275.4 407,276.1 408.3,274.9 408.5,272.6 409.5,274.9 410.3,275.6 413.5,276.6 418,277.1 450,277.8 476,277.6 511.5,277.9 512.3,277.5 512.8,275.2 513.8,263.9 514,264.1 515,275.6 515.5,277.5 516,277.7 516.5,277.3 517,274.7 518,263.6 519.3,275.8 519.8,277.4 521.5,277.6 522.3,277.1 523.5,271.6 523.8,271.5 524.8,276.2 525.3,277.1 529,276.7 529.5,276 529.8,274.8 530.3,268.1 531.8,197.8 532,195.1 532.3,199.5 533,227.2 533.3,227.8 534.3,165.6 534.5,154 534.8,153.1 536,245.9 536.5,267.1 537,273.9 537.3,274.9 537.8,275.4 540.5,275.1 541,273.7 541.3,271 542.8,208.7 543.8,258.7 544,266.9 544.3,270.2 544.5,269.1 545,253.2 546,193.3 546.3,194 546.5,204.9 547.5,265.2 547.8,271 548.3,274.9 548.5,275.2 548.8,274.8 549.3,269.9 550.5,230.3 551.8,269.9 552,273.6 552.5,275.9 554,276.4 554.8,275.9 555.3,273.5 556.3,263.9 556.5,263.4 557.8,274.6 558.3,276.2 558.5,275.9 559,271 560,249.2 560.5,256.1"/>
<polyline stroke="#bebebe" points="77.5,260.2 78.2,221 78.5,219.7 79.5,266.1 80,270.5 80.2,270.7 80.5,270.5 80.7,269.4 81.2,257.8 82,216.5 82.2,217.9 83,260.1 83.2,267.2 83.7,270.9 84.2,271 84.7,270.6 86.2,266.3 86.7,266.9 88,270.4 89.5,269.7 91,271.4 91.7,271 93.2,267.8 94.5,269.4 95.2,269 95.7,269.1 96.5,270.3 97,270.7 98.5,268.4 99.7,270.8 100.5,270.9 101,271.5 102,274.3 102.2,274.3 102.7,269.7 103,263.1 104,203.4 104.5,189.6 106,265.7 106.2,260.8 106.7,264.6 107.7,266.3 108.7,269 109.2,269.4 110.5,261.8 110.7,261.6 112,272.4 112.5,274.4 113.2,275.3 118.2,277.1 124.5,277.9 125,277.3 126.2,272.3 127.2,276.9 127.7,277.5 129.2,269.1 130.5,277.5 131,278.2 131.7,278.2 132.5,274.9 133.5,264.2 134.7,276.8 135.2,278.2 135.7,278.4 136.5,278.4 137,277.8 138.2,273.4 139.2,277.3 139.7,278 140,277.6 141.2,266.4 141.5,266.2 142.5,276.2 143,278.1 143.5,278.4 201.2,278 203.5,277.8 207.2,278 208,277.8 209.2,276.8 210.5,277.7 211.7,276.9 213,277.7 214.5,275.7 215.5,277.5 216.2,277.9 216.7,277.7 218,276.2 219.5,277.8 220.7,277.2 222.2,277.8 223.7,277.4 225.2,277.8 226.5,277.3 227.7,277.7 229.2,276.4 230.2,277.6 230.7,277.8 232.2,276.5 233.2,277.7 233.7,277.8 235.2,277.4 236.7,277.9 239.5,277.9 241,277.6 242.5,277.9 256.7,277.9 257.5,276.5 258,273.3 259.2,254.5 259.7,229.4 260.5,152.7 260.7,136.1 261,135.4 262.2,255.8 262.7,273.8 263,276.5 263.2,277.6 263.7,278.1 318.2,278.5 318.7,278.4 319.2,277.7 320.5,273.8 321.5,276.6 321.7,276.5 322.7,272.3 323,272.2 324.2,277.1 325.5,273.4 326.7,277.7 327.2,278.2 327.7,277.5 329,272.8 330.2,277.3 330.5,277.3 331.5,275.3 332.7,278 333.5,278.6 377.2,278.5 377.7,278.2 378.2,276.9 379.2,268.7 379.5,268.5 380.5,276.5 380.7,277.6 381.2,278.2 381.7,276.8 382.2,268.4 383.5,185.4 383.7,181.6 385,262.5 385.5,275 386,277.2 387.2,275.7 388.2,276.6 388.7,276.5 390,274.6 390.7,275.2 391.2,275.2 392.5,273 393.5,274.1 394,273.3 395,269.3 395.2,269.3 396.2,271.4 397.2,268.2 397.5,268.1 398.7,272 400.2,265 401.2,270 401.5,270.6 402.5,268.4 402.7,268.7 404,273.7 405.2,271.6 406.2,274.2 406.5,274.6 406.7,274.5 407.5,272.2 407.7,271.8 408,271.9 408.2,269.5 409.2,273.7 410,274.8 413,276 417.2,276.7 447.5,277.3 475.2,277.4 511.5,278.1 512,277.9 512.5,276.8 513.5,271 513.7,271.2 514.7,277 515.2,277.9 515.7,278 516.2,277.8 516.7,276.5 517.7,270.9 519,277 519.5,277.8 520.2,277.8 521.5,277.6 522,277.1 523.2,268.9 523.5,268.7 524.7,276.5 525,276.9 525.5,277.1 528.2,276.4 528.7,276.1 529.2,274.9 529.7,271.2 531.2,230.5 531.7,224.1 533,242.9 534,230.5 534.2,230.2 535.5,262.7 536.2,272.6 536.5,273.5 537,273.9 540.7,273.4 541.2,272.4 541.7,265.8 543,207.3 544.2,263.2 544.5,267.9 544.7,268 545.2,254.1 546,200.9 546.5,184.4 547.7,260.1 548,267.8 548.5,273.4 548.7,274 549,273.9 549.5,270.7 550.7,234 551,235 552,268.2 552.2,272.4 552.7,275.3 553.2,275.8 554,275.9 554.5,275.4 554.7,274.6 556,262.9 556.2,262.5 557.5,274.5 558,276.3 558.2,276.1 558.7,272.1 559.7,253.4 560.2,259.4"/>
<polyline stroke="#000000" points="77.7,258.3 78.5,214.6 78.7,213.2 79.5,256.3 79.7,264.8 80.2,269.6 80.5,269.9 80.7,269.8 81,268.9 81.2,266.1 82.2,225.9 82.5,227 83.2,261.3 83.5,267.1 84,270.1 84.7,270.2 85.2,269.7 86.7,265.2 87.2,265.8 88,268.5 88.5,269.4 90,267.4 91.2,269.6 91.7,269.9 93.5,265.6 94.7,268.1 96,267 97,268.2 97.2,268.2 98.2,266.6 98.7,267.2 99.7,269.8 101,270.7 102.2,274.5 102.7,275.1 103.2,272.5 103.7,260.7 105,196.7 105.2,197.5 105.5,206.5 106.2,250.2 106.5,249.5 107,259.9 107.5,262.8 109,267.2 109.2,267.6 109.5,267.6 110.7,258.9 111,258.7 112.5,272.5 113,273.8 114,274.5 119,276.3 124.7,277.1 125.2,276.5 126.5,271.7 127.5,276.2 127.7,276.7 128,276.7 129.5,266.7 130.7,276.5 131.2,277.5 131.7,277.6 132.2,277.2 132.5,276.4 133.7,267.1 135.2,277.2 136,277.7 137,277.4 138.5,271.7 139.5,276.4 140,277.3 140.5,275.9 141.5,266.7 141.7,266.5 142.7,275.6 143.2,277.4 143.7,277.8 201.5,278 203.7,277.5 205,277.9 206,277.4 207.7,278 208.5,277.7 209.5,276.1 209.7,276 211,277.8 212.5,275.9 213.5,277.3 214,276.6 214.7,274.2 215,274.2 216,277.3 216.5,277.8 217.7,276.6 219.2,278 220.7,276.9 222,277.9 223.5,277 225,278 226.5,276.3 227.5,277.8 228,278.1 228.7,277.6 229.5,276.3 230,276.4 230.5,277.3 231,277.6 232,276.1 232.2,276.2 233.2,277.9 233.7,278.2 234.5,278 235.5,277.4 237,278 238.2,276.7 239.2,277.9 240,278.3 241.5,277.9 242.7,278.3 245.2,278.4 256.5,278.3 257.2,277.1 257.7,274.3 259,257.5 259.5,233.7 260.2,161.3 260.5,145.6 260.7,144.9 262,257.6 262.5,274.4 262.7,277 263,278 263.5,278.4 318.2,278.2 318.7,278 319.2,277.3 320.5,273.5 321.5,276.3 321.7,276.3 323,271.3 324,276.2 324.5,277.2 325,276 326,271.1 327.5,277.4 328,276.7 328.2,275.3 329.2,268 329.5,268.5 330.5,275.8 330.7,276.3 331,276 332,271.7 333.2,276.9 334,278 377.5,277.8 378,277.5 378.5,276 379.5,267.1 379.7,266.9 380.7,275.7 381.2,277.4 382,277.5 382.5,275.7 383,265.2 384.2,161.3 384.5,156.5 385.7,257.7 386.2,273.2 386.7,275.6 387.5,275.2 388.7,276 390.2,272.4 391.5,273.9 392.7,270.1 393,270.1 394,271.8 395.2,266.1 395.5,266 395.7,266.8 396.5,270.3 396.7,270.4 397,269.8 398,265.7 399,269 399.2,268.9 400.2,263.8 400.5,263.8 401.2,268.3 401.7,269.7 402.7,264.8 403,264.6 403.2,265.4 404,269.4 404.2,269.3 405.2,265.5 406.2,271.8 406.7,273.5 407.7,269.7 408,269.2 408.2,269.5 408.5,267.3 409.2,271.9 409.7,273.5 410.2,274.1 413.7,275.7 418.2,276.5 450,277.6 511.5,278.3 512.2,278.2 512.7,277.6 513.7,274.5 514,274.5 515,277.6 515.5,278.1 516,278.2 516.5,278 517,277.3 518,274.3 519.5,277.8 520.2,277.9 522,277.6 522.5,276.7 523.5,271.8 523.7,271.6 525,276.7 525.5,277 526.5,276.9 529.5,276 530,275.5 530.5,274.2 531.2,268.3 532.5,247.5 533,244.4 534.5,258.7 535.7,240.6 536,239.9 537.7,270.9 538,272.2 538.5,273.2 540.7,272.9 541.2,271.4 541.7,263.4 542.7,224.8 543,225 543.2,232.3 544,263.3 544.2,267.6 544.5,268 544.7,263.9 546.2,168.2 547.5,253.1 548.2,272.2 548.7,273.4 549.2,271.1 550.5,236.6 550.7,235.5 551.7,266.1 552.5,274.5 553,275.1 554,275.4 554.5,275.2 554.7,274.7 555.2,271.6 556.2,258.4 556.5,257.7 557.7,273.2 558.2,275.7 558.5,275.8 558.7,275 559,273 560,259.9 560.5,264.2"/>
<polyline stroke="#ff0000" points="77.6,260.4 78.4,219 78.6,217.7 79.4,258.6 79.6,266.6 80.1,271.2 80.4,271.4 80.6,271.3 80.9,270.2 81.1,266.9 82.1,219.8 82.4,221.1 83.1,261.3 83.4,268.1 83.9,271.6 84.4,271.8 85.1,271.4 86.6,268.9 88.1,271.1 89.6,270 91.1,271.7 91.6,271.5 92.9,269.9 94.1,271.5 94.6,271.7 96.1,270.1 97.4,271.2 98.4,271.1 99.6,272.1 100.9,272.2 102.1,274.9 102.4,275 102.9,271.6 103.4,257.4 104.6,191.8 105.1,206.6 106.1,263.7 106.4,261.9 106.9,267 109.1,271 109.6,270.1 110.4,264.9 110.6,263.6 110.9,263.4 112.1,273 112.6,274.8 113.1,275.4 118.1,276.9 124.6,277.6 125.1,276.9 126.4,271.7 127.4,276.5 127.9,277.3 129.4,271.3 130.6,277.3 131.1,277.9 131.6,277.9 132.1,277.6 132.4,277 133.6,269 135.1,277.6 135.9,278 136.9,277.6 138.4,270.9 139.4,276.5 139.9,277.5 140.4,276.4 141.4,268.6 141.6,268.4 142.6,276.2 143.1,277.7 143.6,278 201.1,277.5 202.1,277.4 203.4,276.6 204.6,277.2 205.9,276.1 207.1,277.1 207.6,276.2 208.6,270.4 208.9,270.2 209.9,276 210.4,277 210.9,276.4 211.1,275.1 212.1,265 212.4,265 212.6,266.9 213.4,275.1 213.9,276.7 214.4,275.9 215.1,273.1 215.4,272.9 216.1,274.8 216.4,274.7 217.4,269.4 218.9,276.6 219.1,276.6 219.4,276.1 220.4,270.2 220.6,269.9 221.6,275.6 222.1,276.7 222.6,276.1 223.6,273.1 224.9,276.6 225.4,276.4 226.4,273.3 226.6,273.4 227.9,276.9 228.4,276.6 229.4,273.8 229.6,273.9 230.6,276.7 231.1,277 231.6,275.7 232.6,269.4 232.9,269.7 233.6,274.8 234.1,276.4 234.6,274.9 235.4,270.5 235.6,270.4 236.9,276.6 237.4,275.9 238.1,273.2 238.4,273.1 239.4,276.7 239.9,277.3 241.1,276.1 242.4,277.2 243.6,276.9 245.1,277.6 255.9,277.6 256.6,275.8 257.1,271.6 258.4,250.1 258.9,226.8 259.6,155 259.9,139.4 260.1,139.1 261.4,256.3 261.9,273.7 262.1,276.3 262.4,277.4 262.9,277.9 318.4,278.3 319.4,277.7 320.4,275.5 320.6,275.4 321.6,276.9 322.6,275.2 322.9,275.2 323.9,277.5 324.4,278 324.9,277.6 326.1,274.1 327.4,277.3 327.6,277.4 327.9,277.1 328.9,274.8 330.1,277.6 330.6,277.6 331.6,275.9 332.9,277.8 333.9,278.3 377.4,278 377.9,277.8 378.4,276.7 379.4,269.9 379.6,269.7 380.6,276.4 381.1,277.7 381.9,277.7 382.4,275.7 382.9,263.8 384.1,146.7 384.4,141.2 385.6,255.6 386.1,273.3 386.6,276.6 387.6,276.3 388.9,276.8 390.1,275.6 391.4,275.7 392.6,273.8 393.9,274.8 395.1,273 396.4,274.1 397.6,271.7 398.9,273.3 400.1,270.5 401.4,272.9 402.6,269.4 404.1,274.4 405.4,271.5 405.9,272.2 406.9,275.4 407.1,275.5 408.1,274.5 408.4,272 409.4,274.1 410.4,275.1 413.4,275.9 417.1,276.4 449.6,277 476.6,277.1 511.6,277.9 512.1,277.8 512.6,277 513.6,272.7 513.9,272.8 514.9,277.1 515.4,277.8 515.9,277.9 516.4,277.8 516.9,276.8 517.9,272.7 519.4,277.7 521.1,277.9 521.9,277.6 522.4,275.8 523.4,265.4 523.6,265.2 524.6,275.4 525.1,277.4 525.9,277.7 528.6,277.4 529.1,276.8 529.6,274.3 530.1,267.2 531.4,223.7 531.9,216.3 533.1,240.7 533.4,240.4 534.1,229.8 534.4,229.7 535.6,264.4 536.4,275 536.6,276 537.1,276.6 540.6,276.4 541.1,275.5 541.6,269.1 542.9,214.6 544.1,267.1 544.4,271.4 544.6,271.5 545.1,259.1 545.9,212.6 546.4,198.9 547.6,264.9 547.9,271.3 548.4,276 548.6,276.4 548.9,276.1 549.4,271.7 550.6,225.7 550.9,227.2 551.9,268.4 552.4,275.8 552.6,276.8 553.1,277.3 554.1,277.3 554.6,276.7 555.1,274.2 556.1,264 556.4,263.5 557.6,275.2 557.9,276.5 558.1,277 558.4,276.9 558.9,273.7 559.9,259.1 560.4,263.7"/>
<polyline stroke="#00cd00" points="77.2,260.7 77.9,223.1 78.2,221.9 78.9,259 79.2,266.4 79.7,270.6 79.9,270.8 80.2,270.6 80.4,269.7 80.7,266.7 81.7,224.7 81.9,225.9 82.7,261.8 82.9,267.8 83.4,271 83.9,271.1 84.4,270.9 86.2,267.6 87.7,270.3 89.2,269.3 90.7,270.9 91.2,270.2 92.4,267 92.9,267.7 93.7,270.1 94.2,270.7 95.7,268.3 96.9,269.9 97.9,269.6 98.4,269.8 99.4,271.2 100.4,272 101.7,275.1 102.2,275.5 102.7,272.3 103.2,259.1 104.4,194.5 104.9,207.1 105.7,252.2 105.9,252.3 106.4,262.2 106.9,264.9 108.4,268.7 108.7,269 108.9,268.9 110.2,260.3 110.4,260.1 111.7,271.9 112.2,274.1 112.9,275 115.4,276 118.2,276.8 124.2,277.5 124.7,276.6 125.9,269.9 126.9,276.1 127.4,277.1 128.9,269.4 130.2,277.2 130.7,277.9 131.2,278 131.7,277.5 131.9,276.7 133.2,265.9 134.7,277.6 135.4,278.1 136.4,277.8 137.9,272.1 138.9,276.8 139.4,277.7 139.9,276.2 140.9,266.1 141.2,265.9 142.2,275.9 142.7,277.9 143.2,278.2 200.7,278.4 201.7,278.3 202.9,277.1 204.2,278.1 204.7,277.3 205.7,273.8 206.7,276.9 206.9,277.3 207.2,276.9 208.2,270.8 208.4,270.6 209.7,277.5 209.9,277.5 210.2,277 211.2,272.5 211.4,272.8 212.2,276.5 212.7,277.4 213.2,275.3 213.9,269.1 214.2,268.7 215.2,276.3 215.4,277.4 215.9,278.1 216.7,277.2 217.7,273.6 218.7,276.3 218.9,276.3 219.9,272.6 220.9,276.6 221.4,277.6 222.7,274.1 222.9,274.1 224.2,277.9 224.4,278.1 224.9,277.7 225.9,275.6 226.2,275.6 227.2,277.8 227.7,278.1 228.2,277.2 229.2,272.6 229.4,272.6 230.7,277.6 231.9,275.1 233.4,278.2 233.9,278.1 235.2,275.4 236.4,278 237.7,277 238.9,278.4 240.2,277.7 241.9,278.6 243.4,278.3 245.4,278.7 254.9,278.7 255.7,277.1 256.2,273.3 257.4,253.4 257.9,229.7 258.7,157.2 258.9,141.4 259.2,141 260.4,257.4 260.9,274.7 261.2,277.3 261.4,278.4 261.9,278.8 317.4,278.5 317.9,278.4 318.4,277.8 319.7,273.9 320.7,276.8 320.9,277.1 321.2,276.8 321.9,273.3 322.2,272.4 322.4,272.3 323.4,277 323.9,278 324.4,277.5 325.7,273 326.9,276.8 328.2,273.2 329.7,277.8 330.2,277.3 331.2,274.8 332.4,277.8 333.2,278.3 376.9,278.2 377.4,278 377.9,276.6 378.9,268.5 379.2,268.3 380.2,276.3 380.7,277.9 381.4,278 381.9,276.3 382.4,266.2 383.7,166.6 383.9,162 385.2,259.2 385.7,274.2 386.2,277 387.4,275.9 388.2,276.3 388.7,276.3 389.9,274.8 390.7,275.4 391.2,275.3 392.4,272.6 393.4,273 394.4,271 394.7,270.9 395.7,272.7 396.9,269.5 397.2,269.5 397.4,270 398.4,272.8 398.9,271.8 399.7,267.3 400.2,266.1 401.2,269.4 402.2,267.6 403.7,273.8 404.9,271.9 406.4,275.6 407.7,273.8 407.9,270.8 409.2,274.3 409.9,275.1 413.4,276.4 417.9,277.1 449.9,278.1 511.2,278.7 511.7,278.4 512.2,276.5 513.2,267.3 513.4,267.5 514.4,276.8 514.9,278.4 515.4,278.6 515.9,278.2 516.4,276.1 517.4,267.1 518.7,276.9 519.2,278.2 520.9,278.3 521.7,277.7 522.9,270.4 523.2,270.2 524.4,277.2 525.2,277.7 527.9,277.2 528.4,276.8 528.9,275.5 529.4,271.2 530.9,223.5 531.4,216.1 532.7,238.3 533.7,223.9 533.9,223.5 535.2,261.8 535.9,273.5 536.2,274.5 536.7,275.1 540.2,274.7 540.7,273.6 541.2,266.9 542.4,216.8 543.7,266.9 543.9,270.3 544.2,269.8 544.7,256.7 545.4,212.5 545.7,203 545.9,202.4 547.2,265.2 547.4,270.8 547.9,274.7 548.2,274.9 548.4,274.5 548.9,269.1 550.2,220.2 551.4,267.8 551.9,274.9 552.2,275.8 552.7,276.3 553.7,276.4 554.2,275.8 554.7,273.2 555.7,261.9 555.9,261.3 557.2,274.4 557.4,275.9 557.7,276.5 557.9,276.5 558.4,273.3 559.4,258.5 559.9,263.2"/>
<polyline stroke="#0000ff" points="76.9,262.7 77.6,228.3 77.9,227.2 78.6,261.1 78.9,267.8 79.4,271.6 79.9,271.7 80.1,270.8 80.4,268.1 81.4,230 81.6,231 82.4,263.6 82.6,269 83.1,271.9 83.9,272 85.4,270.6 85.9,270.8 87.1,272 87.6,272 89.1,271 90.6,272.1 91.1,272 92.4,270.6 93.9,271.5 95.1,270.7 96.4,271.9 98.1,271.6 100.1,272.9 101.4,275.1 101.6,275.3 101.9,274.8 102.6,261.7 103.6,199.1 104.1,186.3 105.4,257.4 106.1,267.2 106.6,269.1 108.4,271.6 108.9,270.7 109.6,266 110.1,264.6 111.4,273.2 111.9,274.8 112.4,275.3 117.4,276.7 123.9,277.3 124.4,276.7 125.6,272.3 126.6,276.3 127.1,276.8 128.6,268.7 129.9,276.7 130.4,277.5 131.1,277.4 131.9,274.8 132.9,266.4 134.1,276.4 134.6,277.5 135.1,277.6 135.9,277.6 136.4,277.1 137.6,273.3 138.6,276.7 139.1,277.3 139.4,277 140.6,268 140.9,267.9 141.9,275.8 142.4,277.4 142.9,277.6 200.1,277.9 202.1,277.6 203.9,277.9 205.6,277.3 206.6,277.8 208.1,277.5 209.6,277.9 211.4,276.8 212.9,277.9 214.4,277 215.6,277.8 217.1,277.5 218.4,277.9 219.9,276.8 221.1,277.8 221.6,277.8 222.6,277 224.1,277.9 225.6,276.8 226.9,278 228.6,277.6 230.1,278 230.6,277.9 231.9,276.7 233.1,277.9 234.4,277.8 235.6,278.1 237.1,277.7 238.9,278.2 240.6,277.8 241.9,278.2 244.4,278.2 257.1,278.1 257.9,276.5 258.4,272.8 259.6,252.7 260.1,228.8 260.9,155.5 261.1,139.7 261.4,139.2 262.6,256.6 263.1,274.1 263.4,276.8 263.6,277.8 264.1,278.3 317.4,278.1 318.1,277.8 319.4,275.8 320.9,277.8 321.4,277.6 322.6,275.5 323.6,277.1 323.9,277.1 325.1,274.8 326.4,277.4 326.9,277.2 327.9,275.2 328.4,275.6 329.1,277.3 329.6,277.6 330.9,275.2 331.4,275.7 332.4,277.7 333.1,277.9 376.6,277.7 377.1,277.5 377.6,276.5 378.6,270.3 378.9,270.2 379.9,276.2 380.4,277.4 380.9,277.5 381.4,276.4 381.6,274.2 382.1,260 383.4,182.4 384.6,259.9 385.1,273.9 385.6,276.6 386.6,276.3 387.6,276.8 388.1,276.8 389.4,275.5 390.6,275.8 391.9,274.1 392.9,275 393.1,274.9 394.1,273.4 395.4,274.7 395.6,274.6 396.9,272 398.1,274 399.4,272.5 400.9,275 402.1,272.9 402.6,273 403.4,274.3 404.6,272.7 405.6,275 406.1,275.5 406.9,275 407.4,275.2 407.6,273.2 408.4,274.6 409.6,275.3 413.1,276.2 417.6,276.6 450.1,277.5 510.6,278.2 511.4,277.9 511.9,276.1 512.9,267 513.1,267.2 514.1,276.4 514.6,277.9 515.1,278.1 515.6,277.7 516.1,275.7 517.1,266.7 518.4,276.5 518.9,277.8 520.6,277.8 521.4,277.4 522.6,272.2 522.9,272 523.9,276.4 524.4,277.3 527.6,276.8 528.1,276.5 528.6,275.5 529.1,271.9 530.6,233.1 531.1,227 532.4,243.8 533.4,229.6 533.6,229.2 534.9,263.1 535.6,273.4 535.9,274.4 536.4,274.9 540.1,274.5 540.6,273.7 541.1,268.6 542.4,229.4 543.6,268.2 543.9,270.8 544.1,270.2 544.6,258.2 545.6,207.8 545.9,207 547.1,265.4 547.4,270.7 547.9,274.5 548.1,274.8 548.4,274.5 548.9,270.5 550.1,232.7 551.4,269.2 551.6,273.1 552.1,275.7 552.6,276.1 553.4,276.1 553.9,275.4 554.1,274.3 555.4,259.4 555.6,258.8 556.9,273.7 557.1,275.3 557.4,276 557.6,275.9 558.1,271.5 559.1,251.5 559.6,257.8"/>
<polyline stroke="#00ffff" points="77.5,257.3 78.2,215.2 78.5,213.9 79.2,255.5 79.5,263.7 80,268.4 80.2,268.7 80.5,268.5 80.7,267.6 81,264.7 82,222.6 82.2,223.7 83,259.7 83.2,265.8 83.7,268.9 84.2,268.9 84.7,268.1 86.2,262.3 87.7,267.9 88,268.2 88.2,268.1 89.5,266.2 91,268.8 91.5,268 92.5,262.8 93,261.8 94,266.2 94.5,267.3 95.7,264 96,264 97,266.4 97.5,265.7 98,264 98.2,263.6 98.5,263.7 99.5,266.6 100.5,268.3 101.7,273.6 102.2,274.3 102.7,270.4 103,264.6 104,212.3 104.5,199.9 106,265.1 106.2,254.9 106.7,257.9 107.5,259.1 108.7,264.1 109.2,265 110.5,254.3 110.7,254.1 112.2,271.7 113,273.7 115.5,275.4 120,277 124.5,277.7 125,276.8 126.2,269.7 127.2,276.3 127.7,277.3 129.2,267.8 130.5,277.3 131,278.2 131.7,278.2 132.5,274.9 133.5,264.2 135,277.8 135.7,278.5 136.7,278.1 138.2,270.9 139.2,276.8 139.7,277.9 140.2,275.9 141.2,262.5 141.5,262.2 142.5,275.5 143,278.1 143.5,278.5 201,278.1 202,277.9 203.2,277.2 204.7,278 205.5,277.6 206.5,276.3 207.5,277.5 208,277.6 209.2,273.4 209.5,273.3 210.7,277.3 211.2,276.3 212,273 212.2,272.9 213.2,276.8 213.5,277 213.7,276.9 214.5,275.6 216,277.6 217.2,275.9 218.5,277.6 219.2,277.7 220.5,275.8 220.7,275.8 222,277.7 222.5,277.6 223.7,276.2 224.7,277.5 225.2,277.6 226.5,275.7 227.7,277.3 229,273.9 229.2,274 230.5,277.6 231,277.2 232,275 233,277.1 233.5,277.6 234.7,275.4 235,275.3 236,277.5 236.5,277.8 237.7,277.4 239.5,278 241,277.3 242.7,278 256,278.2 257,278 257.7,276.2 258.2,273.1 259.2,259.2 259.7,233.6 260.5,155.8 260.7,138.9 261,137.9 262.2,256.3 262.7,274 263,276.7 263.2,277.8 263.7,278.2 318.2,278.7 318.7,278.4 319.2,277.2 320.5,270.1 321.7,276.3 322.7,270.6 323,269.5 323.2,269.8 324,275.2 324.5,276.7 325.7,267.7 326,267.6 327,276 327.2,277 327.5,277.1 328.7,266.3 329,265.9 330.2,276.2 330.5,276.3 331.5,272.9 332.7,277.8 333.5,278.7 377.2,278.5 377.7,278.2 378.2,276.3 379.2,265 379.5,264.8 380.7,277.4 381.2,278.3 382,278.2 382.5,276.7 382.7,273.9 383.2,255.8 384.5,156.3 385.7,255.1 386.2,272.4 386.7,275 387.5,274.3 388.5,275.2 389.7,272.6 390,272.6 390.7,274 391.2,274.1 392.7,268.7 393.7,270.8 394,270.8 395.2,265.6 395.5,265.5 396.2,267 396.5,266.5 397.5,259.5 397.7,259.5 398.5,265 398.7,266.3 399,266.3 400.2,256.7 401.5,266.4 401.7,266.2 402.7,258.6 403,258.8 404,267 404.2,267.5 404.7,266.9 405,266.9 406.2,272.6 406.5,272.7 407.5,270.2 408,271.4 408.2,268.5 409,272 410,273.5 413,275.3 417,276.3 423,276.8 446.2,277.4 475.2,277.5 511.5,278.3 512,277.9 512.5,275.8 513.5,264.9 513.7,265.1 514.7,276.1 515.2,277.9 515.7,278.2 516.2,277.7 516.7,275.3 517.7,264.6 519,276.2 519.5,277.8 521.2,277.9 522,277.2 523.2,268.6 523.5,268.4 524.5,275.7 525,277 525.5,277 526.2,275.2 526.7,270.2 528.5,221.7 528.7,222 529,226.3 530.2,258.1 530.7,251.6 531.7,225.6 532.2,232.8 533.2,265.4 533.7,272.3 534.2,274.2 534.7,274.5 540.5,273.2 541,271.9 541.5,264.5 542.5,224.3 542.7,223.1 543.7,262.3 544,267.8 544.2,269.5 544.5,267.7 546,202.4 546.5,215.8 547.2,258.5 548,272.9 548.2,273.7 548.5,273.8 548.7,273 549.2,265.3 550.5,213.3 551.5,260.1 552.2,274.5 552.5,275.3 553.2,275.8 554,275.9 554.5,275.2 555,272 556,258.7 556.2,258.1 557.5,273.7 557.7,275.4 558,276.2 558.2,276.1 558.7,271.8 559.7,251.9 560.2,258.2"/>
<polyline stroke="#ff00ff" points="77.4,258.7 78.1,224.6 78.4,223.6 79.4,264 79.9,267.8 80.1,268 80.4,267.8 80.6,266.8 81.1,256.2 81.9,218.2 82.1,219.5 82.9,258.3 83.1,264.8 83.6,268.2 84.1,268.3 84.6,267.8 86.1,263 86.6,263.6 87.4,266.6 87.9,267.6 88.4,267.1 89.1,264.5 89.6,263.7 91.1,267.3 91.6,266.5 92.6,263.2 93.1,263.8 94.1,266.8 94.4,266.7 95.6,263.9 96.6,266.4 96.9,266.7 97.1,266.6 98.4,263.8 100.4,268.6 101.9,273.8 102.4,274.3 102.9,271.4 103.4,259.1 104.6,203.5 105.1,216.1 105.9,254.1 106.1,247.8 106.6,255.4 108.6,263.2 109.1,264 110.4,254.1 110.6,254 111.9,269 112.4,271.8 113.1,272.9 115.6,274.4 119.9,276 124.4,276.6 124.9,275.7 126.1,268.6 127.1,275.2 127.6,276.3 129.1,268.6 130.4,276.4 130.9,277.2 131.6,277.1 132.4,273.9 133.4,263.6 134.9,276.8 135.6,277.4 136.4,277.3 136.6,276.9 138.1,268.7 139.1,275.5 139.6,276.8 140.1,275.1 141.1,263.2 141.4,263 142.4,274.7 142.9,277.1 143.4,277.4 200.9,277.6 202.6,277.2 204.4,277.5 205.9,276.3 207.1,277.3 207.6,276.7 208.4,273.3 208.6,272.5 208.9,272.4 210.1,276.9 211.4,274.2 211.6,274.3 212.9,277.2 213.4,276.8 213.6,275.9 214.6,270.2 215.9,276.6 216.4,277.3 217.9,275.5 219.1,277.1 220.4,273.9 220.6,273.9 221.9,277 222.4,276.3 223.4,273.2 224.6,276.8 225.9,273.8 226.1,273.9 227.1,277 227.6,277.4 228.1,276.8 229.4,271.2 230.4,275.7 230.6,276 230.9,275.4 231.6,272.8 233.1,277.4 233.6,277.2 234.9,273.8 235.9,276.9 236.4,277.5 236.9,277.2 237.9,275.2 238.9,277.1 239.4,277.5 240.6,276.3 241.6,277.6 242.1,277.8 243.6,277.3 245.4,278 255.4,278.1 256.4,277.8 257.1,275.9 257.6,272.4 258.6,258.3 259.1,233.8 259.9,159.3 260.1,143.2 260.4,142.3 261.6,256.9 262.1,274 262.4,276.6 262.6,277.6 263.1,278.1 317.9,277.9 318.4,277.6 318.9,276.2 319.9,270.5 320.1,270.5 320.4,271.6 321.1,276.2 321.4,276.7 321.6,276.6 322.9,267.9 323.1,267.7 323.9,273.1 324.1,274.5 324.4,274.7 325.6,266.9 326.6,274.8 327.1,276.8 327.6,275.7 328.6,266.9 328.9,266.4 330.1,276 330.4,276.5 330.6,276.1 331.4,272.2 331.6,271.2 331.9,271.1 332.9,276.2 333.4,277.5 333.9,277.8 377.1,277.5 377.6,277.2 378.1,275.3 379.1,264 379.4,263.8 380.4,274.8 380.9,277 381.1,277.3 381.6,277.2 382.1,275.4 382.6,265.5 383.9,167.1 384.1,162.5 385.4,258.3 385.9,272.8 386.4,275 387.1,273.8 388.4,274.4 389.6,271.8 390.6,273.2 391.1,272.9 392.4,266.7 392.6,266.3 393.4,268 393.6,268.1 394.9,261.1 395.9,265.2 396.1,265.2 397.1,258.1 397.4,257.9 398.6,267.3 398.9,267.5 399.1,266.8 400.1,261.4 401.1,266.2 401.4,266.9 401.6,266.4 402.4,260 402.6,258.3 402.9,258.2 403.9,266.2 404.1,266.8 405.1,263.9 406.4,271.4 406.6,271.6 406.9,271 407.6,268.5 407.9,268.7 408.1,265.6 409.1,271.2 409.9,272.7 413.1,274.6 417.6,275.8 423.6,276.3 448.6,277.2 511.1,278 511.9,277.9 512.4,277.3 513.4,274.1 513.6,274.1 514.6,277.4 515.1,277.9 515.6,278 516.1,277.9 516.6,277.1 517.6,274 519.1,277.7 520.9,277.8 521.6,277.6 522.1,276.4 523.1,269.5 523.4,269.3 524.4,276 524.9,277.3 525.6,277.5 528.4,277 528.9,276.3 529.4,273.6 529.9,265.4 531.1,215.8 531.6,207.3 532.9,237.9 533.1,239.1 533.9,231.1 534.1,231.2 534.4,234.8 535.9,272.6 536.6,275.8 537.4,276 540.1,275.7 540.6,274.9 541.1,270.2 542.4,233.6 543.6,269.4 543.9,271.1 544.1,268.7 544.6,247.3 545.6,160.1 545.9,158.6 547.1,259.4 547.4,268.5 547.9,275 548.1,275.5 548.4,275.3 548.9,270.9 550.1,229.8 551.4,269.3 551.6,273.4 552.1,276.2 552.6,276.6 553.6,276.7 554.4,276.1 554.9,273.9 555.9,264.5 556.1,264 557.4,274.8 557.9,276.5 558.1,276.2 558.6,272.1 559.6,253.7 560.1,259.5"/>
<polyline stroke="#ffff00" points="77.2,255.9 77.9,220 78.2,218.9 79.2,261.4 79.7,265.5 79.9,265.7 80.2,265.6 80.4,264.7 80.9,254.9 81.7,220 81.9,221.2 82.7,256.9 82.9,262.9 83.4,266 83.9,265.8 84.4,264.2 85.4,256.5 85.9,254.7 87.2,263.3 87.7,265 88.2,264.4 89.2,261.8 89.7,262.6 90.4,265.2 90.9,265.6 91.4,264.1 92.2,259.4 92.7,258.2 93.9,264.4 94.4,265.1 95.7,261.9 96.7,262.4 97.9,258.9 99.2,264.2 99.4,264.8 100.2,265.1 100.4,265.6 101.4,270.8 101.7,271.5 101.9,271 102.7,250.6 103.9,162.3 104.2,165.6 105.7,262.6 105.9,247.5 106.2,249.3 106.9,250.4 107.4,252 108.4,258.2 108.9,259.7 109.4,256.5 110.2,247.2 110.4,247.1 111.9,269 112.7,271.6 114.7,273.5 116.7,274.8 119.2,275.9 122.7,276.9 124.2,277 124.7,275.8 125.9,266.2 126.9,275.1 127.4,276.6 128.9,265.9 130.2,276.7 130.7,277.8 131.4,277.7 131.9,275.9 132.2,273.4 133.2,259.5 134.4,276 134.9,277.8 135.4,278.1 136.2,278 136.7,276.9 137.9,269.1 138.9,276.2 139.2,277.2 139.4,277.6 139.7,277.2 140.9,265.2 141.2,265 142.2,275.7 142.7,277.8 143.2,278.2 200.7,277.8 202.7,277.3 204.4,277.7 205.7,277.2 207.2,277.7 208.7,276.6 209.7,277.3 210.2,277.4 211.4,276 212.4,277.3 213.2,277.6 214.7,276.6 215.9,277.1 217.2,275.6 218.2,277.2 218.7,277.5 219.9,277 221.7,277.4 222.9,275.9 224.2,277.4 224.7,277.5 225.4,277.1 226.4,275.5 227.7,277 228.9,275.4 230.2,277.3 231.4,276.3 233.2,277.6 234.9,276.6 236.4,277.6 238.2,276.7 239.2,277.5 240.7,277.2 242.2,277.7 255.4,277.6 256.2,276.3 256.7,273.3 257.9,255.5 258.4,231.4 259.2,158.1 259.4,142.2 259.7,141.5 260.9,256.5 261.4,273.7 261.7,276.3 261.9,277.3 262.4,277.8 317.9,278.2 318.4,277.9 318.9,276.2 320.2,266.1 320.9,271.2 321.2,272.1 321.4,271 322.4,258.9 323.9,275.2 325.2,266.5 326.4,275.9 326.7,276.6 326.9,276 327.9,263.4 328.2,261 328.4,261.1 329.4,274.4 329.9,277.3 330.2,277.3 330.4,276.4 331.7,264.9 333.2,277.2 333.7,278.2 334.4,278.3 377.2,278.1 377.7,277 377.9,275.3 378.9,260.6 379.2,260.2 380.4,276.7 380.9,277.9 381.7,277.9 382.2,276.7 382.4,274.6 382.9,261.1 384.2,187.1 385.4,259.9 385.7,268.1 386.2,272.7 386.9,271.3 387.9,273.4 388.2,273.4 389.4,267.7 389.7,267.7 390.4,270.4 390.7,270.9 390.9,270.6 392.2,262.4 392.4,262.3 393.4,266.4 393.9,263.9 394.7,256.7 394.9,256 395.7,259.3 395.9,259.2 396.9,248.8 397.2,248.4 398.4,261.5 398.9,258.1 399.7,247.6 399.9,247 400.9,258.1 401.2,258.8 401.9,255.2 402.2,255.3 403.4,266.5 403.7,266.4 403.9,264.9 404.9,255.5 406.2,267 406.4,267.2 407.2,263.2 407.4,263 407.7,264.1 407.9,261 408.7,268.4 409.4,271.2 410.7,272.7 412.4,274 414.4,274.9 416.7,275.6 423.4,276.4 444.2,277 475.7,277.1 510.9,277.8 511.7,277.8 512.2,277.2 513.2,274.7 513.4,274.7 514.4,277.3 515.4,277.8 515.9,277.7 516.4,277.1 517.4,274.6 518.7,277.3 519.7,277.7 521.2,277.6 521.7,277.3 522.9,272.2 523.2,272.1 524.2,276.4 524.7,277.2 528.4,276.7 528.9,275.9 529.2,274.5 529.7,266.5 530.9,193.6 531.4,179 532.7,222.5 533.7,161.3 533.9,149.4 534.2,148.5 535.4,244.8 535.9,266.7 536.4,273.8 536.7,274.8 537.2,275.3 539.7,275.2 540.2,275 540.4,274.5 540.7,273.1 541.2,264.4 542.2,231.5 543.4,268.2 543.7,271.1 543.9,270.7 544.4,258.3 545.2,212.1 545.7,197.7 546.9,263.3 547.2,270 547.7,274.8 547.9,275.3 548.2,275.1 548.7,271.5 549.9,232.2 550.2,233.2 551.2,268.6 551.4,273 551.9,276 552.4,276.5 553.4,276.7 553.9,276.4 554.2,276 554.7,273.1 555.7,260.9 555.9,260.3 557.2,274.3 557.4,275.9 557.7,276.6 557.9,276.5 558.4,272.9 559.4,256.6 559.9,261.7"/>
<polyline stroke="#bebebe" points="77,263 77.8,229.3 78,228.2 79,268.1 79.5,271.9 79.8,272.1 80,271.8 80.3,270.7 80.8,258.8 81.5,216.5 81.8,217.9 82.5,261.1 82.8,268.4 83.3,272.2 84,272.3 85.5,271 87.3,272.2 88.8,271.2 90.5,272.6 91,272.4 92.3,271 94,272.6 95.3,272.1 96.5,272.2 97.8,271.6 99.8,272.7 101.3,275.5 101.5,275.7 101.8,275.4 102.3,271 102.5,264.9 103.5,207.6 104,192.1 105.5,266.2 105.8,264.5 106.3,268.9 108.5,272.2 109,271.2 109.8,266.1 110.3,264.6 111.5,273.8 112,275.5 112.5,276 117.8,277.5 124,278 124.5,277.3 125.8,271.9 126.8,276.9 127.3,277.7 128.8,271.9 130,277.8 130.5,278.3 131,278.4 131.5,278.1 131.8,277.5 133,270 134.5,278.1 135.3,278.5 136.3,278.1 137.8,271.9 138.8,277.1 139.3,278.1 139.8,277.1 140.8,269.9 141,269.7 142,276.9 142.5,278.3 143,278.5 200.5,278 201.5,277.8 202.8,277.1 204.3,277.8 204.8,277.5 205.8,275.7 206,275.7 206.8,277 207.3,277.4 208.8,272.9 209.5,275.5 209.8,276.1 210,275.9 211,271.1 211.3,271.4 212.3,276.7 212.8,277.5 213.3,277.1 213.5,276.3 214.5,270.8 214.8,271 215.8,276.4 216,276.8 216.3,276.8 217,275.7 217.3,275.7 218.5,277.4 219.3,276.8 220.3,274.2 221.5,276.9 222,276.4 222.8,274.5 223,274.6 224.3,277.2 224.8,276.9 225.8,274.2 226,274.3 226.8,276.5 227.3,277 228.5,273 228.8,273 230,277 231.3,274.6 231.5,274.7 232.5,277.2 233,277.4 233.5,276.4 234.5,272.1 236,277.3 236.5,276.9 237.5,275.2 238.5,277.2 239,277.6 239.5,277.5 240.8,276 241.8,277.4 242.3,277.7 243.5,277.2 245.3,277.8 255.5,278 256.5,277.7 257.3,275.6 257.8,271.9 258.8,257.3 259.3,232.3 260,156.5 260.3,140.1 260.5,139.2 261.8,256.3 262.3,273.8 262.5,276.5 262.8,277.5 263.3,278 317.5,278.4 318.3,278.2 319.5,276.9 320.8,277.9 322,275.2 322.3,275.1 323.3,277.7 323.8,278.2 324.3,278 325.3,276.5 326.8,278.2 327.3,277.9 328.5,275 329.8,277.9 330.3,278 331.3,276.7 332.5,278.2 333.3,278.5 376.8,278.5 377.3,278.3 377.8,277.3 378.8,271.1 379,271 380.3,277.9 380.8,278.4 381.3,278.2 381.8,276.2 382.3,264.6 383.5,150 383.8,144.7 385,256.7 385.5,274 386,277.3 388,277.6 389.5,276.5 390.8,276.7 392,274.9 393,275.5 394.3,273.7 395.3,275.1 395.8,275.3 397,272.2 398,274.3 398.5,274.7 399.8,271.7 401,274.8 401.3,274.8 402.3,272.4 402.5,272.3 403.5,274.4 404.5,273.9 404.8,274.2 406,276.6 407.5,275.1 407.8,272.9 408.8,275.1 409.5,275.7 412.8,276.6 417,277 449.5,277.4 475.8,277.3 511,278 511.5,277.6 512,274.9 513,261.6 513.3,261.9 514.3,275.4 514.8,277.7 515.3,278 515.8,277.4 516.3,274.4 517.3,261.5 518.5,275.8 519,277.7 519.5,278 520.8,277.9 521.5,277.4 522.8,269.7 523,269.6 524,276.2 524.5,277.5 525.3,277.7 528,277.3 528.5,276.8 529,274.9 529.5,269.1 530.8,234.3 531.3,228.2 532.5,244.6 533.5,229.3 533.8,228.9 535,264.1 535.8,274.8 536,275.8 536.5,276.4 540.3,276.2 540.8,275.1 541.3,269 542.3,235 542.5,233.8 543.5,266.6 544,271.9 544.3,269 545.8,179.2 546.3,196.4 547,254.9 547.8,274.9 548,276.1 548.3,276.3 548.5,275.9 549,271.2 550.3,238.1 551.3,267.3 552,276.6 552.3,277.1 553,277.3 553.5,277.3 554,276.7 554.5,274.2 555.5,263.6 555.8,263 557,275.2 557.5,277.1 557.8,276.8 558.3,272.7 559.3,253.9 559.8,259.8"/>
</g>
<g stroke="#444" stroke-width="1.2" fill="none"><rect x="58.5" y="26.8" width="521.5" height="262.7"/><path d="M77.3 289.5v5"/><path d="M198.0 289.5v5"/><path d="M318.8 289.5v5"/><path d="M439.5 289.5v5"/><path d="M560.2 289.5v5"/><path d="M58.5 278.5h-5.5"/><path d="M58.5 198.1h-5.5"/><path d="M58.5 117.7h-5.5"/><path d="M58.5 37.3h-5.5"/></g>
<text x="77.1" y="305.8" font-size="7.3" text-anchor="middle">4000</text><text x="197.8" y="305.8" font-size="7.3" text-anchor="middle">4875</text><text x="318.6" y="305.8" font-size="7.3" text-anchor="middle">5750</text><text x="439.3" y="305.8" font-size="7.3" text-anchor="middle">6625</text><text x="560.0" y="305.8" font-size="7.3" text-anchor="middle">7500</text><text transform="translate(47.7 278.8) rotate(-90)" font-size="7.3" text-anchor="middle">0.0e+00</text><text transform="translate(47.7 198.4) rotate(-90)" font-size="7.3" text-anchor="middle">5.0e+06</text><text transform="translate(47.7 118.0) rotate(-90)" font-size="7.3" text-anchor="middle">1.0e+07</text><text transform="translate(47.7 37.6) rotate(-90)" font-size="7.3" text-anchor="middle">1.5e+07</text><text transform="translate(29.9 158.5) rotate(-90)" font-size="7.5" text-anchor="middle">intensity</text>
<text x="321.3" y="11.9" font-size="8.95" font-weight="bold" text-anchor="middle" fill="#000" xml:space="preserve">4000  -  7500</text>
<text class="s" x="4.3" y="170.8" font-size="22">a</text><text class="s" x="4.6" y="429" font-size="22">b</text><text class="s" x="4.3" y="680.7" font-size="22">c</text><text class="s" x="637.4" y="171.8" font-size="22">d</text>
<g id="pb">
<rect x="76" y="316" width="483" height="241" fill="#ff1400"/>
<path fill="#ff2900" d="M100 316h1v6h-1zM111 316h5v6h-5zM124 316h3v6h-3zM128 316h1v6h-1zM136 316h2v6h-2zM318 316h3v6h-3zM322 316h9v6h-9zM346 316h3v6h-3zM379 316h1v6h-1zM385 316h5v6h-5zM391 316h2v6h-2zM405 316h1v6h-1zM407 316h5v6h-5zM511 316h2v6h-2zM515 316h2v6h-2zM523 316h1v6h-1zM527 316h1v6h-1zM536 316h4v6h-4zM552 316h2v6h-2zM556 316h1v6h-1zM89 322h1v6h-1zM98 322h3v6h-3zM110 322h2v6h-2zM124 322h2v6h-2zM127 322h2v6h-2zM131 322h2v6h-2zM136 322h2v6h-2zM139 322h2v6h-2zM260 322h1v6h-1zM321 322h1v6h-1zM327 322h1v6h-1zM377 322h3v6h-3zM391 322h18v6h-18zM512 322h1v6h-1zM516 322h1v6h-1zM523 322h2v6h-2zM532 322h1v6h-1zM539 322h1v6h-1zM547 322h1v6h-1zM551 322h1v6h-1zM553 322h1v6h-1zM556 322h1v6h-1zM113 328h6v6h-6zM123 328h1v6h-1zM126 328h1v6h-1zM133 328h1v6h-1zM137 328h2v6h-2zM207 328h1v6h-1zM213 328h1v6h-1zM216 328h1v6h-1zM218 328h2v6h-2zM227 328h2v6h-2zM230 328h1v6h-1zM318 328h1v6h-1zM320 328h1v6h-1zM325 328h1v6h-1zM329 328h1v6h-1zM331 328h1v6h-1zM379 328h1v6h-1zM384 328h3v6h-3zM410 328h9v6h-9zM513 328h1v6h-1zM515 328h1v6h-1zM517 328h1v6h-1zM527 328h1v6h-1zM535 328h5v6h-5zM551 328h1v6h-1zM553 328h1v6h-1zM556 328h1v6h-1zM100 334h1v6h-1zM111 334h5v6h-5zM124 334h3v6h-3zM128 334h1v6h-1zM136 334h3v6h-3zM255 334h1v6h-1zM318 334h1v6h-1zM320 334h3v6h-3zM324 334h3v6h-3zM328 334h3v6h-3zM379 334h1v6h-1zM384 334h7v6h-7zM405 334h1v6h-1zM408 334h6v6h-6zM511 334h2v6h-2zM515 334h1v6h-1zM517 334h1v6h-1zM521 334h2v6h-2zM528 334h1v6h-1zM536 334h4v6h-4zM551 334h3v6h-3zM556 334h1v6h-1zM112 340h7v6h-7zM123 340h1v6h-1zM125 340h2v6h-2zM133 340h1v6h-1zM135 340h1v6h-1zM137 340h2v6h-2zM141 340h1v6h-1zM255 340h1v6h-1zM317 340h1v6h-1zM319 340h2v6h-2zM322 340h2v6h-2zM325 340h1v6h-1zM328 340h2v6h-2zM331 340h1v6h-1zM379 340h1v6h-1zM384 340h4v6h-4zM409 340h7v6h-7zM511 340h1v6h-1zM515 340h1v6h-1zM517 340h1v6h-1zM523 340h1v6h-1zM527 340h1v6h-1zM536 340h4v6h-4zM551 340h3v6h-3zM556 340h1v6h-1zM100 346h1v6h-1zM111 346h6v6h-6zM124 346h3v6h-3zM133 346h1v6h-1zM136 346h3v6h-3zM318 346h9v6h-9zM328 346h3v6h-3zM379 346h1v6h-1zM384 346h7v6h-7zM408 346h5v6h-5zM513 346h1v6h-1zM515 346h1v6h-1zM517 346h1v6h-1zM532 346h1v6h-1zM539 346h1v6h-1zM547 346h1v6h-1zM551 346h1v6h-1zM553 346h1v6h-1zM556 346h1v6h-1zM98 352h3v6h-3zM110 352h3v6h-3zM124 352h2v6h-2zM128 352h1v6h-1zM131 352h2v6h-2zM136 352h2v6h-2zM139 352h2v6h-2zM321 352h2v6h-2zM324 352h1v6h-1zM327 352h1v6h-1zM377 352h2v6h-2zM384 352h1v6h-1zM391 352h14v6h-14zM406 352h3v6h-3zM511 352h1v6h-1zM515 352h1v6h-1zM517 352h1v6h-1zM521 352h2v6h-2zM527 352h1v6h-1zM536 352h4v6h-4zM551 352h3v6h-3zM556 352h1v6h-1zM112 358h6v6h-6zM123 358h1v6h-1zM125 358h2v6h-2zM128 358h1v6h-1zM133 358h1v6h-1zM137 358h1v6h-1zM322 358h2v6h-2zM325 358h2v6h-2zM328 358h2v6h-2zM331 358h1v6h-1zM379 358h1v6h-1zM384 358h4v6h-4zM409 358h7v6h-7zM511 358h2v6h-2zM515 358h2v6h-2zM527 358h1v6h-1zM535 358h5v6h-5zM547 358h1v6h-1zM551 358h1v6h-1zM553 358h1v6h-1zM556 358h1v6h-1zM100 364h1v6h-1zM111 364h3v6h-3zM124 364h2v6h-2zM128 364h1v6h-1zM136 364h2v6h-2zM256 364h1v6h-1zM318 364h7v6h-7zM327 364h2v6h-2zM330 364h1v6h-1zM377 364h1v6h-1zM384 364h1v6h-1zM388 364h5v6h-5zM402 364h4v6h-4zM407 364h5v6h-5zM511 364h2v6h-2zM515 364h3v6h-3zM527 364h1v6h-1zM535 364h4v6h-4zM551 364h3v6h-3zM556 364h1v6h-1zM113 370h7v6h-7zM123 370h1v6h-1zM126 370h1v6h-1zM130 370h1v6h-1zM133 370h1v6h-1zM135 370h1v6h-1zM138 370h1v6h-1zM141 370h1v6h-1zM256 370h1v6h-1zM322 370h2v6h-2zM328 370h2v6h-2zM331 370h1v6h-1zM376 370h1v6h-1zM379 370h1v6h-1zM410 370h10v6h-10zM513 370h1v6h-1zM515 370h1v6h-1zM517 370h1v6h-1zM521 370h2v6h-2zM527 370h1v6h-1zM535 370h5v6h-5zM551 370h3v6h-3zM556 370h1v6h-1zM86 376h1v6h-1zM89 376h1v6h-1zM98 376h3v6h-3zM110 376h3v6h-3zM124 376h3v6h-3zM128 376h1v6h-1zM136 376h2v6h-2zM257 376h1v6h-1zM324 376h1v6h-1zM327 376h1v6h-1zM377 376h2v6h-2zM380 376h1v6h-1zM388 376h23v6h-23zM511 376h1v6h-1zM515 376h1v6h-1zM517 376h1v6h-1zM521 376h2v6h-2zM527 376h1v6h-1zM535 376h5v6h-5zM547 376h1v6h-1zM551 376h3v6h-3zM556 376h1v6h-1zM98 382h4v6h-4zM111 382h3v6h-3zM124 382h3v6h-3zM128 382h1v6h-1zM131 382h1v6h-1zM136 382h2v6h-2zM213 382h1v6h-1zM256 382h1v6h-1zM321 382h1v6h-1zM324 382h1v6h-1zM327 382h1v6h-1zM377 382h2v6h-2zM380 382h1v6h-1zM391 382h14v6h-14zM406 382h4v6h-4zM513 382h1v6h-1zM515 382h1v6h-1zM517 382h1v6h-1zM523 382h1v6h-1zM527 382h4v6h-4zM551 382h2v6h-2zM556 382h1v6h-1zM100 388h1v6h-1zM111 388h5v6h-5zM124 388h3v6h-3zM128 388h1v6h-1zM133 388h1v6h-1zM137 388h1v6h-1zM318 388h3v6h-3zM322 388h5v6h-5zM328 388h4v6h-4zM380 388h1v6h-1zM385 388h6v6h-6zM405 388h7v6h-7zM511 388h2v6h-2zM515 388h2v6h-2zM521 388h2v6h-2zM527 388h1v6h-1zM535 388h5v6h-5zM551 388h3v6h-3zM556 388h1v6h-1zM111 394h4v6h-4zM124 394h3v6h-3zM128 394h1v6h-1zM136 394h2v6h-2zM255 394h1v6h-1zM318 394h2v6h-2zM321 394h3v6h-3zM325 394h2v6h-2zM328 394h3v6h-3zM380 394h1v6h-1zM385 394h5v6h-5zM405 394h1v6h-1zM407 394h5v6h-5zM511 394h1v6h-1zM515 394h1v6h-1zM517 394h1v6h-1zM521 394h2v6h-2zM527 394h1v6h-1zM535 394h5v6h-5zM547 394h1v6h-1zM551 394h1v6h-1zM553 394h1v6h-1zM556 394h1v6h-1zM89 400h1v6h-1zM93 400h3v6h-3zM97 400h4v6h-4zM110 400h2v6h-2zM124 400h2v6h-2zM127 400h2v6h-2zM131 400h2v6h-2zM136 400h2v6h-2zM139 400h2v6h-2zM207 400h4v6h-4zM213 400h2v6h-2zM219 400h1v6h-1zM221 400h2v6h-2zM224 400h2v6h-2zM227 400h2v6h-2zM230 400h1v6h-1zM233 400h2v6h-2zM236 400h1v6h-1zM256 400h1v6h-1zM321 400h1v6h-1zM327 400h1v6h-1zM377 400h2v6h-2zM380 400h1v6h-1zM390 400h15v6h-15zM406 400h4v6h-4zM513 400h1v6h-1zM517 400h1v6h-1zM521 400h2v6h-2zM535 400h1v6h-1zM539 400h1v6h-1zM547 400h1v6h-1zM553 400h1v6h-1zM556 400h1v6h-1zM98 406h3v6h-3zM111 406h2v6h-2zM124 406h3v6h-3zM128 406h1v6h-1zM131 406h1v6h-1zM136 406h2v6h-2zM139 406h2v6h-2zM210 406h2v6h-2zM213 406h1v6h-1zM216 406h4v6h-4zM225 406h3v6h-3zM230 406h2v6h-2zM256 406h1v6h-1zM320 406h2v6h-2zM324 406h1v6h-1zM327 406h1v6h-1zM330 406h1v6h-1zM377 406h2v6h-2zM380 406h1v6h-1zM385 406h1v6h-1zM388 406h5v6h-5zM394 406h1v6h-1zM402 406h10v6h-10zM511 406h2v6h-2zM515 406h2v6h-2zM535 406h1v6h-1zM539 406h1v6h-1zM547 406h1v6h-1zM553 406h1v6h-1zM556 406h1v6h-1zM111 412h6v6h-6zM125 412h2v6h-2zM128 412h1v6h-1zM133 412h1v6h-1zM136 412h2v6h-2zM318 412h8v6h-8zM328 412h3v6h-3zM380 412h1v6h-1zM385 412h5v6h-5zM408 412h7v6h-7zM511 412h2v6h-2zM515 412h2v6h-2zM528 412h1v6h-1zM537 412h2v6h-2zM551 412h2v6h-2zM556 412h1v6h-1zM100 418h1v6h-1zM111 418h6v6h-6zM123 418h1v6h-1zM125 418h2v6h-2zM128 418h1v6h-1zM133 418h1v6h-1zM136 418h2v6h-2zM256 418h1v6h-1zM318 418h3v6h-3zM322 418h5v6h-5zM328 418h3v6h-3zM380 418h1v6h-1zM385 418h6v6h-6zM392 418h1v6h-1zM405 418h1v6h-1zM408 418h5v6h-5zM511 418h2v6h-2zM515 418h3v6h-3zM521 418h2v6h-2zM527 418h1v6h-1zM535 418h5v6h-5zM551 418h3v6h-3zM556 418h1v6h-1zM112 424h7v6h-7zM123 424h1v6h-1zM125 424h2v6h-2zM133 424h1v6h-1zM136 424h3v6h-3zM141 424h1v6h-1zM317 424h1v6h-1zM325 424h1v6h-1zM328 424h2v6h-2zM379 424h2v6h-2zM387 424h1v6h-1zM409 424h6v6h-6zM513 424h1v6h-1zM515 424h1v6h-1zM517 424h1v6h-1zM528 424h1v6h-1zM536 424h4v6h-4zM551 424h3v6h-3zM556 424h1v6h-1zM98 430h3v6h-3zM110 430h2v6h-2zM124 430h2v6h-2zM128 430h1v6h-1zM136 430h2v6h-2zM139 430h2v6h-2zM255 430h1v6h-1zM327 430h1v6h-1zM377 430h2v6h-2zM385 430h1v6h-1zM390 430h8v6h-8zM399 430h9v6h-9zM513 430h1v6h-1zM517 430h1v6h-1zM523 430h2v6h-2zM533 430h6v6h-6zM551 430h2v6h-2zM556 430h1v6h-1zM99 436h2v7h-2zM111 436h3v7h-3zM124 436h2v7h-2zM128 436h1v7h-1zM131 436h1v7h-1zM136 436h2v7h-2zM210 436h1v7h-1zM216 436h1v7h-1zM224 436h1v7h-1zM318 436h4v7h-4zM324 436h3v7h-3zM329 436h3v7h-3zM385 436h1v7h-1zM388 436h5v7h-5zM405 436h2v7h-2zM408 436h4v7h-4zM511 436h2v7h-2zM515 436h1v7h-1zM517 436h1v7h-1zM521 436h2v7h-2zM529 436h2v7h-2zM551 436h2v7h-2zM556 436h1v7h-1zM98 443h3v6h-3zM111 443h2v6h-2zM124 443h2v6h-2zM127 443h2v6h-2zM131 443h1v6h-1zM136 443h2v6h-2zM139 443h1v6h-1zM206 443h4v6h-4zM212 443h3v6h-3zM216 443h4v6h-4zM221 443h2v6h-2zM224 443h2v6h-2zM227 443h2v6h-2zM230 443h1v6h-1zM232 443h6v6h-6zM321 443h1v6h-1zM324 443h1v6h-1zM327 443h1v6h-1zM377 443h2v6h-2zM380 443h1v6h-1zM389 443h9v6h-9zM399 443h1v6h-1zM402 443h9v6h-9zM511 443h2v6h-2zM516 443h1v6h-1zM539 443h1v6h-1zM547 443h1v6h-1zM553 443h1v6h-1zM556 443h1v6h-1zM114 449h6v6h-6zM123 449h1v6h-1zM126 449h1v6h-1zM130 449h1v6h-1zM133 449h1v6h-1zM135 449h1v6h-1zM138 449h1v6h-1zM141 449h1v6h-1zM207 449h3v6h-3zM211 449h2v6h-2zM214 449h2v6h-2zM218 449h1v6h-1zM220 449h1v6h-1zM224 449h4v6h-4zM229 449h1v6h-1zM231 449h1v6h-1zM233 449h4v6h-4zM239 449h1v6h-1zM325 449h1v6h-1zM328 449h2v6h-2zM346 449h3v6h-3zM376 449h1v6h-1zM379 449h2v6h-2zM410 449h9v6h-9zM511 449h2v6h-2zM516 449h1v6h-1zM521 449h1v6h-1zM532 449h8v6h-8zM551 449h1v6h-1zM553 449h1v6h-1zM556 449h1v6h-1zM99 455h2v6h-2zM111 455h4v6h-4zM125 455h2v6h-2zM128 455h1v6h-1zM133 455h1v6h-1zM136 455h2v6h-2zM204 455h9v6h-9zM216 455h4v6h-4zM221 455h2v6h-2zM227 455h2v6h-2zM230 455h1v6h-1zM318 455h4v6h-4zM324 455h4v6h-4zM329 455h2v6h-2zM380 455h1v6h-1zM385 455h8v6h-8zM402 455h10v6h-10zM511 455h1v6h-1zM515 455h1v6h-1zM517 455h1v6h-1zM521 455h2v6h-2zM527 455h1v6h-1zM535 455h4v6h-4zM551 455h3v6h-3zM556 455h1v6h-1zM99 461h2v6h-2zM111 461h3v6h-3zM124 461h2v6h-2zM127 461h2v6h-2zM131 461h1v6h-1zM136 461h2v6h-2zM139 461h2v6h-2zM255 461h1v6h-1zM318 461h1v6h-1zM321 461h1v6h-1zM324 461h1v6h-1zM327 461h4v6h-4zM377 461h2v6h-2zM380 461h1v6h-1zM390 461h8v6h-8zM402 461h8v6h-8zM511 461h2v6h-2zM515 461h1v6h-1zM517 461h1v6h-1zM523 461h1v6h-1zM527 461h1v6h-1zM535 461h5v6h-5zM551 461h3v6h-3zM556 461h1v6h-1zM112 467h7v6h-7zM123 467h1v6h-1zM125 467h2v6h-2zM133 467h1v6h-1zM137 467h1v6h-1zM210 467h1v6h-1zM213 467h4v6h-4zM222 467h1v6h-1zM225 467h1v6h-1zM255 467h1v6h-1zM318 467h3v6h-3zM323 467h1v6h-1zM325 467h1v6h-1zM328 467h2v6h-2zM331 467h1v6h-1zM380 467h1v6h-1zM385 467h3v6h-3zM409 467h6v6h-6zM511 467h2v6h-2zM515 467h3v6h-3zM523 467h1v6h-1zM527 467h1v6h-1zM535 467h4v6h-4zM551 467h1v6h-1zM553 467h1v6h-1zM556 467h1v6h-1zM98 473h3v6h-3zM111 473h1v6h-1zM124 473h2v6h-2zM127 473h2v6h-2zM131 473h2v6h-2zM136 473h2v6h-2zM139 473h1v6h-1zM203 473h2v6h-2zM206 473h2v6h-2zM211 473h1v6h-1zM214 473h2v6h-2zM217 473h1v6h-1zM219 473h4v6h-4zM224 473h3v6h-3zM229 473h3v6h-3zM233 473h2v6h-2zM236 473h2v6h-2zM256 473h1v6h-1zM321 473h1v6h-1zM323 473h2v6h-2zM326 473h2v6h-2zM330 473h1v6h-1zM377 473h2v6h-2zM390 473h6v6h-6zM397 473h13v6h-13zM513 473h1v6h-1zM517 473h1v6h-1zM521 473h2v6h-2zM527 473h1v6h-1zM535 473h4v6h-4zM551 473h1v6h-1zM553 473h1v6h-1zM556 473h1v6h-1zM100 479h1v6h-1zM111 479h5v6h-5zM125 479h2v6h-2zM128 479h1v6h-1zM136 479h3v6h-3zM207 479h2v6h-2zM210 479h2v6h-2zM213 479h1v6h-1zM227 479h2v6h-2zM230 479h1v6h-1zM233 479h1v6h-1zM256 479h1v6h-1zM318 479h3v6h-3zM322 479h2v6h-2zM325 479h2v6h-2zM328 479h3v6h-3zM385 479h5v6h-5zM408 479h7v6h-7zM513 479h1v6h-1zM515 479h1v6h-1zM517 479h1v6h-1zM523 479h2v6h-2zM533 479h6v6h-6zM551 479h2v6h-2zM556 479h1v6h-1zM99 485h2v6h-2zM111 485h2v6h-2zM124 485h2v6h-2zM128 485h1v6h-1zM131 485h1v6h-1zM136 485h2v6h-2zM139 485h1v6h-1zM204 485h6v6h-6zM211 485h2v6h-2zM214 485h9v6h-9zM227 485h1v6h-1zM230 485h4v6h-4zM236 485h2v6h-2zM255 485h1v6h-1zM324 485h1v6h-1zM327 485h1v6h-1zM377 485h2v6h-2zM385 485h1v6h-1zM388 485h8v6h-8zM397 485h1v6h-1zM400 485h12v6h-12zM513 485h1v6h-1zM515 485h1v6h-1zM517 485h1v6h-1zM521 485h2v6h-2zM535 485h5v6h-5zM553 485h1v6h-1zM556 485h1v6h-1zM100 491h1v6h-1zM111 491h5v6h-5zM124 491h3v6h-3zM136 491h2v6h-2zM213 491h1v6h-1zM318 491h9v6h-9zM328 491h3v6h-3zM380 491h1v6h-1zM385 491h6v6h-6zM405 491h1v6h-1zM408 491h5v6h-5zM512 491h1v6h-1zM516 491h1v6h-1zM521 491h2v6h-2zM528 491h1v6h-1zM537 491h2v6h-2zM551 491h2v6h-2zM556 491h1v6h-1zM99 497h2v6h-2zM111 497h3v6h-3zM124 497h3v6h-3zM128 497h1v6h-1zM136 497h2v6h-2zM255 497h1v6h-1zM318 497h2v6h-2zM321 497h1v6h-1zM324 497h4v6h-4zM330 497h1v6h-1zM377 497h2v6h-2zM380 497h1v6h-1zM388 497h10v6h-10zM400 497h10v6h-10zM511 497h1v6h-1zM515 497h1v6h-1zM517 497h1v6h-1zM527 497h1v6h-1zM535 497h5v6h-5zM551 497h1v6h-1zM553 497h1v6h-1zM556 497h1v6h-1zM100 503h2v6h-2zM111 503h6v6h-6zM123 503h1v6h-1zM125 503h2v6h-2zM128 503h1v6h-1zM133 503h1v6h-1zM137 503h1v6h-1zM212 503h2v6h-2zM216 503h1v6h-1zM224 503h1v6h-1zM317 503h4v6h-4zM322 503h2v6h-2zM325 503h2v6h-2zM328 503h2v6h-2zM331 503h1v6h-1zM385 503h3v6h-3zM389 503h2v6h-2zM408 503h5v6h-5zM511 503h1v6h-1zM515 503h1v6h-1zM517 503h1v6h-1zM523 503h1v6h-1zM527 503h1v6h-1zM536 503h3v6h-3zM551 503h3v6h-3zM556 503h1v6h-1zM98 509h3v6h-3zM111 509h1v6h-1zM124 509h2v6h-2zM128 509h1v6h-1zM131 509h1v6h-1zM136 509h2v6h-2zM139 509h2v6h-2zM204 509h1v6h-1zM207 509h4v6h-4zM212 509h1v6h-1zM214 509h1v6h-1zM216 509h1v6h-1zM219 509h1v6h-1zM221 509h2v6h-2zM224 509h1v6h-1zM226 509h2v6h-2zM230 509h2v6h-2zM233 509h4v6h-4zM239 509h1v6h-1zM254 509h1v6h-1zM260 509h1v6h-1zM318 509h1v6h-1zM321 509h1v6h-1zM327 509h1v6h-1zM330 509h1v6h-1zM346 509h3v6h-3zM377 509h2v6h-2zM390 509h15v6h-15zM406 509h3v6h-3zM513 509h1v6h-1zM517 509h1v6h-1zM521 509h2v6h-2zM527 509h1v6h-1zM535 509h4v6h-4zM551 509h2v6h-2zM556 509h1v6h-1zM112 515h6v6h-6zM123 515h1v6h-1zM126 515h1v6h-1zM133 515h1v6h-1zM137 515h1v6h-1zM255 515h1v6h-1zM325 515h1v6h-1zM328 515h2v6h-2zM331 515h1v6h-1zM386 515h1v6h-1zM409 515h8v6h-8zM512 515h1v6h-1zM516 515h1v6h-1zM521 515h2v6h-2zM527 515h1v6h-1zM535 515h4v6h-4zM553 515h1v6h-1zM556 515h1v6h-1zM99 521h2v6h-2zM111 521h2v6h-2zM124 521h3v6h-3zM128 521h1v6h-1zM136 521h2v6h-2zM201 521h2v6h-2zM206 521h1v6h-1zM208 521h2v6h-2zM215 521h1v6h-1zM218 521h3v6h-3zM223 521h2v6h-2zM226 521h4v6h-4zM231 521h2v6h-2zM234 521h4v6h-4zM318 521h1v6h-1zM321 521h4v6h-4zM327 521h4v6h-4zM377 521h2v6h-2zM385 521h1v6h-1zM388 521h7v6h-7zM397 521h1v6h-1zM399 521h1v6h-1zM402 521h1v6h-1zM404 521h8v6h-8zM511 521h1v6h-1zM515 521h1v6h-1zM517 521h1v6h-1zM521 521h2v6h-2zM527 521h1v6h-1zM535 521h4v6h-4zM550 521h1v6h-1zM553 521h1v6h-1zM556 521h1v6h-1zM100 527h1v6h-1zM111 527h6v6h-6zM123 527h1v6h-1zM125 527h2v6h-2zM128 527h1v6h-1zM133 527h1v6h-1zM137 527h2v6h-2zM207 527h1v6h-1zM210 527h1v6h-1zM212 527h3v6h-3zM219 527h1v6h-1zM221 527h2v6h-2zM224 527h1v6h-1zM227 527h4v6h-4zM233 527h1v6h-1zM318 527h3v6h-3zM322 527h2v6h-2zM325 527h2v6h-2zM328 527h4v6h-4zM380 527h1v6h-1zM385 527h5v6h-5zM408 527h7v6h-7zM512 527h1v6h-1zM516 527h1v6h-1zM521 527h2v6h-2zM535 527h1v6h-1zM539 527h1v6h-1zM550 527h1v6h-1zM553 527h1v6h-1zM556 527h1v6h-1zM99 533h2v6h-2zM111 533h3v6h-3zM124 533h2v6h-2zM127 533h2v6h-2zM131 533h1v6h-1zM136 533h2v6h-2zM139 533h2v6h-2zM204 533h3v6h-3zM208 533h1v6h-1zM210 533h4v6h-4zM215 533h2v6h-2zM218 533h2v6h-2zM221 533h2v6h-2zM225 533h1v6h-1zM227 533h2v6h-2zM230 533h2v6h-2zM236 533h1v6h-1zM255 533h1v6h-1zM319 533h1v6h-1zM321 533h2v6h-2zM324 533h1v6h-1zM327 533h1v6h-1zM330 533h1v6h-1zM377 533h2v6h-2zM380 533h1v6h-1zM388 533h1v6h-1zM390 533h20v6h-20zM513 533h1v6h-1zM515 533h1v6h-1zM517 533h1v6h-1zM523 533h1v6h-1zM528 533h3v6h-3zM551 533h3v6h-3zM556 533h1v6h-1zM98 539h3v6h-3zM111 539h3v6h-3zM124 539h2v6h-2zM127 539h2v6h-2zM136 539h2v6h-2zM139 539h2v6h-2zM255 539h1v6h-1zM318 539h1v6h-1zM320 539h2v6h-2zM323 539h2v6h-2zM327 539h2v6h-2zM377 539h2v6h-2zM380 539h1v6h-1zM388 539h1v6h-1zM390 539h8v6h-8zM400 539h1v6h-1zM402 539h7v6h-7zM513 539h1v6h-1zM515 539h1v6h-1zM517 539h1v6h-1zM521 539h2v6h-2zM535 539h4v6h-4zM553 539h1v6h-1zM556 539h1v6h-1zM100 545h1v6h-1zM111 545h4v6h-4zM125 545h1v6h-1zM127 545h2v6h-2zM136 545h2v6h-2zM139 545h1v6h-1zM255 545h1v6h-1zM261 545h1v6h-1zM318 545h7v6h-7zM327 545h5v6h-5zM380 545h1v6h-1zM387 545h6v6h-6zM404 545h7v6h-7zM511 545h1v6h-1zM515 545h1v6h-1zM517 545h1v6h-1zM521 545h2v6h-2zM524 545h1v6h-1zM532 545h7v6h-7zM550 545h1v6h-1zM553 545h1v6h-1zM556 545h1v6h-1zM99 551h2v6h-2zM111 551h1v6h-1zM124 551h2v6h-2zM127 551h2v6h-2zM131 551h2v6h-2zM136 551h2v6h-2zM139 551h2v6h-2zM207 551h9v6h-9zM217 551h2v6h-2zM220 551h10v6h-10zM231 551h2v6h-2zM234 551h1v6h-1zM318 551h1v6h-1zM320 551h2v6h-2zM327 551h1v6h-1zM377 551h2v6h-2zM384 551h1v6h-1zM390 551h8v6h-8zM399 551h11v6h-11zM512 551h1v6h-1zM516 551h1v6h-1zM523 551h1v6h-1zM527 551h1v6h-1zM536 551h3v6h-3zM551 551h3v6h-3zM556 551h1v6h-1z"/>
<path fill="#ff3f00" d="M83 316h1v6h-1zM86 316h1v6h-1zM89 316h2v6h-2zM93 316h1v6h-1zM98 316h2v6h-2zM110 316h1v6h-1zM127 316h1v6h-1zM131 316h2v6h-2zM139 316h2v6h-2zM255 316h1v6h-1zM321 316h1v6h-1zM377 316h2v6h-2zM390 316h1v6h-1zM393 316h2v6h-2zM397 316h1v6h-1zM401 316h4v6h-4zM406 316h1v6h-1zM521 316h2v6h-2zM535 316h1v6h-1zM547 316h1v6h-1zM551 316h1v6h-1zM555 316h1v6h-1zM557 316h1v6h-1zM78 322h1v6h-1zM82 322h7v6h-7zM90 322h8v6h-8zM106 322h3v6h-3zM255 322h1v6h-1zM521 322h2v6h-2zM555 322h1v6h-1zM557 322h1v6h-1zM100 328h2v6h-2zM111 328h2v6h-2zM124 328h2v6h-2zM128 328h1v6h-1zM131 328h1v6h-1zM136 328h1v6h-1zM255 328h1v6h-1zM319 328h1v6h-1zM328 328h1v6h-1zM330 328h1v6h-1zM387 328h3v6h-3zM408 328h2v6h-2zM511 328h1v6h-1zM521 328h2v6h-2zM547 328h1v6h-1zM555 328h1v6h-1zM557 328h1v6h-1zM82 334h2v6h-2zM86 334h5v6h-5zM98 334h2v6h-2zM110 334h1v6h-1zM127 334h1v6h-1zM131 334h2v6h-2zM139 334h2v6h-2zM260 334h1v6h-1zM327 334h1v6h-1zM377 334h2v6h-2zM391 334h2v6h-2zM400 334h1v6h-1zM402 334h1v6h-1zM404 334h1v6h-1zM406 334h2v6h-2zM516 334h1v6h-1zM547 334h1v6h-1zM555 334h1v6h-1zM557 334h1v6h-1zM99 340h2v6h-2zM111 340h1v6h-1zM124 340h1v6h-1zM127 340h2v6h-2zM131 340h1v6h-1zM136 340h1v6h-1zM139 340h1v6h-1zM260 340h1v6h-1zM318 340h1v6h-1zM321 340h1v6h-1zM324 340h1v6h-1zM326 340h1v6h-1zM330 340h1v6h-1zM388 340h2v6h-2zM405 340h1v6h-1zM408 340h1v6h-1zM512 340h1v6h-1zM516 340h1v6h-1zM521 340h2v6h-2zM535 340h1v6h-1zM547 340h1v6h-1zM557 340h1v6h-1zM83 346h1v6h-1zM86 346h2v6h-2zM89 346h1v6h-1zM98 346h2v6h-2zM110 346h1v6h-1zM127 346h2v6h-2zM131 346h1v6h-1zM139 346h2v6h-2zM256 346h1v6h-1zM327 346h1v6h-1zM377 346h2v6h-2zM391 346h2v6h-2zM394 346h1v6h-1zM400 346h1v6h-1zM402 346h6v6h-6zM511 346h2v6h-2zM521 346h2v6h-2zM557 346h1v6h-1zM82 352h16v6h-16zM106 352h3v6h-3zM127 352h1v6h-1zM380 352h1v6h-1zM512 352h1v6h-1zM516 352h1v6h-1zM535 352h1v6h-1zM547 352h1v6h-1zM555 352h1v6h-1zM100 358h1v6h-1zM111 358h1v6h-1zM124 358h1v6h-1zM127 358h1v6h-1zM131 358h1v6h-1zM136 358h1v6h-1zM139 358h2v6h-2zM256 358h1v6h-1zM261 358h1v6h-1zM318 358h3v6h-3zM324 358h1v6h-1zM380 358h1v6h-1zM388 358h2v6h-2zM408 358h1v6h-1zM521 358h2v6h-2zM534 358h1v6h-1zM557 358h1v6h-1zM82 364h2v6h-2zM86 364h14v6h-14zM107 364h1v6h-1zM110 364h1v6h-1zM127 364h1v6h-1zM131 364h2v6h-2zM139 364h2v6h-2zM261 364h1v6h-1zM378 364h1v6h-1zM380 364h1v6h-1zM393 364h5v6h-5zM400 364h2v6h-2zM406 364h1v6h-1zM521 364h2v6h-2zM539 364h1v6h-1zM547 364h1v6h-1zM555 364h1v6h-1zM557 364h1v6h-1zM100 370h1v6h-1zM111 370h2v6h-2zM125 370h1v6h-1zM128 370h1v6h-1zM136 370h2v6h-2zM261 370h1v6h-1zM318 370h2v6h-2zM325 370h1v6h-1zM380 370h1v6h-1zM384 370h4v6h-4zM408 370h2v6h-2zM511 370h2v6h-2zM547 370h1v6h-1zM555 370h1v6h-1zM78 376h1v6h-1zM82 376h4v6h-4zM87 376h2v6h-2zM90 376h8v6h-8zM106 376h3v6h-3zM127 376h1v6h-1zM131 376h2v6h-2zM139 376h2v6h-2zM262 376h1v6h-1zM384 376h1v6h-1zM512 376h1v6h-1zM516 376h1v6h-1zM528 376h1v6h-1zM82 382h16v6h-16zM106 382h3v6h-3zM110 382h1v6h-1zM127 382h1v6h-1zM132 382h1v6h-1zM139 382h2v6h-2zM261 382h1v6h-1zM511 382h1v6h-1zM521 382h2v6h-2zM538 382h2v6h-2zM547 382h1v6h-1zM553 382h1v6h-1zM86 388h1v6h-1zM88 388h3v6h-3zM98 388h2v6h-2zM110 388h1v6h-1zM127 388h1v6h-1zM131 388h1v6h-1zM136 388h1v6h-1zM139 388h2v6h-2zM256 388h1v6h-1zM261 388h1v6h-1zM321 388h1v6h-1zM327 388h1v6h-1zM377 388h2v6h-2zM391 388h5v6h-5zM399 388h2v6h-2zM402 388h3v6h-3zM547 388h1v6h-1zM555 388h1v6h-1zM557 388h1v6h-1zM83 394h1v6h-1zM86 394h4v6h-4zM93 394h1v6h-1zM97 394h4v6h-4zM110 394h1v6h-1zM127 394h1v6h-1zM131 394h2v6h-2zM139 394h2v6h-2zM324 394h1v6h-1zM327 394h1v6h-1zM377 394h2v6h-2zM384 394h1v6h-1zM390 394h3v6h-3zM394 394h1v6h-1zM399 394h1v6h-1zM402 394h3v6h-3zM406 394h1v6h-1zM512 394h1v6h-1zM516 394h1v6h-1zM534 394h1v6h-1zM555 394h1v6h-1zM78 400h1v6h-1zM82 400h7v6h-7zM90 400h3v6h-3zM96 400h1v6h-1zM105 400h4v6h-4zM261 400h1v6h-1zM511 400h1v6h-1zM515 400h1v6h-1zM528 400h1v6h-1zM534 400h1v6h-1zM555 400h1v6h-1zM557 400h1v6h-1zM82 406h16v6h-16zM107 406h1v6h-1zM110 406h1v6h-1zM127 406h1v6h-1zM132 406h1v6h-1zM393 406h1v6h-1zM395 406h7v6h-7zM521 406h2v6h-2zM534 406h1v6h-1zM555 406h1v6h-1zM557 406h1v6h-1zM86 412h1v6h-1zM95 412h1v6h-1zM98 412h3v6h-3zM110 412h1v6h-1zM124 412h1v6h-1zM127 412h1v6h-1zM131 412h1v6h-1zM139 412h2v6h-2zM256 412h1v6h-1zM261 412h1v6h-1zM326 412h2v6h-2zM377 412h2v6h-2zM390 412h3v6h-3zM394 412h1v6h-1zM402 412h1v6h-1zM405 412h3v6h-3zM521 412h2v6h-2zM536 412h1v6h-1zM539 412h1v6h-1zM547 412h1v6h-1zM553 412h1v6h-1zM82 418h2v6h-2zM89 418h2v6h-2zM93 418h1v6h-1zM98 418h2v6h-2zM110 418h1v6h-1zM124 418h1v6h-1zM127 418h1v6h-1zM131 418h2v6h-2zM139 418h2v6h-2zM261 418h1v6h-1zM321 418h1v6h-1zM327 418h1v6h-1zM377 418h2v6h-2zM391 418h1v6h-1zM393 418h2v6h-2zM400 418h1v6h-1zM402 418h3v6h-3zM406 418h2v6h-2zM547 418h1v6h-1zM557 418h1v6h-1zM100 424h1v6h-1zM111 424h1v6h-1zM124 424h1v6h-1zM128 424h1v6h-1zM131 424h1v6h-1zM318 424h3v6h-3zM322 424h3v6h-3zM326 424h1v6h-1zM331 424h1v6h-1zM385 424h2v6h-2zM388 424h2v6h-2zM405 424h1v6h-1zM407 424h2v6h-2zM511 424h1v6h-1zM521 424h2v6h-2zM529 424h1v6h-1zM547 424h1v6h-1zM82 430h16v6h-16zM106 430h3v6h-3zM127 430h1v6h-1zM131 430h2v6h-2zM398 430h1v6h-1zM511 430h1v6h-1zM515 430h1v6h-1zM521 430h2v6h-2zM532 430h1v6h-1zM539 430h1v6h-1zM547 430h1v6h-1zM553 430h1v6h-1zM557 430h1v6h-1zM82 436h2v7h-2zM86 436h5v7h-5zM92 436h7v7h-7zM110 436h1v7h-1zM127 436h1v7h-1zM132 436h1v7h-1zM139 436h2v7h-2zM257 436h1v7h-1zM262 436h1v7h-1zM327 436h1v7h-1zM377 436h2v7h-2zM393 436h2v7h-2zM397 436h2v7h-2zM400 436h5v7h-5zM407 436h1v7h-1zM516 436h1v7h-1zM538 436h2v7h-2zM547 436h1v7h-1zM553 436h1v7h-1zM557 436h1v7h-1zM82 443h16v6h-16zM106 443h2v6h-2zM110 443h1v6h-1zM132 443h1v6h-1zM140 443h1v6h-1zM210 443h2v6h-2zM215 443h1v6h-1zM231 443h1v6h-1zM255 443h1v6h-1zM260 443h1v6h-1zM398 443h1v6h-1zM400 443h2v6h-2zM521 443h2v6h-2zM534 443h1v6h-1zM546 443h1v6h-1zM555 443h1v6h-1zM557 443h1v6h-1zM100 449h1v6h-1zM111 449h3v6h-3zM125 449h1v6h-1zM128 449h1v6h-1zM136 449h2v6h-2zM210 449h1v6h-1zM213 449h1v6h-1zM217 449h1v6h-1zM219 449h1v6h-1zM221 449h2v6h-2zM228 449h1v6h-1zM230 449h1v6h-1zM318 449h3v6h-3zM322 449h3v6h-3zM331 449h1v6h-1zM385 449h3v6h-3zM408 449h2v6h-2zM522 449h1v6h-1zM547 449h1v6h-1zM550 449h1v6h-1zM555 449h1v6h-1zM557 449h1v6h-1zM82 455h9v6h-9zM92 455h7v6h-7zM101 455h1v6h-1zM110 455h1v6h-1zM124 455h1v6h-1zM127 455h1v6h-1zM131 455h2v6h-2zM139 455h2v6h-2zM213 455h1v6h-1zM377 455h2v6h-2zM393 455h6v6h-6zM400 455h2v6h-2zM512 455h1v6h-1zM516 455h1v6h-1zM539 455h1v6h-1zM547 455h1v6h-1zM557 455h1v6h-1zM82 461h17v6h-17zM106 461h2v6h-2zM110 461h1v6h-1zM132 461h1v6h-1zM260 461h1v6h-1zM384 461h1v6h-1zM398 461h4v6h-4zM516 461h1v6h-1zM521 461h2v6h-2zM547 461h1v6h-1zM550 461h1v6h-1zM555 461h1v6h-1zM100 467h1v6h-1zM111 467h1v6h-1zM124 467h1v6h-1zM128 467h1v6h-1zM131 467h1v6h-1zM136 467h1v6h-1zM139 467h2v6h-2zM322 467h1v6h-1zM324 467h1v6h-1zM326 467h1v6h-1zM330 467h1v6h-1zM384 467h1v6h-1zM388 467h2v6h-2zM408 467h1v6h-1zM521 467h2v6h-2zM534 467h1v6h-1zM539 467h1v6h-1zM546 467h2v6h-2zM550 467h1v6h-1zM555 467h1v6h-1zM557 467h1v6h-1zM82 473h16v6h-16zM106 473h2v6h-2zM110 473h1v6h-1zM140 473h1v6h-1zM209 473h1v6h-1zM212 473h1v6h-1zM216 473h1v6h-1zM227 473h2v6h-2zM261 473h1v6h-1zM396 473h1v6h-1zM511 473h1v6h-1zM515 473h1v6h-1zM534 473h1v6h-1zM539 473h1v6h-1zM546 473h2v6h-2zM557 473h1v6h-1zM89 479h1v6h-1zM99 479h1v6h-1zM124 479h1v6h-1zM127 479h1v6h-1zM131 479h2v6h-2zM139 479h1v6h-1zM261 479h1v6h-1zM321 479h1v6h-1zM324 479h1v6h-1zM377 479h2v6h-2zM390 479h3v6h-3zM404 479h4v6h-4zM511 479h1v6h-1zM521 479h2v6h-2zM532 479h1v6h-1zM539 479h1v6h-1zM546 479h1v6h-1zM553 479h1v6h-1zM82 485h17v6h-17zM101 485h1v6h-1zM106 485h2v6h-2zM110 485h1v6h-1zM127 485h1v6h-1zM132 485h1v6h-1zM140 485h1v6h-1zM210 485h1v6h-1zM213 485h1v6h-1zM396 485h1v6h-1zM398 485h2v6h-2zM511 485h1v6h-1zM547 485h1v6h-1zM555 485h1v6h-1zM557 485h1v6h-1zM82 491h2v6h-2zM86 491h2v6h-2zM89 491h2v6h-2zM95 491h1v6h-1zM97 491h3v6h-3zM101 491h1v6h-1zM110 491h1v6h-1zM127 491h2v6h-2zM131 491h2v6h-2zM139 491h2v6h-2zM256 491h1v6h-1zM327 491h1v6h-1zM377 491h2v6h-2zM391 491h2v6h-2zM394 491h2v6h-2zM397 491h1v6h-1zM402 491h1v6h-1zM404 491h1v6h-1zM406 491h2v6h-2zM529 491h1v6h-1zM536 491h1v6h-1zM539 491h1v6h-1zM547 491h1v6h-1zM550 491h1v6h-1zM553 491h1v6h-1zM557 491h1v6h-1zM82 497h17v6h-17zM106 497h2v6h-2zM110 497h1v6h-1zM127 497h1v6h-1zM131 497h2v6h-2zM139 497h2v6h-2zM260 497h1v6h-1zM398 497h2v6h-2zM512 497h1v6h-1zM516 497h1v6h-1zM521 497h2v6h-2zM546 497h2v6h-2zM550 497h1v6h-1zM557 497h1v6h-1zM99 503h1v6h-1zM124 503h1v6h-1zM127 503h1v6h-1zM131 503h1v6h-1zM136 503h1v6h-1zM139 503h2v6h-2zM255 503h1v6h-1zM260 503h1v6h-1zM321 503h1v6h-1zM324 503h1v6h-1zM330 503h1v6h-1zM377 503h2v6h-2zM388 503h1v6h-1zM391 503h2v6h-2zM402 503h6v6h-6zM512 503h1v6h-1zM516 503h1v6h-1zM521 503h2v6h-2zM535 503h1v6h-1zM539 503h1v6h-1zM546 503h1v6h-1zM550 503h1v6h-1zM555 503h1v6h-1zM82 509h16v6h-16zM106 509h2v6h-2zM110 509h1v6h-1zM127 509h1v6h-1zM132 509h1v6h-1zM213 509h1v6h-1zM225 509h1v6h-1zM511 509h1v6h-1zM515 509h1v6h-1zM553 509h1v6h-1zM557 509h1v6h-1zM100 515h1v6h-1zM111 515h1v6h-1zM124 515h2v6h-2zM127 515h2v6h-2zM136 515h1v6h-1zM139 515h2v6h-2zM260 515h1v6h-1zM318 515h3v6h-3zM322 515h3v6h-3zM326 515h1v6h-1zM385 515h1v6h-1zM387 515h3v6h-3zM408 515h1v6h-1zM539 515h1v6h-1zM546 515h2v6h-2zM550 515h1v6h-1zM557 515h1v6h-1zM82 521h3v6h-3zM86 521h13v6h-13zM107 521h1v6h-1zM110 521h1v6h-1zM127 521h1v6h-1zM131 521h2v6h-2zM139 521h2v6h-2zM207 521h1v6h-1zM211 521h2v6h-2zM214 521h1v6h-1zM217 521h1v6h-1zM221 521h2v6h-2zM225 521h1v6h-1zM230 521h1v6h-1zM233 521h1v6h-1zM257 521h1v6h-1zM262 521h1v6h-1zM395 521h2v6h-2zM398 521h1v6h-1zM400 521h2v6h-2zM403 521h1v6h-1zM512 521h1v6h-1zM516 521h1v6h-1zM534 521h1v6h-1zM539 521h1v6h-1zM546 521h2v6h-2zM557 521h1v6h-1zM99 527h1v6h-1zM101 527h1v6h-1zM124 527h1v6h-1zM127 527h1v6h-1zM131 527h2v6h-2zM136 527h1v6h-1zM139 527h2v6h-2zM256 527h1v6h-1zM321 527h1v6h-1zM324 527h1v6h-1zM327 527h1v6h-1zM377 527h2v6h-2zM390 527h1v6h-1zM404 527h4v6h-4zM534 527h1v6h-1zM546 527h2v6h-2zM555 527h1v6h-1zM557 527h1v6h-1zM82 533h17v6h-17zM106 533h2v6h-2zM110 533h1v6h-1zM132 533h1v6h-1zM207 533h1v6h-1zM260 533h1v6h-1zM511 533h1v6h-1zM521 533h2v6h-2zM538 533h2v6h-2zM546 533h1v6h-1zM550 533h1v6h-1zM555 533h1v6h-1zM557 533h1v6h-1zM82 539h16v6h-16zM106 539h2v6h-2zM110 539h1v6h-1zM131 539h2v6h-2zM260 539h1v6h-1zM384 539h1v6h-1zM398 539h2v6h-2zM401 539h1v6h-1zM511 539h1v6h-1zM539 539h1v6h-1zM546 539h2v6h-2zM550 539h1v6h-1zM555 539h1v6h-1zM82 545h2v6h-2zM86 545h5v6h-5zM93 545h1v6h-1zM95 545h5v6h-5zM110 545h1v6h-1zM124 545h1v6h-1zM131 545h2v6h-2zM140 545h1v6h-1zM377 545h2v6h-2zM384 545h1v6h-1zM393 545h3v6h-3zM397 545h1v6h-1zM400 545h4v6h-4zM512 545h1v6h-1zM516 545h1v6h-1zM539 545h1v6h-1zM546 545h2v6h-2zM557 545h1v6h-1zM82 551h17v6h-17zM106 551h2v6h-2zM110 551h1v6h-1zM216 551h1v6h-1zM219 551h1v6h-1zM230 551h1v6h-1zM233 551h1v6h-1zM255 551h1v6h-1zM260 551h1v6h-1zM398 551h1v6h-1zM521 551h2v6h-2zM535 551h1v6h-1zM539 551h1v6h-1zM546 551h1v6h-1zM550 551h1v6h-1zM557 551h1v6h-1z"/>
<path fill="#ff5400" d="M78 316h1v6h-1zM82 316h1v6h-1zM84 316h2v6h-2zM87 316h2v6h-2zM91 316h2v6h-2zM94 316h4v6h-4zM101 316h1v6h-1zM107 316h1v6h-1zM383 316h1v6h-1zM395 316h2v6h-2zM400 316h1v6h-1zM554 316h1v6h-1zM79 322h1v6h-1zM105 322h1v6h-1zM109 322h1v6h-1zM525 322h1v6h-1zM540 322h1v6h-1zM543 322h1v6h-1zM548 322h1v6h-1zM554 322h1v6h-1zM99 328h1v6h-1zM127 328h1v6h-1zM132 328h1v6h-1zM139 328h2v6h-2zM321 328h4v6h-4zM326 328h1v6h-1zM377 328h2v6h-2zM383 328h1v6h-1zM390 328h1v6h-1zM405 328h1v6h-1zM407 328h1v6h-1zM512 328h1v6h-1zM516 328h1v6h-1zM528 328h1v6h-1zM534 328h1v6h-1zM554 328h1v6h-1zM78 334h1v6h-1zM84 334h2v6h-2zM91 334h7v6h-7zM107 334h1v6h-1zM393 334h5v6h-5zM399 334h1v6h-1zM401 334h1v6h-1zM403 334h1v6h-1zM529 334h1v6h-1zM535 334h1v6h-1zM554 334h1v6h-1zM82 340h2v6h-2zM86 340h1v6h-1zM89 340h1v6h-1zM93 340h1v6h-1zM98 340h1v6h-1zM132 340h1v6h-1zM140 340h1v6h-1zM327 340h1v6h-1zM377 340h2v6h-2zM380 340h1v6h-1zM390 340h1v6h-1zM394 340h1v6h-1zM402 340h1v6h-1zM406 340h2v6h-2zM528 340h1v6h-1zM555 340h1v6h-1zM78 346h1v6h-1zM82 346h1v6h-1zM84 346h2v6h-2zM88 346h1v6h-1zM90 346h8v6h-8zM101 346h1v6h-1zM107 346h1v6h-1zM132 346h1v6h-1zM380 346h1v6h-1zM393 346h1v6h-1zM395 346h1v6h-1zM397 346h1v6h-1zM399 346h1v6h-1zM401 346h1v6h-1zM516 346h1v6h-1zM525 346h1v6h-1zM540 346h1v6h-1zM543 346h1v6h-1zM555 346h1v6h-1zM78 352h2v6h-2zM101 352h1v6h-1zM105 352h1v6h-1zM109 352h1v6h-1zM256 352h1v6h-1zM528 352h1v6h-1zM554 352h1v6h-1zM557 352h1v6h-1zM99 358h1v6h-1zM132 358h1v6h-1zM327 358h1v6h-1zM330 358h1v6h-1zM377 358h2v6h-2zM390 358h1v6h-1zM405 358h1v6h-1zM407 358h1v6h-1zM528 358h1v6h-1zM540 358h1v6h-1zM555 358h1v6h-1zM78 364h1v6h-1zM84 364h2v6h-2zM105 364h2v6h-2zM108 364h1v6h-1zM398 364h2v6h-2zM528 364h1v6h-1zM534 364h1v6h-1zM554 364h1v6h-1zM99 370h1v6h-1zM124 370h1v6h-1zM127 370h1v6h-1zM131 370h1v6h-1zM139 370h1v6h-1zM320 370h1v6h-1zM324 370h1v6h-1zM326 370h1v6h-1zM330 370h1v6h-1zM388 370h2v6h-2zM405 370h1v6h-1zM516 370h1v6h-1zM528 370h1v6h-1zM534 370h1v6h-1zM554 370h1v6h-1zM557 370h1v6h-1zM79 376h1v6h-1zM101 376h1v6h-1zM105 376h1v6h-1zM109 376h1v6h-1zM534 376h1v6h-1zM555 376h1v6h-1zM557 376h1v6h-1zM78 382h2v6h-2zM109 382h1v6h-1zM384 382h1v6h-1zM512 382h1v6h-1zM516 382h1v6h-1zM555 382h1v6h-1zM557 382h1v6h-1zM78 388h1v6h-1zM82 388h4v6h-4zM87 388h1v6h-1zM91 388h7v6h-7zM107 388h1v6h-1zM132 388h1v6h-1zM384 388h1v6h-1zM397 388h2v6h-2zM401 388h1v6h-1zM528 388h1v6h-1zM534 388h1v6h-1zM550 388h1v6h-1zM554 388h1v6h-1zM78 394h1v6h-1zM82 394h1v6h-1zM84 394h2v6h-2zM90 394h3v6h-3zM94 394h3v6h-3zM107 394h1v6h-1zM256 394h1v6h-1zM393 394h1v6h-1zM395 394h1v6h-1zM397 394h2v6h-2zM400 394h2v6h-2zM528 394h1v6h-1zM546 394h1v6h-1zM554 394h1v6h-1zM557 394h1v6h-1zM79 400h1v6h-1zM109 400h1v6h-1zM512 400h1v6h-1zM516 400h1v6h-1zM550 400h1v6h-1zM554 400h1v6h-1zM78 406h1v6h-1zM101 406h1v6h-1zM106 406h1v6h-1zM108 406h1v6h-1zM257 406h1v6h-1zM528 406h1v6h-1zM546 406h1v6h-1zM550 406h1v6h-1zM554 406h1v6h-1zM78 412h1v6h-1zM82 412h2v6h-2zM85 412h1v6h-1zM87 412h8v6h-8zM96 412h2v6h-2zM107 412h1v6h-1zM132 412h1v6h-1zM393 412h1v6h-1zM395 412h3v6h-3zM399 412h2v6h-2zM403 412h2v6h-2zM529 412h1v6h-1zM546 412h1v6h-1zM550 412h1v6h-1zM555 412h1v6h-1zM557 412h1v6h-1zM78 418h1v6h-1zM84 418h1v6h-1zM86 418h3v6h-3zM91 418h2v6h-2zM94 418h4v6h-4zM107 418h1v6h-1zM384 418h1v6h-1zM395 418h3v6h-3zM399 418h1v6h-1zM401 418h1v6h-1zM528 418h1v6h-1zM534 418h1v6h-1zM555 418h1v6h-1zM558 418h1v6h-1zM82 424h1v6h-1zM89 424h1v6h-1zM99 424h1v6h-1zM127 424h1v6h-1zM132 424h1v6h-1zM139 424h2v6h-2zM256 424h1v6h-1zM321 424h1v6h-1zM327 424h1v6h-1zM330 424h1v6h-1zM377 424h2v6h-2zM390 424h3v6h-3zM404 424h1v6h-1zM406 424h1v6h-1zM512 424h1v6h-1zM516 424h1v6h-1zM550 424h1v6h-1zM554 424h2v6h-2zM557 424h1v6h-1zM78 430h2v6h-2zM101 430h1v6h-1zM105 430h1v6h-1zM109 430h1v6h-1zM256 430h1v6h-1zM381 430h1v6h-1zM512 430h1v6h-1zM516 430h1v6h-1zM525 430h1v6h-1zM555 430h1v6h-1zM78 436h1v7h-1zM84 436h2v7h-2zM91 436h1v7h-1zM106 436h3v7h-3zM381 436h1v7h-1zM395 436h2v7h-2zM399 436h1v7h-1zM546 436h1v7h-1zM550 436h1v7h-1zM555 436h1v7h-1zM558 436h1v7h-1zM78 443h2v6h-2zM101 443h1v6h-1zM105 443h1v6h-1zM108 443h2v6h-2zM528 443h1v6h-1zM550 443h1v6h-1zM554 443h1v6h-1zM124 449h1v6h-1zM127 449h1v6h-1zM131 449h1v6h-1zM139 449h1v6h-1zM216 449h1v6h-1zM255 449h1v6h-1zM326 449h1v6h-1zM330 449h1v6h-1zM388 449h3v6h-3zM405 449h1v6h-1zM525 449h1v6h-1zM554 449h1v6h-1zM78 455h1v6h-1zM91 455h1v6h-1zM106 455h3v6h-3zM255 455h1v6h-1zM384 455h1v6h-1zM399 455h1v6h-1zM528 455h1v6h-1zM534 455h1v6h-1zM546 455h1v6h-1zM550 455h1v6h-1zM554 455h2v6h-2zM78 461h2v6h-2zM101 461h1v6h-1zM105 461h1v6h-1zM108 461h2v6h-2zM528 461h1v6h-1zM546 461h1v6h-1zM554 461h1v6h-1zM557 461h1v6h-1zM82 467h1v6h-1zM89 467h1v6h-1zM98 467h2v6h-2zM127 467h1v6h-1zM132 467h1v6h-1zM256 467h1v6h-1zM321 467h1v6h-1zM327 467h1v6h-1zM377 467h2v6h-2zM390 467h1v6h-1zM404 467h2v6h-2zM407 467h1v6h-1zM528 467h1v6h-1zM554 467h1v6h-1zM78 473h2v6h-2zM105 473h1v6h-1zM108 473h2v6h-2zM210 473h1v6h-1zM213 473h1v6h-1zM384 473h1v6h-1zM512 473h1v6h-1zM516 473h1v6h-1zM528 473h1v6h-1zM550 473h1v6h-1zM555 473h1v6h-1zM82 479h2v6h-2zM85 479h4v6h-4zM90 479h1v6h-1zM92 479h7v6h-7zM110 479h1v6h-1zM140 479h1v6h-1zM327 479h1v6h-1zM393 479h2v6h-2zM397 479h1v6h-1zM402 479h2v6h-2zM512 479h1v6h-1zM516 479h1v6h-1zM525 479h1v6h-1zM547 479h1v6h-1zM550 479h1v6h-1zM555 479h1v6h-1zM557 479h1v6h-1zM78 485h2v6h-2zM105 485h1v6h-1zM108 485h2v6h-2zM256 485h1v6h-1zM512 485h1v6h-1zM516 485h1v6h-1zM528 485h1v6h-1zM546 485h1v6h-1zM550 485h1v6h-1zM554 485h1v6h-1zM78 491h1v6h-1zM84 491h2v6h-2zM88 491h1v6h-1zM91 491h4v6h-4zM96 491h1v6h-1zM106 491h2v6h-2zM384 491h1v6h-1zM393 491h1v6h-1zM396 491h1v6h-1zM398 491h4v6h-4zM403 491h1v6h-1zM546 491h1v6h-1zM555 491h1v6h-1zM78 497h2v6h-2zM108 497h2v6h-2zM384 497h1v6h-1zM528 497h1v6h-1zM534 497h1v6h-1zM542 497h1v6h-1zM554 497h2v6h-2zM82 503h2v6h-2zM86 503h5v6h-5zM92 503h4v6h-4zM97 503h2v6h-2zM110 503h1v6h-1zM132 503h1v6h-1zM327 503h1v6h-1zM384 503h1v6h-1zM393 503h3v6h-3zM397 503h1v6h-1zM399 503h3v6h-3zM547 503h1v6h-1zM554 503h1v6h-1zM557 503h1v6h-1zM78 509h2v6h-2zM101 509h1v6h-1zM105 509h1v6h-1zM108 509h2v6h-2zM384 509h1v6h-1zM512 509h1v6h-1zM516 509h1v6h-1zM528 509h1v6h-1zM534 509h1v6h-1zM539 509h1v6h-1zM546 509h2v6h-2zM550 509h1v6h-1zM555 509h1v6h-1zM82 515h1v6h-1zM86 515h1v6h-1zM89 515h1v6h-1zM93 515h1v6h-1zM98 515h2v6h-2zM131 515h2v6h-2zM327 515h1v6h-1zM330 515h1v6h-1zM377 515h2v6h-2zM381 515h1v6h-1zM390 515h1v6h-1zM392 515h1v6h-1zM402 515h1v6h-1zM405 515h1v6h-1zM407 515h1v6h-1zM528 515h1v6h-1zM542 515h1v6h-1zM554 515h2v6h-2zM78 521h1v6h-1zM85 521h1v6h-1zM101 521h1v6h-1zM106 521h1v6h-1zM108 521h1v6h-1zM216 521h1v6h-1zM528 521h1v6h-1zM555 521h1v6h-1zM558 521h1v6h-1zM78 527h1v6h-1zM82 527h17v6h-17zM110 527h1v6h-1zM384 527h1v6h-1zM391 527h2v6h-2zM394 527h1v6h-1zM397 527h1v6h-1zM399 527h2v6h-2zM402 527h2v6h-2zM528 527h1v6h-1zM554 527h1v6h-1zM78 533h2v6h-2zM101 533h1v6h-1zM105 533h1v6h-1zM108 533h2v6h-2zM512 533h1v6h-1zM516 533h1v6h-1zM547 533h1v6h-1zM554 533h1v6h-1zM78 539h2v6h-2zM105 539h1v6h-1zM108 539h2v6h-2zM512 539h1v6h-1zM516 539h1v6h-1zM528 539h1v6h-1zM554 539h1v6h-1zM557 539h1v6h-1zM78 545h1v6h-1zM84 545h2v6h-2zM91 545h2v6h-2zM94 545h1v6h-1zM101 545h1v6h-1zM106 545h3v6h-3zM256 545h1v6h-1zM396 545h1v6h-1zM398 545h2v6h-2zM525 545h1v6h-1zM542 545h1v6h-1zM555 545h1v6h-1zM78 551h1v6h-1zM105 551h1v6h-1zM108 551h2v6h-2zM380 551h1v6h-1zM528 551h1v6h-1zM547 551h1v6h-1zM555 551h1v6h-1z"/>
<path fill="#ff6900" d="M79 316h1v6h-1zM106 316h1v6h-1zM108 316h2v6h-2zM398 316h2v6h-2zM528 316h1v6h-1zM540 316h1v6h-1zM558 316h1v6h-1zM78 328h1v6h-1zM82 328h2v6h-2zM86 328h2v6h-2zM89 328h1v6h-1zM95 328h1v6h-1zM97 328h2v6h-2zM110 328h1v6h-1zM327 328h1v6h-1zM391 328h2v6h-2zM404 328h1v6h-1zM406 328h1v6h-1zM540 328h1v6h-1zM558 328h1v6h-1zM79 334h1v6h-1zM105 334h2v6h-2zM108 334h1v6h-1zM256 334h1v6h-1zM383 334h1v6h-1zM398 334h1v6h-1zM540 334h1v6h-1zM548 334h1v6h-1zM78 340h2v6h-2zM84 340h2v6h-2zM87 340h2v6h-2zM90 340h1v6h-1zM92 340h1v6h-1zM94 340h4v6h-4zM101 340h1v6h-1zM110 340h1v6h-1zM391 340h3v6h-3zM395 340h1v6h-1zM403 340h2v6h-2zM540 340h1v6h-1zM543 340h1v6h-1zM554 340h1v6h-1zM79 346h1v6h-1zM106 346h1v6h-1zM108 346h1v6h-1zM396 346h1v6h-1zM398 346h1v6h-1zM546 346h1v6h-1zM554 346h1v6h-1zM558 346h1v6h-1zM548 352h1v6h-1zM550 352h1v6h-1zM78 358h1v6h-1zM82 358h2v6h-2zM86 358h2v6h-2zM89 358h2v6h-2zM93 358h6v6h-6zM101 358h1v6h-1zM110 358h1v6h-1zM321 358h1v6h-1zM391 358h2v6h-2zM402 358h1v6h-1zM406 358h1v6h-1zM543 358h1v6h-1zM554 358h1v6h-1zM79 364h1v6h-1zM101 364h1v6h-1zM109 364h1v6h-1zM550 364h1v6h-1zM82 370h1v6h-1zM89 370h2v6h-2zM95 370h1v6h-1zM98 370h1v6h-1zM132 370h1v6h-1zM140 370h1v6h-1zM257 370h1v6h-1zM321 370h1v6h-1zM377 370h2v6h-2zM390 370h1v6h-1zM402 370h1v6h-1zM407 370h1v6h-1zM546 370h1v6h-1zM540 376h1v6h-1zM543 376h1v6h-1zM546 376h1v6h-1zM550 376h1v6h-1zM554 376h1v6h-1zM546 382h1v6h-1zM554 382h1v6h-1zM79 388h1v6h-1zM101 388h1v6h-1zM106 388h1v6h-1zM108 388h2v6h-2zM396 388h1v6h-1zM540 388h1v6h-1zM79 394h1v6h-1zM105 394h2v6h-2zM108 394h2v6h-2zM396 394h1v6h-1zM540 394h1v6h-1zM543 394h1v6h-1zM550 394h1v6h-1zM101 400h1v6h-1zM257 400h1v6h-1zM384 400h1v6h-1zM540 400h1v6h-1zM546 400h1v6h-1zM548 400h1v6h-1zM79 406h1v6h-1zM105 406h1v6h-1zM109 406h1v6h-1zM384 406h1v6h-1zM543 406h1v6h-1zM79 412h1v6h-1zM84 412h1v6h-1zM106 412h1v6h-1zM108 412h1v6h-1zM384 412h1v6h-1zM401 412h1v6h-1zM535 412h1v6h-1zM554 412h1v6h-1zM79 418h1v6h-1zM85 418h1v6h-1zM101 418h1v6h-1zM106 418h1v6h-1zM108 418h1v6h-1zM257 418h1v6h-1zM398 418h1v6h-1zM546 418h1v6h-1zM550 418h1v6h-1zM554 418h1v6h-1zM78 424h1v6h-1zM83 424h1v6h-1zM86 424h1v6h-1zM88 424h1v6h-1zM90 424h1v6h-1zM92 424h4v6h-4zM98 424h1v6h-1zM101 424h1v6h-1zM110 424h1v6h-1zM402 424h2v6h-2zM535 424h1v6h-1zM546 424h1v6h-1zM546 430h1v6h-1zM550 430h1v6h-1zM554 430h1v6h-1zM558 430h1v6h-1zM79 436h1v7h-1zM101 436h1v7h-1zM105 436h1v7h-1zM109 436h1v7h-1zM554 436h1v7h-1zM384 443h1v6h-1zM558 443h1v6h-1zM82 449h2v6h-2zM89 449h2v6h-2zM99 449h1v6h-1zM132 449h1v6h-1zM140 449h1v6h-1zM321 449h1v6h-1zM327 449h1v6h-1zM377 449h2v6h-2zM384 449h1v6h-1zM392 449h1v6h-1zM406 449h2v6h-2zM542 449h1v6h-1zM546 449h1v6h-1zM558 449h1v6h-1zM79 455h1v6h-1zM105 455h1v6h-1zM109 455h1v6h-1zM558 455h1v6h-1zM542 461h1v6h-1zM78 467h1v6h-1zM83 467h1v6h-1zM86 467h3v6h-3zM90 467h1v6h-1zM93 467h5v6h-5zM101 467h1v6h-1zM110 467h1v6h-1zM391 467h2v6h-2zM394 467h1v6h-1zM399 467h1v6h-1zM402 467h1v6h-1zM406 467h1v6h-1zM558 467h1v6h-1zM104 473h1v6h-1zM257 473h1v6h-1zM554 473h1v6h-1zM558 473h1v6h-1zM78 479h2v6h-2zM84 479h1v6h-1zM91 479h1v6h-1zM101 479h1v6h-1zM106 479h3v6h-3zM257 479h1v6h-1zM381 479h1v6h-1zM395 479h2v6h-2zM399 479h3v6h-3zM554 479h1v6h-1zM381 485h1v6h-1zM542 485h1v6h-1zM558 485h1v6h-1zM79 491h1v6h-1zM108 491h2v6h-2zM535 491h1v6h-1zM554 491h1v6h-1zM558 491h1v6h-1zM101 497h1v6h-1zM105 497h1v6h-1zM256 497h1v6h-1zM558 497h1v6h-1zM78 503h2v6h-2zM84 503h2v6h-2zM91 503h1v6h-1zM96 503h1v6h-1zM102 503h1v6h-1zM107 503h2v6h-2zM396 503h1v6h-1zM398 503h1v6h-1zM528 503h1v6h-1zM542 503h1v6h-1zM255 509h1v6h-1zM554 509h1v6h-1zM558 509h1v6h-1zM78 515h1v6h-1zM83 515h1v6h-1zM87 515h2v6h-2zM90 515h1v6h-1zM92 515h1v6h-1zM94 515h4v6h-4zM110 515h1v6h-1zM321 515h1v6h-1zM391 515h1v6h-1zM404 515h1v6h-1zM406 515h1v6h-1zM558 515h1v6h-1zM79 521h1v6h-1zM105 521h1v6h-1zM109 521h1v6h-1zM210 521h1v6h-1zM213 521h1v6h-1zM381 521h1v6h-1zM542 521h1v6h-1zM554 521h1v6h-1zM79 527h1v6h-1zM107 527h2v6h-2zM393 527h1v6h-1zM395 527h2v6h-2zM398 527h1v6h-1zM401 527h1v6h-1zM542 527h1v6h-1zM256 533h1v6h-1zM384 533h1v6h-1zM542 533h1v6h-1zM256 539h1v6h-1zM542 539h1v6h-1zM79 545h1v6h-1zM105 545h1v6h-1zM109 545h1v6h-1zM554 545h1v6h-1zM558 545h1v6h-1zM79 551h1v6h-1zM542 551h1v6h-1zM554 551h1v6h-1zM558 551h1v6h-1z"/>
<path fill="#ff7e00" d="M105 316h1v6h-1zM543 316h1v6h-1zM548 316h1v6h-1zM101 322h1v6h-1zM383 322h1v6h-1zM546 322h1v6h-1zM550 322h1v6h-1zM558 322h1v6h-1zM79 328h1v6h-1zM85 328h1v6h-1zM88 328h1v6h-1zM90 328h1v6h-1zM92 328h3v6h-3zM96 328h1v6h-1zM380 328h1v6h-1zM393 328h2v6h-2zM397 328h1v6h-1zM402 328h2v6h-2zM543 328h1v6h-1zM548 328h1v6h-1zM101 334h1v6h-1zM109 334h1v6h-1zM543 334h1v6h-1zM550 334h1v6h-1zM558 334h1v6h-1zM91 340h1v6h-1zM106 340h2v6h-2zM383 340h1v6h-1zM397 340h1v6h-1zM399 340h2v6h-2zM546 340h1v6h-1zM558 340h1v6h-1zM105 346h1v6h-1zM109 346h1v6h-1zM383 346h1v6h-1zM542 346h1v6h-1zM548 346h1v6h-1zM550 346h1v6h-1zM540 352h1v6h-1zM543 352h1v6h-1zM558 352h1v6h-1zM79 358h1v6h-1zM84 358h1v6h-1zM88 358h1v6h-1zM91 358h2v6h-2zM107 358h1v6h-1zM393 358h3v6h-3zM397 358h1v6h-1zM401 358h1v6h-1zM403 358h2v6h-2zM546 358h1v6h-1zM548 358h1v6h-1zM550 358h1v6h-1zM558 358h1v6h-1zM257 364h1v6h-1zM540 364h1v6h-1zM543 364h1v6h-1zM546 364h1v6h-1zM548 364h1v6h-1zM558 364h1v6h-1zM78 370h1v6h-1zM83 370h1v6h-1zM86 370h3v6h-3zM92 370h3v6h-3zM96 370h2v6h-2zM101 370h1v6h-1zM110 370h1v6h-1zM327 370h1v6h-1zM391 370h2v6h-2zM394 370h1v6h-1zM403 370h2v6h-2zM406 370h1v6h-1zM540 370h1v6h-1zM543 370h1v6h-1zM550 370h1v6h-1zM558 370h1v6h-1zM81 376h1v6h-1zM258 376h1v6h-1zM548 376h1v6h-1zM558 376h1v6h-1zM81 382h1v6h-1zM540 382h1v6h-1zM543 382h1v6h-1zM550 382h1v6h-1zM558 382h1v6h-1zM105 388h1v6h-1zM546 388h1v6h-1zM548 388h1v6h-1zM558 388h1v6h-1zM101 394h1v6h-1zM542 394h1v6h-1zM542 400h2v6h-2zM558 400h1v6h-1zM540 406h1v6h-1zM548 406h1v6h-1zM558 406h1v6h-1zM101 412h1v6h-1zM105 412h1v6h-1zM109 412h1v6h-1zM398 412h1v6h-1zM540 412h1v6h-1zM543 412h1v6h-1zM105 418h1v6h-1zM109 418h1v6h-1zM79 424h1v6h-1zM84 424h2v6h-2zM87 424h1v6h-1zM91 424h1v6h-1zM96 424h2v6h-2zM107 424h1v6h-1zM393 424h2v6h-2zM397 424h1v6h-1zM532 424h1v6h-1zM558 424h1v6h-1zM384 430h1v6h-1zM384 436h1v7h-1zM531 436h1v7h-1zM542 436h1v7h-1zM542 443h2v6h-2zM78 449h2v6h-2zM86 449h3v6h-3zM92 449h4v6h-4zM97 449h2v6h-2zM101 449h1v6h-1zM110 449h1v6h-1zM391 449h1v6h-1zM393 449h1v6h-1zM397 449h1v6h-1zM402 449h3v6h-3zM540 449h1v6h-1zM542 455h1v6h-1zM256 461h1v6h-1zM79 467h1v6h-1zM84 467h1v6h-1zM92 467h1v6h-1zM107 467h1v6h-1zM393 467h1v6h-1zM395 467h1v6h-1zM400 467h1v6h-1zM403 467h1v6h-1zM542 467h1v6h-1zM101 473h1v6h-1zM542 473h1v6h-1zM105 479h1v6h-1zM109 479h1v6h-1zM398 479h1v6h-1zM542 479h1v6h-1zM558 479h1v6h-1zM105 491h1v6h-1zM542 491h1v6h-1zM381 497h1v6h-1zM106 503h1v6h-1zM109 503h1v6h-1zM558 503h1v6h-1zM81 509h1v6h-1zM104 509h1v6h-1zM542 509h1v6h-1zM79 515h1v6h-1zM84 515h2v6h-2zM91 515h1v6h-1zM107 515h1v6h-1zM256 515h1v6h-1zM384 515h1v6h-1zM393 515h2v6h-2zM397 515h1v6h-1zM400 515h2v6h-2zM403 515h1v6h-1zM106 527h1v6h-1zM109 527h1v6h-1zM558 527h1v6h-1zM81 533h1v6h-1zM558 533h1v6h-1zM531 545h1v6h-1zM101 551h1v6h-1zM256 551h1v6h-1z"/>
<path fill="#ff9400" d="M259 316h1v6h-1zM380 316h1v6h-1zM534 316h1v6h-1zM81 322h1v6h-1zM259 322h1v6h-1zM531 322h1v6h-1zM84 328h1v6h-1zM91 328h1v6h-1zM107 328h1v6h-1zM259 328h1v6h-1zM550 328h1v6h-1zM81 334h1v6h-1zM104 334h1v6h-1zM533 334h2v6h-2zM105 340h1v6h-1zM108 340h1v6h-1zM256 340h1v6h-1zM396 340h1v6h-1zM398 340h1v6h-1zM401 340h1v6h-1zM548 340h1v6h-1zM81 346h1v6h-1zM260 346h1v6h-1zM531 346h1v6h-1zM81 352h1v6h-1zM260 352h1v6h-1zM546 352h1v6h-1zM85 358h1v6h-1zM108 358h1v6h-1zM257 358h1v6h-1zM396 358h1v6h-1zM398 358h3v6h-3zM542 358h1v6h-1zM104 364h1v6h-1zM79 370h1v6h-1zM91 370h1v6h-1zM393 370h1v6h-1zM395 370h1v6h-1zM548 370h1v6h-1zM542 376h1v6h-1zM105 382h1v6h-1zM257 382h1v6h-1zM531 382h1v6h-1zM548 382h1v6h-1zM81 388h1v6h-1zM257 388h1v6h-1zM542 388h2v6h-2zM104 394h1v6h-1zM260 394h1v6h-1zM548 394h1v6h-1zM558 394h1v6h-1zM104 400h1v6h-1zM261 406h1v6h-1zM542 406h1v6h-1zM81 412h1v6h-1zM257 412h1v6h-1zM533 412h1v6h-1zM542 412h1v6h-1zM548 412h1v6h-1zM558 412h1v6h-1zM81 418h1v6h-1zM540 418h1v6h-1zM542 418h1v6h-1zM106 424h1v6h-1zM108 424h1v6h-1zM260 424h1v6h-1zM395 424h2v6h-2zM398 424h4v6h-4zM530 424h1v6h-1zM533 424h1v6h-1zM540 424h1v6h-1zM542 424h1v6h-1zM81 430h1v6h-1zM104 430h1v6h-1zM260 430h1v6h-1zM531 430h1v6h-1zM540 430h1v6h-1zM542 430h1v6h-1zM81 436h1v7h-1zM258 436h1v7h-1zM540 436h1v7h-1zM543 436h1v7h-1zM548 436h1v7h-1zM81 443h1v6h-1zM256 443h1v6h-1zM540 443h1v6h-1zM91 449h1v6h-1zM96 449h1v6h-1zM259 449h1v6h-1zM394 449h1v6h-1zM528 449h1v6h-1zM531 449h1v6h-1zM548 449h1v6h-1zM81 455h1v6h-1zM259 455h1v6h-1zM381 455h1v6h-1zM543 455h1v6h-1zM81 461h1v6h-1zM534 461h1v6h-1zM540 461h1v6h-1zM543 461h1v6h-1zM558 461h1v6h-1zM85 467h1v6h-1zM91 467h1v6h-1zM106 467h1v6h-1zM260 467h1v6h-1zM397 467h2v6h-2zM401 467h1v6h-1zM543 467h1v6h-1zM81 473h1v6h-1zM381 473h1v6h-1zM104 479h1v6h-1zM384 479h1v6h-1zM531 479h1v6h-1zM543 479h1v6h-1zM81 485h1v6h-1zM260 485h1v6h-1zM81 491h1v6h-1zM260 491h1v6h-1zM530 491h1v6h-1zM532 491h1v6h-1zM81 497h1v6h-1zM540 497h1v6h-1zM256 503h1v6h-1zM381 503h1v6h-1zM540 503h1v6h-1zM259 509h1v6h-1zM106 515h1v6h-1zM108 515h1v6h-1zM395 515h2v6h-2zM399 515h1v6h-1zM258 521h1v6h-1zM384 521h1v6h-1zM105 527h1v6h-1zM260 527h1v6h-1zM381 527h1v6h-1zM540 527h1v6h-1zM531 533h1v6h-1zM81 539h1v6h-1zM558 539h1v6h-1zM81 545h1v6h-1zM260 545h1v6h-1zM549 545h1v6h-1z"/>
<path fill="#ffa900" d="M81 316h1v6h-1zM76 322h1v6h-1zM528 322h1v6h-1zM81 328h1v6h-1zM106 328h1v6h-1zM108 328h1v6h-1zM395 328h2v6h-2zM398 328h1v6h-1zM401 328h1v6h-1zM546 328h1v6h-1zM532 334h1v6h-1zM546 334h1v6h-1zM81 340h1v6h-1zM109 340h1v6h-1zM534 340h1v6h-1zM550 340h1v6h-1zM104 346h1v6h-1zM257 346h1v6h-1zM528 346h2v6h-2zM534 352h1v6h-1zM81 358h1v6h-1zM106 358h1v6h-1zM109 358h1v6h-1zM81 364h1v6h-1zM383 364h1v6h-1zM85 370h1v6h-1zM107 370h1v6h-1zM400 370h2v6h-2zM542 370h1v6h-1zM76 376h1v6h-1zM542 382h1v6h-1zM81 394h1v6h-1zM76 400h1v6h-1zM81 400h1v6h-1zM381 400h1v6h-1zM76 406h1v6h-1zM81 406h1v6h-1zM104 412h1v6h-1zM381 412h1v6h-1zM530 412h1v6h-1zM532 412h1v6h-1zM534 412h1v6h-1zM381 418h1v6h-1zM543 418h1v6h-1zM548 418h1v6h-1zM81 424h1v6h-1zM105 424h1v6h-1zM109 424h1v6h-1zM384 424h1v6h-1zM531 424h1v6h-1zM543 424h1v6h-1zM548 424h1v6h-1zM528 430h1v6h-1zM543 430h1v6h-1zM104 443h1v6h-1zM548 443h1v6h-1zM84 449h2v6h-2zM104 449h1v6h-1zM107 449h1v6h-1zM381 449h1v6h-1zM395 449h2v6h-2zM398 449h3v6h-3zM540 455h1v6h-1zM381 461h1v6h-1zM548 461h1v6h-1zM104 467h2v6h-2zM108 467h1v6h-1zM396 467h1v6h-1zM533 467h1v6h-1zM540 467h1v6h-1zM548 467h1v6h-1zM533 473h1v6h-1zM543 473h1v6h-1zM81 479h1v6h-1zM528 479h1v6h-1zM540 479h1v6h-1zM384 485h1v6h-1zM534 485h1v6h-1zM540 485h1v6h-1zM381 491h1v6h-1zM533 491h1v6h-1zM540 491h1v6h-1zM548 491h2v6h-2zM81 503h1v6h-1zM381 509h1v6h-1zM81 515h1v6h-1zM101 515h1v6h-1zM105 515h1v6h-1zM109 515h1v6h-1zM398 515h1v6h-1zM540 515h1v6h-1zM549 515h1v6h-1zM76 521h1v6h-1zM81 521h1v6h-1zM548 521h2v6h-2zM81 527h1v6h-1zM549 527h1v6h-1zM381 533h1v6h-1zM540 533h1v6h-1zM76 539h1v6h-1zM101 539h1v6h-1zM104 539h1v6h-1zM549 539h1v6h-1zM528 545h2v6h-2zM540 545h2v6h-2zM81 551h1v6h-1z"/>
<path fill="#ffbe00" d="M76 316h1v6h-1zM104 316h1v6h-1zM256 316h1v6h-1zM542 316h1v6h-1zM546 316h1v6h-1zM550 316h1v6h-1zM77 322h1v6h-1zM256 322h1v6h-1zM529 322h1v6h-1zM542 322h1v6h-1zM105 328h1v6h-1zM109 328h1v6h-1zM256 328h1v6h-1zM399 328h2v6h-2zM380 334h1v6h-1zM530 334h1v6h-1zM542 340h1v6h-1zM541 346h1v6h-1zM76 352h1v6h-1zM104 352h1v6h-1zM105 358h1v6h-1zM533 358h1v6h-1zM533 364h1v6h-1zM81 370h1v6h-1zM84 370h1v6h-1zM104 370h1v6h-1zM106 370h1v6h-1zM108 370h1v6h-1zM397 370h1v6h-1zM399 370h1v6h-1zM533 370h1v6h-1zM77 376h1v6h-1zM104 376h1v6h-1zM381 376h1v6h-1zM529 376h1v6h-1zM533 376h1v6h-1zM533 394h1v6h-1zM77 400h1v6h-1zM529 400h1v6h-1zM533 400h1v6h-1zM549 400h1v6h-1zM77 406h1v6h-1zM533 406h1v6h-1zM549 406h1v6h-1zM76 418h2v6h-2zM104 418h1v6h-1zM534 424h1v6h-1zM76 430h2v6h-2zM529 430h1v6h-1zM548 430h1v6h-1zM549 436h1v7h-1zM381 443h1v6h-1zM533 443h1v6h-1zM81 449h1v6h-1zM106 449h1v6h-1zM108 449h1v6h-1zM401 449h1v6h-1zM529 449h1v6h-1zM543 449h1v6h-1zM549 449h1v6h-1zM76 455h1v6h-1zM548 455h1v6h-1zM549 461h1v6h-1zM81 467h1v6h-1zM109 467h1v6h-1zM381 467h1v6h-1zM540 473h1v6h-1zM548 473h1v6h-1zM529 479h1v6h-1zM76 485h1v6h-1zM104 485h1v6h-1zM257 491h1v6h-1zM531 491h1v6h-1zM534 491h1v6h-1zM541 497h1v6h-1zM543 497h1v6h-1zM534 503h1v6h-1zM543 503h1v6h-1zM76 509h1v6h-1zM80 509h1v6h-1zM104 515h1v6h-1zM534 515h1v6h-1zM543 515h1v6h-1zM548 515h1v6h-1zM77 521h1v6h-1zM533 521h1v6h-1zM76 527h1v6h-1zM257 527h1v6h-1zM533 527h1v6h-1zM541 527h1v6h-1zM548 527h1v6h-1zM104 533h1v6h-1zM77 539h1v6h-1zM534 539h1v6h-1zM545 539h1v6h-1zM104 545h1v6h-1zM548 545h1v6h-1zM76 551h1v6h-1zM104 551h1v6h-1zM534 551h1v6h-1zM540 551h2v6h-2zM545 551h1v6h-1zM549 551h1v6h-1z"/>
<path fill="#ffd300" d="M77 316h1v6h-1zM549 322h1v6h-1zM102 328h1v6h-1zM533 328h1v6h-1zM542 328h1v6h-1zM76 334h1v6h-1zM542 334h1v6h-1zM549 334h1v6h-1zM80 346h1v6h-1zM526 346h1v6h-1zM77 352h1v6h-1zM257 352h1v6h-1zM542 352h1v6h-1zM549 352h1v6h-1zM104 358h1v6h-1zM383 358h1v6h-1zM541 358h1v6h-1zM76 364h2v6h-2zM529 364h1v6h-1zM542 364h1v6h-1zM549 364h1v6h-1zM105 370h1v6h-1zM383 370h1v6h-1zM396 370h1v6h-1zM398 370h1v6h-1zM529 370h1v6h-1zM531 370h1v6h-1zM80 376h1v6h-1zM531 376h1v6h-1zM549 376h1v6h-1zM76 382h1v6h-1zM80 382h1v6h-1zM537 382h1v6h-1zM76 388h2v6h-2zM104 388h1v6h-1zM533 388h1v6h-1zM549 388h1v6h-1zM529 394h1v6h-1zM531 400h1v6h-1zM541 400h1v6h-1zM258 406h1v6h-1zM381 406h1v6h-1zM549 412h1v6h-1zM533 418h1v6h-1zM76 424h1v6h-1zM257 424h1v6h-1zM80 430h1v6h-1zM526 430h1v6h-1zM76 436h1v7h-1zM104 436h1v7h-1zM537 436h1v7h-1zM76 443h2v6h-2zM105 449h1v6h-1zM109 449h1v6h-1zM256 449h1v6h-1zM526 449h1v6h-1zM541 449h1v6h-1zM77 455h1v6h-1zM256 455h1v6h-1zM533 455h1v6h-1zM76 461h1v6h-1zM80 461h1v6h-1zM104 461h1v6h-1zM549 467h1v6h-1zM76 473h1v6h-1zM532 473h1v6h-1zM77 485h1v6h-1zM543 485h1v6h-1zM102 491h1v6h-1zM543 491h1v6h-1zM76 497h1v6h-1zM529 497h1v6h-1zM533 497h1v6h-1zM548 497h1v6h-1zM541 503h1v6h-1zM77 509h1v6h-1zM533 509h1v6h-1zM540 509h1v6h-1zM543 509h1v6h-1zM76 515h1v6h-1zM541 515h1v6h-1zM545 515h1v6h-1zM540 521h1v6h-1zM77 527h1v6h-1zM102 527h1v6h-1zM104 527h1v6h-1zM76 533h2v6h-2zM80 533h1v6h-1zM537 533h1v6h-1zM541 533h1v6h-1zM543 533h1v6h-1zM545 533h1v6h-1zM549 533h1v6h-1zM543 539h1v6h-1zM548 539h1v6h-1zM76 545h1v6h-1zM257 545h1v6h-1zM526 545h1v6h-1zM530 545h1v6h-1zM77 551h1v6h-1zM543 551h1v6h-1z"/>
<path fill="#ffe900" d="M541 316h1v6h-1zM80 322h1v6h-1zM526 322h1v6h-1zM76 328h2v6h-2zM104 328h1v6h-1zM529 328h1v6h-1zM77 334h1v6h-1zM80 334h1v6h-1zM531 334h1v6h-1zM76 340h1v6h-1zM80 340h1v6h-1zM104 340h1v6h-1zM76 346h2v6h-2zM102 346h1v6h-1zM383 352h1v6h-1zM76 358h1v6h-1zM529 358h1v6h-1zM531 358h2v6h-2zM531 364h1v6h-1zM76 370h1v6h-1zM109 370h1v6h-1zM532 370h1v6h-1zM541 376h1v6h-1zM77 382h1v6h-1zM102 382h1v6h-1zM80 388h1v6h-1zM541 388h1v6h-1zM76 394h2v6h-2zM257 394h1v6h-1zM381 394h1v6h-1zM531 394h2v6h-2zM541 394h1v6h-1zM76 412h1v6h-1zM80 412h1v6h-1zM531 412h1v6h-1zM80 418h1v6h-1zM77 424h1v6h-1zM257 430h1v6h-1zM77 436h1v7h-1zM80 436h1v7h-1zM529 443h1v6h-1zM531 443h1v6h-1zM549 443h1v6h-1zM76 449h2v6h-2zM80 455h1v6h-1zM102 455h1v6h-1zM104 455h1v6h-1zM529 455h1v6h-1zM77 461h1v6h-1zM383 461h1v6h-1zM541 461h1v6h-1zM76 467h1v6h-1zM257 467h1v6h-1zM532 467h1v6h-1zM545 467h1v6h-1zM77 473h1v6h-1zM80 473h1v6h-1zM531 473h1v6h-1zM549 473h1v6h-1zM76 479h2v6h-2zM526 479h1v6h-1zM545 479h1v6h-1zM548 479h1v6h-1zM80 485h1v6h-1zM257 485h1v6h-1zM541 485h1v6h-1zM548 485h1v6h-1zM76 491h2v6h-2zM80 491h1v6h-1zM104 491h1v6h-1zM77 497h1v6h-1zM531 497h1v6h-1zM549 497h1v6h-1zM76 503h1v6h-1zM548 503h2v6h-2zM256 509h1v6h-1zM77 515h1v6h-1zM529 521h1v6h-1zM543 521h1v6h-1zM548 533h1v6h-1zM77 545h1v6h-1zM80 545h1v6h-1zM381 545h1v6h-1zM545 545h1v6h-1zM383 551h1v6h-1zM548 551h1v6h-1z"/>
<path fill="#fffe00" d="M80 316h1v6h-1zM104 322h1v6h-1zM380 322h1v6h-1zM530 322h1v6h-1zM541 322h1v6h-1zM544 322h1v6h-1zM531 328h1v6h-1zM77 340h1v6h-1zM541 340h1v6h-1zM527 346h1v6h-1zM530 346h1v6h-1zM80 352h1v6h-1zM77 358h1v6h-1zM80 358h1v6h-1zM532 364h1v6h-1zM77 370h1v6h-1zM383 376h1v6h-1zM532 376h1v6h-1zM534 382h1v6h-1zM541 382h1v6h-1zM529 388h1v6h-1zM531 388h1v6h-1zM80 394h1v6h-1zM549 394h1v6h-1zM80 400h1v6h-1zM530 400h1v6h-1zM532 400h1v6h-1zM80 406h1v6h-1zM529 406h1v6h-1zM77 412h1v6h-1zM541 412h1v6h-1zM529 418h1v6h-1zM531 418h1v6h-1zM549 418h1v6h-1zM80 424h1v6h-1zM104 424h1v6h-1zM549 424h1v6h-1zM527 430h1v6h-1zM530 430h1v6h-1zM534 436h1v7h-1zM541 436h1v7h-1zM80 443h1v6h-1zM532 443h1v6h-1zM545 443h1v6h-1zM527 449h1v6h-1zM530 449h1v6h-1zM531 455h1v6h-1zM545 455h1v6h-1zM549 455h1v6h-1zM77 467h1v6h-1zM529 467h1v6h-1zM531 467h1v6h-1zM529 473h1v6h-1zM545 473h1v6h-1zM80 479h1v6h-1zM530 479h1v6h-1zM541 479h1v6h-1zM549 479h1v6h-1zM102 485h1v6h-1zM549 485h1v6h-1zM541 491h1v6h-1zM80 497h1v6h-1zM545 497h1v6h-1zM77 503h1v6h-1zM80 503h1v6h-1zM105 503h1v6h-1zM545 503h1v6h-1zM102 509h1v6h-1zM529 509h1v6h-1zM545 509h1v6h-1zM549 509h1v6h-1zM80 515h1v6h-1zM80 521h1v6h-1zM531 521h2v6h-2zM545 521h1v6h-1zM80 527h1v6h-1zM529 527h1v6h-1zM531 527h2v6h-2zM80 539h1v6h-1zM381 539h1v6h-1zM540 539h1v6h-1zM102 545h1v6h-1zM543 545h1v6h-1zM80 551h1v6h-1z"/>
<path fill="#eaff00" d="M527 322h1v6h-1zM80 328h1v6h-1zM532 328h1v6h-1zM541 328h1v6h-1zM549 328h1v6h-1zM544 346h1v6h-1zM549 346h1v6h-1zM549 358h1v6h-1zM80 364h1v6h-1zM381 364h1v6h-1zM530 364h1v6h-1zM530 370h1v6h-1zM541 370h1v6h-1zM530 376h1v6h-1zM544 376h1v6h-1zM549 382h1v6h-1zM381 388h1v6h-1zM532 388h1v6h-1zM530 394h1v6h-1zM104 406h1v6h-1zM531 406h2v6h-2zM541 406h1v6h-1zM545 406h1v6h-1zM532 418h1v6h-1zM541 424h1v6h-1zM102 430h1v6h-1zM549 430h1v6h-1zM532 455h1v6h-1zM541 455h1v6h-1zM102 461h1v6h-1zM529 461h1v6h-1zM545 461h1v6h-1zM102 467h1v6h-1zM383 467h1v6h-1zM527 479h1v6h-1zM532 497h1v6h-1zM531 509h1v6h-1zM548 509h1v6h-1zM541 521h1v6h-1zM543 527h1v6h-1zM545 527h1v6h-1zM102 533h1v6h-1zM534 533h1v6h-1zM529 539h1v6h-1zM541 539h1v6h-1zM527 545h1v6h-1z"/>
<path fill="#d5ff00" d="M541 334h1v6h-1zM529 340h1v6h-1zM544 340h1v6h-1zM541 352h1v6h-1zM80 370h1v6h-1zM549 370h1v6h-1zM102 376h1v6h-1zM545 376h1v6h-1zM381 382h1v6h-1zM545 394h1v6h-1zM544 406h1v6h-1zM545 412h1v6h-1zM541 418h1v6h-1zM381 424h1v6h-1zM541 430h1v6h-1zM545 436h1v7h-1zM541 443h1v6h-1zM80 449h1v6h-1zM80 467h1v6h-1zM541 467h1v6h-1zM541 473h1v6h-1zM529 485h1v6h-1zM545 485h1v6h-1zM545 491h1v6h-1zM104 497h1v6h-1zM530 497h1v6h-1zM532 509h1v6h-1zM541 509h1v6h-1zM529 551h1v6h-1z"/>
<path fill="#bfff00" d="M102 316h1v6h-1zM549 316h1v6h-1zM545 322h1v6h-1zM382 328h1v6h-1zM530 328h1v6h-1zM259 334h1v6h-1zM381 340h1v6h-1zM549 340h1v6h-1zM102 352h1v6h-1zM529 352h1v6h-1zM260 358h1v6h-1zM530 358h1v6h-1zM541 364h1v6h-1zM260 370h1v6h-1zM381 370h1v6h-1zM261 376h1v6h-1zM260 382h1v6h-1zM544 382h2v6h-2zM383 394h1v6h-1zM544 394h1v6h-1zM102 400h1v6h-1zM260 400h1v6h-1zM260 418h1v6h-1zM102 443h1v6h-1zM259 443h1v6h-1zM530 443h1v6h-1zM102 449h2v6h-2zM530 455h1v6h-1zM531 461h1v6h-1zM103 467h1v6h-1zM544 467h1v6h-1zM103 473h1v6h-1zM260 473h1v6h-1zM102 479h1v6h-1zM259 497h1v6h-1zM383 497h1v6h-1zM259 503h1v6h-1zM103 509h1v6h-1zM259 515h1v6h-1zM382 515h1v6h-1zM529 515h1v6h-1zM102 521h1v6h-1zM104 521h1v6h-1zM530 521h1v6h-1zM259 533h1v6h-1zM259 539h1v6h-1zM259 551h1v6h-1z"/>
<path fill="#aaff00" d="M529 316h1v6h-1zM531 316h1v6h-1zM257 334h1v6h-1zM102 340h1v6h-1zM259 340h1v6h-1zM531 340h1v6h-1zM103 346h1v6h-1zM381 346h1v6h-1zM545 346h1v6h-1zM531 352h1v6h-1zM381 358h1v6h-1zM102 364h1v6h-1zM260 364h1v6h-1zM258 370h1v6h-1zM544 370h1v6h-1zM102 388h1v6h-1zM260 388h1v6h-1zM530 388h1v6h-1zM258 400h1v6h-1zM260 412h1v6h-1zM544 412h1v6h-1zM102 418h1v6h-1zM530 418h1v6h-1zM103 430h1v6h-1zM261 436h1v7h-1zM382 436h1v7h-1zM544 443h1v6h-1zM544 455h1v6h-1zM259 461h1v6h-1zM102 473h1v6h-1zM258 473h1v6h-1zM530 473h1v6h-1zM103 479h1v6h-1zM258 479h1v6h-1zM260 479h1v6h-1zM531 485h1v6h-1zM257 497h1v6h-1zM383 503h1v6h-1zM529 503h1v6h-1zM530 509h1v6h-1zM257 515h1v6h-1zM261 521h1v6h-1zM257 533h1v6h-1zM257 539h1v6h-1zM531 539h1v6h-1zM383 545h1v6h-1zM531 551h1v6h-1z"/>
<path fill="#95ff00" d="M382 316h1v6h-1zM544 316h1v6h-1zM103 328h1v6h-1zM545 340h1v6h-1zM381 352h1v6h-1zM102 358h1v6h-1zM258 358h1v6h-1zM544 358h1v6h-1zM258 364h1v6h-1zM544 364h1v6h-1zM102 370h2v6h-2zM545 370h1v6h-1zM259 376h1v6h-1zM103 394h1v6h-1zM103 400h1v6h-1zM545 400h1v6h-1zM530 406h1v6h-1zM258 418h1v6h-1zM102 424h1v6h-1zM382 430h1v6h-1zM102 436h1v7h-1zM532 436h1v7h-1zM257 443h1v6h-1zM257 461h1v6h-1zM530 467h1v6h-1zM383 473h1v6h-1zM544 479h1v6h-1zM103 527h1v6h-1zM530 527h1v6h-1zM383 539h1v6h-1zM103 545h1v6h-1zM257 551h1v6h-1z"/>
<path fill="#80ff00" d="M544 328h1v6h-1zM103 334h1v6h-1zM257 340h1v6h-1zM382 340h1v6h-1zM103 364h1v6h-1zM545 364h1v6h-1zM258 382h1v6h-1zM532 382h1v6h-1zM258 388h1v6h-1zM383 388h1v6h-1zM102 394h1v6h-1zM102 406h1v6h-1zM102 412h2v6h-2zM258 412h1v6h-1zM545 418h1v6h-1zM545 430h1v6h-1zM259 436h1v7h-1zM533 436h1v7h-1zM544 436h1v7h-1zM103 443h1v6h-1zM545 449h1v6h-1zM383 455h1v6h-1zM544 461h1v6h-1zM544 473h1v6h-1zM103 485h1v6h-1zM103 503h1v6h-1zM257 503h1v6h-1zM531 503h1v6h-1zM383 515h1v6h-1zM531 515h1v6h-1zM544 515h1v6h-1zM259 521h1v6h-1zM383 527h1v6h-1zM381 551h1v6h-1zM544 551h1v6h-1z"/>
<path fill="#6aff00" d="M533 316h1v6h-1zM381 328h1v6h-1zM102 334h1v6h-1zM544 334h1v6h-1zM544 352h1v6h-1zM545 358h1v6h-1zM533 382h1v6h-1zM544 400h1v6h-1zM103 418h1v6h-1zM383 418h1v6h-1zM383 436h1v7h-1zM103 455h1v6h-1zM533 461h1v6h-1zM103 491h1v6h-1zM383 491h1v6h-1zM102 497h1v6h-1zM382 497h1v6h-1zM383 509h1v6h-1zM103 533h1v6h-1zM532 533h1v6h-1zM544 533h1v6h-1zM530 539h1v6h-1zM544 539h1v6h-1zM102 551h1v6h-1z"/>
<path fill="#55ff00" d="M103 316h1v6h-1zM532 316h1v6h-1zM530 340h1v6h-1zM382 346h1v6h-1zM103 352h1v6h-1zM103 376h1v6h-1zM383 382h1v6h-1zM383 400h1v6h-1zM545 424h1v6h-1zM383 430h1v6h-1zM383 449h1v6h-1zM103 461h1v6h-1zM382 461h1v6h-1zM530 461h1v6h-1zM532 461h1v6h-1zM382 479h1v6h-1zM544 503h1v6h-1zM544 509h1v6h-1zM382 521h1v6h-1zM533 533h1v6h-1z"/>
<path fill="#40ff00" d="M382 334h1v6h-1zM103 340h1v6h-1zM533 352h1v6h-1zM103 358h1v6h-1zM382 364h1v6h-1zM382 376h1v6h-1zM104 382h1v6h-1zM545 388h1v6h-1zM383 412h1v6h-1zM544 418h1v6h-1zM535 436h1v7h-1zM383 443h1v6h-1zM382 485h1v6h-1zM530 485h1v6h-1zM544 497h1v6h-1zM382 503h1v6h-1zM103 515h1v6h-1zM383 533h1v6h-1zM535 533h1v6h-1zM530 551h1v6h-1z"/>
<path fill="#2bff00" d="M381 316h1v6h-1zM533 340h1v6h-1zM530 352h1v6h-1zM532 352h1v6h-1zM545 352h1v6h-1zM535 382h1v6h-1zM103 388h1v6h-1zM544 388h1v6h-1zM382 467h1v6h-1zM382 473h1v6h-1zM532 485h2v6h-2z"/>
<path fill="#15ff00" d="M545 316h1v6h-1zM102 322h1v6h-1zM532 340h1v6h-1zM103 424h1v6h-1zM544 430h1v6h-1zM103 436h1v7h-1zM382 455h1v6h-1zM544 485h1v6h-1zM104 503h1v6h-1zM102 515h1v6h-1zM530 515h1v6h-1zM544 521h1v6h-1zM382 527h1v6h-1zM103 551h1v6h-1z"/>
<path fill="#00ff00" d="M530 316h1v6h-1zM545 328h1v6h-1zM545 334h1v6h-1zM536 382h1v6h-1zM383 406h1v6h-1zM382 418h1v6h-1zM544 424h1v6h-1zM536 436h1v7h-1zM544 449h1v6h-1zM383 479h1v6h-1zM382 491h1v6h-1zM544 491h1v6h-1zM530 503h1v6h-1zM533 503h1v6h-1zM383 521h1v6h-1zM536 533h1v6h-1zM103 539h1v6h-1zM544 545h1v6h-1zM533 551h1v6h-1z"/>
<path fill="#00ff14" d="M257 322h2v6h-2zM258 346h2v6h-2zM259 352h1v6h-1zM382 370h1v6h-1zM259 394h1v6h-1zM260 406h1v6h-1zM259 424h1v6h-1zM259 430h1v6h-1zM257 449h2v6h-2zM258 455h1v6h-1zM259 467h1v6h-1zM258 491h2v6h-2zM532 503h1v6h-1zM382 509h1v6h-1zM258 527h2v6h-2zM102 539h1v6h-1zM532 539h2v6h-2zM532 551h1v6h-1z"/>
<path fill="#00ff29" d="M257 316h2v6h-2zM257 328h2v6h-2zM258 352h1v6h-1zM382 358h1v6h-1zM258 394h1v6h-1zM382 394h1v6h-1zM382 400h1v6h-1zM259 406h1v6h-1zM258 424h1v6h-1zM258 430h1v6h-1zM382 449h1v6h-1zM257 455h1v6h-1zM258 467h1v6h-1zM259 485h1v6h-1zM383 485h1v6h-1zM258 509h1v6h-1zM532 515h2v6h-2zM544 527h1v6h-1zM258 545h2v6h-2z"/>
<path fill="#00ff3f" d="M103 382h1v6h-1zM103 406h1v6h-1zM382 412h1v6h-1zM382 443h1v6h-1zM258 485h1v6h-1zM257 509h1v6h-1zM103 521h1v6h-1zM382 533h1v6h-1z"/>
<path fill="#00ff54" d="M381 334h1v6h-1zM382 352h1v6h-1zM382 545h1v6h-1z"/>
<path fill="#00ff69" d="M382 322h1v6h-1zM382 539h1v6h-1zM382 551h1v6h-1z"/>
<path fill="#00ff7e" d="M258 334h1v6h-1zM259 358h1v6h-1zM259 370h1v6h-1zM259 473h1v6h-1zM103 497h1v6h-1zM258 497h1v6h-1zM258 515h1v6h-1zM258 533h1v6h-1zM258 539h1v6h-1z"/>
<path fill="#00ff94" d="M103 322h1v6h-1zM258 340h1v6h-1zM259 364h1v6h-1zM260 376h1v6h-1zM259 382h1v6h-1zM259 388h1v6h-1zM259 400h1v6h-1zM259 412h1v6h-1zM259 418h1v6h-1zM258 443h1v6h-1zM258 461h1v6h-1zM259 479h1v6h-1zM258 503h1v6h-1zM260 521h1v6h-1zM258 551h1v6h-1z"/>
<path fill="#00ffa9" d="M382 388h1v6h-1zM382 406h1v6h-1zM260 436h1v7h-1z"/>
<path fill="#00ffe9" d="M382 382h1v6h-1z"/>
<path fill="#00fffe" d="M383 424h1v6h-1z"/>
<path fill="#00d5ff" d="M381 322h1v6h-1z"/>
<path fill="#0015ff" d="M382 424h1v6h-1z"/>
</g>
<rect x="584.2" y="317.0" width="42.0" height="238.8" fill="url(#rb)"/>
<g id="pc">
<rect x="74" y="575" width="488" height="239" fill="#000000"/>
<path fill="#080808" d="M81 575h1v6h-1zM84 575h1v6h-1zM87 575h2v6h-2zM96 575h3v6h-3zM108 575h3v6h-3zM122 575h3v6h-3zM126 575h2v6h-2zM130 575h2v6h-2zM135 575h2v6h-2zM138 575h2v6h-2zM255 575h1v6h-1zM320 575h4v6h-4zM325 575h1v6h-1zM328 575h1v6h-1zM330 575h2v6h-2zM349 575h1v6h-1zM378 575h2v6h-2zM389 575h7v6h-7zM403 575h7v6h-7zM515 575h1v6h-1zM519 575h1v6h-1zM524 575h2v6h-2zM538 575h5v6h-5zM550 575h1v6h-1zM554 575h1v6h-1zM556 575h1v6h-1zM559 575h2v6h-2zM80 581h19v6h-19zM104 581h3v6h-3zM108 581h1v6h-1zM126 581h1v6h-1zM130 581h2v6h-2zM135 581h1v6h-1zM138 581h2v6h-2zM255 581h1v6h-1zM378 581h3v6h-3zM394 581h9v6h-9zM404 581h2v6h-2zM524 581h2v6h-2zM535 581h1v6h-1zM550 581h1v6h-1zM556 581h1v6h-1zM558 581h1v6h-1zM560 581h1v6h-1zM98 587h2v6h-2zM109 587h5v6h-5zM124 587h2v6h-2zM127 587h1v6h-1zM130 587h1v6h-1zM135 587h2v6h-2zM255 587h1v6h-1zM319 587h3v6h-3zM326 587h1v6h-1zM329 587h3v6h-3zM380 587h1v6h-1zM386 587h5v6h-5zM409 587h6v6h-6zM514 587h1v6h-1zM518 587h1v6h-1zM520 587h1v6h-1zM524 587h2v6h-2zM538 587h1v6h-1zM542 587h1v6h-1zM550 587h1v6h-1zM554 587h1v6h-1zM556 587h1v6h-1zM558 587h1v6h-1zM560 587h1v6h-1zM80 593h2v6h-2zM84 593h2v6h-2zM87 593h2v6h-2zM96 593h3v6h-3zM109 593h2v6h-2zM122 593h3v6h-3zM126 593h2v6h-2zM130 593h2v6h-2zM135 593h2v6h-2zM138 593h2v6h-2zM255 593h1v6h-1zM260 593h1v6h-1zM319 593h1v6h-1zM322 593h1v6h-1zM325 593h1v6h-1zM327 593h3v6h-3zM331 593h1v6h-1zM378 593h3v6h-3zM389 593h5v6h-5zM403 593h1v6h-1zM405 593h6v6h-6zM514 593h2v6h-2zM519 593h1v6h-1zM524 593h2v6h-2zM539 593h4v6h-4zM550 593h1v6h-1zM554 593h1v6h-1zM556 593h1v6h-1zM559 593h2v6h-2zM97 599h2v6h-2zM109 599h4v6h-4zM122 599h3v6h-3zM126 599h2v6h-2zM130 599h1v6h-1zM135 599h2v6h-2zM255 599h1v6h-1zM260 599h1v6h-1zM319 599h9v6h-9zM329 599h4v6h-4zM385 599h6v6h-6zM406 599h1v6h-1zM409 599h4v6h-4zM514 599h2v6h-2zM518 599h3v6h-3zM524 599h2v6h-2zM538 599h5v6h-5zM550 599h1v6h-1zM554 599h1v6h-1zM556 599h1v6h-1zM559 599h2v6h-2zM87 605h1v6h-1zM96 605h3v6h-3zM108 605h4v6h-4zM122 605h3v6h-3zM126 605h2v6h-2zM130 605h1v6h-1zM135 605h2v6h-2zM138 605h2v6h-2zM256 605h1v6h-1zM319 605h1v6h-1zM322 605h1v6h-1zM325 605h1v6h-1zM327 605h5v6h-5zM378 605h2v6h-2zM389 605h5v6h-5zM395 605h1v6h-1zM401 605h1v6h-1zM403 605h1v6h-1zM405 605h6v6h-6zM514 605h1v6h-1zM518 605h1v6h-1zM520 605h1v6h-1zM524 605h2v6h-2zM535 605h1v6h-1zM550 605h1v6h-1zM554 605h1v6h-1zM556 605h1v6h-1zM559 605h2v6h-2zM80 611h19v6h-19zM104 611h3v6h-3zM108 611h1v6h-1zM122 611h3v6h-3zM126 611h2v6h-2zM130 611h2v6h-2zM135 611h1v6h-1zM138 611h2v6h-2zM378 611h2v6h-2zM385 611h1v6h-1zM394 611h2v6h-2zM397 611h6v6h-6zM404 611h1v6h-1zM514 611h2v6h-2zM518 611h2v6h-2zM524 611h2v6h-2zM538 611h5v6h-5zM550 611h1v6h-1zM554 611h1v6h-1zM556 611h1v6h-1zM558 611h2v6h-2zM98 617h1v6h-1zM109 617h5v6h-5zM122 617h3v6h-3zM126 617h2v6h-2zM130 617h1v6h-1zM135 617h2v6h-2zM138 617h2v6h-2zM256 617h1v6h-1zM261 617h1v6h-1zM319 617h3v6h-3zM323 617h5v6h-5zM329 617h2v6h-2zM332 617h1v6h-1zM381 617h1v6h-1zM385 617h6v6h-6zM409 617h4v6h-4zM515 617h1v6h-1zM519 617h1v6h-1zM524 617h2v6h-2zM538 617h1v6h-1zM542 617h1v6h-1zM550 617h1v6h-1zM554 617h1v6h-1zM556 617h1v6h-1zM559 617h1v6h-1zM80 623h2v6h-2zM84 623h15v6h-15zM105 623h1v6h-1zM108 623h2v6h-2zM122 623h2v6h-2zM126 623h2v6h-2zM130 623h2v6h-2zM135 623h1v6h-1zM138 623h2v6h-2zM256 623h1v6h-1zM261 623h1v6h-1zM322 623h1v6h-1zM325 623h1v6h-1zM328 623h1v6h-1zM378 623h2v6h-2zM381 623h1v6h-1zM385 623h1v6h-1zM391 623h8v6h-8zM401 623h9v6h-9zM514 623h2v6h-2zM519 623h1v6h-1zM524 623h2v6h-2zM538 623h5v6h-5zM550 623h1v6h-1zM554 623h1v6h-1zM556 623h1v6h-1zM559 623h2v6h-2zM98 629h1v6h-1zM109 629h6v6h-6zM121 629h1v6h-1zM124 629h2v6h-2zM127 629h1v6h-1zM135 629h2v6h-2zM256 629h1v6h-1zM261 629h1v6h-1zM319 629h2v6h-2zM323 629h2v6h-2zM326 629h1v6h-1zM329 629h2v6h-2zM332 629h1v6h-1zM380 629h2v6h-2zM385 629h4v6h-4zM410 629h7v6h-7zM514 629h2v6h-2zM518 629h1v6h-1zM520 629h1v6h-1zM524 629h2v6h-2zM538 629h5v6h-5zM550 629h1v6h-1zM554 629h1v6h-1zM556 629h1v6h-1zM558 629h2v6h-2zM76 635h1v6h-1zM80 635h19v6h-19zM104 635h3v6h-3zM108 635h1v6h-1zM122 635h2v6h-2zM126 635h2v6h-2zM130 635h2v6h-2zM135 635h1v6h-1zM138 635h2v6h-2zM257 635h1v6h-1zM262 635h1v6h-1zM378 635h2v6h-2zM381 635h1v6h-1zM385 635h1v6h-1zM392 635h1v6h-1zM394 635h12v6h-12zM408 635h1v6h-1zM514 635h2v6h-2zM518 635h2v6h-2zM524 635h2v6h-2zM538 635h1v6h-1zM542 635h1v6h-1zM550 635h1v6h-1zM556 635h1v6h-1zM559 635h1v6h-1zM80 641h18v6h-18zM99 641h1v6h-1zM104 641h2v6h-2zM108 641h1v6h-1zM122 641h3v6h-3zM126 641h2v6h-2zM130 641h2v6h-2zM135 641h1v6h-1zM138 641h2v6h-2zM256 641h1v6h-1zM261 641h1v6h-1zM378 641h2v6h-2zM381 641h1v6h-1zM394 641h11v6h-11zM514 641h1v6h-1zM518 641h1v6h-1zM520 641h1v6h-1zM524 641h2v6h-2zM533 641h1v6h-1zM541 641h2v6h-2zM550 641h1v6h-1zM554 641h3v6h-3zM559 641h1v6h-1zM84 647h1v6h-1zM87 647h2v6h-2zM96 647h3v6h-3zM108 647h3v6h-3zM122 647h3v6h-3zM126 647h2v6h-2zM130 647h1v6h-1zM135 647h2v6h-2zM138 647h2v6h-2zM256 647h1v6h-1zM261 647h1v6h-1zM322 647h2v6h-2zM325 647h1v6h-1zM327 647h3v6h-3zM331 647h1v6h-1zM378 647h2v6h-2zM381 647h1v6h-1zM389 647h8v6h-8zM401 647h1v6h-1zM403 647h7v6h-7zM515 647h1v6h-1zM519 647h1v6h-1zM524 647h2v6h-2zM538 647h5v6h-5zM550 647h1v6h-1zM556 647h1v6h-1zM558 647h3v6h-3zM81 653h1v6h-1zM85 653h1v6h-1zM87 653h1v6h-1zM95 653h4v6h-4zM108 653h3v6h-3zM122 653h3v6h-3zM126 653h2v6h-2zM130 653h2v6h-2zM135 653h1v6h-1zM138 653h2v6h-2zM320 653h1v6h-1zM322 653h2v6h-2zM325 653h7v6h-7zM378 653h2v6h-2zM381 653h1v6h-1zM385 653h1v6h-1zM388 653h6v6h-6zM403 653h7v6h-7zM514 653h2v6h-2zM518 653h2v6h-2zM524 653h2v6h-2zM537 653h1v6h-1zM542 653h1v6h-1zM550 653h1v6h-1zM556 653h1v6h-1zM558 653h1v6h-1zM76 659h1v6h-1zM80 659h19v6h-19zM104 659h3v6h-3zM108 659h1v6h-1zM122 659h2v6h-2zM126 659h1v6h-1zM130 659h2v6h-2zM135 659h1v6h-1zM138 659h2v6h-2zM206 659h4v6h-4zM212 659h2v6h-2zM227 659h1v6h-1zM233 659h1v6h-1zM256 659h1v6h-1zM261 659h1v6h-1zM378 659h2v6h-2zM394 659h1v6h-1zM396 659h9v6h-9zM407 659h2v6h-2zM514 659h1v6h-1zM518 659h1v6h-1zM520 659h1v6h-1zM524 659h2v6h-2zM531 659h1v6h-1zM537 659h1v6h-1zM550 659h1v6h-1zM556 659h1v6h-1zM558 659h1v6h-1zM560 659h1v6h-1zM80 665h19v6h-19zM105 665h1v6h-1zM108 665h1v6h-1zM122 665h3v6h-3zM126 665h2v6h-2zM130 665h2v6h-2zM135 665h2v6h-2zM138 665h2v6h-2zM209 665h1v6h-1zM215 665h1v6h-1zM225 665h1v6h-1zM227 665h1v6h-1zM231 665h1v6h-1zM322 665h1v6h-1zM378 665h2v6h-2zM391 665h19v6h-19zM515 665h1v6h-1zM519 665h1v6h-1zM524 665h2v6h-2zM537 665h1v6h-1zM542 665h1v6h-1zM550 665h1v6h-1zM556 665h1v6h-1zM558 665h1v6h-1zM560 665h1v6h-1zM97 671h2v6h-2zM109 671h3v6h-3zM122 671h3v6h-3zM126 671h2v6h-2zM130 671h1v6h-1zM135 671h2v6h-2zM138 671h2v6h-2zM256 671h1v6h-1zM261 671h1v6h-1zM319 671h1v6h-1zM322 671h1v6h-1zM324 671h2v6h-2zM327 671h2v6h-2zM331 671h1v6h-1zM378 671h2v6h-2zM387 671h7v6h-7zM406 671h6v6h-6zM515 671h1v6h-1zM519 671h1v6h-1zM524 671h2v6h-2zM531 671h1v6h-1zM539 671h4v6h-4zM550 671h1v6h-1zM554 671h1v6h-1zM556 671h1v6h-1zM559 671h1v6h-1zM81 677h1v6h-1zM87 677h2v6h-2zM96 677h3v6h-3zM109 677h3v6h-3zM122 677h3v6h-3zM126 677h2v6h-2zM130 677h2v6h-2zM135 677h2v6h-2zM138 677h2v6h-2zM256 677h1v6h-1zM261 677h1v6h-1zM319 677h1v6h-1zM321 677h2v6h-2zM325 677h1v6h-1zM327 677h2v6h-2zM331 677h1v6h-1zM378 677h2v6h-2zM386 677h1v6h-1zM388 677h8v6h-8zM401 677h1v6h-1zM403 677h8v6h-8zM514 677h2v6h-2zM519 677h1v6h-1zM524 677h2v6h-2zM538 677h1v6h-1zM540 677h3v6h-3zM550 677h1v6h-1zM556 677h1v6h-1zM559 677h2v6h-2zM98 683h1v6h-1zM109 683h5v6h-5zM122 683h4v6h-4zM127 683h1v6h-1zM130 683h1v6h-1zM135 683h2v6h-2zM319 683h3v6h-3zM323 683h3v6h-3zM327 683h1v6h-1zM329 683h2v6h-2zM332 683h1v6h-1zM381 683h1v6h-1zM386 683h5v6h-5zM406 683h1v6h-1zM408 683h5v6h-5zM514 683h1v6h-1zM518 683h1v6h-1zM520 683h1v6h-1zM524 683h2v6h-2zM532 683h1v6h-1zM539 683h1v6h-1zM542 683h1v6h-1zM550 683h1v6h-1zM556 683h1v6h-1zM559 683h1v6h-1zM80 689h19v6h-19zM104 689h3v6h-3zM108 689h1v6h-1zM122 689h3v6h-3zM126 689h2v6h-2zM130 689h2v6h-2zM135 689h1v6h-1zM138 689h2v6h-2zM328 689h1v6h-1zM378 689h2v6h-2zM394 689h1v6h-1zM396 689h10v6h-10zM514 689h1v6h-1zM518 689h1v6h-1zM520 689h1v6h-1zM524 689h2v6h-2zM535 689h8v6h-8zM550 689h1v6h-1zM554 689h1v6h-1zM556 689h1v6h-1zM559 689h2v6h-2zM80 695h2v6h-2zM84 695h5v6h-5zM90 695h9v6h-9zM108 695h2v6h-2zM122 695h3v6h-3zM126 695h2v6h-2zM130 695h2v6h-2zM135 695h1v6h-1zM138 695h2v6h-2zM257 695h1v6h-1zM262 695h1v6h-1zM319 695h1v6h-1zM321 695h2v6h-2zM325 695h1v6h-1zM327 695h2v6h-2zM331 695h1v6h-1zM378 695h2v6h-2zM391 695h5v6h-5zM398 695h2v6h-2zM401 695h9v6h-9zM514 695h2v6h-2zM519 695h1v6h-1zM524 695h2v6h-2zM533 695h1v6h-1zM541 695h2v6h-2zM550 695h1v6h-1zM556 695h1v6h-1zM559 695h2v6h-2zM80 701h19v6h-19zM104 701h2v6h-2zM108 701h1v6h-1zM122 701h2v6h-2zM126 701h2v6h-2zM130 701h2v6h-2zM135 701h2v6h-2zM138 701h2v6h-2zM205 701h2v6h-2zM210 701h1v6h-1zM212 701h4v6h-4zM217 701h2v6h-2zM222 701h1v6h-1zM230 701h2v6h-2zM233 701h2v6h-2zM236 701h1v6h-1zM255 701h1v6h-1zM260 701h1v6h-1zM378 701h2v6h-2zM392 701h14v6h-14zM407 701h2v6h-2zM515 701h1v6h-1zM519 701h1v6h-1zM524 701h2v6h-2zM537 701h1v6h-1zM542 701h1v6h-1zM549 701h2v6h-2zM556 701h1v6h-1zM558 701h1v6h-1zM560 701h1v6h-1zM98 707h1v6h-1zM109 707h6v6h-6zM124 707h2v6h-2zM127 707h1v6h-1zM132 707h1v6h-1zM135 707h2v6h-2zM206 707h6v6h-6zM213 707h2v6h-2zM216 707h7v6h-7zM225 707h1v6h-1zM227 707h5v6h-5zM233 707h4v6h-4zM319 707h3v6h-3zM324 707h3v6h-3zM329 707h2v6h-2zM332 707h1v6h-1zM349 707h1v6h-1zM386 707h3v6h-3zM409 707h6v6h-6zM515 707h1v6h-1zM519 707h1v6h-1zM524 707h2v6h-2zM535 707h1v6h-1zM541 707h2v6h-2zM550 707h1v6h-1zM553 707h1v6h-1zM556 707h1v6h-1zM558 707h1v6h-1zM560 707h1v6h-1zM80 713h3v6h-3zM84 713h5v6h-5zM90 713h10v6h-10zM108 713h2v6h-2zM122 713h3v6h-3zM126 713h2v6h-2zM130 713h2v6h-2zM135 713h2v6h-2zM138 713h2v6h-2zM203 713h1v6h-1zM205 713h2v6h-2zM209 713h1v6h-1zM211 713h2v6h-2zM215 713h1v6h-1zM217 713h2v6h-2zM221 713h1v6h-1zM228 713h1v6h-1zM319 713h1v6h-1zM322 713h1v6h-1zM325 713h1v6h-1zM327 713h2v6h-2zM378 713h2v6h-2zM391 713h8v6h-8zM401 713h9v6h-9zM514 713h2v6h-2zM518 713h2v6h-2zM524 713h2v6h-2zM538 713h1v6h-1zM540 713h3v6h-3zM550 713h1v6h-1zM556 713h1v6h-1zM559 713h2v6h-2zM80 719h19v5h-19zM104 719h2v5h-2zM108 719h2v5h-2zM122 719h3v5h-3zM126 719h2v5h-2zM130 719h2v5h-2zM135 719h1v5h-1zM138 719h2v5h-2zM255 719h1v5h-1zM260 719h1v5h-1zM325 719h1v5h-1zM328 719h1v5h-1zM378 719h2v5h-2zM385 719h1v5h-1zM392 719h1v5h-1zM394 719h12v5h-12zM407 719h2v5h-2zM514 719h2v5h-2zM519 719h1v5h-1zM524 719h2v5h-2zM538 719h1v5h-1zM541 719h2v5h-2zM550 719h1v5h-1zM553 719h1v5h-1zM556 719h1v5h-1zM558 719h2v5h-2zM98 724h1v6h-1zM109 724h5v6h-5zM122 724h4v6h-4zM127 724h1v6h-1zM130 724h1v6h-1zM135 724h2v6h-2zM138 724h2v6h-2zM209 724h1v6h-1zM212 724h1v6h-1zM319 724h3v6h-3zM323 724h5v6h-5zM329 724h3v6h-3zM381 724h1v6h-1zM385 724h6v6h-6zM409 724h4v6h-4zM514 724h2v6h-2zM519 724h1v6h-1zM524 724h2v6h-2zM537 724h1v6h-1zM542 724h1v6h-1zM549 724h2v6h-2zM553 724h1v6h-1zM556 724h1v6h-1zM558 724h1v6h-1zM560 724h1v6h-1zM80 730h19v6h-19zM104 730h2v6h-2zM108 730h1v6h-1zM122 730h2v6h-2zM126 730h1v6h-1zM130 730h2v6h-2zM135 730h1v6h-1zM138 730h2v6h-2zM203 730h1v6h-1zM206 730h1v6h-1zM208 730h1v6h-1zM210 730h2v6h-2zM213 730h3v6h-3zM221 730h2v6h-2zM224 730h2v6h-2zM227 730h2v6h-2zM230 730h2v6h-2zM236 730h1v6h-1zM256 730h1v6h-1zM261 730h1v6h-1zM322 730h1v6h-1zM328 730h1v6h-1zM378 730h2v6h-2zM394 730h9v6h-9zM404 730h2v6h-2zM408 730h1v6h-1zM514 730h1v6h-1zM518 730h1v6h-1zM520 730h1v6h-1zM524 730h2v6h-2zM537 730h2v6h-2zM541 730h2v6h-2zM549 730h2v6h-2zM556 730h1v6h-1zM559 730h2v6h-2zM97 736h2v6h-2zM109 736h2v6h-2zM122 736h3v6h-3zM126 736h2v6h-2zM130 736h1v6h-1zM135 736h2v6h-2zM207 736h1v6h-1zM209 736h1v6h-1zM227 736h1v6h-1zM256 736h1v6h-1zM261 736h1v6h-1zM319 736h9v6h-9zM329 736h3v6h-3zM378 736h2v6h-2zM386 736h8v6h-8zM405 736h7v6h-7zM514 736h1v6h-1zM518 736h1v6h-1zM520 736h1v6h-1zM524 736h2v6h-2zM535 736h8v6h-8zM556 736h1v6h-1zM559 736h1v6h-1zM80 742h18v6h-18zM99 742h1v6h-1zM104 742h2v6h-2zM108 742h1v6h-1zM122 742h3v6h-3zM126 742h2v6h-2zM130 742h2v6h-2zM135 742h2v6h-2zM138 742h2v6h-2zM206 742h4v6h-4zM212 742h2v6h-2zM215 742h1v6h-1zM218 742h1v6h-1zM221 742h2v6h-2zM227 742h1v6h-1zM230 742h1v6h-1zM233 742h1v6h-1zM378 742h2v6h-2zM386 742h1v6h-1zM391 742h18v6h-18zM514 742h1v6h-1zM518 742h1v6h-1zM520 742h1v6h-1zM524 742h2v6h-2zM538 742h1v6h-1zM542 742h1v6h-1zM550 742h1v6h-1zM556 742h1v6h-1zM558 742h1v6h-1zM560 742h1v6h-1zM80 748h2v6h-2zM84 748h2v6h-2zM87 748h2v6h-2zM95 748h5v6h-5zM108 748h3v6h-3zM122 748h3v6h-3zM126 748h2v6h-2zM130 748h2v6h-2zM135 748h2v6h-2zM138 748h2v6h-2zM256 748h1v6h-1zM319 748h1v6h-1zM321 748h2v6h-2zM325 748h1v6h-1zM328 748h2v6h-2zM331 748h1v6h-1zM378 748h2v6h-2zM389 748h5v6h-5zM395 748h2v6h-2zM403 748h1v6h-1zM405 748h6v6h-6zM524 748h2v6h-2zM532 748h1v6h-1zM539 748h4v6h-4zM550 748h1v6h-1zM553 748h1v6h-1zM556 748h1v6h-1zM559 748h2v6h-2zM80 754h19v6h-19zM104 754h2v6h-2zM108 754h2v6h-2zM122 754h3v6h-3zM126 754h2v6h-2zM130 754h2v6h-2zM135 754h2v6h-2zM138 754h2v6h-2zM255 754h1v6h-1zM260 754h1v6h-1zM325 754h1v6h-1zM328 754h1v6h-1zM378 754h2v6h-2zM391 754h12v6h-12zM404 754h2v6h-2zM408 754h1v6h-1zM514 754h2v6h-2zM518 754h2v6h-2zM524 754h2v6h-2zM538 754h1v6h-1zM542 754h1v6h-1zM549 754h2v6h-2zM553 754h1v6h-1zM556 754h1v6h-1zM559 754h2v6h-2zM97 760h3v6h-3zM109 760h3v6h-3zM122 760h3v6h-3zM126 760h2v6h-2zM130 760h1v6h-1zM135 760h2v6h-2zM138 760h2v6h-2zM212 760h1v6h-1zM255 760h1v6h-1zM260 760h1v6h-1zM319 760h1v6h-1zM322 760h6v6h-6zM329 760h4v6h-4zM378 760h2v6h-2zM388 760h6v6h-6zM403 760h8v6h-8zM514 760h2v6h-2zM519 760h1v6h-1zM524 760h2v6h-2zM538 760h5v6h-5zM553 760h1v6h-1zM556 760h1v6h-1zM558 760h2v6h-2zM80 766h19v6h-19zM104 766h2v6h-2zM108 766h1v6h-1zM122 766h2v6h-2zM126 766h2v6h-2zM130 766h2v6h-2zM135 766h1v6h-1zM138 766h2v6h-2zM203 766h1v6h-1zM206 766h2v6h-2zM211 766h2v6h-2zM221 766h1v6h-1zM224 766h4v6h-4zM230 766h1v6h-1zM233 766h2v6h-2zM236 766h1v6h-1zM349 766h1v6h-1zM378 766h2v6h-2zM392 766h14v6h-14zM408 766h1v6h-1zM514 766h1v6h-1zM516 766h1v6h-1zM518 766h1v6h-1zM520 766h1v6h-1zM524 766h2v6h-2zM530 766h1v6h-1zM538 766h4v6h-4zM554 766h1v6h-1zM556 766h1v6h-1zM559 766h2v6h-2zM98 772h1v6h-1zM109 772h4v6h-4zM122 772h3v6h-3zM126 772h2v6h-2zM135 772h2v6h-2zM138 772h2v6h-2zM255 772h1v6h-1zM260 772h1v6h-1zM319 772h3v6h-3zM323 772h5v6h-5zM329 772h2v6h-2zM332 772h1v6h-1zM386 772h5v6h-5zM409 772h5v6h-5zM524 772h2v6h-2zM538 772h1v6h-1zM542 772h1v6h-1zM549 772h2v6h-2zM553 772h1v6h-1zM556 772h1v6h-1zM560 772h1v6h-1zM80 778h3v6h-3zM84 778h15v6h-15zM105 778h1v6h-1zM108 778h1v6h-1zM122 778h3v6h-3zM126 778h2v6h-2zM130 778h2v6h-2zM135 778h2v6h-2zM138 778h2v6h-2zM206 778h3v6h-3zM210 778h2v6h-2zM213 778h2v6h-2zM216 778h3v6h-3zM221 778h2v6h-2zM224 778h7v6h-7zM233 778h2v6h-2zM236 778h1v6h-1zM257 778h1v6h-1zM262 778h1v6h-1zM322 778h1v6h-1zM325 778h1v6h-1zM328 778h1v6h-1zM378 778h2v6h-2zM386 778h1v6h-1zM391 778h19v6h-19zM514 778h2v6h-2zM518 778h2v6h-2zM524 778h2v6h-2zM537 778h2v6h-2zM542 778h1v6h-1zM549 778h2v6h-2zM553 778h1v6h-1zM556 778h1v6h-1zM560 778h1v6h-1zM97 784h3v6h-3zM109 784h3v6h-3zM122 784h3v6h-3zM126 784h2v6h-2zM130 784h1v6h-1zM135 784h2v6h-2zM138 784h2v6h-2zM206 784h1v6h-1zM212 784h1v6h-1zM227 784h2v6h-2zM230 784h1v6h-1zM256 784h1v6h-1zM319 784h2v6h-2zM322 784h4v6h-4zM327 784h3v6h-3zM331 784h1v6h-1zM378 784h2v6h-2zM386 784h6v6h-6zM406 784h6v6h-6zM524 784h2v6h-2zM537 784h1v6h-1zM542 784h1v6h-1zM549 784h2v6h-2zM553 784h1v6h-1zM556 784h1v6h-1zM558 784h1v6h-1zM560 784h1v6h-1zM80 790h19v6h-19zM104 790h2v6h-2zM108 790h2v6h-2zM122 790h3v6h-3zM126 790h2v6h-2zM130 790h2v6h-2zM135 790h2v6h-2zM138 790h2v6h-2zM204 790h3v6h-3zM209 790h2v6h-2zM212 790h1v6h-1zM214 790h2v6h-2zM218 790h1v6h-1zM221 790h1v6h-1zM225 790h1v6h-1zM230 790h2v6h-2zM260 790h1v6h-1zM322 790h1v6h-1zM328 790h1v6h-1zM378 790h2v6h-2zM392 790h14v6h-14zM407 790h2v6h-2zM514 790h1v6h-1zM518 790h1v6h-1zM520 790h1v6h-1zM524 790h2v6h-2zM533 790h1v6h-1zM541 790h2v6h-2zM549 790h1v6h-1zM553 790h1v6h-1zM556 790h1v6h-1zM558 790h3v6h-3zM80 796h19v6h-19zM104 796h2v6h-2zM108 796h1v6h-1zM122 796h3v6h-3zM126 796h2v6h-2zM130 796h2v6h-2zM135 796h2v6h-2zM138 796h2v6h-2zM255 796h1v6h-1zM260 796h1v6h-1zM322 796h1v6h-1zM328 796h1v6h-1zM378 796h2v6h-2zM381 796h1v6h-1zM385 796h1v6h-1zM392 796h1v6h-1zM394 796h12v6h-12zM407 796h2v6h-2zM514 796h1v6h-1zM518 796h1v6h-1zM520 796h1v6h-1zM524 796h2v6h-2zM538 796h1v6h-1zM542 796h1v6h-1zM549 796h2v6h-2zM553 796h1v6h-1zM556 796h1v6h-1zM558 796h2v6h-2zM80 802h2v6h-2zM84 802h5v6h-5zM93 802h6v6h-6zM108 802h2v6h-2zM122 802h3v6h-3zM126 802h2v6h-2zM130 802h2v6h-2zM135 802h1v6h-1zM138 802h2v6h-2zM322 802h4v6h-4zM328 802h2v6h-2zM331 802h1v6h-1zM378 802h2v6h-2zM381 802h1v6h-1zM385 802h1v6h-1zM389 802h8v6h-8zM398 802h1v6h-1zM401 802h9v6h-9zM514 802h2v6h-2zM519 802h1v6h-1zM524 802h2v6h-2zM535 802h1v6h-1zM542 802h1v6h-1zM549 802h2v6h-2zM553 802h1v6h-1zM556 802h1v6h-1zM559 802h2v6h-2zM80 808h19v6h-19zM104 808h2v6h-2zM108 808h1v6h-1zM122 808h2v6h-2zM126 808h2v6h-2zM130 808h2v6h-2zM135 808h1v6h-1zM138 808h2v6h-2zM206 808h4v6h-4zM212 808h1v6h-1zM214 808h5v6h-5zM224 808h2v6h-2zM227 808h2v6h-2zM230 808h2v6h-2zM233 808h2v6h-2zM255 808h1v6h-1zM260 808h1v6h-1zM322 808h1v6h-1zM378 808h2v6h-2zM385 808h1v6h-1zM392 808h11v6h-11zM404 808h2v6h-2zM407 808h2v6h-2zM524 808h2v6h-2zM538 808h5v6h-5zM549 808h1v6h-1zM553 808h1v6h-1zM556 808h1v6h-1zM559 808h2v6h-2z"/>
<path fill="#101010" d="M76 575h2v6h-2zM80 575h1v6h-1zM82 575h2v6h-2zM85 575h2v6h-2zM89 575h7v6h-7zM99 575h1v6h-1zM104 575h3v6h-3zM384 575h1v6h-1zM396 575h7v6h-7zM531 575h1v6h-1zM543 575h1v6h-1zM557 575h2v6h-2zM561 575h1v6h-1zM76 581h2v6h-2zM103 581h1v6h-1zM107 581h1v6h-1zM528 581h1v6h-1zM543 581h1v6h-1zM546 581h1v6h-1zM551 581h1v6h-1zM557 581h1v6h-1zM80 587h1v6h-1zM84 587h1v6h-1zM96 587h2v6h-2zM122 587h2v6h-2zM126 587h1v6h-1zM131 587h1v6h-1zM138 587h2v6h-2zM322 587h4v6h-4zM327 587h1v6h-1zM378 587h2v6h-2zM384 587h1v6h-1zM391 587h3v6h-3zM405 587h2v6h-2zM408 587h1v6h-1zM515 587h1v6h-1zM519 587h1v6h-1zM531 587h1v6h-1zM537 587h1v6h-1zM543 587h1v6h-1zM557 587h1v6h-1zM561 587h1v6h-1zM76 593h2v6h-2zM82 593h2v6h-2zM86 593h1v6h-1zM89 593h7v6h-7zM104 593h3v6h-3zM108 593h1v6h-1zM384 593h1v6h-1zM394 593h9v6h-9zM404 593h1v6h-1zM532 593h1v6h-1zM538 593h1v6h-1zM551 593h1v6h-1zM557 593h2v6h-2zM76 599h1v6h-1zM80 599h2v6h-2zM84 599h5v6h-5zM90 599h4v6h-4zM95 599h2v6h-2zM99 599h1v6h-1zM108 599h1v6h-1zM131 599h1v6h-1zM138 599h2v6h-2zM328 599h1v6h-1zM378 599h2v6h-2zM381 599h1v6h-1zM391 599h3v6h-3zM395 599h1v6h-1zM403 599h3v6h-3zM407 599h2v6h-2zM531 599h1v6h-1zM543 599h1v6h-1zM557 599h2v6h-2zM76 605h2v6h-2zM80 605h7v6h-7zM88 605h8v6h-8zM99 605h1v6h-1zM104 605h3v6h-3zM131 605h1v6h-1zM381 605h1v6h-1zM394 605h1v6h-1zM396 605h5v6h-5zM402 605h1v6h-1zM404 605h1v6h-1zM515 605h1v6h-1zM519 605h1v6h-1zM528 605h1v6h-1zM543 605h1v6h-1zM546 605h1v6h-1zM558 605h1v6h-1zM561 605h1v6h-1zM76 611h2v6h-2zM99 611h1v6h-1zM103 611h1v6h-1zM107 611h1v6h-1zM256 611h1v6h-1zM381 611h1v6h-1zM531 611h1v6h-1zM557 611h1v6h-1zM560 611h1v6h-1zM80 617h2v6h-2zM87 617h2v6h-2zM91 617h4v6h-4zM96 617h2v6h-2zM108 617h1v6h-1zM131 617h1v6h-1zM322 617h1v6h-1zM328 617h1v6h-1zM331 617h1v6h-1zM378 617h2v6h-2zM391 617h3v6h-3zM403 617h1v6h-1zM406 617h3v6h-3zM531 617h1v6h-1zM537 617h1v6h-1zM543 617h1v6h-1zM557 617h2v6h-2zM560 617h1v6h-1zM76 623h2v6h-2zM82 623h2v6h-2zM103 623h2v6h-2zM106 623h2v6h-2zM399 623h2v6h-2zM531 623h1v6h-1zM537 623h1v6h-1zM553 623h1v6h-1zM557 623h2v6h-2zM87 629h1v6h-1zM96 629h2v6h-2zM122 629h2v6h-2zM126 629h1v6h-1zM130 629h2v6h-2zM138 629h2v6h-2zM321 629h1v6h-1zM325 629h1v6h-1zM327 629h1v6h-1zM331 629h1v6h-1zM378 629h2v6h-2zM389 629h3v6h-3zM406 629h1v6h-1zM409 629h1v6h-1zM519 629h1v6h-1zM531 629h1v6h-1zM537 629h1v6h-1zM557 629h1v6h-1zM560 629h1v6h-1zM77 635h1v6h-1zM99 635h1v6h-1zM103 635h1v6h-1zM107 635h1v6h-1zM531 635h1v6h-1zM537 635h1v6h-1zM543 635h1v6h-1zM546 635h1v6h-1zM549 635h1v6h-1zM553 635h1v6h-1zM557 635h2v6h-2zM560 635h1v6h-1zM76 641h2v6h-2zM106 641h2v6h-2zM385 641h1v6h-1zM515 641h1v6h-1zM519 641h1v6h-1zM557 641h2v6h-2zM560 641h1v6h-1zM76 647h2v6h-2zM80 647h4v6h-4zM85 647h2v6h-2zM89 647h7v6h-7zM99 647h1v6h-1zM104 647h3v6h-3zM131 647h1v6h-1zM385 647h1v6h-1zM397 647h4v6h-4zM402 647h1v6h-1zM531 647h1v6h-1zM537 647h1v6h-1zM553 647h1v6h-1zM557 647h1v6h-1zM76 653h2v6h-2zM80 653h1v6h-1zM82 653h3v6h-3zM86 653h1v6h-1zM88 653h7v6h-7zM104 653h3v6h-3zM256 653h1v6h-1zM394 653h9v6h-9zM531 653h1v6h-1zM543 653h1v6h-1zM549 653h1v6h-1zM553 653h1v6h-1zM557 653h1v6h-1zM560 653h1v6h-1zM77 659h1v6h-1zM99 659h1v6h-1zM103 659h1v6h-1zM107 659h1v6h-1zM385 659h1v6h-1zM515 659h1v6h-1zM519 659h1v6h-1zM543 659h1v6h-1zM549 659h1v6h-1zM553 659h1v6h-1zM557 659h1v6h-1zM76 665h2v6h-2zM99 665h1v6h-1zM103 665h2v6h-2zM106 665h2v6h-2zM257 665h1v6h-1zM531 665h1v6h-1zM549 665h1v6h-1zM553 665h1v6h-1zM557 665h1v6h-1zM76 671h2v6h-2zM80 671h17v6h-17zM105 671h2v6h-2zM108 671h1v6h-1zM131 671h1v6h-1zM385 671h1v6h-1zM394 671h5v6h-5zM400 671h6v6h-6zM532 671h1v6h-1zM538 671h1v6h-1zM549 671h1v6h-1zM553 671h1v6h-1zM557 671h2v6h-2zM560 671h1v6h-1zM76 677h2v6h-2zM80 677h1v6h-1zM82 677h5v6h-5zM89 677h7v6h-7zM99 677h1v6h-1zM104 677h3v6h-3zM108 677h1v6h-1zM385 677h1v6h-1zM396 677h5v6h-5zM402 677h1v6h-1zM531 677h1v6h-1zM537 677h1v6h-1zM549 677h1v6h-1zM553 677h1v6h-1zM557 677h2v6h-2zM561 677h1v6h-1zM80 683h2v6h-2zM87 683h2v6h-2zM91 683h3v6h-3zM96 683h2v6h-2zM108 683h1v6h-1zM126 683h1v6h-1zM131 683h1v6h-1zM138 683h2v6h-2zM256 683h1v6h-1zM322 683h1v6h-1zM328 683h1v6h-1zM331 683h1v6h-1zM378 683h2v6h-2zM391 683h3v6h-3zM405 683h1v6h-1zM407 683h1v6h-1zM515 683h1v6h-1zM519 683h1v6h-1zM538 683h1v6h-1zM553 683h1v6h-1zM557 683h2v6h-2zM560 683h1v6h-1zM76 689h2v6h-2zM99 689h1v6h-1zM103 689h1v6h-1zM107 689h1v6h-1zM256 689h1v6h-1zM382 689h1v6h-1zM515 689h1v6h-1zM519 689h1v6h-1zM528 689h1v6h-1zM549 689h1v6h-1zM553 689h1v6h-1zM558 689h1v6h-1zM76 695h2v6h-2zM82 695h2v6h-2zM89 695h1v6h-1zM99 695h1v6h-1zM104 695h3v6h-3zM382 695h1v6h-1zM396 695h2v6h-2zM400 695h1v6h-1zM549 695h1v6h-1zM553 695h1v6h-1zM558 695h1v6h-1zM561 695h1v6h-1zM76 701h2v6h-2zM99 701h1v6h-1zM103 701h1v6h-1zM106 701h2v6h-2zM209 701h1v6h-1zM385 701h1v6h-1zM531 701h1v6h-1zM553 701h1v6h-1zM557 701h1v6h-1zM561 701h1v6h-1zM80 707h1v6h-1zM87 707h1v6h-1zM97 707h1v6h-1zM122 707h2v6h-2zM126 707h1v6h-1zM130 707h2v6h-2zM138 707h2v6h-2zM212 707h1v6h-1zM215 707h1v6h-1zM255 707h1v6h-1zM322 707h2v6h-2zM327 707h2v6h-2zM331 707h1v6h-1zM378 707h2v6h-2zM389 707h3v6h-3zM406 707h1v6h-1zM408 707h1v6h-1zM528 707h1v6h-1zM549 707h1v6h-1zM557 707h1v6h-1zM561 707h1v6h-1zM76 713h2v6h-2zM83 713h1v6h-1zM89 713h1v6h-1zM104 713h4v6h-4zM255 713h1v6h-1zM385 713h1v6h-1zM399 713h2v6h-2zM531 713h1v6h-1zM537 713h1v6h-1zM549 713h1v6h-1zM553 713h1v6h-1zM557 713h2v6h-2zM561 713h1v6h-1zM76 719h2v5h-2zM99 719h1v5h-1zM103 719h1v5h-1zM106 719h2v5h-2zM531 719h1v5h-1zM549 719h1v5h-1zM557 719h1v5h-1zM560 719h1v5h-1zM80 724h2v6h-2zM86 724h3v6h-3zM93 724h1v6h-1zM95 724h3v6h-3zM99 724h1v6h-1zM108 724h1v6h-1zM126 724h1v6h-1zM131 724h1v6h-1zM256 724h1v6h-1zM322 724h1v6h-1zM328 724h1v6h-1zM378 724h2v6h-2zM391 724h1v6h-1zM395 724h1v6h-1zM405 724h2v6h-2zM408 724h1v6h-1zM531 724h1v6h-1zM557 724h1v6h-1zM561 724h1v6h-1zM76 730h2v6h-2zM103 730h1v6h-1zM106 730h2v6h-2zM209 730h1v6h-1zM212 730h1v6h-1zM385 730h1v6h-1zM515 730h1v6h-1zM519 730h1v6h-1zM531 730h1v6h-1zM553 730h1v6h-1zM557 730h2v6h-2zM561 730h1v6h-1zM76 736h2v6h-2zM80 736h17v6h-17zM99 736h1v6h-1zM105 736h1v6h-1zM108 736h1v6h-1zM131 736h1v6h-1zM138 736h2v6h-2zM257 736h1v6h-1zM328 736h1v6h-1zM382 736h1v6h-1zM394 736h3v6h-3zM398 736h1v6h-1zM401 736h1v6h-1zM403 736h2v6h-2zM515 736h1v6h-1zM519 736h1v6h-1zM528 736h1v6h-1zM549 736h2v6h-2zM553 736h1v6h-1zM557 736h2v6h-2zM560 736h1v6h-1zM76 742h2v6h-2zM103 742h1v6h-1zM106 742h2v6h-2zM256 742h1v6h-1zM382 742h1v6h-1zM515 742h1v6h-1zM519 742h1v6h-1zM531 742h1v6h-1zM549 742h1v6h-1zM553 742h1v6h-1zM557 742h1v6h-1zM561 742h1v6h-1zM76 748h2v6h-2zM82 748h2v6h-2zM86 748h1v6h-1zM89 748h6v6h-6zM104 748h3v6h-3zM385 748h1v6h-1zM394 748h1v6h-1zM397 748h6v6h-6zM404 748h1v6h-1zM549 748h1v6h-1zM557 748h2v6h-2zM561 748h1v6h-1zM76 754h2v6h-2zM99 754h1v6h-1zM106 754h2v6h-2zM385 754h1v6h-1zM531 754h1v6h-1zM537 754h1v6h-1zM545 754h1v6h-1zM557 754h2v6h-2zM561 754h1v6h-1zM76 760h1v6h-1zM80 760h9v6h-9zM90 760h7v6h-7zM105 760h1v6h-1zM108 760h1v6h-1zM131 760h1v6h-1zM328 760h1v6h-1zM385 760h1v6h-1zM394 760h9v6h-9zM531 760h1v6h-1zM545 760h1v6h-1zM549 760h2v6h-2zM557 760h1v6h-1zM560 760h1v6h-1zM76 766h2v6h-2zM99 766h1v6h-1zM103 766h1v6h-1zM106 766h2v6h-2zM255 766h1v6h-1zM385 766h1v6h-1zM515 766h1v6h-1zM519 766h1v6h-1zM531 766h1v6h-1zM537 766h1v6h-1zM542 766h1v6h-1zM549 766h2v6h-2zM553 766h1v6h-1zM557 766h2v6h-2zM561 766h1v6h-1zM76 772h1v6h-1zM80 772h2v6h-2zM84 772h5v6h-5zM90 772h4v6h-4zM96 772h2v6h-2zM108 772h1v6h-1zM130 772h2v6h-2zM322 772h1v6h-1zM328 772h1v6h-1zM331 772h1v6h-1zM378 772h2v6h-2zM382 772h1v6h-1zM391 772h3v6h-3zM403 772h1v6h-1zM406 772h3v6h-3zM531 772h1v6h-1zM545 772h1v6h-1zM557 772h2v6h-2zM76 778h2v6h-2zM83 778h1v6h-1zM99 778h1v6h-1zM104 778h1v6h-1zM106 778h2v6h-2zM209 778h1v6h-1zM215 778h1v6h-1zM382 778h1v6h-1zM531 778h1v6h-1zM557 778h2v6h-2zM561 778h1v6h-1zM76 784h1v6h-1zM80 784h17v6h-17zM105 784h1v6h-1zM108 784h1v6h-1zM131 784h1v6h-1zM385 784h1v6h-1zM392 784h4v6h-4zM398 784h4v6h-4zM403 784h3v6h-3zM531 784h1v6h-1zM545 784h1v6h-1zM557 784h1v6h-1zM76 790h2v6h-2zM99 790h1v6h-1zM103 790h1v6h-1zM106 790h2v6h-2zM256 790h1v6h-1zM385 790h1v6h-1zM515 790h1v6h-1zM519 790h1v6h-1zM545 790h1v6h-1zM550 790h1v6h-1zM557 790h1v6h-1zM76 796h2v6h-2zM103 796h1v6h-1zM106 796h2v6h-2zM515 796h1v6h-1zM519 796h1v6h-1zM531 796h1v6h-1zM557 796h1v6h-1zM560 796h1v6h-1zM76 802h2v6h-2zM82 802h2v6h-2zM89 802h4v6h-4zM99 802h1v6h-1zM104 802h4v6h-4zM256 802h1v6h-1zM397 802h1v6h-1zM399 802h2v6h-2zM528 802h1v6h-1zM545 802h1v6h-1zM557 802h2v6h-2zM76 808h2v6h-2zM103 808h1v6h-1zM106 808h2v6h-2zM381 808h1v6h-1zM531 808h1v6h-1zM545 808h1v6h-1zM550 808h1v6h-1zM557 808h2v6h-2z"/>
<path fill="#181818" d="M103 575h1v6h-1zM107 575h1v6h-1zM546 575h1v6h-1zM551 575h1v6h-1zM99 581h1v6h-1zM384 581h1v6h-1zM549 581h1v6h-1zM553 581h1v6h-1zM561 581h1v6h-1zM76 587h2v6h-2zM81 587h1v6h-1zM83 587h1v6h-1zM85 587h4v6h-4zM90 587h6v6h-6zM108 587h1v6h-1zM328 587h1v6h-1zM381 587h1v6h-1zM394 587h2v6h-2zM398 587h1v6h-1zM403 587h2v6h-2zM407 587h1v6h-1zM546 587h1v6h-1zM551 587h1v6h-1zM99 593h1v6h-1zM103 593h1v6h-1zM107 593h1v6h-1zM256 593h1v6h-1zM543 593h1v6h-1zM546 593h1v6h-1zM553 593h1v6h-1zM561 593h1v6h-1zM77 599h1v6h-1zM82 599h2v6h-2zM89 599h1v6h-1zM94 599h1v6h-1zM104 599h2v6h-2zM384 599h1v6h-1zM394 599h1v6h-1zM396 599h1v6h-1zM398 599h1v6h-1zM400 599h3v6h-3zM546 599h1v6h-1zM549 599h1v6h-1zM561 599h1v6h-1zM103 605h1v6h-1zM107 605h1v6h-1zM384 605h1v6h-1zM534 605h1v6h-1zM545 605h1v6h-1zM549 605h1v6h-1zM551 605h1v6h-1zM553 605h1v6h-1zM557 605h1v6h-1zM543 611h1v6h-1zM546 611h1v6h-1zM551 611h1v6h-1zM553 611h1v6h-1zM561 611h1v6h-1zM76 617h2v6h-2zM82 617h1v6h-1zM84 617h3v6h-3zM89 617h2v6h-2zM95 617h1v6h-1zM99 617h1v6h-1zM105 617h1v6h-1zM394 617h3v6h-3zM398 617h1v6h-1zM401 617h2v6h-2zM404 617h2v6h-2zM545 617h2v6h-2zM549 617h1v6h-1zM551 617h1v6h-1zM553 617h1v6h-1zM561 617h1v6h-1zM99 623h1v6h-1zM257 623h1v6h-1zM543 623h1v6h-1zM546 623h1v6h-1zM549 623h1v6h-1zM551 623h1v6h-1zM561 623h1v6h-1zM76 629h2v6h-2zM80 629h2v6h-2zM84 629h3v6h-3zM88 629h1v6h-1zM90 629h6v6h-6zM99 629h1v6h-1zM108 629h1v6h-1zM257 629h1v6h-1zM322 629h1v6h-1zM328 629h1v6h-1zM392 629h2v6h-2zM395 629h1v6h-1zM403 629h3v6h-3zM407 629h2v6h-2zM543 629h1v6h-1zM546 629h1v6h-1zM549 629h1v6h-1zM553 629h1v6h-1zM561 629h1v6h-1zM79 635h1v6h-1zM258 635h1v6h-1zM545 635h1v6h-1zM551 635h1v6h-1zM561 635h1v6h-1zM79 641h1v6h-1zM257 641h1v6h-1zM534 641h1v6h-1zM543 641h1v6h-1zM546 641h1v6h-1zM549 641h1v6h-1zM553 641h1v6h-1zM561 641h1v6h-1zM103 647h1v6h-1zM107 647h1v6h-1zM543 647h1v6h-1zM549 647h1v6h-1zM551 647h1v6h-1zM561 647h1v6h-1zM99 653h1v6h-1zM103 653h1v6h-1zM107 653h1v6h-1zM545 653h2v6h-2zM561 653h1v6h-1zM257 659h1v6h-1zM545 659h2v6h-2zM551 659h1v6h-1zM561 659h1v6h-1zM385 665h1v6h-1zM543 665h1v6h-1zM546 665h1v6h-1zM551 665h1v6h-1zM561 665h1v6h-1zM99 671h1v6h-1zM103 671h2v6h-2zM107 671h1v6h-1zM399 671h1v6h-1zM543 671h1v6h-1zM545 671h2v6h-2zM561 671h1v6h-1zM103 677h1v6h-1zM107 677h1v6h-1zM257 677h1v6h-1zM76 683h2v6h-2zM82 683h5v6h-5zM89 683h2v6h-2zM94 683h2v6h-2zM99 683h1v6h-1zM105 683h1v6h-1zM394 683h3v6h-3zM398 683h1v6h-1zM401 683h1v6h-1zM403 683h2v6h-2zM533 683h1v6h-1zM535 683h1v6h-1zM549 683h1v6h-1zM561 683h1v6h-1zM79 689h1v6h-1zM385 689h1v6h-1zM557 689h1v6h-1zM561 689h1v6h-1zM103 695h1v6h-1zM107 695h1v6h-1zM385 695h1v6h-1zM534 695h1v6h-1zM545 695h1v6h-1zM557 695h1v6h-1zM256 701h1v6h-1zM545 701h2v6h-2zM76 707h2v6h-2zM81 707h1v6h-1zM84 707h3v6h-3zM88 707h1v6h-1zM90 707h4v6h-4zM95 707h2v6h-2zM99 707h1v6h-1zM108 707h1v6h-1zM385 707h1v6h-1zM392 707h3v6h-3zM398 707h1v6h-1zM403 707h3v6h-3zM407 707h1v6h-1zM543 707h1v6h-1zM545 707h1v6h-1zM103 713h1v6h-1zM545 713h1v6h-1zM79 719h1v5h-1zM256 719h1v5h-1zM545 719h1v5h-1zM561 719h1v5h-1zM76 724h2v6h-2zM82 724h1v6h-1zM84 724h2v6h-2zM89 724h4v6h-4zM94 724h1v6h-1zM105 724h1v6h-1zM392 724h3v6h-3zM396 724h1v6h-1zM400 724h2v6h-2zM403 724h2v6h-2zM407 724h1v6h-1zM545 724h2v6h-2zM79 730h1v6h-1zM99 730h1v6h-1zM102 730h1v6h-1zM257 730h1v6h-1zM545 730h1v6h-1zM103 736h2v6h-2zM106 736h2v6h-2zM397 736h1v6h-1zM399 736h2v6h-2zM402 736h1v6h-1zM545 736h1v6h-1zM561 736h1v6h-1zM545 742h1v6h-1zM103 748h1v6h-1zM107 748h1v6h-1zM538 748h1v6h-1zM545 748h1v6h-1zM103 754h1v6h-1zM256 754h1v6h-1zM382 754h1v6h-1zM543 754h1v6h-1zM77 760h1v6h-1zM89 760h1v6h-1zM100 760h1v6h-1zM104 760h1v6h-1zM106 760h2v6h-2zM561 760h1v6h-1zM79 766h1v6h-1zM102 766h1v6h-1zM545 766h1v6h-1zM77 772h1v6h-1zM82 772h2v6h-2zM89 772h1v6h-1zM94 772h2v6h-2zM105 772h1v6h-1zM256 772h1v6h-1zM385 772h1v6h-1zM394 772h2v6h-2zM398 772h1v6h-1zM401 772h2v6h-2zM404 772h2v6h-2zM561 772h1v6h-1zM103 778h1v6h-1zM212 778h1v6h-1zM545 778h1v6h-1zM77 784h1v6h-1zM103 784h2v6h-2zM106 784h2v6h-2zM396 784h2v6h-2zM402 784h1v6h-1zM561 784h1v6h-1zM79 790h1v6h-1zM561 790h1v6h-1zM256 796h1v6h-1zM545 796h1v6h-1zM561 796h1v6h-1zM103 802h1v6h-1zM534 802h1v6h-1zM561 802h1v6h-1zM99 808h1v6h-1zM256 808h1v6h-1zM561 808h1v6h-1z"/>
<path fill="#202020" d="M79 575h1v6h-1zM259 575h1v6h-1zM381 575h1v6h-1zM537 575h1v6h-1zM79 581h1v6h-1zM259 581h1v6h-1zM531 581h1v6h-1zM534 581h1v6h-1zM82 587h1v6h-1zM89 587h1v6h-1zM104 587h3v6h-3zM259 587h1v6h-1zM396 587h2v6h-2zM399 587h1v6h-1zM549 587h1v6h-1zM553 587h1v6h-1zM79 593h1v6h-1zM102 593h1v6h-1zM535 593h3v6h-3zM549 593h1v6h-1zM79 599h1v6h-1zM103 599h1v6h-1zM106 599h2v6h-2zM256 599h1v6h-1zM397 599h1v6h-1zM399 599h1v6h-1zM551 599h1v6h-1zM553 599h1v6h-1zM79 605h1v6h-1zM260 605h1v6h-1zM531 605h1v6h-1zM79 611h1v6h-1zM260 611h1v6h-1zM537 611h1v6h-1zM549 611h1v6h-1zM79 617h1v6h-1zM83 617h1v6h-1zM104 617h1v6h-1zM106 617h2v6h-2zM257 617h1v6h-1zM397 617h1v6h-1zM399 617h2v6h-2zM79 623h1v6h-1zM102 623h1v6h-1zM384 623h1v6h-1zM83 629h1v6h-1zM89 629h1v6h-1zM105 629h1v6h-1zM394 629h1v6h-1zM396 629h1v6h-1zM402 629h1v6h-1zM551 629h1v6h-1zM103 641h1v6h-1zM545 641h1v6h-1zM551 641h1v6h-1zM79 647h1v6h-1zM257 647h1v6h-1zM545 647h2v6h-2zM79 653h1v6h-1zM102 653h1v6h-1zM260 653h1v6h-1zM551 653h1v6h-1zM79 659h1v6h-1zM102 659h1v6h-1zM382 659h1v6h-1zM79 665h1v6h-1zM261 665h1v6h-1zM545 665h1v6h-1zM79 671h1v6h-1zM102 671h1v6h-1zM257 671h1v6h-1zM535 671h3v6h-3zM551 671h1v6h-1zM79 677h1v6h-1zM382 677h1v6h-1zM543 677h1v6h-1zM545 677h2v6h-2zM551 677h1v6h-1zM79 683h1v6h-1zM104 683h1v6h-1zM106 683h2v6h-2zM260 683h1v6h-1zM385 683h1v6h-1zM397 683h1v6h-1zM399 683h2v6h-2zM402 683h1v6h-1zM534 683h1v6h-1zM536 683h1v6h-1zM543 683h1v6h-1zM545 683h2v6h-2zM551 683h1v6h-1zM102 689h1v6h-1zM260 689h1v6h-1zM531 689h1v6h-1zM534 689h1v6h-1zM543 689h1v6h-1zM545 689h2v6h-2zM79 695h1v6h-1zM258 695h1v6h-1zM543 695h1v6h-1zM546 695h1v6h-1zM551 695h1v6h-1zM79 701h1v6h-1zM102 701h1v6h-1zM543 701h1v6h-1zM551 701h1v6h-1zM82 707h2v6h-2zM89 707h1v6h-1zM94 707h1v6h-1zM102 707h1v6h-1zM105 707h1v6h-1zM259 707h1v6h-1zM395 707h3v6h-3zM399 707h3v6h-3zM531 707h1v6h-1zM534 707h1v6h-1zM551 707h1v6h-1zM79 713h1v6h-1zM259 713h1v6h-1zM382 713h1v6h-1zM543 713h1v6h-1zM546 713h1v6h-1zM382 719h1v5h-1zM537 719h1v5h-1zM543 719h1v5h-1zM546 719h1v5h-1zM551 719h1v5h-1zM83 724h1v6h-1zM102 724h3v6h-3zM106 724h1v6h-1zM260 724h1v6h-1zM398 724h2v6h-2zM402 724h1v6h-1zM536 724h1v6h-1zM551 724h1v6h-1zM382 730h1v6h-1zM536 730h1v6h-1zM546 730h1v6h-1zM79 736h1v6h-1zM102 736h1v6h-1zM385 736h1v6h-1zM531 736h1v6h-1zM534 736h1v6h-1zM543 736h1v6h-1zM546 736h1v6h-1zM79 742h1v6h-1zM260 742h1v6h-1zM385 742h1v6h-1zM537 742h1v6h-1zM543 742h1v6h-1zM79 748h1v6h-1zM260 748h1v6h-1zM382 748h1v6h-1zM533 748h1v6h-1zM535 748h2v6h-2zM543 748h1v6h-1zM551 748h1v6h-1zM79 754h1v6h-1zM79 760h1v6h-1zM256 760h1v6h-1zM382 760h1v6h-1zM543 760h1v6h-1zM259 766h1v6h-1zM382 766h1v6h-1zM79 772h1v6h-1zM99 772h1v6h-1zM103 772h2v6h-2zM106 772h2v6h-2zM396 772h2v6h-2zM399 772h2v6h-2zM543 772h1v6h-1zM74 778h1v6h-1zM79 778h1v6h-1zM258 778h1v6h-1zM385 778h1v6h-1zM551 778h2v6h-2zM79 784h1v6h-1zM260 784h1v6h-1zM382 784h1v6h-1zM543 784h1v6h-1zM552 784h1v6h-1zM534 790h1v6h-1zM543 790h1v6h-1zM74 796h1v6h-1zM79 796h1v6h-1zM99 796h1v6h-1zM102 796h1v6h-1zM552 796h1v6h-1zM79 802h1v6h-1zM260 802h1v6h-1zM531 802h2v6h-2zM543 802h1v6h-1zM552 802h1v6h-1zM79 808h1v6h-1z"/>
<path fill="#282828" d="M74 575h1v6h-1zM102 575h1v6h-1zM256 575h1v6h-1zM545 575h1v6h-1zM549 575h1v6h-1zM553 575h1v6h-1zM74 581h2v6h-2zM256 581h1v6h-1zM532 581h1v6h-1zM545 581h1v6h-1zM79 587h1v6h-1zM100 587h1v6h-1zM103 587h1v6h-1zM107 587h1v6h-1zM256 587h1v6h-1zM400 587h3v6h-3zM536 587h1v6h-1zM545 587h1v6h-1zM381 593h1v6h-1zM533 593h1v6h-1zM537 599h1v6h-1zM545 599h1v6h-1zM102 605h1v6h-1zM257 605h1v6h-1zM532 605h1v6h-1zM544 605h1v6h-1zM74 611h2v6h-2zM102 611h1v6h-1zM257 611h1v6h-1zM545 611h1v6h-1zM103 617h1v6h-1zM536 617h1v6h-1zM544 617h1v6h-1zM74 623h1v6h-1zM532 623h1v6h-1zM536 623h1v6h-1zM545 623h1v6h-1zM79 629h1v6h-1zM82 629h1v6h-1zM102 629h3v6h-3zM106 629h1v6h-1zM384 629h1v6h-1zM398 629h1v6h-1zM400 629h2v6h-2zM532 629h1v6h-1zM536 629h1v6h-1zM545 629h1v6h-1zM74 635h2v6h-2zM102 635h1v6h-1zM382 635h1v6h-1zM532 635h1v6h-1zM536 635h1v6h-1zM74 647h1v6h-1zM536 647h1v6h-1zM552 647h1v6h-1zM532 653h1v6h-1zM536 653h1v6h-1zM74 659h2v6h-2zM532 659h1v6h-1zM536 659h1v6h-1zM552 659h1v6h-1zM74 665h2v6h-2zM382 665h1v6h-1zM536 665h1v6h-1zM552 665h1v6h-1zM382 671h1v6h-1zM533 671h1v6h-1zM74 677h2v6h-2zM102 677h1v6h-1zM536 677h1v6h-1zM103 683h1v6h-1zM537 683h1v6h-1zM74 689h2v6h-2zM529 689h1v6h-1zM532 689h1v6h-1zM551 689h1v6h-1zM540 695h1v6h-1zM552 695h1v6h-1zM74 701h1v6h-1zM382 701h1v6h-1zM536 701h1v6h-1zM79 707h1v6h-1zM103 707h2v6h-2zM106 707h1v6h-1zM256 707h1v6h-1zM382 707h1v6h-1zM402 707h1v6h-1zM529 707h1v6h-1zM532 707h1v6h-1zM546 707h1v6h-1zM552 707h1v6h-1zM74 713h1v6h-1zM256 713h1v6h-1zM551 713h1v6h-1zM102 719h1v5h-1zM552 719h1v5h-1zM79 724h1v6h-1zM107 724h1v6h-1zM382 724h1v6h-1zM397 724h1v6h-1zM543 724h1v6h-1zM552 724h1v6h-1zM543 730h1v6h-1zM551 730h1v6h-1zM532 736h1v6h-1zM74 742h2v6h-2zM102 742h1v6h-1zM546 742h1v6h-1zM257 748h1v6h-1zM534 748h1v6h-1zM537 748h1v6h-1zM552 748h1v6h-1zM532 754h1v6h-1zM544 754h1v6h-1zM546 754h1v6h-1zM537 760h1v6h-1zM544 760h1v6h-1zM546 760h1v6h-1zM74 766h2v6h-2zM78 766h1v6h-1zM546 766h1v6h-1zM102 772h1v6h-1zM537 772h1v6h-1zM544 772h1v6h-1zM546 772h1v6h-1zM548 772h1v6h-1zM551 772h2v6h-2zM75 778h1v6h-1zM536 778h1v6h-1zM74 784h2v6h-2zM102 784h1v6h-1zM257 784h1v6h-1zM536 784h1v6h-1zM544 784h1v6h-1zM551 784h1v6h-1zM74 790h1v6h-1zM102 790h1v6h-1zM382 790h1v6h-1zM540 790h1v6h-1zM544 790h1v6h-1zM552 790h1v6h-1zM75 796h1v6h-1zM537 796h1v6h-1zM548 796h1v6h-1zM551 796h1v6h-1zM102 802h1v6h-1zM544 802h1v6h-1zM551 802h1v6h-1zM74 808h2v6h-2zM102 808h1v6h-1zM537 808h1v6h-1zM543 808h2v6h-2zM548 808h1v6h-1zM552 808h1v6h-1z"/>
<path fill="#303030" d="M75 575h1v6h-1zM544 575h1v6h-1zM78 581h1v6h-1zM529 581h1v6h-1zM547 581h1v6h-1zM552 581h1v6h-1zM74 587h2v6h-2zM102 587h1v6h-1zM532 587h1v6h-1zM74 593h2v6h-2zM78 593h1v6h-1zM534 593h1v6h-1zM545 593h1v6h-1zM552 593h1v6h-1zM74 599h1v6h-1zM78 599h1v6h-1zM102 599h1v6h-1zM74 605h2v6h-2zM78 605h1v6h-1zM100 605h1v6h-1zM529 605h1v6h-1zM384 611h1v6h-1zM552 611h1v6h-1zM74 617h1v6h-1zM102 617h1v6h-1zM384 617h1v6h-1zM532 617h1v6h-1zM534 617h2v6h-2zM75 623h1v6h-1zM534 623h1v6h-1zM552 623h1v6h-1zM74 629h1v6h-1zM107 629h1v6h-1zM397 629h1v6h-1zM399 629h1v6h-1zM534 629h2v6h-2zM78 635h1v6h-1zM534 635h1v6h-1zM544 635h1v6h-1zM552 635h1v6h-1zM74 641h2v6h-2zM78 641h1v6h-1zM100 641h1v6h-1zM540 641h1v6h-1zM75 647h1v6h-1zM78 647h1v6h-1zM102 647h1v6h-1zM544 647h1v6h-1zM74 653h2v6h-2zM257 653h1v6h-1zM382 653h1v6h-1zM534 653h2v6h-2zM544 653h1v6h-1zM534 659h1v6h-1zM544 659h1v6h-1zM258 665h1v6h-1zM74 671h1v6h-1zM78 671h1v6h-1zM534 671h1v6h-1zM552 671h1v6h-1zM78 677h1v6h-1zM532 677h1v6h-1zM74 683h2v6h-2zM257 683h1v6h-1zM78 689h1v6h-1zM257 689h1v6h-1zM74 695h2v6h-2zM78 695h1v6h-1zM102 695h1v6h-1zM75 701h1v6h-1zM532 701h1v6h-1zM534 701h1v6h-1zM552 701h1v6h-1zM74 707h2v6h-2zM107 707h1v6h-1zM544 707h1v6h-1zM75 713h1v6h-1zM78 713h1v6h-1zM100 713h1v6h-1zM102 713h1v6h-1zM532 713h1v6h-1zM536 713h1v6h-1zM74 719h2v5h-2zM78 719h1v5h-1zM384 719h1v5h-1zM544 719h1v5h-1zM74 724h1v6h-1zM257 724h1v6h-1zM535 724h1v6h-1zM548 724h1v6h-1zM74 730h2v6h-2zM78 730h1v6h-1zM534 730h2v6h-2zM552 730h1v6h-1zM74 736h2v6h-2zM529 736h1v6h-1zM548 736h1v6h-1zM551 736h1v6h-1zM78 742h1v6h-1zM257 742h1v6h-1zM544 742h1v6h-1zM551 742h1v6h-1zM74 748h2v6h-2zM78 748h1v6h-1zM100 748h1v6h-1zM102 748h1v6h-1zM546 748h1v6h-1zM74 754h2v6h-2zM534 754h1v6h-1zM536 754h1v6h-1zM551 754h2v6h-2zM74 760h1v6h-1zM548 760h1v6h-1zM551 760h2v6h-2zM256 766h1v6h-1zM536 766h1v6h-1zM543 766h1v6h-1zM548 766h1v6h-1zM74 772h2v6h-2zM532 778h1v6h-1zM534 778h2v6h-2zM543 778h1v6h-1zM546 778h1v6h-1zM100 784h1v6h-1zM75 790h1v6h-1zM78 790h1v6h-1zM546 790h1v6h-1zM548 790h1v6h-1zM551 790h1v6h-1zM543 796h1v6h-1zM546 796h1v6h-1zM74 802h2v6h-2zM78 802h1v6h-1zM257 802h1v6h-1zM382 802h1v6h-1zM529 802h1v6h-1zM533 802h1v6h-1zM548 802h1v6h-1zM384 808h1v6h-1zM546 808h1v6h-1zM551 808h1v6h-1z"/>
<path fill="#383838" d="M78 575h1v6h-1zM102 581h1v6h-1zM381 581h1v6h-1zM533 581h1v6h-1zM544 581h1v6h-1zM78 587h1v6h-1zM534 587h2v6h-2zM552 587h1v6h-1zM75 599h1v6h-1zM544 599h1v6h-1zM530 605h1v6h-1zM533 605h1v6h-1zM552 605h1v6h-1zM78 611h1v6h-1zM75 617h1v6h-1zM78 617h1v6h-1zM552 617h1v6h-1zM78 623h1v6h-1zM382 623h1v6h-1zM535 623h1v6h-1zM75 629h1v6h-1zM533 629h1v6h-1zM384 635h1v6h-1zM533 635h1v6h-1zM535 635h1v6h-1zM537 641h1v6h-1zM544 641h1v6h-1zM552 641h1v6h-1zM382 647h1v6h-1zM532 647h1v6h-1zM534 647h2v6h-2zM78 653h1v6h-1zM533 653h1v6h-1zM552 653h1v6h-1zM78 659h1v6h-1zM533 659h1v6h-1zM535 659h1v6h-1zM78 665h1v6h-1zM102 665h1v6h-1zM532 665h1v6h-1zM534 665h2v6h-2zM548 665h1v6h-1zM75 671h1v6h-1zM544 671h1v6h-1zM534 677h2v6h-2zM552 677h1v6h-1zM78 683h1v6h-1zM102 683h1v6h-1zM544 683h1v6h-1zM552 683h1v6h-1zM100 689h1v6h-1zM530 689h1v6h-1zM533 689h1v6h-1zM537 695h1v6h-1zM544 695h1v6h-1zM78 701h1v6h-1zM535 701h1v6h-1zM548 701h1v6h-1zM530 707h1v6h-1zM533 707h1v6h-1zM534 713h1v6h-1zM548 713h1v6h-1zM552 713h1v6h-1zM548 719h1v5h-1zM75 724h1v6h-1zM384 724h1v6h-1zM532 724h1v6h-1zM534 724h1v6h-1zM532 730h1v6h-1zM548 730h1v6h-1zM78 736h1v6h-1zM533 736h1v6h-1zM544 736h1v6h-1zM552 736h1v6h-1zM100 742h1v6h-1zM552 742h1v6h-1zM544 748h1v6h-1zM78 754h1v6h-1zM535 754h1v6h-1zM548 754h1v6h-1zM75 760h1v6h-1zM78 760h1v6h-1zM103 760h1v6h-1zM100 766h1v6h-1zM532 766h1v6h-1zM534 766h1v6h-1zM551 766h2v6h-2zM78 772h1v6h-1zM78 778h1v6h-1zM544 778h1v6h-1zM548 778h1v6h-1zM78 784h1v6h-1zM532 784h1v6h-1zM534 784h2v6h-2zM546 784h1v6h-1zM537 790h1v6h-1zM78 796h1v6h-1zM382 796h1v6h-1zM532 796h1v6h-1zM100 802h1v6h-1zM530 802h1v6h-1zM546 802h1v6h-1zM78 808h1v6h-1z"/>
<path fill="#404040" d="M100 575h1v6h-1zM530 581h1v6h-1zM383 587h1v6h-1zM533 587h1v6h-1zM544 587h1v6h-1zM544 593h1v6h-1zM532 599h1v6h-1zM547 599h1v6h-1zM547 605h1v6h-1zM544 611h1v6h-1zM533 617h1v6h-1zM533 623h1v6h-1zM78 629h1v6h-1zM544 629h1v6h-1zM552 629h1v6h-1zM100 635h1v6h-1zM547 635h2v6h-2zM382 641h1v6h-1zM547 641h2v6h-2zM547 653h2v6h-2zM544 665h1v6h-1zM547 665h1v6h-1zM548 671h1v6h-1zM544 677h1v6h-1zM382 683h1v6h-1zM544 689h1v6h-1zM552 689h1v6h-1zM548 695h1v6h-1zM100 701h1v6h-1zM533 701h1v6h-1zM544 701h1v6h-1zM78 707h1v6h-1zM535 713h1v6h-1zM544 713h1v6h-1zM100 719h1v5h-1zM532 719h1v5h-1zM534 719h1v5h-1zM78 724h1v6h-1zM100 724h1v6h-1zM544 724h1v6h-1zM544 730h1v6h-1zM100 736h1v6h-1zM530 736h1v6h-1zM532 742h1v6h-1zM548 742h1v6h-1zM548 748h1v6h-1zM102 754h1v6h-1zM533 754h1v6h-1zM101 766h1v6h-1zM535 766h1v6h-1zM544 766h1v6h-1zM100 778h1v6h-1zM102 778h1v6h-1zM548 784h1v6h-1zM100 790h1v6h-1zM544 796h1v6h-1zM532 808h1v6h-1z"/>
<path fill="#484848" d="M532 575h1v6h-1zM534 575h1v6h-1zM552 575h1v6h-1zM548 581h1v6h-1zM257 593h1v6h-1zM259 593h1v6h-1zM100 599h1v6h-1zM259 599h1v6h-1zM382 599h1v6h-1zM534 599h1v6h-1zM552 599h1v6h-1zM101 605h1v6h-1zM382 605h1v6h-1zM548 605h1v6h-1zM100 611h1v6h-1zM532 611h1v6h-1zM260 617h1v6h-1zM382 617h1v6h-1zM100 623h1v6h-1zM260 623h1v6h-1zM544 623h1v6h-1zM258 629h1v6h-1zM260 629h1v6h-1zM382 629h1v6h-1zM547 629h1v6h-1zM261 635h1v6h-1zM260 641h1v6h-1zM100 647h1v6h-1zM260 647h1v6h-1zM533 647h1v6h-1zM384 653h1v6h-1zM100 659h1v6h-1zM258 659h1v6h-1zM260 659h1v6h-1zM260 671h1v6h-1zM547 671h1v6h-1zM100 677h1v6h-1zM260 677h1v6h-1zM533 677h1v6h-1zM261 695h1v6h-1zM383 695h1v6h-1zM259 701h1v6h-1zM547 701h1v6h-1zM100 707h2v6h-2zM533 713h1v6h-1zM547 713h1v6h-1zM259 719h1v5h-1zM101 724h1v6h-1zM547 724h1v6h-1zM101 730h1v6h-1zM258 730h1v6h-1zM260 730h1v6h-1zM533 730h1v6h-1zM101 736h1v6h-1zM258 736h1v6h-1zM260 736h1v6h-1zM534 742h1v6h-1zM257 754h1v6h-1zM259 754h1v6h-1zM384 754h1v6h-1zM259 760h1v6h-1zM532 760h1v6h-1zM533 766h1v6h-1zM259 772h1v6h-1zM383 772h1v6h-1zM532 772h1v6h-1zM261 778h1v6h-1zM533 778h1v6h-1zM257 790h1v6h-1zM259 790h1v6h-1zM257 796h1v6h-1zM259 796h1v6h-1zM534 796h1v6h-1zM384 802h1v6h-1zM259 808h1v6h-1zM534 808h1v6h-1z"/>
<path fill="#505050" d="M383 575h1v6h-1zM547 575h1v6h-1zM101 587h1v6h-1zM101 593h1v6h-1zM257 599h1v6h-1zM548 599h1v6h-1zM382 611h1v6h-1zM534 611h1v6h-1zM100 617h1v6h-1zM258 617h1v6h-1zM547 617h1v6h-1zM101 623h1v6h-1zM258 623h1v6h-1zM547 623h1v6h-1zM100 629h2v6h-2zM548 629h1v6h-1zM259 635h1v6h-1zM258 641h1v6h-1zM535 641h1v6h-1zM258 647h1v6h-1zM100 653h2v6h-2zM101 659h1v6h-1zM548 659h1v6h-1zM100 665h1v6h-1zM533 665h1v6h-1zM100 671h1v6h-1zM258 677h1v6h-1zM100 683h1v6h-1zM101 689h1v6h-1zM383 689h1v6h-1zM100 695h1v6h-1zM535 695h2v6h-2zM547 695h1v6h-1zM101 701h1v6h-1zM257 701h1v6h-1zM548 707h1v6h-1zM384 713h1v6h-1zM257 719h1v5h-1zM547 719h1v5h-1zM533 724h1v6h-1zM100 730h1v6h-1zM384 730h1v6h-1zM547 730h1v6h-1zM547 736h1v6h-1zM101 742h1v6h-1zM257 760h1v6h-1zM384 760h1v6h-1zM534 760h1v6h-1zM257 772h1v6h-1zM384 772h1v6h-1zM534 772h1v6h-1zM547 772h1v6h-1zM259 778h1v6h-1zM101 784h1v6h-1zM384 784h1v6h-1zM533 784h1v6h-1zM384 796h1v6h-1zM101 802h1v6h-1zM257 808h1v6h-1zM382 808h1v6h-1z"/>
<path fill="#585858" d="M101 575h1v6h-1zM536 575h1v6h-1zM382 587h1v6h-1zM547 587h1v6h-1zM100 593h1v6h-1zM547 593h1v6h-1zM383 599h1v6h-1zM383 605h1v6h-1zM547 611h1v6h-1zM548 617h1v6h-1zM548 623h1v6h-1zM536 641h1v6h-1zM384 647h1v6h-1zM547 659h1v6h-1zM101 671h1v6h-1zM258 671h1v6h-1zM101 677h1v6h-1zM384 677h1v6h-1zM548 677h1v6h-1zM548 689h1v6h-1zM259 695h1v6h-1zM384 695h1v6h-1zM101 713h1v6h-1zM383 719h1v5h-1zM536 719h1v5h-1zM383 736h1v6h-1zM101 748h1v6h-1zM384 748h1v6h-1zM100 754h1v6h-1zM383 754h1v6h-1zM101 760h1v6h-1zM547 760h1v6h-1zM384 766h1v6h-1zM101 790h1v6h-1zM535 790h1v6h-1zM547 790h1v6h-1zM533 796h1v6h-1zM547 796h1v6h-1zM100 808h1v6h-1zM547 808h1v6h-1z"/>
<path fill="#606060" d="M535 575h1v6h-1zM101 599h1v6h-1zM533 599h1v6h-1zM101 611h1v6h-1zM101 617h1v6h-1zM383 623h1v6h-1zM101 635h1v6h-1zM383 635h1v6h-1zM102 641h1v6h-1zM384 641h1v6h-1zM384 659h1v6h-1zM384 671h1v6h-1zM548 683h1v6h-1zM384 689h1v6h-1zM384 701h1v6h-1zM384 707h1v6h-1zM101 719h1v5h-1zM533 719h1v5h-1zM535 719h1v5h-1zM383 742h1v6h-1zM533 742h1v6h-1zM547 754h1v6h-1zM383 760h1v6h-1zM547 766h1v6h-1zM101 772h1v6h-1zM383 778h1v6h-1zM384 790h1v6h-1zM536 790h1v6h-1zM538 790h1v6h-1zM533 808h1v6h-1z"/>
<path fill="#686868" d="M382 575h1v6h-1zM383 593h1v6h-1zM535 599h2v6h-2zM533 611h1v6h-1zM535 611h2v6h-2zM548 611h1v6h-1zM538 641h1v6h-1zM101 647h1v6h-1zM547 647h2v6h-2zM547 677h1v6h-1zM547 689h1v6h-1zM538 695h1v6h-1zM383 724h1v6h-1zM383 730h1v6h-1zM535 742h2v6h-2zM102 760h1v6h-1zM100 772h1v6h-1zM533 772h1v6h-1zM101 808h1v6h-1z"/>
<path fill="#707070" d="M533 575h1v6h-1zM548 575h1v6h-1zM100 581h1v6h-1zM548 587h1v6h-1zM548 593h1v6h-1zM539 641h1v6h-1zM384 665h1v6h-1zM383 677h1v6h-1zM101 683h1v6h-1zM547 683h1v6h-1zM101 695h1v6h-1zM539 695h1v6h-1zM547 707h1v6h-1zM383 713h1v6h-1zM384 736h1v6h-1zM547 742h1v6h-1zM383 748h1v6h-1zM547 748h1v6h-1zM533 760h1v6h-1zM536 760h1v6h-1zM384 778h1v6h-1zM547 778h1v6h-1zM383 784h1v6h-1zM539 790h1v6h-1zM101 796h1v6h-1zM547 802h1v6h-1zM536 808h1v6h-1z"/>
<path fill="#787878" d="M257 575h1v6h-1zM257 581h2v6h-2zM258 605h2v6h-2zM258 611h2v6h-2zM383 617h1v6h-1zM383 629h1v6h-1zM259 653h1v6h-1zM259 665h2v6h-2zM258 683h2v6h-2zM258 689h2v6h-2zM257 707h2v6h-2zM257 713h2v6h-2zM258 724h2v6h-2zM259 742h1v6h-1zM384 742h1v6h-1zM258 748h2v6h-2zM535 760h1v6h-1zM258 766h1v6h-1zM383 766h1v6h-1zM536 772h1v6h-1zM258 784h2v6h-2zM547 784h1v6h-1zM100 796h1v6h-1zM535 796h2v6h-2zM259 802h1v6h-1zM535 808h1v6h-1z"/>
<path fill="#808080" d="M258 575h1v6h-1zM257 587h2v6h-2zM382 593h1v6h-1zM101 641h1v6h-1zM258 653h1v6h-1zM383 653h1v6h-1zM383 659h1v6h-1zM101 665h1v6h-1zM383 671h1v6h-1zM383 701h1v6h-1zM383 707h1v6h-1zM258 742h1v6h-1zM257 766h1v6h-1zM535 772h1v6h-1zM101 778h1v6h-1zM383 790h1v6h-1zM258 802h1v6h-1z"/>
<path fill="#878787" d="M383 581h1v6h-1zM383 611h1v6h-1zM383 796h1v6h-1zM383 802h1v6h-1zM383 808h1v6h-1z"/>
<path fill="#8f8f8f" d="M101 581h1v6h-1zM258 593h1v6h-1zM259 617h1v6h-1zM259 629h1v6h-1zM260 635h1v6h-1zM259 641h1v6h-1zM259 647h1v6h-1zM259 659h1v6h-1zM259 677h1v6h-1zM258 701h1v6h-1zM258 719h1v5h-1zM259 730h1v6h-1zM259 736h1v6h-1zM101 754h1v6h-1zM258 754h1v6h-1zM258 760h1v6h-1zM258 772h1v6h-1zM258 790h1v6h-1zM258 796h1v6h-1zM258 808h1v6h-1z"/>
<path fill="#979797" d="M258 599h1v6h-1zM259 623h1v6h-1zM383 647h1v6h-1zM383 665h1v6h-1zM259 671h1v6h-1zM260 695h1v6h-1zM260 778h1v6h-1z"/>
<path fill="#a7a7a7" d="M383 641h1v6h-1z"/>
<path fill="#afafaf" d="M384 683h1v6h-1z"/>
<path fill="#b7b7b7" d="M382 581h1v6h-1z"/>
<path fill="#dfdfdf" d="M383 683h1v6h-1z"/>
</g>
<g id="pd" shape-rendering="crispEdges">
<path fill="#ffdc00" d="M765 136h13v7h-13zM772 149h6v6h-6zM816 193h6v6h-6zM955 332h6v6h-6zM999 376h6v7h-6zM1011 376h7v7h-7zM1011 383h7v6h-7z"/>
<path fill="#ffd000" d="M778 136h6v7h-6zM778 149h6v6h-6zM791 206h6v6h-6zM791 218h6v7h-6zM784 225h7v6h-7zM784 231h7v6h-7zM929 357h7v7h-7zM942 357h6v7h-6zM917 364h12v6h-12zM999 370h6v6h-6zM1011 370h7v6h-7z"/>
<path fill="#fffc08" d="M784 136h13v7h-13zM797 143h6v6h-6zM791 149h6v6h-6zM797 161h6v7h-6zM797 168h6v6h-6zM778 307h6v6h-6zM980 351h13v6h-13zM1005 351h6v6h-6zM999 357h6v7h-6zM1011 357h7v7h-7zM1011 364h7v6h-7zM841 370h6v6h-6z"/>
<path fill="#fffc00" d="M797 136h6v7h-6zM803 143h6v6h-6zM797 149h6v6h-6zM797 155h6v6h-6zM803 168h13v6h-13zM809 174h7v6h-7zM778 263h6v6h-6zM778 275h6v7h-6zM778 282h6v6h-6zM778 288h6v6h-6zM778 300h6v7h-6zM778 313h6v6h-6zM974 338h12v7h-12zM980 345h6v6h-6zM1005 345h6v6h-6zM993 351h12v6h-12zM1011 351h7v6h-7zM835 370h6v6h-6zM847 370h7v6h-7zM860 370h19v6h-19zM885 370h7v6h-7z"/>
<path fill="#fff400" d="M803 136h6v7h-6zM816 143h6v6h-6zM809 149h7v6h-7zM809 161h13v7h-13zM816 168h6v6h-6zM816 174h6v6h-6zM784 180h13v7h-13zM784 193h7v6h-7zM974 332h19v6h-19zM1005 332h6v6h-6zM986 338h7v7h-7zM999 338h6v7h-6zM1011 345h7v6h-7zM967 357h7v7h-7zM955 364h6v6h-6zM967 364h7v6h-7z"/>
<path fill="#fff000" d="M809 136h7v7h-7zM816 149h6v6h-6zM816 155h6v6h-6zM797 180h6v7h-6zM797 187h6v6h-6zM791 193h6v6h-6zM993 332h12v6h-12zM1011 338h7v7h-7zM961 351h13v6h-13zM955 357h6v7h-6z"/>
<path fill="#ffec00" d="M816 136h6v7h-6zM803 187h6v6h-6zM797 199h6v7h-6zM1011 332h7v6h-7zM961 345h6v6h-6zM948 351h7v6h-7z"/>
<path fill="#ffac00" d="M822 136h6v7h-6zM772 206h6v6h-6zM1011 326h7v6h-7zM942 376h6v7h-6z"/>
<path fill="#ff5000" d="M828 136h7v7h-7zM828 149h7v6h-7zM999 319h6v7h-6zM1011 319h7v7h-7z"/>
<path fill="#ff1000" d="M835 136h6v7h-6zM847 136h13v7h-13zM948 136h13v7h-13zM835 143h31v6h-31zM948 143h7v6h-7zM841 149h6v6h-6zM854 149h12v6h-12zM948 149h26v6h-26zM835 155h31v6h-31zM948 155h13v6h-13zM967 155h7v6h-7zM835 161h31v7h-31zM961 161h13v7h-13zM835 168h6v6h-6zM847 168h19v6h-19zM961 168h13v6h-13zM835 174h31v6h-31zM955 174h19v6h-19zM974 180h31v7h-31zM923 187h19v6h-19zM974 187h19v6h-19zM999 187h6v6h-6zM917 193h6v6h-6zM929 193h13v6h-13zM974 193h6v6h-6zM993 193h12v6h-12zM1011 193h7v6h-7zM942 199h6v7h-6zM993 199h25v7h-25zM948 206h7v6h-7zM955 212h12v6h-12zM955 218h12v7h-12zM961 225h6v6h-6zM955 231h6v6h-6zM974 288h37v6h-37zM974 294h44v6h-44zM974 300h25v7h-25zM1005 300h13v7h-13zM974 307h6v6h-6zM986 307h25v6h-25zM974 313h25v6h-25zM1005 313h13v6h-13zM765 332h19v6h-19zM765 338h19v7h-19zM772 345h12v6h-12zM803 370h19v6h-19zM803 376h19v7h-19zM809 383h13v6h-13z"/>
<path fill="#ff0c00" d="M841 136h6v7h-6zM961 136h13v7h-13zM955 143h19v6h-19zM961 155h6v6h-6zM948 161h13v7h-13zM955 168h6v6h-6zM948 174h7v6h-7zM1005 180h13v7h-13zM993 187h6v6h-6zM1005 187h13v6h-13zM980 193h13v6h-13zM1005 193h6v6h-6zM974 199h6v7h-6zM986 199h7v7h-7zM854 250h6v6h-6zM854 256h6v7h-6zM860 269h6v6h-6zM841 275h6v7h-6zM854 282h12v6h-12zM866 288h7v6h-7zM879 288h6v6h-6zM866 294h7v6h-7zM892 294h12v6h-12zM873 307h6v6h-6zM1011 307h7v6h-7zM791 338h6v7h-6zM765 345h7v6h-7zM778 351h6v6h-6zM772 357h12v7h-12zM809 357h7v7h-7zM765 364h7v6h-7zM778 364h6v6h-6zM784 370h19v6h-19zM791 376h6v7h-6zM784 383h7v6h-7zM803 383h6v6h-6z"/>
<path fill="#ff1400" d="M860 136h6v7h-6zM835 149h6v6h-6zM847 149h7v6h-7zM841 168h6v6h-6zM948 168h7v6h-7zM910 180h38v7h-38zM910 187h13v6h-13zM942 187h6v6h-6zM910 193h7v6h-7zM923 193h6v6h-6zM942 193h6v6h-6zM910 199h32v7h-32zM980 199h6v7h-6zM955 206h19v6h-19zM948 212h7v6h-7zM967 212h7v6h-7zM948 218h7v7h-7zM967 218h7v7h-7zM948 225h13v6h-13zM967 225h7v6h-7zM948 231h7v6h-7zM961 231h13v6h-13zM948 237h26v7h-26zM1011 288h7v6h-7zM999 300h6v7h-6zM980 307h6v6h-6zM999 313h6v6h-6z"/>
<path fill="#ff2000" d="M866 136h13v7h-13zM885 136h13v7h-13zM904 136h6v7h-6zM866 143h7v6h-7zM885 143h7v6h-7zM898 143h6v6h-6zM866 149h26v6h-26zM898 149h12v6h-12zM866 155h13v6h-13zM885 155h7v6h-7zM904 155h6v6h-6zM879 161h6v7h-6zM892 161h6v7h-6zM866 168h44v6h-44zM866 174h13v6h-13zM892 174h6v6h-6zM904 174h6v6h-6zM841 187h6v6h-6zM873 193h6v6h-6zM974 244h12v6h-12zM993 244h12v6h-12zM1011 244h7v6h-7zM980 250h6v6h-6zM999 250h12v6h-12zM974 256h19v7h-19zM1011 256h7v7h-7zM980 263h6v6h-6zM993 263h25v6h-25zM980 269h13v6h-13zM999 269h6v6h-6zM955 275h6v7h-6zM974 275h12v7h-12zM993 275h12v7h-12zM1011 275h7v7h-7zM974 282h12v6h-12zM993 282h25v6h-25zM961 307h6v6h-6z"/>
<path fill="#ff2400" d="M879 136h6v7h-6zM936 136h12v7h-12zM892 143h6v6h-6zM923 143h19v6h-19zM917 149h12v6h-12zM942 149h6v6h-6zM910 155h13v6h-13zM936 155h6v6h-6zM917 161h19v7h-19zM910 168h19v6h-19zM936 168h12v6h-12zM929 174h7v6h-7zM873 180h6v7h-6zM873 199h6v7h-6zM980 206h6v6h-6zM999 206h6v6h-6zM1011 206h7v6h-7zM980 212h6v6h-6zM993 212h6v6h-6zM1005 212h13v6h-13zM974 218h6v7h-6zM986 218h7v7h-7zM1005 218h6v7h-6zM980 225h13v6h-13zM999 225h12v6h-12zM980 231h25v6h-25zM980 237h6v7h-6zM993 237h6v7h-6zM1005 256h6v7h-6zM1011 269h7v6h-7zM948 275h7v7h-7zM967 275h7v7h-7zM828 307h7v6h-7zM841 319h6v7h-6z"/>
<path fill="#ff1c00" d="M898 136h6v7h-6zM873 143h12v6h-12zM904 143h6v6h-6zM892 149h6v6h-6zM879 155h6v6h-6zM892 155h12v6h-12zM866 161h13v7h-13zM885 161h7v7h-7zM898 161h12v7h-12zM879 174h13v6h-13zM898 174h6v6h-6zM841 180h19v7h-19zM854 187h12v6h-12zM841 193h13v6h-13zM860 193h6v6h-6zM835 199h12v7h-12zM854 199h6v7h-6zM986 244h7v6h-7zM1005 244h6v6h-6zM974 250h6v6h-6zM986 250h13v6h-13zM1011 250h7v6h-7zM993 256h12v7h-12zM974 263h6v6h-6zM986 263h7v6h-7zM974 269h6v6h-6zM993 269h6v6h-6zM1005 269h6v6h-6zM986 275h7v7h-7zM1005 275h6v7h-6zM986 282h7v6h-7zM955 288h12v6h-12zM948 294h7v6h-7zM961 294h13v6h-13zM955 300h6v7h-6zM967 300h7v7h-7zM948 307h13v6h-13zM967 307h7v6h-7zM948 313h7v6h-7z"/>
<path fill="#ff2800" d="M910 136h26v7h-26zM910 143h13v6h-13zM942 143h6v6h-6zM910 149h7v6h-7zM929 149h13v6h-13zM923 155h13v6h-13zM942 155h6v6h-6zM910 161h7v7h-7zM936 161h12v7h-12zM929 168h7v6h-7zM910 174h19v6h-19zM936 174h12v6h-12zM866 180h7v7h-7zM866 193h7v6h-7zM885 193h7v6h-7zM866 199h7v7h-7zM974 206h6v6h-6zM986 206h13v6h-13zM1005 206h6v6h-6zM974 212h6v6h-6zM986 212h7v6h-7zM999 212h6v6h-6zM980 218h6v7h-6zM993 218h12v7h-12zM1011 218h7v7h-7zM974 225h6v6h-6zM993 225h6v6h-6zM1011 225h7v6h-7zM974 231h6v6h-6zM1005 231h13v6h-13zM974 237h6v7h-6zM986 237h7v7h-7zM999 237h19v7h-19zM955 263h6v6h-6zM948 282h13v6h-13zM967 282h7v6h-7zM828 288h7v6h-7zM828 294h7v6h-7zM828 300h7v7h-7zM828 313h7v6h-7zM835 319h6v7h-6zM847 319h19v7h-19z"/>
<path fill="#ff0400" d="M974 136h31v7h-31zM974 143h12v6h-12zM974 149h12v6h-12zM1011 149h7v6h-7zM986 155h7v6h-7zM1011 155h7v6h-7zM974 161h12v7h-12zM993 161h6v7h-6zM1011 161h7v7h-7zM974 168h6v6h-6zM986 168h7v6h-7zM999 168h19v6h-19zM980 174h13v6h-13zM999 174h19v6h-19zM955 180h6v7h-6zM955 187h6v6h-6zM948 193h7v6h-7zM961 193h13v6h-13zM955 199h6v7h-6zM910 206h7v6h-7zM923 206h19v6h-19zM917 212h6v6h-6zM929 212h7v6h-7zM942 212h6v6h-6zM910 218h19v7h-19zM936 218h12v7h-12zM910 225h13v6h-13zM929 225h7v6h-7zM942 225h6v6h-6zM923 231h19v6h-19zM923 237h13v7h-13zM942 237h6v7h-6zM860 244h6v6h-6zM873 244h6v6h-6zM898 244h6v6h-6zM866 250h7v6h-7zM885 250h13v6h-13zM904 250h6v6h-6zM866 256h7v7h-7zM879 256h6v7h-6zM898 256h6v7h-6zM835 263h12v6h-12zM866 263h13v6h-13zM898 263h6v6h-6zM841 269h13v6h-13zM873 269h6v6h-6zM892 269h6v6h-6zM879 275h13v7h-13zM904 275h6v7h-6zM885 282h19v6h-19zM835 288h6v6h-6zM904 288h6v6h-6zM841 294h6v6h-6zM835 300h6v7h-6zM879 300h6v7h-6zM835 307h6v6h-6zM854 307h6v6h-6zM879 307h13v6h-13zM841 313h13v6h-13zM860 313h6v6h-6zM885 313h7v6h-7zM784 332h7v6h-7zM797 332h6v6h-6zM809 332h7v6h-7zM784 338h7v7h-7zM816 338h6v7h-6zM784 345h7v6h-7zM784 351h13v6h-13zM816 351h6v6h-6zM784 357h7v7h-7zM797 357h6v7h-6zM791 364h31v6h-31z"/>
<path fill="#ff0000" d="M1005 136h13v7h-13zM986 143h7v6h-7zM999 143h19v6h-19zM999 149h12v6h-12zM993 155h6v6h-6zM986 161h7v7h-7zM1005 161h6v7h-6zM980 168h6v6h-6zM974 174h6v6h-6zM961 180h13v7h-13zM961 187h13v6h-13zM955 193h6v6h-6zM948 199h7v7h-7zM917 206h6v6h-6zM942 206h6v6h-6zM936 212h6v6h-6zM929 218h7v7h-7zM923 225h6v6h-6zM910 231h13v6h-13zM942 231h6v6h-6zM910 237h13v7h-13zM879 244h19v6h-19zM904 244h6v6h-6zM873 250h12v6h-12zM898 250h6v6h-6zM873 256h6v7h-6zM885 256h13v7h-13zM904 256h6v7h-6zM879 263h19v6h-19zM904 263h6v6h-6zM866 269h7v6h-7zM879 269h13v6h-13zM898 269h12v6h-12zM866 275h13v7h-13zM892 275h12v7h-12zM866 282h19v6h-19zM841 288h6v6h-6zM854 288h12v6h-12zM835 294h6v6h-6zM847 294h19v6h-19zM841 300h19v7h-19zM841 307h13v6h-13zM860 307h6v6h-6zM835 313h6v6h-6zM854 313h6v6h-6zM828 319h7v7h-7zM822 326h6v6h-6zM816 332h6v6h-6zM803 338h13v7h-13zM803 345h13v6h-13zM797 351h6v6h-6zM791 357h6v7h-6zM784 364h7v6h-7zM765 370h19v6h-19zM765 376h19v7h-19zM765 383h19v6h-19z"/>
<path fill="#ffe000" d="M765 143h7v6h-7zM765 155h7v6h-7zM765 161h7v7h-7zM765 168h7v6h-7zM765 174h7v6h-7zM816 180h6v7h-6zM816 199h6v7h-6zM948 332h7v6h-7zM967 332h7v6h-7zM974 383h25v6h-25zM1005 383h6v6h-6z"/>
<path fill="#ffe400" d="M772 143h6v6h-6zM772 155h6v6h-6zM772 161h6v7h-6zM772 168h6v6h-6zM772 174h6v6h-6zM803 180h13v7h-13zM816 187h6v6h-6zM803 193h13v6h-13zM803 199h13v7h-13zM822 206h6v6h-6zM822 231h6v6h-6zM917 326h6v6h-6zM942 326h6v6h-6zM961 332h6v6h-6zM948 338h13v7h-13zM967 338h7v7h-7zM948 345h13v6h-13zM967 345h7v6h-7zM974 376h25v7h-25zM1005 376h6v7h-6z"/>
<path fill="#ffd800" d="M778 143h6v6h-6zM765 149h7v6h-7zM778 168h6v6h-6zM784 212h7v6h-7zM784 237h7v7h-7zM910 364h7v6h-7zM936 364h6v6h-6zM980 370h6v6h-6zM1005 370h6v6h-6zM999 383h6v6h-6z"/>
<path fill="#fffc28" d="M784 143h7v6h-7zM791 155h6v6h-6zM784 168h13v6h-13zM778 269h6v6h-6zM772 275h6v7h-6zM816 275h6v7h-6zM809 300h7v7h-7zM765 307h7v6h-7zM772 313h6v6h-6zM873 332h6v6h-6zM847 338h7v7h-7zM980 357h6v7h-6zM993 357h6v7h-6zM980 364h6v6h-6zM1005 364h6v6h-6zM879 370h6v6h-6zM835 376h6v7h-6zM873 376h6v7h-6zM841 383h6v6h-6z"/>
<path fill="#fffc30" d="M791 143h6v6h-6zM765 263h13v6h-13zM772 282h6v6h-6zM772 288h6v6h-6zM772 307h6v6h-6zM1005 357h6v7h-6zM841 376h6v7h-6zM860 376h13v7h-13zM885 376h7v7h-7zM885 383h7v6h-7z"/>
<path fill="#fff800" d="M809 143h7v6h-7zM803 149h6v6h-6zM803 155h13v6h-13zM803 161h6v7h-6zM803 174h6v6h-6zM784 187h13v6h-13zM784 199h13v7h-13zM993 338h6v7h-6zM1005 338h6v7h-6zM974 345h6v6h-6zM986 345h19v6h-19zM948 357h7v7h-7zM961 357h6v7h-6zM948 364h7v6h-7zM961 364h6v6h-6z"/>
<path fill="#ffb800" d="M822 143h6v6h-6zM822 193h6v6h-6zM816 225h6v6h-6zM816 237h6v7h-6zM955 326h6v6h-6zM1005 326h6v6h-6zM910 332h7v6h-7zM923 332h6v6h-6z"/>
<path fill="#ff5800" d="M828 143h7v6h-7zM828 155h7v6h-7zM828 168h7v6h-7zM980 319h6v7h-6zM993 319h6v7h-6zM1005 319h6v7h-6z"/>
<path fill="#ff0800" d="M993 143h6v6h-6zM986 149h13v6h-13zM974 155h12v6h-12zM999 155h12v6h-12zM999 161h6v7h-6zM993 168h6v6h-6zM993 174h6v6h-6zM948 180h7v7h-7zM948 187h7v6h-7zM961 199h13v7h-13zM910 212h7v6h-7zM923 212h6v6h-6zM936 225h6v6h-6zM936 237h6v7h-6zM835 244h25v6h-25zM866 244h7v6h-7zM835 250h19v6h-19zM860 250h6v6h-6zM835 256h19v7h-19zM860 256h6v7h-6zM847 263h19v6h-19zM835 269h6v6h-6zM854 269h6v6h-6zM835 275h6v7h-6zM847 275h19v7h-19zM835 282h19v6h-19zM904 282h6v6h-6zM847 288h7v6h-7zM873 288h6v6h-6zM885 288h19v6h-19zM873 294h19v6h-19zM904 294h6v6h-6zM860 300h19v7h-19zM885 300h25v7h-25zM866 307h7v6h-7zM892 307h18v6h-18zM866 313h19v6h-19zM892 313h18v6h-18zM791 332h6v6h-6zM803 332h6v6h-6zM797 338h6v7h-6zM791 345h12v6h-12zM816 345h6v6h-6zM765 351h13v6h-13zM803 351h13v6h-13zM765 357h7v7h-7zM803 357h6v7h-6zM816 357h6v7h-6zM772 364h6v6h-6zM784 376h7v7h-7zM797 376h6v7h-6zM791 383h12v6h-12z"/>
<path fill="#fffc18" d="M784 149h7v6h-7zM797 174h6v6h-6zM765 300h7v7h-7zM974 351h6v6h-6zM999 364h6v6h-6zM847 383h7v6h-7z"/>
<path fill="#ffa800" d="M822 149h6v6h-6zM765 206h7v6h-7zM765 212h13v6h-13zM772 218h6v7h-6zM765 237h13v7h-13zM822 269h6v6h-6zM879 326h6v6h-6zM999 326h6v6h-6zM910 376h7v7h-7zM929 376h13v7h-13zM910 383h7v6h-7zM936 383h12v6h-12z"/>
<path fill="#ffd400" d="M778 155h6v6h-6zM778 161h6v7h-6zM778 174h6v6h-6zM784 206h7v6h-7zM791 212h6v6h-6zM784 218h7v7h-7zM791 237h6v7h-6zM910 357h7v7h-7zM936 357h6v7h-6zM929 364h7v6h-7zM942 364h6v6h-6zM974 370h6v6h-6zM986 370h13v6h-13z"/>
<path fill="#fffc20" d="M784 155h7v6h-7zM784 161h13v7h-13zM784 174h13v6h-13zM778 244h6v6h-6zM778 250h6v6h-6zM778 256h6v7h-6zM765 282h7v6h-7zM765 288h7v6h-7zM772 300h6v7h-6zM765 313h7v6h-7zM974 357h6v7h-6zM986 357h7v7h-7zM974 364h6v6h-6zM986 364h13v6h-13zM892 370h18v6h-18zM847 376h7v7h-7zM835 383h6v6h-6zM860 383h13v6h-13z"/>
<path fill="#ffb400" d="M822 155h6v6h-6zM822 168h6v6h-6zM822 174h6v6h-6zM778 193h6v6h-6zM816 231h6v6h-6zM974 326h12v6h-12zM993 326h6v6h-6zM917 332h6v6h-6zM955 370h6v6h-6z"/>
<path fill="#ffb000" d="M822 161h6v7h-6zM986 326h7v6h-7z"/>
<path fill="#ff5400" d="M828 161h7v7h-7zM828 193h7v6h-7zM955 319h6v7h-6zM986 319h7v7h-7z"/>
<path fill="#ff5c00" d="M828 174h7v6h-7zM828 180h7v7h-7zM828 199h7v7h-7zM873 231h6v6h-6zM917 275h6v7h-6zM948 319h7v7h-7zM967 319h13v7h-13z"/>
<path fill="#ffc000" d="M765 180h7v7h-7zM822 187h6v6h-6zM809 206h13v6h-13zM809 212h7v6h-7zM803 218h13v7h-13zM803 225h6v6h-6zM809 231h7v6h-7zM961 326h6v6h-6zM942 332h6v6h-6zM917 338h6v7h-6zM929 338h19v7h-19zM923 345h13v6h-13zM967 383h7v6h-7z"/>
<path fill="#ffc800" d="M772 180h6v7h-6zM797 218h6v7h-6zM929 351h7v6h-7zM967 376h7v7h-7z"/>
<path fill="#ffbc00" d="M778 180h6v7h-6zM822 180h6v7h-6zM778 187h6v6h-6zM778 199h6v7h-6zM822 199h6v7h-6zM816 212h6v6h-6zM816 218h6v7h-6zM809 225h7v6h-7zM803 231h6v6h-6zM948 326h7v6h-7zM967 326h7v6h-7zM929 332h13v6h-13zM923 338h6v7h-6zM917 345h6v6h-6zM948 370h7v6h-7zM961 370h13v6h-13z"/>
<path fill="#ff1800" d="M835 180h6v7h-6zM860 180h6v7h-6zM835 187h6v6h-6zM847 187h7v6h-7zM835 193h6v6h-6zM854 193h6v6h-6zM847 199h7v7h-7zM860 199h6v7h-6zM948 288h7v6h-7zM967 288h7v6h-7zM955 294h6v6h-6zM948 300h7v7h-7zM961 300h6v7h-6zM955 313h19v6h-19z"/>
<path fill="#ff3400" d="M879 180h6v7h-6zM892 180h18v7h-18zM892 187h18v6h-18zM892 199h18v7h-18zM948 244h7v6h-7zM961 244h13v6h-13zM948 250h7v6h-7zM961 250h13v6h-13zM948 256h7v7h-7zM961 256h13v7h-13zM967 269h7v6h-7z"/>
<path fill="#ff2c00" d="M885 180h7v7h-7zM873 187h6v6h-6zM885 187h7v6h-7zM898 193h6v6h-6zM885 199h7v7h-7zM955 250h6v6h-6zM948 263h7v6h-7zM961 263h13v6h-13zM828 275h7v7h-7zM961 275h6v7h-6zM873 319h6v7h-6z"/>
<path fill="#ffc400" d="M765 187h7v6h-7zM765 193h13v6h-13zM765 199h13v7h-13zM803 206h6v6h-6zM803 212h6v6h-6zM797 225h6v6h-6zM797 231h6v6h-6zM803 237h13v7h-13zM910 338h7v7h-7zM910 345h7v6h-7zM936 345h12v6h-12zM917 351h12v6h-12zM948 376h13v7h-13zM948 383h19v6h-19z"/>
<path fill="#ffcc00" d="M772 187h6v6h-6zM797 206h6v6h-6zM797 212h6v6h-6zM791 225h6v6h-6zM791 231h6v6h-6zM797 237h6v7h-6zM910 351h7v6h-7zM936 351h12v6h-12zM917 357h12v7h-12zM961 376h6v7h-6z"/>
<path fill="#ffe800" d="M809 187h7v6h-7zM797 193h6v6h-6zM822 212h6v6h-6zM822 218h6v7h-6zM822 225h6v6h-6zM822 237h6v7h-6zM910 326h7v6h-7zM923 326h19v6h-19zM961 338h6v7h-6zM955 351h6v6h-6z"/>
<path fill="#ff6000" d="M828 187h7v6h-7zM873 206h6v6h-6zM873 218h6v7h-6zM873 225h6v6h-6zM885 225h7v6h-7zM866 231h7v6h-7zM885 231h7v6h-7zM917 263h12v6h-12zM923 275h13v7h-13zM942 275h6v7h-6zM917 282h6v6h-6zM961 319h6v7h-6z"/>
<path fill="#ff3000" d="M866 187h7v6h-7zM879 193h6v6h-6zM892 193h6v6h-6zM904 193h6v6h-6zM955 244h6v6h-6zM955 256h6v7h-6zM828 263h7v6h-7zM955 269h6v6h-6zM828 282h7v6h-7zM961 282h6v6h-6zM866 319h7v7h-7zM885 319h7v7h-7z"/>
<path fill="#ff3800" d="M879 187h6v6h-6zM879 199h6v7h-6zM847 231h7v6h-7zM828 244h7v6h-7zM828 256h7v7h-7zM948 269h7v6h-7zM961 269h6v6h-6zM917 300h6v7h-6zM892 319h6v7h-6zM904 319h6v7h-6z"/>
<path fill="#ff9c00" d="M778 206h6v6h-6zM778 212h6v6h-6zM778 218h6v7h-6zM765 231h7v6h-7zM778 237h6v7h-6zM910 370h7v6h-7zM929 370h19v6h-19zM917 383h6v6h-6z"/>
<path fill="#ff8400" d="M828 206h7v6h-7zM828 225h7v6h-7zM923 319h6v7h-6zM942 319h6v7h-6z"/>
<path fill="#ff4400" d="M835 206h19v6h-19zM860 206h6v6h-6zM835 212h19v6h-19zM860 212h6v6h-6zM835 218h12v7h-12zM860 218h6v7h-6zM835 225h6v6h-6zM860 225h6v6h-6zM854 231h6v6h-6zM835 237h6v7h-6zM923 288h25v6h-25zM917 294h6v6h-6zM936 300h12v7h-12zM929 307h19v6h-19zM910 313h7v6h-7zM923 313h25v6h-25z"/>
<path fill="#ff4800" d="M854 206h6v6h-6zM854 225h6v6h-6zM841 237h6v7h-6zM860 237h6v7h-6zM910 288h7v6h-7zM923 294h6v6h-6zM942 294h6v6h-6zM910 307h7v6h-7z"/>
<path fill="#ff6400" d="M866 206h7v6h-7zM866 212h13v6h-13zM866 218h7v7h-7zM885 218h7v7h-7zM866 225h7v6h-7zM866 237h13v7h-13zM929 263h7v6h-7zM910 275h7v7h-7zM936 275h6v7h-6zM910 282h7v6h-7zM923 282h25v6h-25z"/>
<path fill="#ff7400" d="M879 206h6v6h-6zM879 212h6v6h-6zM892 212h6v6h-6zM904 212h6v6h-6zM936 244h6v6h-6zM936 256h6v7h-6zM936 269h12v6h-12z"/>
<path fill="#ff6800" d="M885 206h7v6h-7zM885 212h7v6h-7zM885 237h7v7h-7zM910 263h7v6h-7zM936 263h12v6h-12z"/>
<path fill="#ff6c00" d="M892 206h12v6h-12zM892 218h6v7h-6zM904 218h6v7h-6zM879 225h6v6h-6zM892 225h18v6h-18zM879 231h6v6h-6zM892 231h18v6h-18zM904 237h6v7h-6zM910 244h26v6h-26zM917 250h12v6h-12zM942 250h6v6h-6zM917 256h19v7h-19zM942 256h6v7h-6zM917 269h12v6h-12z"/>
<path fill="#ff7000" d="M904 206h6v6h-6zM898 212h6v6h-6zM879 218h6v7h-6zM898 218h6v7h-6zM879 237h6v7h-6zM892 237h12v7h-12zM942 244h6v6h-6zM910 250h7v6h-7zM929 250h13v6h-13zM910 256h7v7h-7zM910 269h7v6h-7zM929 269h7v6h-7z"/>
<path fill="#ff8800" d="M828 212h7v6h-7zM828 237h7v7h-7zM910 319h7v7h-7zM936 319h6v7h-6z"/>
<path fill="#ff4c00" d="M854 212h6v6h-6zM854 218h6v7h-6zM854 237h6v7h-6zM910 294h7v6h-7zM929 294h13v6h-13z"/>
<path fill="#ffa000" d="M765 218h7v7h-7zM765 225h7v6h-7zM772 231h6v6h-6zM822 263h6v6h-6zM885 326h7v6h-7zM917 376h6v7h-6zM923 383h13v6h-13z"/>
<path fill="#ff8000" d="M828 218h7v7h-7zM929 319h7v7h-7z"/>
<path fill="#ff4000" d="M847 218h7v7h-7zM841 225h6v6h-6zM835 231h12v6h-12zM860 231h6v6h-6zM847 237h7v7h-7zM917 288h6v6h-6zM910 300h7v7h-7zM929 300h7v7h-7zM917 307h12v6h-12zM917 313h6v6h-6z"/>
<path fill="#ffa400" d="M772 225h6v6h-6zM822 244h6v6h-6zM822 250h6v6h-6zM822 256h6v7h-6zM892 326h18v6h-18zM923 376h6v7h-6z"/>
<path fill="#ff9400" d="M778 225h6v6h-6zM822 275h6v7h-6zM822 288h6v6h-6zM822 313h6v6h-6zM835 326h6v6h-6zM860 326h6v6h-6zM873 326h6v6h-6zM923 370h6v6h-6z"/>
<path fill="#ff3c00" d="M847 225h7v6h-7zM828 250h7v6h-7zM828 269h7v6h-7zM923 300h6v7h-6zM822 319h6v7h-6zM879 319h6v7h-6zM898 319h6v7h-6zM828 326h7v6h-7z"/>
<path fill="#ff9800" d="M778 231h6v6h-6zM822 282h6v6h-6zM822 294h6v6h-6zM854 326h6v6h-6zM866 326h7v6h-7zM917 370h6v6h-6z"/>
<path fill="#ff7c00" d="M828 231h7v6h-7zM917 319h6v7h-6z"/>
<path fill="#fffc40" d="M765 244h7v6h-7zM772 256h6v7h-6zM803 275h13v7h-13zM816 288h6v6h-6zM772 294h6v6h-6zM860 332h6v6h-6zM873 338h6v7h-6zM873 345h6v6h-6zM854 376h6v7h-6zM892 376h6v7h-6zM904 383h6v6h-6z"/>
<path fill="#fffc58" d="M772 244h6v6h-6zM816 250h6v6h-6zM803 263h6v6h-6zM803 288h6v6h-6zM797 300h6v7h-6zM898 332h6v6h-6zM860 345h6v6h-6zM885 345h7v6h-7zM847 351h7v6h-7zM904 376h6v7h-6z"/>
<path fill="#fffc98" d="M784 244h13v6h-13zM784 250h7v6h-7zM784 269h7v6h-7zM784 294h13v6h-13zM809 319h7v7h-7zM828 338h7v7h-7zM854 357h6v7h-6zM904 357h6v7h-6zM854 364h6v6h-6zM879 364h6v6h-6zM898 364h12v6h-12z"/>
<path fill="#fffc78" d="M797 244h6v6h-6zM797 250h6v6h-6zM803 269h13v6h-13zM797 294h6v6h-6zM784 307h7v6h-7zM791 313h6v6h-6zM772 319h6v7h-6zM879 338h6v7h-6zM879 345h6v6h-6zM854 351h6v6h-6zM898 351h12v6h-12zM835 357h6v7h-6zM841 364h6v6h-6zM828 376h7v7h-7z"/>
<path fill="#fffc70" d="M803 244h6v6h-6zM809 250h7v6h-7zM797 256h12v7h-12zM784 275h7v7h-7zM784 282h13v6h-13zM784 300h7v7h-7zM898 338h6v7h-6zM892 345h6v6h-6zM904 345h6v6h-6zM892 351h6v6h-6zM866 357h7v7h-7zM847 364h7v6h-7zM866 364h13v6h-13z"/>
<path fill="#fffc68" d="M809 244h7v6h-7zM809 256h7v7h-7zM797 288h6v6h-6zM791 300h6v7h-6zM797 307h6v6h-6zM765 319h7v7h-7zM892 338h6v7h-6zM904 338h6v7h-6zM841 351h6v6h-6zM860 351h6v6h-6zM847 357h7v7h-7zM828 383h7v6h-7z"/>
<path fill="#fffc60" d="M816 244h6v6h-6zM803 250h6v6h-6zM816 256h6v7h-6zM797 263h6v6h-6zM816 269h6v6h-6zM791 275h6v7h-6zM797 282h6v6h-6zM803 294h13v6h-13zM797 313h6v6h-6zM879 332h6v6h-6zM892 332h6v6h-6zM904 332h6v6h-6zM854 338h6v7h-6zM854 345h6v6h-6zM898 345h6v6h-6zM835 351h6v6h-6zM866 351h7v6h-7zM885 351h7v6h-7zM873 357h6v7h-6z"/>
<path fill="#fffc38" d="M765 250h7v6h-7zM765 294h7v6h-7zM816 300h6v7h-6zM816 307h6v6h-6zM816 313h6v6h-6zM835 332h19v6h-19zM854 383h6v6h-6zM898 383h6v6h-6z"/>
<path fill="#fffc48" d="M772 250h6v6h-6zM765 256h7v7h-7zM816 263h6v6h-6zM765 269h7v6h-7zM797 275h6v7h-6zM803 282h6v6h-6zM816 282h6v6h-6zM809 288h7v6h-7zM816 294h6v6h-6zM803 300h6v7h-6zM809 307h7v6h-7zM809 313h7v6h-7zM854 332h6v6h-6zM866 332h7v6h-7zM885 332h7v6h-7zM835 338h12v7h-12zM860 338h6v7h-6zM847 345h7v6h-7zM866 345h7v6h-7zM873 351h6v6h-6zM898 376h6v7h-6zM879 383h6v6h-6zM892 383h6v6h-6z"/>
<path fill="#fffc90" d="M791 250h6v6h-6zM784 256h13v7h-13zM816 319h6v7h-6zM778 326h6v6h-6zM828 332h7v6h-7zM892 357h12v7h-12zM892 364h6v6h-6zM822 370h6v6h-6z"/>
<path fill="#fffc80" d="M784 263h13v6h-13zM797 269h6v6h-6zM791 288h6v6h-6zM791 307h6v6h-6zM784 313h7v6h-7zM879 351h6v6h-6zM841 357h6v7h-6zM860 357h6v7h-6zM885 357h7v7h-7zM835 364h6v6h-6zM885 364h7v6h-7z"/>
<path fill="#fffc50" d="M809 263h7v6h-7zM772 269h6v6h-6zM809 282h7v6h-7zM803 307h6v6h-6zM803 313h6v6h-6zM778 319h6v7h-6zM866 338h7v7h-7zM885 338h7v7h-7zM835 345h12v6h-12zM828 370h7v6h-7zM879 376h6v7h-6z"/>
<path fill="#fffca0" d="M791 269h6v6h-6zM879 357h6v7h-6z"/>
<path fill="#fffc10" d="M765 275h7v7h-7zM778 294h6v6h-6zM854 370h6v6h-6zM873 383h6v6h-6z"/>
<path fill="#fffc88" d="M784 288h7v6h-7zM860 364h6v6h-6z"/>
<path fill="#ff8c00" d="M822 300h6v7h-6zM847 326h7v6h-7z"/>
<path fill="#ff9000" d="M822 307h6v6h-6zM841 326h6v6h-6z"/>
<path fill="#fffcd0" d="M784 319h13v7h-13zM797 326h12v6h-12zM822 345h6v6h-6zM822 351h6v6h-6zM828 357h7v7h-7zM828 364h7v6h-7z"/>
<path fill="#fffcb8" d="M797 319h6v7h-6zM765 326h7v6h-7zM828 351h7v6h-7zM822 383h6v6h-6z"/>
<path fill="#fffca8" d="M803 319h6v7h-6zM828 345h7v6h-7z"/>
<path fill="#fffcc0" d="M772 326h6v6h-6zM816 326h6v6h-6zM822 332h6v6h-6zM822 376h6v7h-6z"/>
<path fill="#fffce8" d="M784 326h7v6h-7zM822 364h6v6h-6z"/>
<path fill="#fffce0" d="M791 326h6v6h-6zM822 357h6v7h-6z"/>
<path fill="#fffcd8" d="M809 326h7v6h-7zM822 338h6v7h-6z"/>
</g>
<path fill="none" stroke="#111" stroke-width="1.1" d="M774.8 131.9V129.3H781.1V131.9M768.5 131.9V126.8H777.9V129.3M793.7 131.9V129.6H800.0V131.9M787.4 131.9V127.6H796.9V129.6M812.6 131.9V129.6H819.0V131.9M806.3 131.9V127.6H815.8V129.6M792.1 127.6V121.7H811.1V127.6M773.2 126.8V113.3H801.6V121.7M837.9 131.9V129.7H844.2V131.9M856.8 131.9V130.4H863.1V131.9M850.5 131.9V129.4H860.0V130.4M841.0 129.7V127.3H855.3V129.4M875.8 131.9V130.0H882.1V131.9M901.0 131.9V130.5H907.3V131.9M894.7 131.9V129.8H904.2V130.5M888.4 131.9V129.0H899.4V129.8M878.9 130.0V128.3H893.9V129.0M869.5 131.9V122.5H886.4V128.3M848.2 127.3V118.1H877.9V122.5M831.6 131.9V107.1H863.0V118.1M913.6 131.9V128.7H920.0V131.9M938.9 131.9V130.2H945.2V131.9M932.6 131.9V128.8H942.0V130.2M926.3 131.9V126.5H937.3V128.8M916.8 128.7V120.5H931.8V126.5M951.5 131.9V127.3H957.8V131.9M964.1 131.9V127.9H970.5V131.9M954.7 127.3V125.6H967.3V127.9M989.4 131.9V130.3H995.7V131.9M1008.3 131.9V130.4H1014.6V131.9M1002.0 131.9V129.4H1011.5V130.4M992.5 130.3V128.6H1006.8V129.4M983.1 131.9V127.9H999.7V128.6M976.8 131.9V124.5H991.4V127.9M961.0 125.6V115.8H984.1V124.5M924.3 120.5V102.2H972.5V115.8M847.3 107.1V87.3H948.4V102.2M825.3 131.9V69.3H897.9V87.3M787.4 113.3V26.8H861.6V69.3"/>
<path fill="none" stroke="#111" stroke-width="1.1" d="M761.3 379.4H758.7V373.1H761.3M761.3 385.7H756.2V376.3H758.7M761.3 360.5H759.0V354.2H761.3M761.3 366.8H757.0V357.3H759.0M761.3 341.5H759.0V335.2H761.3M761.3 347.8H757.0V338.4H759.0M757.0 362.1H751.1V343.1H757.0M756.2 381.0H742.8V352.6H751.1M761.3 316.2H759.1V309.9H761.3M761.3 297.3H759.8V291.0H761.3M761.3 303.6H758.8V294.1H759.8M759.1 313.1H756.7V298.9H758.8M761.3 278.3H759.4V272.0H761.3M761.3 253.1H759.9V246.8H761.3M761.3 259.4H759.2V249.9H759.9M761.3 265.7H758.4V254.7H759.2M759.4 275.2H757.7V260.2H758.4M761.3 284.7H751.9V267.7H757.7M756.7 306.0H747.5V276.2H751.9M761.3 322.6H736.6V291.1H747.5M761.3 240.4H758.1V234.1H761.3M761.3 215.2H759.6V208.9H761.3M761.3 221.5H758.2V212.0H759.6M761.3 227.8H755.9V216.7H758.2M758.1 237.3H749.9V222.3H755.9M761.3 202.5H756.7V196.2H761.3M761.3 189.9H757.3V183.6H761.3M756.7 199.4H755.0V186.7H757.3M761.3 164.6H759.7V158.3H761.3M761.3 145.7H759.8V139.4H761.3M761.3 152.0H758.8V142.5H759.8M759.7 161.5H758.0V147.3H758.8M761.3 170.9H757.3V154.4H758.0M761.3 177.3H753.9V162.7H757.3M755.0 193.1H745.2V170.0H753.9M749.9 229.8H731.7V181.5H745.2M736.6 306.8H716.8V205.6H731.7M761.3 328.9H698.9V256.2H716.8M742.8 366.8H656.5V292.6H698.9"/>
<rect x="688.0" y="40.5" width="68.6" height="51.0" fill="url(#key)"/>
<path fill="none" stroke="#00ffff" stroke-width="1.2" stroke-linejoin="miter" d="M687.1 91.5V91.5H687.4V88.8H687.8V90.0H688.2V89.4H688.6V89.8H689.0V87.5H689.4V90.9H689.9V89.8H690.3V87.3H690.7V87.3H691.1V86.9H691.5V88.3H691.9V88.2H692.3V89.9H692.7V85.8H693.1V88.9H693.5V88.1H694.0V89.1H694.4V88.6H694.8V85.4H695.2V88.9H695.6V82.2H696.0V85.6H696.4V80.7H696.8V81.1H697.2V79.5H697.6V81.3H698.0V81.5H698.5V82.3H698.9V89.7H699.3V87.5H699.7V83.6H700.1V88.9H700.5V79.3H700.9V88.3H701.3V85.4H701.7V88.0H702.1V80.2H702.5V88.0H703.0V79.7H703.4V88.1H703.8V84.6H704.2V87.5H704.6V82.5H705.0V86.2H705.4V87.0H705.8V83.5H706.2V82.7H706.6V88.8H707.1V88.7H707.5V89.9H707.9V86.6H708.3V83.9H708.7V87.4H709.1V88.5H709.5V88.8H709.9V90.0H710.3V85.2H710.7V87.0H711.1V85.4H711.6V88.7H712.0V85.3H712.4V90.1H712.8V89.3H713.2V86.6H713.6V89.2H714.0V90.6H714.4V85.8H714.8V86.0H715.2V87.0H715.7V89.2H716.1V89.7H716.5V88.2H716.9V89.2H717.3V90.6H717.7V90.3H718.1V88.3H718.5V90.0H718.9V88.9H719.3V89.6H719.7V89.4H720.2V89.0H720.6V89.9H721.0V89.1H721.4V88.6H721.8V90.0H722.2V91.0H722.6V89.7H723.0V90.9H723.4V89.8H723.8V89.0H724.3V90.4H724.7V89.9H725.1V90.1H725.5V90.8H725.9V90.7H726.3V88.6H726.7V89.9H727.1V91.0H727.5V89.6H727.9V89.7H728.3V89.8H728.8V90.8H729.2V88.4H729.6V89.2H730.0V90.6H730.4V89.3H730.8V90.4H731.2V90.0H731.6V90.4H732.0V90.6H732.4V89.7H732.9V89.8H733.3V88.4H733.7V89.1H734.1V88.9H734.5V90.5H734.9V90.0H735.3V88.6H735.7V90.0H736.1V89.3H736.5V90.1H736.9V89.3H737.4V90.2H737.8V88.5H738.2V90.9H738.6V90.5H739.0V88.6H739.4V89.1H739.8V90.1H740.2V90.0H740.6V88.1H741.0V87.4H741.4V86.0H741.9V88.5H742.3V88.1H742.7V90.3H743.1V85.7H743.5V83.5H743.9V85.1H744.3V89.6H744.7V89.2H745.1V82.0H745.5V82.1H746.0V89.8H746.4V87.1H746.8V89.7H747.2V85.4H747.6V89.9H748.0V82.3H748.4V85.3H748.8V86.0H749.2V82.9H749.6V81.3H750.0V87.6H750.5V80.1H750.9V77.0H751.3V82.3H751.7V84.4H752.1V85.5H752.5V86.0H752.9V79.0H753.3V77.2H753.7V74.9H754.1V71.8H754.6V67.6H755.0V62.1H755.4V54.6H755.8V44.7H756.2V41.6H756.6"/>
<g stroke="#222" stroke-width="1.1" fill="none"><path d="M689.6 91.5H756.3"/><path d="M689.6 91.5v4.5"/><path d="M706.3 91.5v4.5"/><path d="M722.9 91.5v4.5"/><path d="M739.6 91.5v4.5"/><path d="M756.3 91.5v4.5"/><path d="M688.0 91.5V43.2"/><path d="M688.0 91.5h-4.6"/><path d="M688.0 83.5h-4.6"/><path d="M688.0 75.4h-4.6"/><path d="M688.0 67.3h-4.6"/><path d="M688.0 59.3h-4.6"/><path d="M688.0 51.2h-4.6"/><path d="M688.0 43.2h-4.6"/></g>
<text x="689.6" y="108" font-size="7" text-anchor="middle">0.2</text><text x="706.3" y="108" font-size="7" text-anchor="middle">0.4</text><text x="722.9" y="108" font-size="7" text-anchor="middle">0.6</text><text x="739.6" y="108" font-size="7" text-anchor="middle">0.8</text><text x="756.3" y="108" font-size="7" text-anchor="middle">1</text><text transform="translate(677 91.5) rotate(-90)" font-size="7" text-anchor="middle">0</text><text transform="translate(677 75.4) rotate(-90)" font-size="7" text-anchor="middle">20</text><text transform="translate(677 59.3) rotate(-90)" font-size="7" text-anchor="middle">40</text><text transform="translate(677 43.2) rotate(-90)" font-size="7" text-anchor="middle">60</text><text x="721.8" y="116.8" font-size="9.4" text-anchor="middle">Value</text><text transform="translate(668.4 66) rotate(-90)" font-size="9.6" text-anchor="middle">Count</text>
<text x="721.8" y="30" font-size="9" font-weight="bold" text-anchor="middle" fill="#000">Color Key</text><text x="721.8" y="40.3" font-size="9" font-weight="bold" text-anchor="middle" fill="#000">and Histogram</text>
</svg>
</body></html>
